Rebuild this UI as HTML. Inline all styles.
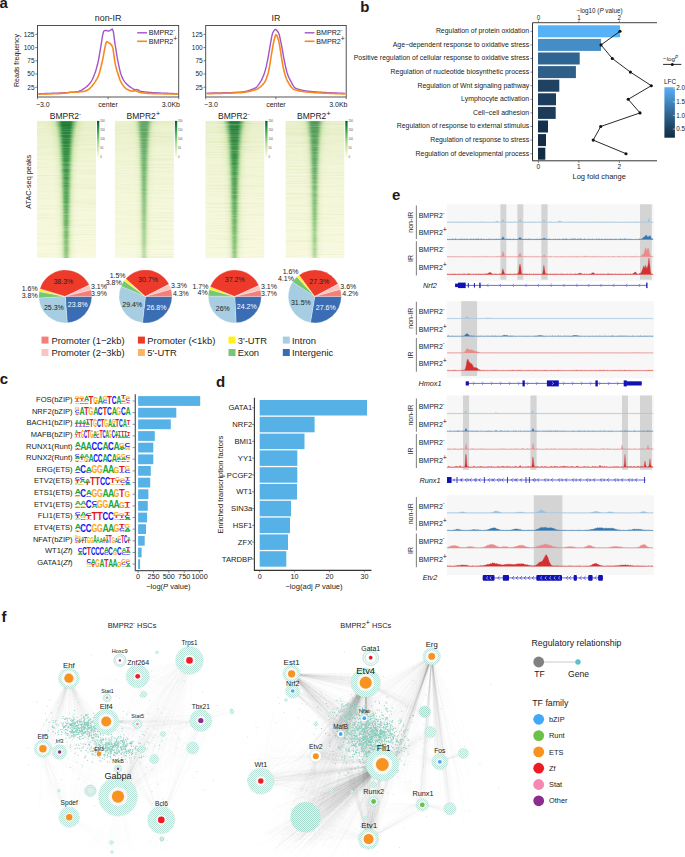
<!DOCTYPE html>
<html><head><meta charset="utf-8"><style>
html,body{margin:0;padding:0;background:#fff;}
body{width:685px;height:857px;overflow:hidden;}
svg{display:block;}
text{font-family:"Liberation Sans",sans-serif;}
</style></head><body>
<svg width="685" height="857" viewBox="0 0 685 857">
<defs><linearGradient id="hmbg" x1="0" y1="0" x2="0" y2="1">
<stop offset="0" stop-color="#e8efc8"/><stop offset="0.3" stop-color="#f1f5d4"/><stop offset="1" stop-color="#f8f9dd"/></linearGradient>
<linearGradient id="hmcore" x1="0" y1="0" x2="0" y2="1">
<stop offset="0" stop-color="#13702c"/><stop offset="0.25" stop-color="#27863b"/><stop offset="0.6" stop-color="#46a04c"/><stop offset="1" stop-color="#80c073"/></linearGradient>
<linearGradient id="hmmid" x1="0" y1="0" x2="0" y2="1">
<stop offset="0" stop-color="#4ea552"/><stop offset="0.5" stop-color="#7dbf6e"/><stop offset="1" stop-color="#b2d892"/></linearGradient>
<filter id="streaks" x="0" y="0" width="100%" height="100%"><feTurbulence type="fractalNoise" baseFrequency="0.02 1.3" numOctaves="1" seed="4"/><feColorMatrix values="0 0 0 0 1  0 0 0 0 1  0 0 0 0 0.95  2.6 0 0 0 -1.1"/></filter>
<filter id="streaksd" x="0" y="0" width="100%" height="100%"><feTurbulence type="fractalNoise" baseFrequency="0.015 1.1" numOctaves="1" seed="9"/><feColorMatrix values="0 0 0 0 0.3  0 0 0 0 0.5  0 0 0 0 0.2  3.0 0 0 0 -1.5"/></filter>
<linearGradient id="cbar" x1="0" y1="0" x2="0" y2="1">
<stop offset="0" stop-color="#005a2a"/><stop offset="0.3" stop-color="#41ab5d"/><stop offset="0.6" stop-color="#addd8e"/><stop offset="1" stop-color="#ffffe5"/></linearGradient>
<filter id="blur3" x="-50%" y="-5%" width="200%" height="110%"><feGaussianBlur stdDeviation="2.6 0.5"/></filter>
<filter id="blur2" x="-50%" y="-5%" width="200%" height="110%"><feGaussianBlur stdDeviation="1.6 0.5"/></filter>
<filter id="blur1" x="-50%" y="-5%" width="200%" height="110%"><feGaussianBlur stdDeviation="1.1 0.4"/></filter><linearGradient id="lfcg" x1="0" y1="0" x2="0" y2="1"><stop offset="0.0" stop-color="#56b1f7"/><stop offset="0.1" stop-color="#4fa2e3"/><stop offset="0.2" stop-color="#4894d0"/><stop offset="0.3" stop-color="#4186bd"/><stop offset="0.4" stop-color="#3a78aa"/><stop offset="0.5" stop-color="#336a98"/><stop offset="0.6" stop-color="#2c5d86"/><stop offset="0.7" stop-color="#265075"/><stop offset="0.8" stop-color="#1f4364"/><stop offset="0.9" stop-color="#193753"/><stop offset="1.0" stop-color="#132b43"/></linearGradient><pattern id="hatch" width="2" height="2" patternUnits="userSpaceOnUse"><rect width="2" height="2" fill="#f0f9f7"/><rect width="1" height="1" fill="#b9e3d8"/><rect x="1" y="1" width="1" height="1" fill="#b9e3d8"/></pattern>
<pattern id="hatch2" width="2" height="2" patternUnits="userSpaceOnUse"><rect width="2" height="2" fill="#e2f4ef"/><rect width="1" height="1" fill="#a6dbcd"/><rect x="1" y="1" width="1" height="1" fill="#a6dbcd"/></pattern></defs>
<text x="-0.6" y="7.9" font-size="15" font-weight="bold" fill="#231815">a</text>
<text x="108.1" y="21.2" font-size="8.9" text-anchor="middle" fill="#222" >non-IR</text>
<polyline points="38.5,93.7 39.2,93.7 39.9,93.7 40.6,93.7 41.3,93.6 42.0,93.6 42.7,93.6 43.4,93.6 44.1,93.6 44.8,93.5 45.5,93.5 46.2,93.5 46.9,93.5 47.5,93.5 48.2,93.4 48.9,93.4 49.6,93.4 50.3,93.4 51.0,93.4 51.7,93.3 52.4,93.3 53.1,93.3 53.8,93.3 54.5,93.2 55.2,93.2 55.9,93.2 56.6,93.2 57.3,93.1 58.0,93.1 58.7,93.1 59.4,93.0 60.1,93.0 60.8,93.0 61.5,92.9 62.2,92.9 62.9,92.9 63.6,92.8 64.3,92.8 64.9,92.8 65.6,92.7 66.3,92.7 67.0,92.6 67.7,92.6 68.4,92.5 69.1,92.5 69.8,92.4 70.5,92.4 71.2,92.3 71.9,92.3 72.6,92.2 73.3,92.2 74.0,92.1 74.7,92.0 75.4,91.9 76.1,91.9 76.8,91.8 77.5,91.6 78.2,91.5 78.9,91.3 79.6,91.0 80.3,90.7 81.0,90.4 81.7,90.0 82.3,89.6 83.0,89.2 83.7,88.7 84.4,88.3 85.1,87.8 85.8,87.3 86.5,86.7 87.2,86.1 87.9,85.5 88.6,84.8 89.3,84.0 90.0,83.1 90.7,82.2 91.4,81.1 92.1,79.8 92.8,78.4 93.5,76.8 94.2,75.1 94.9,73.3 95.6,71.2 96.3,68.9 97.0,66.3 97.7,63.5 98.4,60.4 99.1,57.0 99.7,53.2 100.4,49.2 101.1,44.8 101.8,40.5 102.5,35.9 103.2,32.8 103.9,31.0 104.6,30.6 105.3,30.5 106.0,30.4 106.7,30.5 107.4,30.8 108.1,31.1 108.8,31.0 109.5,30.7 110.2,30.3 110.9,30.0 111.6,29.4 112.3,29.1 113.0,30.4 113.7,33.7 114.4,39.4 115.1,44.4 115.8,48.6 116.5,52.8 117.1,56.9 117.8,60.6 118.5,64.1 119.2,67.3 119.9,70.5 120.6,73.2 121.3,75.2 122.0,76.9 122.7,78.4 123.4,79.8 124.1,80.9 124.8,81.9 125.5,82.8 126.2,83.6 126.9,84.3 127.6,84.9 128.3,85.5 129.0,86.1 129.7,86.6 130.4,87.1 131.1,87.6 131.8,88.0 132.5,88.5 133.2,88.9 133.9,89.3 134.5,89.5 135.2,89.6 135.9,89.6 136.6,89.5 137.3,89.6 138.0,89.9 138.7,90.4 139.4,90.9 140.1,91.1 140.8,91.3 141.5,91.4 142.2,91.6 142.9,91.7 143.6,91.8 144.3,91.9 145.0,92.0 145.7,92.0 146.4,92.1 147.1,92.2 147.8,92.2 148.5,92.3 149.2,92.4 149.9,92.4 150.6,92.5 151.3,92.5 151.9,92.6 152.6,92.6 153.3,92.7 154.0,92.7 154.7,92.7 155.4,92.8 156.1,92.8 156.8,92.9 157.5,92.9 158.2,92.9 158.9,93.0 159.6,93.0 160.3,93.0 161.0,93.1 161.7,93.1 162.4,93.1 163.1,93.1 163.8,93.2 164.5,93.2 165.2,93.2 165.9,93.3 166.6,93.3 167.3,93.3 168.0,93.3 168.7,93.4 169.3,93.4 170.0,93.4 170.7,93.4 171.4,93.5 172.1,93.5 172.8,93.5 173.5,93.5 174.2,93.6 174.9,93.6 175.6,93.6 176.3,93.7 177.0,93.7 177.7,93.7" fill="none" stroke="#a155c8" stroke-width="1.4"/>
<polyline points="38.5,94.1 39.2,94.1 39.9,94.1 40.6,94.1 41.3,94.0 42.0,94.0 42.7,94.0 43.4,94.0 44.1,94.0 44.8,94.0 45.5,94.0 46.2,94.0 46.9,93.9 47.5,93.9 48.2,93.9 48.9,93.9 49.6,93.9 50.3,93.9 51.0,93.9 51.7,93.8 52.4,93.8 53.1,93.8 53.8,93.8 54.5,93.8 55.2,93.7 55.9,93.7 56.6,93.7 57.3,93.7 58.0,93.6 58.7,93.6 59.4,93.6 60.1,93.5 60.8,93.5 61.5,93.4 62.2,93.4 62.9,93.3 63.6,93.3 64.3,93.2 64.9,93.2 65.6,93.1 66.3,93.0 67.0,92.9 67.7,92.8 68.4,92.7 69.1,92.5 69.8,92.3 70.5,92.2 71.2,92.2 71.9,92.2 72.6,92.2 73.3,92.2 74.0,92.2 74.7,92.2 75.4,92.2 76.1,92.1 76.8,92.1 77.5,92.1 78.2,92.0 78.9,92.0 79.6,91.9 80.3,91.8 81.0,91.8 81.7,91.7 82.3,91.6 83.0,91.5 83.7,91.3 84.4,91.2 85.1,91.1 85.8,90.9 86.5,90.6 87.2,90.2 87.9,89.8 88.6,89.4 89.3,88.8 90.0,88.2 90.7,87.5 91.4,86.7 92.1,85.9 92.8,85.0 93.5,84.1 94.2,83.1 94.9,82.1 95.6,81.0 96.3,79.9 97.0,78.7 97.7,77.4 98.4,75.8 99.1,74.1 99.7,72.0 100.4,69.3 101.1,66.4 101.8,63.5 102.5,60.4 103.2,57.1 103.9,53.1 104.6,49.4 105.3,46.0 106.0,43.0 106.7,41.7 107.4,41.9 108.1,42.3 108.8,42.8 109.5,43.2 110.2,43.7 110.9,44.3 111.6,45.2 112.3,46.5 113.0,48.6 113.7,53.6 114.4,58.8 115.1,63.0 115.8,66.4 116.5,69.0 117.1,71.2 117.8,73.2 118.5,75.4 119.2,77.6 119.9,79.7 120.6,81.5 121.3,82.7 122.0,83.9 122.7,84.9 123.4,85.9 124.1,86.8 124.8,87.5 125.5,88.2 126.2,88.8 126.9,89.3 127.6,89.6 128.3,89.9 129.0,90.2 129.7,90.5 130.4,90.7 131.1,90.9 131.8,91.0 132.5,91.1 133.2,91.1 133.9,90.9 134.5,90.6 135.2,90.6 135.9,90.9 136.6,91.2 137.3,91.5 138.0,91.8 138.7,92.1 139.4,92.3 140.1,92.4 140.8,92.6 141.5,92.7 142.2,92.8 142.9,92.9 143.6,93.0 144.3,93.0 145.0,93.1 145.7,93.2 146.4,93.3 147.1,93.3 147.8,93.4 148.5,93.4 149.2,93.4 149.9,93.5 150.6,93.5 151.3,93.5 151.9,93.6 152.6,93.6 153.3,93.6 154.0,93.6 154.7,93.6 155.4,93.7 156.1,93.7 156.8,93.7 157.5,93.7 158.2,93.7 158.9,93.8 159.6,93.8 160.3,93.8 161.0,93.8 161.7,93.8 162.4,93.8 163.1,93.8 163.8,93.9 164.5,93.9 165.2,93.9 165.9,93.9 166.6,93.9 167.3,93.9 168.0,93.9 168.7,93.9 169.3,94.0 170.0,94.0 170.7,94.0 171.4,94.0 172.1,94.0 172.8,94.0 173.5,94.0 174.2,94.0 174.9,94.0 175.6,94.1 176.3,94.1 177.0,94.1 177.7,94.1" fill="none" stroke="#f7891e" stroke-width="1.6"/>
<rect x="37.5" y="25.5" width="141.2" height="71.5" fill="none" stroke="#404040" stroke-width="0.9"/>
<line x1="35.3" y1="34.4" x2="37.5" y2="34.4" stroke="#404040" stroke-width="0.7"/>
<text x="34.5" y="36.7" font-size="6.5" text-anchor="end" fill="#222" >125</text>
<line x1="35.3" y1="47.6" x2="37.5" y2="47.6" stroke="#404040" stroke-width="0.7"/>
<text x="34.5" y="49.9" font-size="6.5" text-anchor="end" fill="#222" >100</text>
<line x1="35.3" y1="60.8" x2="37.5" y2="60.8" stroke="#404040" stroke-width="0.7"/>
<text x="34.5" y="63.1" font-size="6.5" text-anchor="end" fill="#222" >75</text>
<line x1="35.3" y1="74.0" x2="37.5" y2="74.0" stroke="#404040" stroke-width="0.7"/>
<text x="34.5" y="76.3" font-size="6.5" text-anchor="end" fill="#222" >50</text>
<line x1="35.3" y1="87.2" x2="37.5" y2="87.2" stroke="#404040" stroke-width="0.7"/>
<text x="34.5" y="89.5" font-size="6.5" text-anchor="end" fill="#222" >25</text>
<line x1="37.5" y1="97" x2="37.5" y2="99.3" stroke="#404040" stroke-width="0.7"/>
<line x1="108.1" y1="97" x2="108.1" y2="99.3" stroke="#404040" stroke-width="0.7"/>
<line x1="178.7" y1="97" x2="178.7" y2="99.3" stroke="#404040" stroke-width="0.7"/>
<text x="35.9" y="106.6" font-size="7.0" text-anchor="start" fill="#222" >−3.0</text>
<text x="108.1" y="106.6" font-size="7.0" text-anchor="middle" fill="#222" >center</text>
<text x="180.0" y="106.6" font-size="7.0" text-anchor="end" fill="#222" >3.0Kb</text>
<line x1="137.2" y1="32.8" x2="147.0" y2="32.8" stroke="#a155c8" stroke-width="1.4"/>
<line x1="137.2" y1="41.3" x2="147.0" y2="41.3" stroke="#f7891e" stroke-width="1.6"/>
<text x="148.8" y="35.3" font-size="7.1" text-anchor="start" fill="#222" >BMPR2<tspan font-size="5.6" dy="-3">-</tspan></text>
<text x="148.8" y="43.8" font-size="7.1" text-anchor="start" fill="#222" >BMPR2<tspan font-size="6.8" dy="-2.8">+</tspan></text>
<text x="275.9" y="21.2" font-size="8.9" text-anchor="middle" fill="#222" >IR</text>
<polyline points="206.7,93.2 207.4,93.2 208.1,93.2 208.8,93.1 209.5,93.1 210.2,93.1 210.9,93.1 211.5,93.1 212.2,93.1 212.9,93.0 213.6,93.0 214.3,93.0 215.0,93.0 215.7,93.0 216.4,93.0 217.1,93.0 217.8,92.9 218.5,92.9 219.2,92.9 219.9,92.9 220.5,92.9 221.2,92.9 221.9,92.9 222.6,92.8 223.3,92.8 224.0,92.8 224.7,92.8 225.4,92.8 226.1,92.8 226.8,92.7 227.5,92.7 228.2,92.7 228.9,92.7 229.6,92.7 230.2,92.6 230.9,92.6 231.6,92.6 232.3,92.6 233.0,92.5 233.7,92.5 234.4,92.5 235.1,92.4 235.8,92.4 236.5,92.4 237.2,92.3 237.9,92.3 238.6,92.3 239.2,92.2 239.9,92.2 240.6,92.1 241.3,92.1 242.0,92.0 242.7,91.9 243.4,91.8 244.1,91.7 244.8,91.6 245.5,91.4 246.2,91.3 246.9,91.1 247.6,90.9 248.2,90.7 248.9,90.5 249.6,90.3 250.3,90.0 251.0,89.8 251.7,89.5 252.4,89.2 253.1,89.0 253.8,88.7 254.5,88.3 255.2,88.0 255.9,87.6 256.6,87.1 257.3,86.4 257.9,85.6 258.6,84.6 259.3,83.7 260.0,82.6 260.7,81.5 261.4,80.3 262.1,78.9 262.8,77.3 263.5,75.6 264.2,73.8 264.9,71.6 265.6,69.1 266.3,66.4 266.9,63.4 267.6,60.1 268.3,56.4 269.0,52.3 269.7,48.2 270.4,44.1 271.1,40.2 271.8,36.4 272.5,33.5 273.2,32.0 273.9,30.8 274.6,29.9 275.3,29.5 275.9,29.6 276.6,30.1 277.3,31.0 278.0,32.0 278.7,33.2 279.4,35.3 280.1,38.5 280.8,41.8 281.5,45.2 282.2,48.8 282.9,52.9 283.6,57.0 284.3,60.6 285.0,63.8 285.6,66.8 286.3,69.8 287.0,72.5 287.7,74.6 288.4,76.4 289.1,78.0 289.8,79.4 290.5,80.7 291.2,82.0 291.9,83.3 292.6,84.6 293.3,85.9 294.0,86.9 294.6,87.7 295.3,88.0 296.0,88.3 296.7,88.6 297.4,88.9 298.1,89.1 298.8,89.3 299.5,89.5 300.2,89.7 300.9,89.9 301.6,90.1 302.3,90.2 303.0,90.4 303.6,90.5 304.3,90.6 305.0,90.8 305.7,90.9 306.4,91.0 307.1,91.1 307.8,91.1 308.5,91.2 309.2,91.3 309.9,91.4 310.6,91.4 311.3,91.5 312.0,91.6 312.7,91.6 313.3,91.7 314.0,91.8 314.7,91.8 315.4,91.9 316.1,91.9 316.8,92.0 317.5,92.0 318.2,92.1 318.9,92.1 319.6,92.2 320.3,92.2 321.0,92.3 321.7,92.3 322.3,92.4 323.0,92.4 323.7,92.4 324.4,92.5 325.1,92.5 325.8,92.5 326.5,92.6 327.2,92.6 327.9,92.6 328.6,92.7 329.3,92.7 330.0,92.7 330.7,92.8 331.4,92.8 332.0,92.8 332.7,92.9 333.4,92.9 334.1,92.9 334.8,93.0 335.5,93.0 336.2,93.0 336.9,93.0 337.6,93.1 338.3,93.1 339.0,93.1 339.7,93.2 340.4,93.2 341.0,93.2 341.7,93.3 342.4,93.3 343.1,93.3 343.8,93.4 344.5,93.4 345.2,93.4" fill="none" stroke="#a155c8" stroke-width="1.4"/>
<polyline points="206.7,93.7 207.4,93.7 208.1,93.7 208.8,93.7 209.5,93.6 210.2,93.6 210.9,93.6 211.5,93.6 212.2,93.6 212.9,93.6 213.6,93.5 214.3,93.5 215.0,93.5 215.7,93.5 216.4,93.5 217.1,93.5 217.8,93.4 218.5,93.4 219.2,93.4 219.9,93.4 220.5,93.4 221.2,93.4 221.9,93.4 222.6,93.3 223.3,93.3 224.0,93.3 224.7,93.3 225.4,93.3 226.1,93.2 226.8,93.2 227.5,93.2 228.2,93.2 228.9,93.2 229.6,93.1 230.2,93.1 230.9,93.1 231.6,93.1 232.3,93.0 233.0,93.0 233.7,93.0 234.4,93.0 235.1,92.9 235.8,92.9 236.5,92.9 237.2,92.8 237.9,92.8 238.6,92.7 239.2,92.7 239.9,92.7 240.6,92.6 241.3,92.6 242.0,92.5 242.7,92.4 243.4,92.4 244.1,92.3 244.8,92.2 245.5,92.1 246.2,92.0 246.9,91.8 247.6,91.7 248.2,91.6 248.9,91.4 249.6,91.3 250.3,91.1 251.0,91.0 251.7,90.8 252.4,90.6 253.1,90.4 253.8,90.2 254.5,90.0 255.2,89.8 255.9,89.6 256.6,89.3 257.3,89.0 257.9,88.6 258.6,88.2 259.3,87.7 260.0,87.2 260.7,86.6 261.4,85.9 262.1,85.2 262.8,84.4 263.5,83.6 264.2,82.8 264.9,81.8 265.6,80.5 266.3,78.9 266.9,77.0 267.6,74.9 268.3,72.4 269.0,69.3 269.7,65.7 270.4,61.1 271.1,56.5 271.8,52.4 272.5,48.4 273.2,44.3 273.9,41.0 274.6,38.3 275.3,36.1 275.9,34.9 276.6,35.2 277.3,36.6 278.0,38.7 278.7,41.0 279.4,44.1 280.1,48.3 280.8,52.8 281.5,57.7 282.2,61.9 282.9,65.7 283.6,69.0 284.3,72.1 285.0,74.5 285.6,76.6 286.3,78.5 287.0,80.1 287.7,81.5 288.4,82.7 289.1,83.9 289.8,85.0 290.5,86.0 291.2,87.0 291.9,87.8 292.6,88.5 293.3,89.1 294.0,89.5 294.6,89.7 295.3,89.9 296.0,90.1 296.7,90.3 297.4,90.5 298.1,90.6 298.8,90.8 299.5,90.9 300.2,91.1 300.9,91.2 301.6,91.3 302.3,91.4 303.0,91.5 303.6,91.6 304.3,91.7 305.0,91.8 305.7,91.9 306.4,91.9 307.1,92.0 307.8,92.1 308.5,92.1 309.2,92.2 309.9,92.3 310.6,92.3 311.3,92.4 312.0,92.4 312.7,92.5 313.3,92.5 314.0,92.6 314.7,92.6 315.4,92.7 316.1,92.7 316.8,92.8 317.5,92.8 318.2,92.8 318.9,92.9 319.6,92.9 320.3,93.0 321.0,93.0 321.7,93.0 322.3,93.1 323.0,93.1 323.7,93.1 324.4,93.2 325.1,93.2 325.8,93.2 326.5,93.2 327.2,93.3 327.9,93.3 328.6,93.3 329.3,93.4 330.0,93.4 330.7,93.4 331.4,93.4 332.0,93.5 332.7,93.5 333.4,93.5 334.1,93.5 334.8,93.6 335.5,93.6 336.2,93.6 336.9,93.6 337.6,93.7 338.3,93.7 339.0,93.7 339.7,93.7 340.4,93.8 341.0,93.8 341.7,93.8 342.4,93.9 343.1,93.9 343.8,93.9 344.5,93.9 345.2,94.0" fill="none" stroke="#f7891e" stroke-width="1.6"/>
<rect x="205.7" y="25.5" width="140.5" height="71.5" fill="none" stroke="#404040" stroke-width="0.9"/>
<line x1="203.5" y1="34.4" x2="205.7" y2="34.4" stroke="#404040" stroke-width="0.7"/>
<text x="202.7" y="36.7" font-size="6.5" text-anchor="end" fill="#222" >125</text>
<line x1="203.5" y1="47.6" x2="205.7" y2="47.6" stroke="#404040" stroke-width="0.7"/>
<text x="202.7" y="49.9" font-size="6.5" text-anchor="end" fill="#222" >100</text>
<line x1="203.5" y1="60.8" x2="205.7" y2="60.8" stroke="#404040" stroke-width="0.7"/>
<text x="202.7" y="63.1" font-size="6.5" text-anchor="end" fill="#222" >75</text>
<line x1="203.5" y1="74.0" x2="205.7" y2="74.0" stroke="#404040" stroke-width="0.7"/>
<text x="202.7" y="76.3" font-size="6.5" text-anchor="end" fill="#222" >50</text>
<line x1="203.5" y1="87.2" x2="205.7" y2="87.2" stroke="#404040" stroke-width="0.7"/>
<text x="202.7" y="89.5" font-size="6.5" text-anchor="end" fill="#222" >25</text>
<line x1="205.7" y1="97" x2="205.7" y2="99.3" stroke="#404040" stroke-width="0.7"/>
<line x1="275.9" y1="97" x2="275.9" y2="99.3" stroke="#404040" stroke-width="0.7"/>
<line x1="346.2" y1="97" x2="346.2" y2="99.3" stroke="#404040" stroke-width="0.7"/>
<text x="204.1" y="106.6" font-size="7.0" text-anchor="start" fill="#222" >−3.0</text>
<text x="275.9" y="106.6" font-size="7.0" text-anchor="middle" fill="#222" >center</text>
<text x="347.5" y="106.6" font-size="7.0" text-anchor="end" fill="#222" >3.0Kb</text>
<line x1="304.7" y1="32.8" x2="314.5" y2="32.8" stroke="#a155c8" stroke-width="1.4"/>
<line x1="304.7" y1="41.3" x2="314.5" y2="41.3" stroke="#f7891e" stroke-width="1.6"/>
<text x="316.3" y="35.3" font-size="7.1" text-anchor="start" fill="#222" >BMPR2<tspan font-size="5.6" dy="-3">-</tspan></text>
<text x="316.3" y="43.8" font-size="7.1" text-anchor="start" fill="#222" >BMPR2<tspan font-size="6.8" dy="-2.8">+</tspan></text>
<text x="0.0" y="0.0" font-size="7.0" text-anchor="middle" fill="#222" transform="translate(19.3,60.5) rotate(-90)">Reads frequency</text>
<rect x="37.0" y="120.9" width="59.0" height="137.1" fill="url(#hmbg)"/>
<clipPath id="hc0"><rect x="37.0" y="120.9" width="59.0" height="137.1"/></clipPath>
<g clip-path="url(#hc0)">
<polygon points="49.1,118.9 51.2,124.8 52.8,130.7 54.1,136.5 55.1,142.4 55.9,148.3 56.6,154.2 57.2,160.1 57.6,165.9 58.0,171.8 58.3,177.7 58.6,183.6 58.9,189.4 59.2,195.3 59.4,201.2 59.6,207.1 59.8,213.0 60.0,218.8 60.2,224.7 60.4,230.6 60.6,236.5 60.8,242.4 61.0,248.2 61.2,254.1 61.4,260.0 71.0,260.0 71.2,254.1 71.4,248.2 71.6,242.4 71.8,236.5 72.0,230.6 72.2,224.7 72.4,218.8 72.6,213.0 72.8,207.1 73.0,201.2 73.2,195.3 73.5,189.4 73.8,183.6 74.1,177.7 74.4,171.8 74.8,165.9 75.2,160.1 75.8,154.2 76.5,148.3 77.3,142.4 78.3,136.5 79.6,130.7 81.2,124.8 83.3,118.9" fill="#c4e29c" opacity="0.50" filter="url(#blur3)"/>
<polygon points="55.6,118.9 57.0,124.8 58.1,130.7 58.9,136.5 59.6,142.4 60.1,148.3 60.6,154.2 60.9,160.1 61.2,165.9 61.5,171.8 61.7,177.7 61.9,183.6 62.1,189.4 62.3,195.3 62.4,201.2 62.6,207.1 62.7,213.0 62.8,218.8 63.0,224.7 63.1,230.6 63.2,236.5 63.3,242.4 63.5,248.2 63.6,254.1 63.7,260.0 68.7,260.0 68.8,254.1 68.9,248.2 69.1,242.4 69.2,236.5 69.3,230.6 69.4,224.7 69.6,218.8 69.7,213.0 69.8,207.1 70.0,201.2 70.1,195.3 70.3,189.4 70.5,183.6 70.7,177.7 70.9,171.8 71.2,165.9 71.5,160.1 71.8,154.2 72.3,148.3 72.8,142.4 73.5,136.5 74.3,130.7 75.4,124.8 76.8,118.9" fill="url(#hmmid)" opacity="0.70" filter="url(#blur2)"/>
<polygon points="59.5,118.9 60.4,124.8 61.1,130.7 61.6,136.5 62.1,142.4 62.4,148.3 62.7,154.2 62.9,160.1 63.1,165.9 63.3,171.8 63.5,177.7 63.6,183.6 63.7,189.4 63.8,195.3 63.9,201.2 64.0,207.1 64.1,213.0 64.2,218.8 64.3,224.7 64.4,230.6 64.4,236.5 64.5,242.4 64.6,248.2 64.7,254.1 64.8,260.0 67.6,260.0 67.7,254.1 67.8,248.2 67.9,242.4 68.0,236.5 68.0,230.6 68.1,224.7 68.2,218.8 68.3,213.0 68.4,207.1 68.5,201.2 68.6,195.3 68.7,189.4 68.8,183.6 68.9,177.7 69.1,171.8 69.3,165.9 69.5,160.1 69.7,154.2 70.0,148.3 70.3,142.4 70.8,136.5 71.3,130.7 72.0,124.8 72.9,118.9" fill="url(#hmcore)" opacity="0.88" filter="url(#blur1)"/>
<rect x="37.0" y="120.9" width="59.0" height="137.1" filter="url(#streaksd)" opacity="0.12"/>
<rect x="37.0" y="120.9" width="59.0" height="137.1" filter="url(#streaks)" opacity="0.25"/>
</g>
<rect x="97.0" y="120.9" width="2.3" height="36.4" fill="url(#cbar)"/>
<text x="100.2" y="121.9" font-size="2.7" text-anchor="start" fill="#444" >200</text>
<text x="100.2" y="131.0" font-size="2.7" text-anchor="start" fill="#444" >150</text>
<text x="100.2" y="140.0" font-size="2.7" text-anchor="start" fill="#444" >100</text>
<text x="100.2" y="149.1" font-size="2.7" text-anchor="start" fill="#444" >50</text>
<text x="100.2" y="158.1" font-size="2.7" text-anchor="start" fill="#444" >0</text>
<text x="65.5" y="119.4" font-size="8.5" text-anchor="middle" fill="#222" >BMPR2<tspan font-size="6.2" dy="-3.4">-</tspan></text>
<rect x="114.9" y="120.9" width="59.0" height="137.1" fill="url(#hmbg)"/>
<clipPath id="hc1"><rect x="114.9" y="120.9" width="59.0" height="137.1"/></clipPath>
<g clip-path="url(#hc1)">
<polygon points="131.1,118.9 132.7,124.8 133.9,130.7 134.9,136.5 135.7,142.4 136.3,148.3 136.8,154.2 137.2,160.1 137.6,165.9 137.9,171.8 138.1,177.7 138.4,183.6 138.6,189.4 138.8,195.3 138.9,201.2 139.1,207.1 139.3,213.0 139.4,218.8 139.6,224.7 139.7,230.6 139.9,236.5 140.0,242.4 140.2,248.2 140.3,254.1 140.4,260.0 147.8,260.0 147.9,254.1 148.0,248.2 148.2,242.4 148.3,236.5 148.5,230.6 148.6,224.7 148.8,218.8 148.9,213.0 149.1,207.1 149.3,201.2 149.4,195.3 149.6,189.4 149.8,183.6 150.1,177.7 150.3,171.8 150.6,165.9 151.0,160.1 151.4,154.2 151.9,148.3 152.5,142.4 153.3,136.5 154.3,130.7 155.5,124.8 157.1,118.9" fill="#c4e29c" opacity="0.29" filter="url(#blur3)"/>
<polygon points="136.0,118.9 137.1,124.8 137.9,130.7 138.6,136.5 139.1,142.4 139.5,148.3 139.8,154.2 140.1,160.1 140.3,165.9 140.5,171.8 140.7,177.7 140.8,183.6 141.0,189.4 141.1,195.3 141.2,201.2 141.3,207.1 141.4,213.0 141.5,218.8 141.6,224.7 141.7,230.6 141.8,236.5 141.9,242.4 142.0,248.2 142.1,254.1 142.2,260.0 146.0,260.0 146.1,254.1 146.2,248.2 146.3,242.4 146.4,236.5 146.5,230.6 146.6,224.7 146.7,218.8 146.8,213.0 146.9,207.1 147.0,201.2 147.1,195.3 147.2,189.4 147.4,183.6 147.5,177.7 147.7,171.8 147.9,165.9 148.1,160.1 148.4,154.2 148.7,148.3 149.1,142.4 149.6,136.5 150.3,130.7 151.1,124.8 152.2,118.9" fill="url(#hmmid)" opacity="0.41" filter="url(#blur2)"/>
<polygon points="139.0,118.9 139.7,124.8 140.2,130.7 140.6,136.5 141.0,142.4 141.2,148.3 141.4,154.2 141.6,160.1 141.8,165.9 141.9,171.8 142.0,177.7 142.1,183.6 142.2,189.4 142.3,195.3 142.4,201.2 142.4,207.1 142.5,213.0 142.6,218.8 142.6,224.7 142.7,230.6 142.8,236.5 142.8,242.4 142.9,248.2 143.0,254.1 143.0,260.0 145.2,260.0 145.2,254.1 145.3,248.2 145.4,242.4 145.4,236.5 145.5,230.6 145.6,224.7 145.6,218.8 145.7,213.0 145.8,207.1 145.8,201.2 145.9,195.3 146.0,189.4 146.1,183.6 146.2,177.7 146.3,171.8 146.4,165.9 146.6,160.1 146.8,154.2 147.0,148.3 147.2,142.4 147.6,136.5 148.0,130.7 148.5,124.8 149.2,118.9" fill="url(#hmcore)" opacity="0.51" filter="url(#blur1)"/>
<rect x="114.9" y="120.9" width="59.0" height="137.1" filter="url(#streaksd)" opacity="0.12"/>
<rect x="114.9" y="120.9" width="59.0" height="137.1" filter="url(#streaks)" opacity="0.25"/>
</g>
<rect x="174.9" y="120.9" width="2.3" height="36.4" fill="url(#cbar)"/>
<text x="178.1" y="121.9" font-size="2.7" text-anchor="start" fill="#444" >200</text>
<text x="178.1" y="131.0" font-size="2.7" text-anchor="start" fill="#444" >150</text>
<text x="178.1" y="140.0" font-size="2.7" text-anchor="start" fill="#444" >100</text>
<text x="178.1" y="149.1" font-size="2.7" text-anchor="start" fill="#444" >50</text>
<text x="178.1" y="158.1" font-size="2.7" text-anchor="start" fill="#444" >0</text>
<text x="143.4" y="119.4" font-size="8.5" text-anchor="middle" fill="#222" >BMPR2<tspan font-size="7.8" dy="-3">+</tspan></text>
<rect x="205.5" y="120.9" width="58.7" height="137.1" fill="url(#hmbg)"/>
<clipPath id="hc2"><rect x="205.5" y="120.9" width="58.7" height="137.1"/></clipPath>
<g clip-path="url(#hc2)">
<polygon points="218.3,118.9 220.3,124.8 221.8,130.7 223.1,136.5 224.0,142.4 224.8,148.3 225.4,154.2 226.0,160.1 226.4,165.9 226.8,171.8 227.1,177.7 227.4,183.6 227.6,189.4 227.9,195.3 228.1,201.2 228.3,207.1 228.5,213.0 228.7,218.8 228.9,224.7 229.1,230.6 229.3,236.5 229.4,242.4 229.6,248.2 229.8,254.1 230.0,260.0 239.1,260.0 239.3,254.1 239.5,248.2 239.7,242.4 239.8,236.5 240.0,230.6 240.2,224.7 240.4,218.8 240.6,213.0 240.8,207.1 241.0,201.2 241.2,195.3 241.5,189.4 241.7,183.6 242.0,177.7 242.3,171.8 242.7,165.9 243.1,160.1 243.7,154.2 244.3,148.3 245.1,142.4 246.0,136.5 247.3,130.7 248.8,124.8 250.8,118.9" fill="#c4e29c" opacity="0.47" filter="url(#blur3)"/>
<polygon points="224.5,118.9 225.8,124.8 226.8,130.7 227.6,136.5 228.3,142.4 228.8,148.3 229.2,154.2 229.5,160.1 229.8,165.9 230.1,171.8 230.3,177.7 230.5,183.6 230.6,189.4 230.8,195.3 230.9,201.2 231.1,207.1 231.2,213.0 231.4,218.8 231.5,224.7 231.6,230.6 231.7,236.5 231.8,242.4 232.0,248.2 232.1,254.1 232.2,260.0 236.9,260.0 237.0,254.1 237.1,248.2 237.3,242.4 237.4,236.5 237.5,230.6 237.6,224.7 237.7,218.8 237.9,213.0 238.0,207.1 238.2,201.2 238.3,195.3 238.5,189.4 238.6,183.6 238.8,177.7 239.0,171.8 239.3,165.9 239.6,160.1 239.9,154.2 240.3,148.3 240.8,142.4 241.5,136.5 242.3,130.7 243.3,124.8 244.6,118.9" fill="url(#hmmid)" opacity="0.66" filter="url(#blur2)"/>
<polygon points="228.1,118.9 229.0,124.8 229.7,130.7 230.2,136.5 230.6,142.4 231.0,148.3 231.2,154.2 231.5,160.1 231.6,165.9 231.8,171.8 231.9,177.7 232.1,183.6 232.2,189.4 232.3,195.3 232.4,201.2 232.5,207.1 232.6,213.0 232.6,218.8 232.7,224.7 232.8,230.6 232.9,236.5 233.0,242.4 233.0,248.2 233.1,254.1 233.2,260.0 235.9,260.0 236.0,254.1 236.1,248.2 236.1,242.4 236.2,236.5 236.3,230.6 236.4,224.7 236.5,218.8 236.5,213.0 236.6,207.1 236.7,201.2 236.8,195.3 236.9,189.4 237.0,183.6 237.2,177.7 237.3,171.8 237.5,165.9 237.6,160.1 237.9,154.2 238.1,148.3 238.5,142.4 238.9,136.5 239.4,130.7 240.1,124.8 241.0,118.9" fill="url(#hmcore)" opacity="0.84" filter="url(#blur1)"/>
<rect x="205.5" y="120.9" width="58.7" height="137.1" filter="url(#streaksd)" opacity="0.12"/>
<rect x="205.5" y="120.9" width="58.7" height="137.1" filter="url(#streaks)" opacity="0.25"/>
</g>
<rect x="265.2" y="120.9" width="2.3" height="36.4" fill="url(#cbar)"/>
<text x="268.4" y="121.9" font-size="2.7" text-anchor="start" fill="#444" >200</text>
<text x="268.4" y="131.0" font-size="2.7" text-anchor="start" fill="#444" >150</text>
<text x="268.4" y="140.0" font-size="2.7" text-anchor="start" fill="#444" >100</text>
<text x="268.4" y="149.1" font-size="2.7" text-anchor="start" fill="#444" >50</text>
<text x="268.4" y="158.1" font-size="2.7" text-anchor="start" fill="#444" >0</text>
<text x="233.8" y="119.4" font-size="8.5" text-anchor="middle" fill="#222" >BMPR2<tspan font-size="6.2" dy="-3.4">-</tspan></text>
<rect x="285.6" y="120.9" width="58.7" height="137.1" fill="url(#hmbg)"/>
<clipPath id="hc3"><rect x="285.6" y="120.9" width="58.7" height="137.1"/></clipPath>
<g clip-path="url(#hc3)">
<polygon points="301.0,118.9 302.6,124.8 303.9,130.7 305.0,136.5 305.8,142.4 306.4,148.3 307.0,154.2 307.4,160.1 307.8,165.9 308.1,171.8 308.4,177.7 308.6,183.6 308.8,189.4 309.0,195.3 309.2,201.2 309.4,207.1 309.6,213.0 309.7,218.8 309.9,224.7 310.0,230.6 310.2,236.5 310.4,242.4 310.5,248.2 310.7,254.1 310.8,260.0 318.5,260.0 318.6,254.1 318.8,248.2 318.9,242.4 319.1,236.5 319.3,230.6 319.4,224.7 319.6,218.8 319.7,213.0 319.9,207.1 320.1,201.2 320.3,195.3 320.5,189.4 320.7,183.6 320.9,177.7 321.2,171.8 321.5,165.9 321.9,160.1 322.3,154.2 322.9,148.3 323.5,142.4 324.3,136.5 325.4,130.7 326.7,124.8 328.3,118.9" fill="#c4e29c" opacity="0.32" filter="url(#blur3)"/>
<polygon points="306.2,118.9 307.3,124.8 308.1,130.7 308.8,136.5 309.4,142.4 309.8,148.3 310.1,154.2 310.4,160.1 310.7,165.9 310.9,171.8 311.1,177.7 311.2,183.6 311.4,189.4 311.5,195.3 311.6,201.2 311.7,207.1 311.8,213.0 312.0,218.8 312.1,224.7 312.2,230.6 312.3,236.5 312.4,242.4 312.5,248.2 312.6,254.1 312.7,260.0 316.6,260.0 316.7,254.1 316.8,248.2 316.9,242.4 317.0,236.5 317.1,230.6 317.2,224.7 317.3,218.8 317.5,213.0 317.6,207.1 317.7,201.2 317.8,195.3 317.9,189.4 318.1,183.6 318.2,177.7 318.4,171.8 318.6,165.9 318.9,160.1 319.2,154.2 319.5,148.3 319.9,142.4 320.5,136.5 321.2,130.7 322.0,124.8 323.1,118.9" fill="url(#hmmid)" opacity="0.45" filter="url(#blur2)"/>
<polygon points="309.3,118.9 310.0,124.8 310.5,130.7 311.0,136.5 311.3,142.4 311.6,148.3 311.9,154.2 312.0,160.1 312.2,165.9 312.3,171.8 312.5,177.7 312.6,183.6 312.7,189.4 312.7,195.3 312.8,201.2 312.9,207.1 313.0,213.0 313.0,218.8 313.1,224.7 313.2,230.6 313.2,236.5 313.3,242.4 313.4,248.2 313.4,254.1 313.5,260.0 315.8,260.0 315.9,254.1 315.9,248.2 316.0,242.4 316.1,236.5 316.1,230.6 316.2,224.7 316.3,218.8 316.3,213.0 316.4,207.1 316.5,201.2 316.6,195.3 316.6,189.4 316.7,183.6 316.8,177.7 317.0,171.8 317.1,165.9 317.3,160.1 317.4,154.2 317.7,148.3 318.0,142.4 318.3,136.5 318.8,130.7 319.3,124.8 320.0,118.9" fill="url(#hmcore)" opacity="0.56" filter="url(#blur1)"/>
<rect x="285.6" y="120.9" width="58.7" height="137.1" filter="url(#streaksd)" opacity="0.12"/>
<rect x="285.6" y="120.9" width="58.7" height="137.1" filter="url(#streaks)" opacity="0.25"/>
</g>
<rect x="345.3" y="120.9" width="2.3" height="36.4" fill="url(#cbar)"/>
<text x="348.5" y="121.9" font-size="2.7" text-anchor="start" fill="#444" >200</text>
<text x="348.5" y="131.0" font-size="2.7" text-anchor="start" fill="#444" >150</text>
<text x="348.5" y="140.0" font-size="2.7" text-anchor="start" fill="#444" >100</text>
<text x="348.5" y="149.1" font-size="2.7" text-anchor="start" fill="#444" >50</text>
<text x="348.5" y="158.1" font-size="2.7" text-anchor="start" fill="#444" >0</text>
<text x="314.0" y="119.4" font-size="8.5" text-anchor="middle" fill="#222" >BMPR2<tspan font-size="7.8" dy="-3">+</tspan></text>
<text x="0.0" y="0.0" font-size="7.3" text-anchor="middle" fill="#222" transform="translate(31.4,181.8) rotate(-90)">ATAC-seq peaks</text>
<path d="M65.30,296.40 L91.80,296.40 A26.5,26.5 0 0 1 67.30,322.82 Z" fill="#3a6db3" stroke="#fff" stroke-width="0.25"/>
<path d="M65.30,296.40 L67.30,322.82 A26.5,26.5 0 0 1 38.84,297.90 Z" fill="#a6cde2" stroke="#fff" stroke-width="0.25"/>
<path d="M65.30,296.40 L38.84,297.90 A26.5,26.5 0 0 1 39.24,291.60 Z" fill="#77c677" stroke="#fff" stroke-width="0.25"/>
<path d="M65.30,296.40 L39.24,291.60 A26.5,26.5 0 0 1 39.85,289.01 Z" fill="#fff21a" stroke="#fff" stroke-width="0.25"/>
<path d="M65.30,296.40 L39.85,289.01 A26.5,26.5 0 0 1 39.95,288.69 Z" fill="#fdb462" stroke="#fff" stroke-width="0.25"/>
<path d="M65.30,296.40 L39.95,288.69 A26.5,26.5 0 0 1 89.28,285.12 Z" fill="#ee3a2a" stroke="#fff" stroke-width="0.25"/>
<path d="M65.30,296.40 L89.28,285.12 A26.5,26.5 0 0 1 91.01,289.97 Z" fill="#fbc4c2" stroke="#fff" stroke-width="0.25"/>
<path d="M65.30,296.40 L91.01,289.97 A26.5,26.5 0 0 1 91.80,296.40 Z" fill="#f28079" stroke="#fff" stroke-width="0.25"/>
<text x="63.4" y="283.5" font-size="7.0" text-anchor="middle" fill="#222" >38.3%</text>
<text x="53.9" y="309.8" font-size="7.0" text-anchor="middle" fill="#222" >25.3%</text>
<text x="77.8" y="306.8" font-size="7.0" text-anchor="middle" fill="#fff" >23.8%</text>
<text x="91.0" y="288.5" font-size="7.0" text-anchor="start" fill="#222" >3.1%</text>
<text x="91.0" y="295.8" font-size="7.0" text-anchor="start" fill="#222" >3.9%</text>
<text x="37.7" y="291.4" font-size="7.0" text-anchor="end" fill="#222" >1.6%</text>
<text x="37.7" y="298.0" font-size="7.0" text-anchor="end" fill="#222" >3.8%</text>
<path d="M145.50,296.40 L172.00,296.40 A26.5,26.5 0 0 1 142.51,322.73 Z" fill="#3a6db3" stroke="#fff" stroke-width="0.25"/>
<path d="M145.50,296.40 L142.51,322.73 A26.5,26.5 0 0 1 120.99,286.34 Z" fill="#a6cde2" stroke="#fff" stroke-width="0.25"/>
<path d="M145.50,296.40 L120.99,286.34 A26.5,26.5 0 0 1 124.06,280.82 Z" fill="#77c677" stroke="#fff" stroke-width="0.25"/>
<path d="M145.50,296.40 L124.06,280.82 A26.5,26.5 0 0 1 125.62,278.88 Z" fill="#fff21a" stroke="#fff" stroke-width="0.25"/>
<path d="M145.50,296.40 L125.62,278.88 A26.5,26.5 0 0 1 125.84,278.63 Z" fill="#fdb462" stroke="#fff" stroke-width="0.25"/>
<path d="M145.50,296.40 L125.84,278.63 A26.5,26.5 0 0 1 169.04,284.22 Z" fill="#ee3a2a" stroke="#fff" stroke-width="0.25"/>
<path d="M145.50,296.40 L169.04,284.22 A26.5,26.5 0 0 1 171.04,289.33 Z" fill="#fbc4c2" stroke="#fff" stroke-width="0.25"/>
<path d="M145.50,296.40 L171.04,289.33 A26.5,26.5 0 0 1 172.00,296.40 Z" fill="#f28079" stroke="#fff" stroke-width="0.25"/>
<text x="148.0" y="282.2" font-size="7.0" text-anchor="middle" fill="#222" >30.7%</text>
<text x="132.2" y="306.5" font-size="7.0" text-anchor="middle" fill="#222" >29.4%</text>
<text x="156.5" y="310.2" font-size="7.0" text-anchor="middle" fill="#fff" >26.8%</text>
<text x="171.0" y="288.1" font-size="7.0" text-anchor="start" fill="#222" >3.3%</text>
<text x="172.9" y="296.0" font-size="7.0" text-anchor="start" fill="#222" >4.3%</text>
<text x="125.6" y="277.6" font-size="7.0" text-anchor="end" fill="#222" >1.5%</text>
<text x="121.7" y="284.9" font-size="7.0" text-anchor="end" fill="#222" >3.8%</text>
<path d="M234.80,296.40 L261.30,296.40 A26.5,26.5 0 0 1 236.13,322.87 Z" fill="#3a6db3" stroke="#fff" stroke-width="0.25"/>
<path d="M234.80,296.40 L236.13,322.87 A26.5,26.5 0 0 1 208.30,296.07 Z" fill="#a6cde2" stroke="#fff" stroke-width="0.25"/>
<path d="M234.80,296.40 L208.30,296.07 A26.5,26.5 0 0 1 209.22,289.49 Z" fill="#77c677" stroke="#fff" stroke-width="0.25"/>
<path d="M234.80,296.40 L209.22,289.49 A26.5,26.5 0 0 1 210.10,286.80 Z" fill="#fff21a" stroke="#fff" stroke-width="0.25"/>
<path d="M234.80,296.40 L210.10,286.80 A26.5,26.5 0 0 1 210.16,286.64 Z" fill="#fdb462" stroke="#fff" stroke-width="0.25"/>
<path d="M234.80,296.40 L210.16,286.64 A26.5,26.5 0 0 1 258.92,285.42 Z" fill="#ee3a2a" stroke="#fff" stroke-width="0.25"/>
<path d="M234.80,296.40 L258.92,285.42 A26.5,26.5 0 0 1 260.59,290.29 Z" fill="#fbc4c2" stroke="#fff" stroke-width="0.25"/>
<path d="M234.80,296.40 L260.59,290.29 A26.5,26.5 0 0 1 261.30,296.40 Z" fill="#f28079" stroke="#fff" stroke-width="0.25"/>
<text x="234.7" y="282.2" font-size="7.0" text-anchor="middle" fill="#222" >37.2%</text>
<text x="222.8" y="310.5" font-size="7.0" text-anchor="middle" fill="#222" >26%</text>
<text x="246.8" y="309.2" font-size="7.0" text-anchor="middle" fill="#fff" >24.2%</text>
<text x="261.0" y="289.2" font-size="7.0" text-anchor="start" fill="#222" >3.1%</text>
<text x="261.0" y="296.0" font-size="7.0" text-anchor="start" fill="#222" >3.7%</text>
<text x="208.4" y="288.5" font-size="7.0" text-anchor="end" fill="#222" >1.7%</text>
<text x="207.7" y="295.4" font-size="7.0" text-anchor="end" fill="#222" >4%</text>
<path d="M314.80,296.40 L341.30,296.40 A26.5,26.5 0 0 1 310.49,322.55 Z" fill="#3a6db3" stroke="#fff" stroke-width="0.25"/>
<path d="M314.80,296.40 L310.49,322.55 A26.5,26.5 0 0 1 292.51,282.06 Z" fill="#a6cde2" stroke="#fff" stroke-width="0.25"/>
<path d="M314.80,296.40 L292.51,282.06 A26.5,26.5 0 0 1 296.90,276.86 Z" fill="#77c677" stroke="#fff" stroke-width="0.25"/>
<path d="M314.80,296.40 L296.90,276.86 A26.5,26.5 0 0 1 298.96,275.16 Z" fill="#fff21a" stroke="#fff" stroke-width="0.25"/>
<path d="M314.80,296.40 L298.96,275.16 A26.5,26.5 0 0 1 299.09,275.06 Z" fill="#fdb462" stroke="#fff" stroke-width="0.25"/>
<path d="M314.80,296.40 L299.09,275.06 A26.5,26.5 0 0 1 338.18,283.93 Z" fill="#ee3a2a" stroke="#fff" stroke-width="0.25"/>
<path d="M314.80,296.40 L338.18,283.93 A26.5,26.5 0 0 1 340.38,289.49 Z" fill="#fbc4c2" stroke="#fff" stroke-width="0.25"/>
<path d="M314.80,296.40 L340.38,289.49 A26.5,26.5 0 0 1 341.30,296.40 Z" fill="#f28079" stroke="#fff" stroke-width="0.25"/>
<text x="319.3" y="283.9" font-size="7.0" text-anchor="middle" fill="#222" >27.3%</text>
<text x="300.9" y="304.6" font-size="7.0" text-anchor="middle" fill="#222" >31.5%</text>
<text x="325.8" y="309.8" font-size="7.0" text-anchor="middle" fill="#fff" >27.6%</text>
<text x="340.3" y="288.5" font-size="7.0" text-anchor="start" fill="#222" >3.6%</text>
<text x="342.3" y="296.0" font-size="7.0" text-anchor="start" fill="#222" >4.2%</text>
<text x="298.6" y="274.0" font-size="7.0" text-anchor="end" fill="#222" >1.6%</text>
<text x="293.9" y="280.9" font-size="7.0" text-anchor="end" fill="#222" >4.1%</text>
<rect x="41.5" y="336.6" width="7" height="7" fill="#f28079"/>
<text x="51.4" y="343.5" font-size="9.4" text-anchor="start" fill="#222" >Promoter (1−2kb)</text>
<rect x="41.5" y="349.0" width="7" height="7" fill="#fbc4c2"/>
<text x="51.4" y="355.9" font-size="9.4" text-anchor="start" fill="#222" >Promoter (2−3kb)</text>
<rect x="137.9" y="336.6" width="7" height="7" fill="#ee3a2a"/>
<text x="147.3" y="343.5" font-size="9.4" text-anchor="start" fill="#222" >Promoter (&lt;1kb)</text>
<rect x="137.9" y="349.0" width="7" height="7" fill="#fdb462"/>
<text x="147.3" y="355.9" font-size="9.4" text-anchor="start" fill="#222" >5'-UTR</text>
<rect x="228.5" y="336.6" width="7" height="7" fill="#fff21a"/>
<text x="237.7" y="343.5" font-size="9.4" text-anchor="start" fill="#222" >3'-UTR</text>
<rect x="228.5" y="349.0" width="7" height="7" fill="#77c677"/>
<text x="237.7" y="355.9" font-size="9.4" text-anchor="start" fill="#222" >Exon</text>
<rect x="282.8" y="336.6" width="7" height="7" fill="#a6cde2"/>
<text x="292.0" y="343.5" font-size="9.4" text-anchor="start" fill="#222" >Intron</text>
<rect x="282.8" y="349.0" width="7" height="7" fill="#3a6db3"/>
<text x="292.0" y="355.9" font-size="9.4" text-anchor="start" fill="#222" >Intergenic</text>
<text x="360.2" y="12.2" font-size="15" font-weight="bold" fill="#231815">b</text>
<rect x="538.0" y="25.3" width="82.0" height="12" fill="#56b1f7"/>
<text x="529.2" y="33.2" font-size="6.92" text-anchor="end" fill="#222" >Regulation of protein oxidation</text>
<line x1="530.4" y1="31.3" x2="532.7" y2="31.3" stroke="#444" stroke-width="0.6"/>
<rect x="538.0" y="38.9" width="63.0" height="12" fill="#448dc6"/>
<text x="529.2" y="46.8" font-size="6.92" text-anchor="end" fill="#222" >Age−dependent response to oxidative stress</text>
<line x1="530.4" y1="44.9" x2="532.7" y2="44.9" stroke="#444" stroke-width="0.6"/>
<rect x="538.0" y="52.5" width="41.7" height="12" fill="#306592"/>
<text x="529.2" y="60.4" font-size="6.92" text-anchor="end" fill="#222" >Positive regulation of cellular response to oxidative stress</text>
<line x1="530.4" y1="58.5" x2="532.7" y2="58.5" stroke="#444" stroke-width="0.6"/>
<rect x="538.0" y="66.1" width="37.9" height="12" fill="#2d5f89"/>
<text x="529.2" y="74.0" font-size="6.92" text-anchor="end" fill="#222" >Regulation of nucleotide biosynthetic process</text>
<line x1="530.4" y1="72.1" x2="532.7" y2="72.1" stroke="#444" stroke-width="0.6"/>
<rect x="538.0" y="79.7" width="21.3" height="12" fill="#1f4262"/>
<text x="529.2" y="87.6" font-size="6.92" text-anchor="end" fill="#222" >Regulation of Wnt signaling pathway</text>
<line x1="530.4" y1="85.7" x2="532.7" y2="85.7" stroke="#444" stroke-width="0.6"/>
<rect x="538.0" y="93.3" width="18.0" height="12" fill="#1c3d5b"/>
<text x="529.2" y="101.2" font-size="6.92" text-anchor="end" fill="#222" >Lymphocyte activation</text>
<line x1="530.4" y1="99.3" x2="532.7" y2="99.3" stroke="#444" stroke-width="0.6"/>
<rect x="538.0" y="106.9" width="17.7" height="12" fill="#1c3c5a"/>
<text x="529.2" y="114.8" font-size="6.92" text-anchor="end" fill="#222" >Cell−cell adhesion</text>
<line x1="530.4" y1="112.9" x2="532.7" y2="112.9" stroke="#444" stroke-width="0.6"/>
<rect x="538.0" y="120.5" width="10.0" height="12" fill="#15304a"/>
<text x="529.2" y="128.4" font-size="6.92" text-anchor="end" fill="#222" >Regulation of response to external stimulus</text>
<line x1="530.4" y1="126.5" x2="532.7" y2="126.5" stroke="#444" stroke-width="0.6"/>
<rect x="538.0" y="134.1" width="8.0" height="12" fill="#142d45"/>
<text x="529.2" y="142.0" font-size="6.92" text-anchor="end" fill="#222" >Regulation of response to stress</text>
<line x1="530.4" y1="140.1" x2="532.7" y2="140.1" stroke="#444" stroke-width="0.6"/>
<rect x="538.0" y="147.7" width="7.3" height="12" fill="#132c44"/>
<text x="529.2" y="155.6" font-size="6.92" text-anchor="end" fill="#222" >Regulation of developmental process</text>
<line x1="530.4" y1="153.7" x2="532.7" y2="153.7" stroke="#444" stroke-width="0.6"/>
<polyline points="532.5,22.7 532.5,160.8 657,160.8" fill="none" stroke="#333" stroke-width="1.0"/>
<line x1="532.5" y1="22.6" x2="657" y2="22.6" stroke="#666" stroke-width="1.2"/>
<line x1="538.4" y1="20.5" x2="538.4" y2="22.7" stroke="#444" stroke-width="0.6"/>
<line x1="538.4" y1="160.8" x2="538.4" y2="163" stroke="#444" stroke-width="0.6"/>
<text x="538.4" y="19.6" font-size="6.3" text-anchor="middle" fill="#222" >0</text>
<text x="538.4" y="169.2" font-size="6.5" text-anchor="middle" fill="#222" >0</text>
<line x1="578.9" y1="20.5" x2="578.9" y2="22.7" stroke="#444" stroke-width="0.6"/>
<line x1="578.9" y1="160.8" x2="578.9" y2="163" stroke="#444" stroke-width="0.6"/>
<text x="578.9" y="19.6" font-size="6.3" text-anchor="middle" fill="#222" >1</text>
<text x="578.9" y="169.2" font-size="6.5" text-anchor="middle" fill="#222" >1</text>
<line x1="619.3" y1="20.5" x2="619.3" y2="22.7" stroke="#444" stroke-width="0.6"/>
<line x1="619.3" y1="160.8" x2="619.3" y2="163" stroke="#444" stroke-width="0.6"/>
<text x="619.3" y="19.6" font-size="6.3" text-anchor="middle" fill="#222" >2</text>
<text x="619.3" y="169.2" font-size="6.5" text-anchor="middle" fill="#222" >2</text>
<text x="599.5" y="12.6" font-size="6.3" text-anchor="middle" fill="#222" >−log10 (<tspan font-style="italic">P</tspan> value)</text>
<text x="599.2" y="178.6" font-size="7.5" text-anchor="middle" fill="#222" >Log fold change</text>
<polyline points="620.0,31.3 601.0,44.9 612.3,58.5 630.4,72.1 651.3,85.7 628.2,99.3 640.0,112.9 600.7,126.5 593.2,140.1 626.0,153.7" fill="none" stroke="#111" stroke-width="0.9"/>
<circle cx="620.0" cy="31.3" r="1.55" fill="#111"/>
<circle cx="601.0" cy="44.9" r="1.55" fill="#111"/>
<circle cx="612.3" cy="58.5" r="1.55" fill="#111"/>
<circle cx="630.4" cy="72.1" r="1.55" fill="#111"/>
<circle cx="651.3" cy="85.7" r="1.55" fill="#111"/>
<circle cx="628.2" cy="99.3" r="1.55" fill="#111"/>
<circle cx="640.0" cy="112.9" r="1.55" fill="#111"/>
<circle cx="600.7" cy="126.5" r="1.55" fill="#111"/>
<circle cx="593.2" cy="140.1" r="1.55" fill="#111"/>
<circle cx="626.0" cy="153.7" r="1.55" fill="#111"/>
<text x="663.1" y="60.5" font-size="6.2" text-anchor="start" fill="#222" >−log<tspan font-size="4.5" dy="-2" font-style="italic">P</tspan></text>
<line x1="663.1" y1="64.4" x2="681.3" y2="64.4" stroke="#111" stroke-width="0.9"/>
<circle cx="672.3" cy="64.4" r="1.5" fill="#111"/>
<text x="664.0" y="83.6" font-size="6.4" text-anchor="start" fill="#222" >LFC</text>
<rect x="664.4" y="87.2" width="10.5" height="50.5" fill="url(#lfcg)"/>
<line x1="672.8" y1="88.1" x2="674.9" y2="88.1" stroke="#fff" stroke-width="0.5"/>
<text x="676.2" y="90.3" font-size="6.3" text-anchor="start" fill="#222" >2.0</text>
<line x1="672.8" y1="101.8" x2="674.9" y2="101.8" stroke="#fff" stroke-width="0.5"/>
<text x="676.2" y="104.0" font-size="6.3" text-anchor="start" fill="#222" >1.5</text>
<line x1="672.8" y1="115.4" x2="674.9" y2="115.4" stroke="#fff" stroke-width="0.5"/>
<text x="676.2" y="117.6" font-size="6.3" text-anchor="start" fill="#222" >1.0</text>
<line x1="672.8" y1="129.1" x2="674.9" y2="129.1" stroke="#fff" stroke-width="0.5"/>
<text x="676.2" y="131.3" font-size="6.3" text-anchor="start" fill="#222" >0.5</text>
<text x="-0.3" y="384.2" font-size="15" font-weight="bold" fill="#231815">c</text>
<text x="72.6" y="401.9" font-size="7.55" text-anchor="end" fill="#222" >FOS(bZIP)</text>
<text transform="translate(74.80,403.50) scale(0.719,0.168)" font-size="10" fill="#21a637" font-weight="bold">A</text>
<text transform="translate(74.80,402.27) scale(0.664,0.225)" font-size="10" fill="#1414f0" font-weight="bold">C</text>
<text transform="translate(74.80,400.63) scale(0.784,0.281)" font-size="10" fill="#e0191d" font-weight="bold">T</text>
<text transform="translate(74.80,398.58) scale(0.616,0.337)" font-size="10" fill="#fca408" font-weight="bold">G</text>
<text transform="translate(79.41,403.50) scale(0.664,0.168)" font-size="10" fill="#1414f0" font-weight="bold">C</text>
<text transform="translate(79.41,402.27) scale(0.719,0.168)" font-size="10" fill="#21a637" font-weight="bold">A</text>
<text transform="translate(79.41,401.04) scale(0.784,0.281)" font-size="10" fill="#e0191d" font-weight="bold">T</text>
<text transform="translate(79.41,398.99) scale(0.616,0.393)" font-size="10" fill="#fca408" font-weight="bold">G</text>
<text transform="translate(84.02,403.50) scale(0.664,0.168)" font-size="10" fill="#1414f0" font-weight="bold">C</text>
<text transform="translate(84.02,402.27) scale(0.616,0.225)" font-size="10" fill="#fca408" font-weight="bold">G</text>
<text transform="translate(84.02,400.63) scale(0.719,0.674)" font-size="10" fill="#21a637" font-weight="bold">A</text>
<text transform="translate(88.62,403.50) scale(0.784,1.123)" font-size="10" fill="#e0191d" font-weight="bold">T</text>
<text transform="translate(93.23,403.50) scale(0.784,0.112)" font-size="10" fill="#e0191d" font-weight="bold">T</text>
<text transform="translate(93.23,402.68) scale(0.616,0.955)" font-size="10" fill="#fca408" font-weight="bold">G</text>
<text transform="translate(97.84,403.50) scale(0.719,1.123)" font-size="10" fill="#21a637" font-weight="bold">A</text>
<text transform="translate(102.45,403.50) scale(0.719,0.112)" font-size="10" fill="#21a637" font-weight="bold">A</text>
<text transform="translate(102.45,402.68) scale(0.664,0.393)" font-size="10" fill="#1414f0" font-weight="bold">C</text>
<text transform="translate(102.45,399.81) scale(0.616,0.449)" font-size="10" fill="#fca408" font-weight="bold">G</text>
<text transform="translate(107.06,403.50) scale(0.784,1.123)" font-size="10" fill="#e0191d" font-weight="bold">T</text>
<text transform="translate(111.67,403.50) scale(0.664,1.123)" font-size="10" fill="#1414f0" font-weight="bold">C</text>
<text transform="translate(116.28,403.50) scale(0.719,1.123)" font-size="10" fill="#21a637" font-weight="bold">A</text>
<text transform="translate(120.88,403.50) scale(0.719,0.168)" font-size="10" fill="#21a637" font-weight="bold">A</text>
<text transform="translate(120.88,402.27) scale(0.664,0.225)" font-size="10" fill="#1414f0" font-weight="bold">C</text>
<text transform="translate(120.88,400.63) scale(0.616,0.225)" font-size="10" fill="#fca408" font-weight="bold">G</text>
<text transform="translate(120.88,398.99) scale(0.784,0.449)" font-size="10" fill="#e0191d" font-weight="bold">T</text>
<text transform="translate(125.49,403.50) scale(0.719,0.112)" font-size="10" fill="#21a637" font-weight="bold">A</text>
<text transform="translate(125.49,402.68) scale(0.784,0.225)" font-size="10" fill="#e0191d" font-weight="bold">T</text>
<text transform="translate(125.49,401.04) scale(0.664,0.281)" font-size="10" fill="#1414f0" font-weight="bold">C</text>
<text transform="translate(125.49,398.99) scale(0.616,0.393)" font-size="10" fill="#fca408" font-weight="bold">G</text>
<rect x="138.1" y="396.1" width="62.1" height="9.8" fill="#56b2e6"/>
<line x1="132.6" y1="401.0" x2="134.9" y2="401.0" stroke="#444" stroke-width="0.6"/>
<text x="72.6" y="413.5" font-size="7.55" text-anchor="end" fill="#222" >NRF2(bZIP)</text>
<text transform="translate(74.80,415.15) scale(0.784,0.112)" font-size="10" fill="#e0191d" font-weight="bold">T</text>
<text transform="translate(74.80,414.33) scale(0.719,0.225)" font-size="10" fill="#21a637" font-weight="bold">A</text>
<text transform="translate(74.80,412.69) scale(0.664,0.337)" font-size="10" fill="#1414f0" font-weight="bold">C</text>
<text transform="translate(74.80,410.23) scale(0.616,0.337)" font-size="10" fill="#fca408" font-weight="bold">G</text>
<text transform="translate(79.41,415.15) scale(0.719,1.067)" font-size="10" fill="#21a637" font-weight="bold">A</text>
<text transform="translate(84.02,415.15) scale(0.784,1.123)" font-size="10" fill="#e0191d" font-weight="bold">T</text>
<text transform="translate(88.62,415.15) scale(0.616,1.123)" font-size="10" fill="#fca408" font-weight="bold">G</text>
<text transform="translate(93.23,415.15) scale(0.719,1.123)" font-size="10" fill="#21a637" font-weight="bold">A</text>
<text transform="translate(97.84,415.15) scale(0.664,1.123)" font-size="10" fill="#1414f0" font-weight="bold">C</text>
<text transform="translate(102.45,415.15) scale(0.784,1.123)" font-size="10" fill="#e0191d" font-weight="bold">T</text>
<text transform="translate(107.06,415.15) scale(0.664,1.123)" font-size="10" fill="#1414f0" font-weight="bold">C</text>
<text transform="translate(111.67,415.15) scale(0.719,1.123)" font-size="10" fill="#21a637" font-weight="bold">A</text>
<text transform="translate(116.28,415.15) scale(0.616,1.123)" font-size="10" fill="#fca408" font-weight="bold">G</text>
<text transform="translate(120.88,415.15) scale(0.664,1.123)" font-size="10" fill="#1414f0" font-weight="bold">C</text>
<text transform="translate(125.49,415.15) scale(0.719,1.123)" font-size="10" fill="#21a637" font-weight="bold">A</text>
<rect x="138.1" y="407.8" width="38.2" height="9.8" fill="#56b2e6"/>
<line x1="132.6" y1="412.6" x2="134.9" y2="412.6" stroke="#444" stroke-width="0.6"/>
<text x="72.6" y="425.2" font-size="7.55" text-anchor="end" fill="#222" >BACH1(bZIP)</text>
<text transform="translate(74.80,426.80) scale(0.531,0.112)" font-size="10" fill="#1414f0" font-weight="bold">C</text>
<text transform="translate(74.80,425.98) scale(0.628,0.337)" font-size="10" fill="#e0191d" font-weight="bold">T</text>
<text transform="translate(74.80,423.52) scale(0.575,0.562)" font-size="10" fill="#21a637" font-weight="bold">A</text>
<text transform="translate(78.49,426.80) scale(0.531,0.112)" font-size="10" fill="#1414f0" font-weight="bold">C</text>
<text transform="translate(78.49,425.98) scale(0.628,0.337)" font-size="10" fill="#e0191d" font-weight="bold">T</text>
<text transform="translate(78.49,423.52) scale(0.575,0.562)" font-size="10" fill="#21a637" font-weight="bold">A</text>
<text transform="translate(82.17,426.80) scale(0.531,0.112)" font-size="10" fill="#1414f0" font-weight="bold">C</text>
<text transform="translate(82.17,425.98) scale(0.628,0.337)" font-size="10" fill="#e0191d" font-weight="bold">T</text>
<text transform="translate(82.17,423.52) scale(0.575,0.562)" font-size="10" fill="#21a637" font-weight="bold">A</text>
<text transform="translate(85.86,426.80) scale(0.531,0.225)" font-size="10" fill="#1414f0" font-weight="bold">C</text>
<text transform="translate(85.86,425.16) scale(0.575,0.337)" font-size="10" fill="#21a637" font-weight="bold">A</text>
<text transform="translate(85.86,422.70) scale(0.628,0.449)" font-size="10" fill="#e0191d" font-weight="bold">T</text>
<text transform="translate(89.55,426.80) scale(0.628,1.123)" font-size="10" fill="#e0191d" font-weight="bold">T</text>
<text transform="translate(93.23,426.80) scale(0.493,1.123)" font-size="10" fill="#fca408" font-weight="bold">G</text>
<text transform="translate(96.92,426.80) scale(0.531,1.123)" font-size="10" fill="#1414f0" font-weight="bold">C</text>
<text transform="translate(100.61,426.80) scale(0.628,1.123)" font-size="10" fill="#e0191d" font-weight="bold">T</text>
<text transform="translate(104.29,426.80) scale(0.493,1.123)" font-size="10" fill="#fca408" font-weight="bold">G</text>
<text transform="translate(107.98,426.80) scale(0.575,1.123)" font-size="10" fill="#21a637" font-weight="bold">A</text>
<text transform="translate(111.67,426.80) scale(0.575,0.337)" font-size="10" fill="#21a637" font-weight="bold">A</text>
<text transform="translate(111.67,424.34) scale(0.493,0.674)" font-size="10" fill="#fca408" font-weight="bold">G</text>
<text transform="translate(115.35,426.80) scale(0.628,1.123)" font-size="10" fill="#e0191d" font-weight="bold">T</text>
<text transform="translate(119.04,426.80) scale(0.531,1.123)" font-size="10" fill="#1414f0" font-weight="bold">C</text>
<text transform="translate(122.73,426.80) scale(0.575,1.123)" font-size="10" fill="#21a637" font-weight="bold">A</text>
<text transform="translate(126.41,426.80) scale(0.575,0.225)" font-size="10" fill="#21a637" font-weight="bold">A</text>
<text transform="translate(126.41,425.16) scale(0.628,0.674)" font-size="10" fill="#e0191d" font-weight="bold">T</text>
<rect x="138.1" y="419.4" width="32.7" height="9.8" fill="#56b2e6"/>
<line x1="132.6" y1="424.3" x2="134.9" y2="424.3" stroke="#444" stroke-width="0.6"/>
<text x="72.6" y="436.8" font-size="7.55" text-anchor="end" fill="#222" >MAFB(bZIP)</text>
<text transform="translate(74.80,438.45) scale(0.411,0.225)" font-size="10" fill="#fca408" font-weight="bold">G</text>
<text transform="translate(74.80,436.81) scale(0.523,0.337)" font-size="10" fill="#e0191d" font-weight="bold">T</text>
<text transform="translate(74.80,434.35) scale(0.479,0.449)" font-size="10" fill="#21a637" font-weight="bold">A</text>
<text transform="translate(77.87,438.45) scale(0.479,0.225)" font-size="10" fill="#21a637" font-weight="bold">A</text>
<text transform="translate(77.87,436.81) scale(0.523,0.786)" font-size="10" fill="#e0191d" font-weight="bold">T</text>
<text transform="translate(80.94,438.45) scale(0.411,1.011)" font-size="10" fill="#fca408" font-weight="bold">G</text>
<text transform="translate(84.02,438.45) scale(0.443,1.011)" font-size="10" fill="#1414f0" font-weight="bold">C</text>
<text transform="translate(87.09,438.45) scale(0.523,1.123)" font-size="10" fill="#e0191d" font-weight="bold">T</text>
<text transform="translate(90.16,438.45) scale(0.411,1.123)" font-size="10" fill="#fca408" font-weight="bold">G</text>
<text transform="translate(93.23,438.45) scale(0.443,0.337)" font-size="10" fill="#1414f0" font-weight="bold">C</text>
<text transform="translate(93.23,435.99) scale(0.479,0.674)" font-size="10" fill="#21a637" font-weight="bold">A</text>
<text transform="translate(96.31,438.45) scale(0.443,0.449)" font-size="10" fill="#1414f0" font-weight="bold">C</text>
<text transform="translate(96.31,435.17) scale(0.411,0.562)" font-size="10" fill="#fca408" font-weight="bold">G</text>
<text transform="translate(99.38,438.45) scale(0.523,1.123)" font-size="10" fill="#e0191d" font-weight="bold">T</text>
<text transform="translate(102.45,438.45) scale(0.443,1.123)" font-size="10" fill="#1414f0" font-weight="bold">C</text>
<text transform="translate(105.52,438.45) scale(0.479,1.123)" font-size="10" fill="#21a637" font-weight="bold">A</text>
<text transform="translate(108.59,438.45) scale(0.411,1.123)" font-size="10" fill="#fca408" font-weight="bold">G</text>
<text transform="translate(111.67,438.45) scale(0.443,1.123)" font-size="10" fill="#1414f0" font-weight="bold">C</text>
<text transform="translate(114.74,438.45) scale(0.523,0.337)" font-size="10" fill="#e0191d" font-weight="bold">T</text>
<text transform="translate(114.74,435.99) scale(0.479,0.674)" font-size="10" fill="#21a637" font-weight="bold">A</text>
<text transform="translate(117.81,438.45) scale(0.479,0.337)" font-size="10" fill="#21a637" font-weight="bold">A</text>
<text transform="translate(117.81,435.99) scale(0.523,0.674)" font-size="10" fill="#e0191d" font-weight="bold">T</text>
<text transform="translate(120.88,438.45) scale(0.479,0.337)" font-size="10" fill="#21a637" font-weight="bold">A</text>
<text transform="translate(120.88,435.99) scale(0.523,0.674)" font-size="10" fill="#e0191d" font-weight="bold">T</text>
<text transform="translate(123.96,438.45) scale(0.479,0.337)" font-size="10" fill="#21a637" font-weight="bold">A</text>
<text transform="translate(123.96,435.99) scale(0.523,0.674)" font-size="10" fill="#e0191d" font-weight="bold">T</text>
<text transform="translate(127.03,438.45) scale(0.443,0.337)" font-size="10" fill="#1414f0" font-weight="bold">C</text>
<text transform="translate(127.03,435.99) scale(0.523,0.562)" font-size="10" fill="#e0191d" font-weight="bold">T</text>
<rect x="138.1" y="431.1" width="16.7" height="9.8" fill="#56b2e6"/>
<line x1="132.6" y1="435.9" x2="134.9" y2="435.9" stroke="#444" stroke-width="0.6"/>
<text x="72.6" y="448.5" font-size="7.55" text-anchor="end" fill="#222" >RUNX1(Runt)</text>
<text transform="translate(74.80,450.10) scale(0.797,0.168)" font-size="10" fill="#1414f0" font-weight="bold">C</text>
<text transform="translate(74.80,448.87) scale(0.941,0.225)" font-size="10" fill="#e0191d" font-weight="bold">T</text>
<text transform="translate(74.80,447.23) scale(0.862,0.674)" font-size="10" fill="#21a637" font-weight="bold">A</text>
<text transform="translate(80.33,450.10) scale(0.862,1.123)" font-size="10" fill="#21a637" font-weight="bold">A</text>
<text transform="translate(85.86,450.10) scale(0.862,1.123)" font-size="10" fill="#21a637" font-weight="bold">A</text>
<text transform="translate(91.39,450.10) scale(0.797,1.123)" font-size="10" fill="#1414f0" font-weight="bold">C</text>
<text transform="translate(96.92,450.10) scale(0.797,1.123)" font-size="10" fill="#1414f0" font-weight="bold">C</text>
<text transform="translate(102.45,450.10) scale(0.862,1.123)" font-size="10" fill="#21a637" font-weight="bold">A</text>
<text transform="translate(107.98,450.10) scale(0.797,1.123)" font-size="10" fill="#1414f0" font-weight="bold">C</text>
<text transform="translate(113.51,450.10) scale(0.862,1.123)" font-size="10" fill="#21a637" font-weight="bold">A</text>
<text transform="translate(119.04,450.10) scale(0.941,0.112)" font-size="10" fill="#e0191d" font-weight="bold">T</text>
<text transform="translate(119.04,449.28) scale(0.862,0.337)" font-size="10" fill="#21a637" font-weight="bold">A</text>
<text transform="translate(119.04,446.82) scale(0.739,0.562)" font-size="10" fill="#fca408" font-weight="bold">G</text>
<text transform="translate(124.57,450.10) scale(0.862,0.112)" font-size="10" fill="#21a637" font-weight="bold">A</text>
<text transform="translate(124.57,449.28) scale(0.739,0.337)" font-size="10" fill="#fca408" font-weight="bold">G</text>
<text transform="translate(124.57,446.82) scale(0.797,0.562)" font-size="10" fill="#1414f0" font-weight="bold">C</text>
<rect x="138.1" y="442.7" width="15.2" height="9.8" fill="#56b2e6"/>
<line x1="132.6" y1="447.6" x2="134.9" y2="447.6" stroke="#444" stroke-width="0.6"/>
<text x="72.6" y="460.1" font-size="7.55" text-anchor="end" fill="#222" >RUNX2(Runt)</text>
<text transform="translate(74.80,461.75) scale(0.784,0.112)" font-size="10" fill="#e0191d" font-weight="bold">T</text>
<text transform="translate(74.80,460.93) scale(0.616,0.225)" font-size="10" fill="#fca408" font-weight="bold">G</text>
<text transform="translate(74.80,459.29) scale(0.719,0.337)" font-size="10" fill="#21a637" font-weight="bold">A</text>
<text transform="translate(74.80,456.83) scale(0.664,0.337)" font-size="10" fill="#1414f0" font-weight="bold">C</text>
<text transform="translate(79.41,461.75) scale(0.616,0.225)" font-size="10" fill="#fca408" font-weight="bold">G</text>
<text transform="translate(79.41,460.11) scale(0.784,0.337)" font-size="10" fill="#e0191d" font-weight="bold">T</text>
<text transform="translate(79.41,457.65) scale(0.719,0.562)" font-size="10" fill="#21a637" font-weight="bold">A</text>
<text transform="translate(84.02,461.75) scale(0.784,0.112)" font-size="10" fill="#e0191d" font-weight="bold">T</text>
<text transform="translate(84.02,460.93) scale(0.616,0.337)" font-size="10" fill="#fca408" font-weight="bold">G</text>
<text transform="translate(84.02,458.47) scale(0.719,0.562)" font-size="10" fill="#21a637" font-weight="bold">A</text>
<text transform="translate(88.62,461.75) scale(0.719,1.123)" font-size="10" fill="#21a637" font-weight="bold">A</text>
<text transform="translate(93.23,461.75) scale(0.664,1.123)" font-size="10" fill="#1414f0" font-weight="bold">C</text>
<text transform="translate(97.84,461.75) scale(0.664,1.123)" font-size="10" fill="#1414f0" font-weight="bold">C</text>
<text transform="translate(102.45,461.75) scale(0.719,1.123)" font-size="10" fill="#21a637" font-weight="bold">A</text>
<text transform="translate(107.06,461.75) scale(0.664,1.123)" font-size="10" fill="#1414f0" font-weight="bold">C</text>
<text transform="translate(111.67,461.75) scale(0.719,1.123)" font-size="10" fill="#21a637" font-weight="bold">A</text>
<text transform="translate(116.28,461.75) scale(0.784,0.225)" font-size="10" fill="#e0191d" font-weight="bold">T</text>
<text transform="translate(116.28,460.11) scale(0.719,0.337)" font-size="10" fill="#21a637" font-weight="bold">A</text>
<text transform="translate(116.28,457.65) scale(0.616,0.449)" font-size="10" fill="#fca408" font-weight="bold">G</text>
<text transform="translate(120.88,461.75) scale(0.664,0.225)" font-size="10" fill="#1414f0" font-weight="bold">C</text>
<text transform="translate(120.88,460.11) scale(0.719,0.337)" font-size="10" fill="#21a637" font-weight="bold">A</text>
<text transform="translate(120.88,457.65) scale(0.616,0.449)" font-size="10" fill="#fca408" font-weight="bold">G</text>
<text transform="translate(125.49,461.75) scale(0.784,0.225)" font-size="10" fill="#e0191d" font-weight="bold">T</text>
<text transform="translate(125.49,460.11) scale(0.616,0.337)" font-size="10" fill="#fca408" font-weight="bold">G</text>
<text transform="translate(125.49,457.65) scale(0.664,0.337)" font-size="10" fill="#1414f0" font-weight="bold">C</text>
<rect x="138.1" y="454.4" width="15.2" height="9.8" fill="#56b2e6"/>
<line x1="132.6" y1="459.2" x2="134.9" y2="459.2" stroke="#444" stroke-width="0.6"/>
<text x="72.6" y="471.8" font-size="7.55" text-anchor="end" fill="#222" >ERG(ETS)</text>
<text transform="translate(74.80,473.40) scale(0.941,0.112)" font-size="10" fill="#e0191d" font-weight="bold">T</text>
<text transform="translate(74.80,472.58) scale(0.797,0.225)" font-size="10" fill="#1414f0" font-weight="bold">C</text>
<text transform="translate(74.80,470.94) scale(0.862,0.674)" font-size="10" fill="#21a637" font-weight="bold">A</text>
<text transform="translate(80.33,473.40) scale(0.797,1.011)" font-size="10" fill="#1414f0" font-weight="bold">C</text>
<text transform="translate(85.86,473.40) scale(0.797,0.225)" font-size="10" fill="#1414f0" font-weight="bold">C</text>
<text transform="translate(85.86,471.76) scale(0.862,0.786)" font-size="10" fill="#21a637" font-weight="bold">A</text>
<text transform="translate(91.39,473.40) scale(0.739,1.123)" font-size="10" fill="#fca408" font-weight="bold">G</text>
<text transform="translate(96.92,473.40) scale(0.739,1.123)" font-size="10" fill="#fca408" font-weight="bold">G</text>
<text transform="translate(102.45,473.40) scale(0.862,1.123)" font-size="10" fill="#21a637" font-weight="bold">A</text>
<text transform="translate(107.98,473.40) scale(0.862,1.123)" font-size="10" fill="#21a637" font-weight="bold">A</text>
<text transform="translate(113.51,473.40) scale(0.862,0.112)" font-size="10" fill="#21a637" font-weight="bold">A</text>
<text transform="translate(113.51,472.58) scale(0.739,0.899)" font-size="10" fill="#fca408" font-weight="bold">G</text>
<text transform="translate(119.04,473.40) scale(0.797,0.225)" font-size="10" fill="#1414f0" font-weight="bold">C</text>
<text transform="translate(119.04,471.76) scale(0.941,0.899)" font-size="10" fill="#e0191d" font-weight="bold">T</text>
<text transform="translate(124.57,473.40) scale(0.862,0.112)" font-size="10" fill="#21a637" font-weight="bold">A</text>
<text transform="translate(124.57,472.58) scale(0.797,0.337)" font-size="10" fill="#1414f0" font-weight="bold">C</text>
<text transform="translate(124.57,470.12) scale(0.739,0.562)" font-size="10" fill="#fca408" font-weight="bold">G</text>
<rect x="138.1" y="466.0" width="12.7" height="9.8" fill="#56b2e6"/>
<line x1="132.6" y1="470.9" x2="134.9" y2="470.9" stroke="#444" stroke-width="0.6"/>
<text x="72.6" y="483.4" font-size="7.55" text-anchor="end" fill="#222" >ETV2(ETS)</text>
<text transform="translate(74.80,485.05) scale(0.784,0.112)" font-size="10" fill="#21a637" font-weight="bold">A</text>
<text transform="translate(74.80,484.23) scale(0.672,0.225)" font-size="10" fill="#fca408" font-weight="bold">G</text>
<text transform="translate(74.80,482.59) scale(0.856,0.337)" font-size="10" fill="#e0191d" font-weight="bold">T</text>
<text transform="translate(74.80,480.13) scale(0.724,0.337)" font-size="10" fill="#1414f0" font-weight="bold">C</text>
<text transform="translate(79.83,485.05) scale(0.672,0.225)" font-size="10" fill="#fca408" font-weight="bold">G</text>
<text transform="translate(79.83,483.41) scale(0.784,0.449)" font-size="10" fill="#21a637" font-weight="bold">A</text>
<text transform="translate(79.83,480.13) scale(0.724,0.337)" font-size="10" fill="#1414f0" font-weight="bold">C</text>
<text transform="translate(84.85,485.05) scale(0.856,0.337)" font-size="10" fill="#e0191d" font-weight="bold">T</text>
<text transform="translate(84.85,482.59) scale(0.784,0.562)" font-size="10" fill="#21a637" font-weight="bold">A</text>
<text transform="translate(89.88,485.05) scale(0.856,1.123)" font-size="10" fill="#e0191d" font-weight="bold">T</text>
<text transform="translate(94.91,485.05) scale(0.856,1.123)" font-size="10" fill="#e0191d" font-weight="bold">T</text>
<text transform="translate(99.94,485.05) scale(0.724,1.123)" font-size="10" fill="#1414f0" font-weight="bold">C</text>
<text transform="translate(104.96,485.05) scale(0.724,1.123)" font-size="10" fill="#1414f0" font-weight="bold">C</text>
<text transform="translate(109.99,485.05) scale(0.672,0.225)" font-size="10" fill="#fca408" font-weight="bold">G</text>
<text transform="translate(109.99,483.41) scale(0.856,0.786)" font-size="10" fill="#e0191d" font-weight="bold">T</text>
<text transform="translate(115.02,485.05) scale(0.784,0.225)" font-size="10" fill="#21a637" font-weight="bold">A</text>
<text transform="translate(115.02,483.41) scale(0.856,0.337)" font-size="10" fill="#e0191d" font-weight="bold">T</text>
<text transform="translate(115.02,480.95) scale(0.672,0.449)" font-size="10" fill="#fca408" font-weight="bold">G</text>
<text transform="translate(120.05,485.05) scale(0.856,0.225)" font-size="10" fill="#e0191d" font-weight="bold">T</text>
<text transform="translate(120.05,483.41) scale(0.724,0.337)" font-size="10" fill="#1414f0" font-weight="bold">C</text>
<text transform="translate(120.05,480.95) scale(0.672,0.337)" font-size="10" fill="#fca408" font-weight="bold">G</text>
<text transform="translate(125.07,485.05) scale(0.784,0.337)" font-size="10" fill="#21a637" font-weight="bold">A</text>
<text transform="translate(125.07,482.59) scale(0.724,0.337)" font-size="10" fill="#1414f0" font-weight="bold">C</text>
<text transform="translate(125.07,480.13) scale(0.856,0.337)" font-size="10" fill="#e0191d" font-weight="bold">T</text>
<rect x="138.1" y="477.7" width="12.1" height="9.8" fill="#56b2e6"/>
<line x1="132.6" y1="482.6" x2="134.9" y2="482.6" stroke="#444" stroke-width="0.6"/>
<text x="72.6" y="495.1" font-size="7.55" text-anchor="end" fill="#222" >ETS1(ETS)</text>
<text transform="translate(74.80,496.70) scale(0.739,0.112)" font-size="10" fill="#fca408" font-weight="bold">G</text>
<text transform="translate(74.80,495.88) scale(0.797,0.225)" font-size="10" fill="#1414f0" font-weight="bold">C</text>
<text transform="translate(74.80,494.24) scale(0.862,0.674)" font-size="10" fill="#21a637" font-weight="bold">A</text>
<text transform="translate(80.33,496.70) scale(0.797,1.011)" font-size="10" fill="#1414f0" font-weight="bold">C</text>
<text transform="translate(85.86,496.70) scale(0.797,0.225)" font-size="10" fill="#1414f0" font-weight="bold">C</text>
<text transform="translate(85.86,495.06) scale(0.862,0.786)" font-size="10" fill="#21a637" font-weight="bold">A</text>
<text transform="translate(91.39,496.70) scale(0.739,1.123)" font-size="10" fill="#fca408" font-weight="bold">G</text>
<text transform="translate(96.92,496.70) scale(0.739,1.123)" font-size="10" fill="#fca408" font-weight="bold">G</text>
<text transform="translate(102.45,496.70) scale(0.862,1.123)" font-size="10" fill="#21a637" font-weight="bold">A</text>
<text transform="translate(107.98,496.70) scale(0.862,1.123)" font-size="10" fill="#21a637" font-weight="bold">A</text>
<text transform="translate(113.51,496.70) scale(0.739,1.011)" font-size="10" fill="#fca408" font-weight="bold">G</text>
<text transform="translate(119.04,496.70) scale(0.941,1.011)" font-size="10" fill="#e0191d" font-weight="bold">T</text>
<text transform="translate(124.57,496.70) scale(0.739,0.899)" font-size="10" fill="#fca408" font-weight="bold">G</text>
<rect x="138.1" y="489.3" width="10.3" height="9.8" fill="#56b2e6"/>
<line x1="132.6" y1="494.2" x2="134.9" y2="494.2" stroke="#444" stroke-width="0.6"/>
<text x="72.6" y="506.8" font-size="7.55" text-anchor="end" fill="#222" >ETV1(ETS)</text>
<text transform="translate(74.80,508.35) scale(0.797,0.225)" font-size="10" fill="#1414f0" font-weight="bold">C</text>
<text transform="translate(74.80,506.71) scale(0.739,0.225)" font-size="10" fill="#fca408" font-weight="bold">G</text>
<text transform="translate(74.80,505.07) scale(0.862,0.562)" font-size="10" fill="#21a637" font-weight="bold">A</text>
<text transform="translate(80.33,508.35) scale(0.797,0.225)" font-size="10" fill="#1414f0" font-weight="bold">C</text>
<text transform="translate(80.33,506.71) scale(0.739,0.225)" font-size="10" fill="#fca408" font-weight="bold">G</text>
<text transform="translate(80.33,505.07) scale(0.862,0.562)" font-size="10" fill="#21a637" font-weight="bold">A</text>
<text transform="translate(85.86,508.35) scale(0.797,1.011)" font-size="10" fill="#1414f0" font-weight="bold">C</text>
<text transform="translate(91.39,508.35) scale(0.862,0.449)" font-size="10" fill="#21a637" font-weight="bold">A</text>
<text transform="translate(91.39,505.07) scale(0.797,0.562)" font-size="10" fill="#1414f0" font-weight="bold">C</text>
<text transform="translate(96.92,508.35) scale(0.739,1.123)" font-size="10" fill="#fca408" font-weight="bold">G</text>
<text transform="translate(102.45,508.35) scale(0.739,1.123)" font-size="10" fill="#fca408" font-weight="bold">G</text>
<text transform="translate(107.98,508.35) scale(0.862,1.123)" font-size="10" fill="#21a637" font-weight="bold">A</text>
<text transform="translate(113.51,508.35) scale(0.862,1.123)" font-size="10" fill="#21a637" font-weight="bold">A</text>
<text transform="translate(119.04,508.35) scale(0.862,0.112)" font-size="10" fill="#21a637" font-weight="bold">A</text>
<text transform="translate(119.04,507.53) scale(0.739,0.899)" font-size="10" fill="#fca408" font-weight="bold">G</text>
<text transform="translate(124.57,508.35) scale(0.797,0.225)" font-size="10" fill="#1414f0" font-weight="bold">C</text>
<text transform="translate(124.57,506.71) scale(0.941,0.674)" font-size="10" fill="#e0191d" font-weight="bold">T</text>
<rect x="138.1" y="501.0" width="9.7" height="9.8" fill="#56b2e6"/>
<line x1="132.6" y1="505.9" x2="134.9" y2="505.9" stroke="#444" stroke-width="0.6"/>
<text x="72.6" y="518.4" font-size="7.55" text-anchor="end" fill="#222" >FLI1(ETS)</text>
<text transform="translate(74.80,520.00) scale(0.739,0.112)" font-size="10" fill="#fca408" font-weight="bold">G</text>
<text transform="translate(74.80,519.18) scale(0.862,0.225)" font-size="10" fill="#21a637" font-weight="bold">A</text>
<text transform="translate(74.80,517.54) scale(0.941,0.337)" font-size="10" fill="#e0191d" font-weight="bold">T</text>
<text transform="translate(74.80,515.08) scale(0.797,0.337)" font-size="10" fill="#1414f0" font-weight="bold">C</text>
<text transform="translate(80.33,520.00) scale(0.797,0.225)" font-size="10" fill="#1414f0" font-weight="bold">C</text>
<text transform="translate(80.33,518.36) scale(0.739,0.337)" font-size="10" fill="#fca408" font-weight="bold">G</text>
<text transform="translate(80.33,515.90) scale(0.862,0.449)" font-size="10" fill="#21a637" font-weight="bold">A</text>
<text transform="translate(85.86,520.00) scale(0.862,0.112)" font-size="10" fill="#21a637" font-weight="bold">A</text>
<text transform="translate(85.86,519.18) scale(0.941,0.449)" font-size="10" fill="#e0191d" font-weight="bold">T</text>
<text transform="translate(85.86,515.90) scale(0.797,0.337)" font-size="10" fill="#1414f0" font-weight="bold">C</text>
<text transform="translate(91.39,520.00) scale(0.941,1.123)" font-size="10" fill="#e0191d" font-weight="bold">T</text>
<text transform="translate(96.92,520.00) scale(0.941,1.123)" font-size="10" fill="#e0191d" font-weight="bold">T</text>
<text transform="translate(102.45,520.00) scale(0.797,1.123)" font-size="10" fill="#1414f0" font-weight="bold">C</text>
<text transform="translate(107.98,520.00) scale(0.797,1.123)" font-size="10" fill="#1414f0" font-weight="bold">C</text>
<text transform="translate(113.51,520.00) scale(0.862,0.225)" font-size="10" fill="#21a637" font-weight="bold">A</text>
<text transform="translate(113.51,518.36) scale(0.941,0.337)" font-size="10" fill="#e0191d" font-weight="bold">T</text>
<text transform="translate(113.51,515.90) scale(0.739,0.449)" font-size="10" fill="#fca408" font-weight="bold">G</text>
<text transform="translate(119.04,520.00) scale(0.797,0.225)" font-size="10" fill="#1414f0" font-weight="bold">C</text>
<text transform="translate(119.04,518.36) scale(0.941,0.337)" font-size="10" fill="#e0191d" font-weight="bold">T</text>
<text transform="translate(119.04,515.90) scale(0.739,0.337)" font-size="10" fill="#fca408" font-weight="bold">G</text>
<text transform="translate(124.57,520.00) scale(0.862,0.337)" font-size="10" fill="#21a637" font-weight="bold">A</text>
<text transform="translate(124.57,517.54) scale(0.797,0.337)" font-size="10" fill="#1414f0" font-weight="bold">C</text>
<text transform="translate(124.57,515.08) scale(0.941,0.337)" font-size="10" fill="#e0191d" font-weight="bold">T</text>
<rect x="138.1" y="512.6" width="9.0" height="9.8" fill="#56b2e6"/>
<line x1="132.6" y1="517.5" x2="134.9" y2="517.5" stroke="#444" stroke-width="0.6"/>
<text x="72.6" y="530.0" font-size="7.55" text-anchor="end" fill="#222" >ETV4(ETS)</text>
<text transform="translate(74.80,531.65) scale(0.941,0.112)" font-size="10" fill="#e0191d" font-weight="bold">T</text>
<text transform="translate(74.80,530.83) scale(0.739,0.225)" font-size="10" fill="#fca408" font-weight="bold">G</text>
<text transform="translate(74.80,529.19) scale(0.862,0.674)" font-size="10" fill="#21a637" font-weight="bold">A</text>
<text transform="translate(80.33,531.65) scale(0.797,1.011)" font-size="10" fill="#1414f0" font-weight="bold">C</text>
<text transform="translate(85.86,531.65) scale(0.797,1.011)" font-size="10" fill="#1414f0" font-weight="bold">C</text>
<text transform="translate(91.39,531.65) scale(0.739,1.123)" font-size="10" fill="#fca408" font-weight="bold">G</text>
<text transform="translate(96.92,531.65) scale(0.739,1.123)" font-size="10" fill="#fca408" font-weight="bold">G</text>
<text transform="translate(102.45,531.65) scale(0.862,1.123)" font-size="10" fill="#21a637" font-weight="bold">A</text>
<text transform="translate(107.98,531.65) scale(0.862,1.123)" font-size="10" fill="#21a637" font-weight="bold">A</text>
<text transform="translate(113.51,531.65) scale(0.739,1.011)" font-size="10" fill="#fca408" font-weight="bold">G</text>
<text transform="translate(119.04,531.65) scale(0.862,0.112)" font-size="10" fill="#21a637" font-weight="bold">A</text>
<text transform="translate(119.04,530.83) scale(0.797,0.337)" font-size="10" fill="#1414f0" font-weight="bold">C</text>
<text transform="translate(119.04,528.37) scale(0.941,0.562)" font-size="10" fill="#e0191d" font-weight="bold">T</text>
<text transform="translate(124.57,531.65) scale(0.797,0.112)" font-size="10" fill="#1414f0" font-weight="bold">C</text>
<text transform="translate(124.57,530.83) scale(0.862,0.337)" font-size="10" fill="#21a637" font-weight="bold">A</text>
<text transform="translate(124.57,528.37) scale(0.739,0.562)" font-size="10" fill="#fca408" font-weight="bold">G</text>
<rect x="138.1" y="524.2" width="7.9" height="9.8" fill="#56b2e6"/>
<line x1="132.6" y1="529.1" x2="134.9" y2="529.1" stroke="#444" stroke-width="0.6"/>
<text x="72.6" y="541.7" font-size="7.55" text-anchor="end" fill="#222" >NFAT(bZIP)</text>
<text transform="translate(74.80,543.30) scale(0.523,0.112)" font-size="10" fill="#e0191d" font-weight="bold">T</text>
<text transform="translate(74.80,542.48) scale(0.479,0.225)" font-size="10" fill="#21a637" font-weight="bold">A</text>
<text transform="translate(74.80,540.84) scale(0.443,0.337)" font-size="10" fill="#1414f0" font-weight="bold">C</text>
<text transform="translate(74.80,538.38) scale(0.411,0.337)" font-size="10" fill="#fca408" font-weight="bold">G</text>
<text transform="translate(77.87,543.30) scale(0.523,0.225)" font-size="10" fill="#e0191d" font-weight="bold">T</text>
<text transform="translate(77.87,541.66) scale(0.479,0.337)" font-size="10" fill="#21a637" font-weight="bold">A</text>
<text transform="translate(77.87,539.20) scale(0.411,0.337)" font-size="10" fill="#fca408" font-weight="bold">G</text>
<text transform="translate(80.94,543.30) scale(0.523,0.337)" font-size="10" fill="#e0191d" font-weight="bold">T</text>
<text transform="translate(80.94,540.84) scale(0.479,0.449)" font-size="10" fill="#21a637" font-weight="bold">A</text>
<text transform="translate(84.02,543.30) scale(0.523,0.899)" font-size="10" fill="#e0191d" font-weight="bold">T</text>
<text transform="translate(87.09,543.30) scale(0.411,0.899)" font-size="10" fill="#fca408" font-weight="bold">G</text>
<text transform="translate(90.16,543.30) scale(0.411,0.899)" font-size="10" fill="#fca408" font-weight="bold">G</text>
<text transform="translate(93.23,543.30) scale(0.479,1.011)" font-size="10" fill="#21a637" font-weight="bold">A</text>
<text transform="translate(96.31,543.30) scale(0.479,0.899)" font-size="10" fill="#21a637" font-weight="bold">A</text>
<text transform="translate(99.38,543.30) scale(0.479,0.786)" font-size="10" fill="#21a637" font-weight="bold">A</text>
<text transform="translate(102.45,543.30) scale(0.523,0.337)" font-size="10" fill="#e0191d" font-weight="bold">T</text>
<text transform="translate(102.45,540.84) scale(0.479,0.562)" font-size="10" fill="#21a637" font-weight="bold">A</text>
<text transform="translate(105.52,543.30) scale(0.443,0.225)" font-size="10" fill="#1414f0" font-weight="bold">C</text>
<text transform="translate(105.52,541.66) scale(0.479,0.337)" font-size="10" fill="#21a637" font-weight="bold">A</text>
<text transform="translate(105.52,539.20) scale(0.523,0.449)" font-size="10" fill="#e0191d" font-weight="bold">T</text>
<text transform="translate(108.59,543.30) scale(0.523,1.011)" font-size="10" fill="#e0191d" font-weight="bold">T</text>
<text transform="translate(111.67,543.30) scale(0.411,0.899)" font-size="10" fill="#fca408" font-weight="bold">G</text>
<text transform="translate(114.74,543.30) scale(0.479,0.786)" font-size="10" fill="#21a637" font-weight="bold">A</text>
<text transform="translate(117.81,543.30) scale(0.443,0.449)" font-size="10" fill="#1414f0" font-weight="bold">C</text>
<text transform="translate(117.81,540.02) scale(0.411,0.449)" font-size="10" fill="#fca408" font-weight="bold">G</text>
<text transform="translate(120.88,543.30) scale(0.523,1.011)" font-size="10" fill="#e0191d" font-weight="bold">T</text>
<text transform="translate(123.96,543.30) scale(0.443,1.011)" font-size="10" fill="#1414f0" font-weight="bold">C</text>
<text transform="translate(127.03,543.30) scale(0.523,0.337)" font-size="10" fill="#e0191d" font-weight="bold">T</text>
<text transform="translate(127.03,540.84) scale(0.479,0.562)" font-size="10" fill="#21a637" font-weight="bold">A</text>
<rect x="138.1" y="535.9" width="6.6" height="9.8" fill="#56b2e6"/>
<line x1="132.6" y1="540.8" x2="134.9" y2="540.8" stroke="#444" stroke-width="0.6"/>
<text x="72.6" y="553.4" font-size="7.55" text-anchor="end" fill="#222" >WT1(<tspan font-style="italic">Zf</tspan>)</text>
<text transform="translate(77.80,554.95) scale(0.680,0.393)" font-size="10" fill="#21a637" font-weight="bold">A</text>
<text transform="translate(77.80,552.08) scale(0.628,0.505)" font-size="10" fill="#1414f0" font-weight="bold">C</text>
<text transform="translate(82.16,554.95) scale(0.628,1.123)" font-size="10" fill="#1414f0" font-weight="bold">C</text>
<text transform="translate(86.52,554.95) scale(0.742,1.123)" font-size="10" fill="#e0191d" font-weight="bold">T</text>
<text transform="translate(90.88,554.95) scale(0.628,1.123)" font-size="10" fill="#1414f0" font-weight="bold">C</text>
<text transform="translate(95.23,554.95) scale(0.628,1.123)" font-size="10" fill="#1414f0" font-weight="bold">C</text>
<text transform="translate(99.59,554.95) scale(0.628,1.123)" font-size="10" fill="#1414f0" font-weight="bold">C</text>
<text transform="translate(103.95,554.95) scale(0.628,0.337)" font-size="10" fill="#1414f0" font-weight="bold">C</text>
<text transform="translate(103.95,552.49) scale(0.680,0.674)" font-size="10" fill="#21a637" font-weight="bold">A</text>
<text transform="translate(108.31,554.95) scale(0.628,1.123)" font-size="10" fill="#1414f0" font-weight="bold">C</text>
<text transform="translate(112.67,554.95) scale(0.583,0.337)" font-size="10" fill="#fca408" font-weight="bold">G</text>
<text transform="translate(112.67,552.49) scale(0.680,0.562)" font-size="10" fill="#21a637" font-weight="bold">A</text>
<text transform="translate(117.03,554.95) scale(0.628,1.123)" font-size="10" fill="#1414f0" font-weight="bold">C</text>
<text transform="translate(121.38,554.95) scale(0.628,0.337)" font-size="10" fill="#1414f0" font-weight="bold">C</text>
<text transform="translate(121.38,552.49) scale(0.680,0.562)" font-size="10" fill="#21a637" font-weight="bold">A</text>
<text transform="translate(125.74,554.95) scale(0.628,0.225)" font-size="10" fill="#1414f0" font-weight="bold">C</text>
<text transform="translate(125.74,553.31) scale(0.680,0.337)" font-size="10" fill="#21a637" font-weight="bold">A</text>
<text transform="translate(125.74,550.85) scale(0.742,0.449)" font-size="10" fill="#e0191d" font-weight="bold">T</text>
<rect x="138.1" y="547.6" width="3.5" height="9.8" fill="#56b2e6"/>
<line x1="132.6" y1="552.5" x2="134.9" y2="552.5" stroke="#444" stroke-width="0.6"/>
<text x="72.6" y="565.0" font-size="7.55" text-anchor="end" fill="#222" >GATA1(<tspan font-style="italic">Zf</tspan>)</text>
<text transform="translate(86.40,566.60) scale(0.681,0.225)" font-size="10" fill="#21a637" font-weight="bold">A</text>
<text transform="translate(86.40,564.96) scale(0.584,0.337)" font-size="10" fill="#fca408" font-weight="bold">G</text>
<text transform="translate(86.40,562.50) scale(0.629,0.449)" font-size="10" fill="#1414f0" font-weight="bold">C</text>
<text transform="translate(90.77,566.60) scale(0.744,0.337)" font-size="10" fill="#e0191d" font-weight="bold">T</text>
<text transform="translate(90.77,564.14) scale(0.681,0.674)" font-size="10" fill="#21a637" font-weight="bold">A</text>
<text transform="translate(95.14,566.60) scale(0.584,1.123)" font-size="10" fill="#fca408" font-weight="bold">G</text>
<text transform="translate(99.51,566.60) scale(0.681,1.123)" font-size="10" fill="#21a637" font-weight="bold">A</text>
<text transform="translate(103.88,566.60) scale(0.744,1.123)" font-size="10" fill="#e0191d" font-weight="bold">T</text>
<text transform="translate(108.25,566.60) scale(0.681,1.123)" font-size="10" fill="#21a637" font-weight="bold">A</text>
<text transform="translate(112.62,566.60) scale(0.681,1.123)" font-size="10" fill="#21a637" font-weight="bold">A</text>
<text transform="translate(116.99,566.60) scale(0.584,0.786)" font-size="10" fill="#fca408" font-weight="bold">G</text>
<text transform="translate(121.36,566.60) scale(0.681,0.225)" font-size="10" fill="#21a637" font-weight="bold">A</text>
<text transform="translate(121.36,564.96) scale(0.629,0.337)" font-size="10" fill="#1414f0" font-weight="bold">C</text>
<text transform="translate(121.36,562.50) scale(0.584,0.449)" font-size="10" fill="#fca408" font-weight="bold">G</text>
<text transform="translate(125.73,566.60) scale(0.681,0.337)" font-size="10" fill="#21a637" font-weight="bold">A</text>
<text transform="translate(125.73,564.14) scale(0.629,0.337)" font-size="10" fill="#1414f0" font-weight="bold">C</text>
<text transform="translate(125.73,561.68) scale(0.584,0.337)" font-size="10" fill="#fca408" font-weight="bold">G</text>
<rect x="138.1" y="559.2" width="2.0" height="9.8" fill="#56b2e6"/>
<line x1="132.6" y1="564.1" x2="134.9" y2="564.1" stroke="#444" stroke-width="0.6"/>
<polyline points="135.3,394.3 135.3,570.7 203,570.7" fill="none" stroke="#555" stroke-width="1.2"/>
<line x1="138.1" y1="571" x2="138.1" y2="573" stroke="#444" stroke-width="0.6"/>
<text x="138.1" y="579.0" font-size="7.3" text-anchor="middle" fill="#222" >0</text>
<line x1="153.5" y1="571" x2="153.5" y2="573" stroke="#444" stroke-width="0.6"/>
<text x="153.5" y="579.0" font-size="7.3" text-anchor="middle" fill="#222" >250</text>
<line x1="168.8" y1="571" x2="168.8" y2="573" stroke="#444" stroke-width="0.6"/>
<text x="168.8" y="579.0" font-size="7.3" text-anchor="middle" fill="#222" >500</text>
<line x1="184.2" y1="571" x2="184.2" y2="573" stroke="#444" stroke-width="0.6"/>
<text x="184.2" y="579.0" font-size="7.3" text-anchor="middle" fill="#222" >750</text>
<line x1="199.6" y1="571" x2="199.6" y2="573" stroke="#444" stroke-width="0.6"/>
<text x="199.6" y="579.0" font-size="7.3" text-anchor="middle" fill="#222" >1000</text>
<text x="168.4" y="589.0" font-size="7.5" text-anchor="middle" fill="#222" >−log(<tspan font-style="italic">P</tspan> value)</text>
<text x="216.1" y="387.3" font-size="15" font-weight="bold" fill="#231815">d</text>
<rect x="259.7" y="400.0" width="107.3" height="15.5" fill="#56b2e6"/>
<text x="252.3" y="410.4" font-size="7.65" text-anchor="end" fill="#222" >GATA1</text>
<line x1="252.0" y1="407.8" x2="254.1" y2="407.8" stroke="#444" stroke-width="0.6"/>
<rect x="259.7" y="416.8" width="54.9" height="15.5" fill="#56b2e6"/>
<text x="252.3" y="427.2" font-size="7.65" text-anchor="end" fill="#222" >NRF2</text>
<line x1="252.0" y1="424.6" x2="254.1" y2="424.6" stroke="#444" stroke-width="0.6"/>
<rect x="259.7" y="433.6" width="44.8" height="15.5" fill="#56b2e6"/>
<text x="252.3" y="444.1" font-size="7.65" text-anchor="end" fill="#222" >BMI1</text>
<line x1="252.0" y1="441.4" x2="254.1" y2="441.4" stroke="#444" stroke-width="0.6"/>
<rect x="259.7" y="450.4" width="37.6" height="15.5" fill="#56b2e6"/>
<text x="252.3" y="460.8" font-size="7.65" text-anchor="end" fill="#222" >YY1</text>
<line x1="252.0" y1="458.1" x2="254.1" y2="458.1" stroke="#444" stroke-width="0.6"/>
<rect x="259.7" y="467.2" width="37.6" height="15.5" fill="#56b2e6"/>
<text x="252.3" y="477.6" font-size="7.65" text-anchor="end" fill="#222" >PCGF2</text>
<line x1="252.0" y1="474.9" x2="254.1" y2="474.9" stroke="#444" stroke-width="0.6"/>
<rect x="259.7" y="484.0" width="37.3" height="15.5" fill="#56b2e6"/>
<text x="252.3" y="494.4" font-size="7.65" text-anchor="end" fill="#222" >WT1</text>
<line x1="252.0" y1="491.8" x2="254.1" y2="491.8" stroke="#444" stroke-width="0.6"/>
<rect x="259.7" y="500.8" width="31.3" height="15.5" fill="#56b2e6"/>
<text x="252.3" y="511.2" font-size="7.65" text-anchor="end" fill="#222" >SIN3a</text>
<line x1="252.0" y1="508.6" x2="254.1" y2="508.6" stroke="#444" stroke-width="0.6"/>
<rect x="259.7" y="517.6" width="30.3" height="15.5" fill="#56b2e6"/>
<text x="252.3" y="528.1" font-size="7.65" text-anchor="end" fill="#222" >HSF1</text>
<line x1="252.0" y1="525.4" x2="254.1" y2="525.4" stroke="#444" stroke-width="0.6"/>
<rect x="259.7" y="534.4" width="28.3" height="15.5" fill="#56b2e6"/>
<text x="252.3" y="544.9" font-size="7.65" text-anchor="end" fill="#222" >ZFX</text>
<line x1="252.0" y1="542.1" x2="254.1" y2="542.1" stroke="#444" stroke-width="0.6"/>
<rect x="259.7" y="551.2" width="26.6" height="15.5" fill="#56b2e6"/>
<text x="252.3" y="561.7" font-size="7.65" text-anchor="end" fill="#222" >TARDBP</text>
<line x1="252.0" y1="559.0" x2="254.1" y2="559.0" stroke="#444" stroke-width="0.6"/>
<polyline points="254.4,397.8 254.4,570.4 371.5,570.4" fill="none" stroke="#333" stroke-width="1.1"/>
<line x1="259.7" y1="570.2" x2="259.7" y2="572.4" stroke="#444" stroke-width="0.6"/>
<text x="259.7" y="579.2" font-size="7.2" text-anchor="middle" fill="#222" >0</text>
<line x1="294.6" y1="570.2" x2="294.6" y2="572.4" stroke="#444" stroke-width="0.6"/>
<text x="294.6" y="579.2" font-size="7.2" text-anchor="middle" fill="#222" >10</text>
<line x1="329.5" y1="570.2" x2="329.5" y2="572.4" stroke="#444" stroke-width="0.6"/>
<text x="329.5" y="579.2" font-size="7.2" text-anchor="middle" fill="#222" >20</text>
<line x1="364.4" y1="570.2" x2="364.4" y2="572.4" stroke="#444" stroke-width="0.6"/>
<text x="364.4" y="579.2" font-size="7.2" text-anchor="middle" fill="#222" >30</text>
<text x="314.0" y="589.0" font-size="7.6" text-anchor="middle" fill="#222" >−log(adj <tspan font-style="italic">P</tspan> value)</text>
<text x="0.0" y="0.0" font-size="7.55" text-anchor="middle" fill="#222" transform="translate(222.6,484.7) rotate(-90)">Enriched transcription factors</text>
<text x="391.9" y="200.3" font-size="15" font-weight="bold" fill="#231815">e</text>
<rect x="446.7" y="204.3" width="207.3" height="76.9" fill="#f7f7f7"/>
<rect x="500.4" y="204.3" width="5.9" height="75.4" fill="#d4d4d4"/>
<rect x="517.3" y="204.3" width="6.0" height="75.4" fill="#d4d4d4"/>
<rect x="541.3" y="204.3" width="6.3" height="75.4" fill="#d4d4d4"/>
<rect x="640" y="204.3" width="11.8" height="75.4" fill="#d4d4d4"/>
<line x1="446.7" y1="222.5" x2="654.0" y2="222.5" stroke="#dcdcdc" stroke-width="0.5"/>
<line x1="446.7" y1="239.8" x2="654.0" y2="239.8" stroke="#dcdcdc" stroke-width="0.5"/>
<line x1="446.7" y1="257.1" x2="654.0" y2="257.1" stroke="#dcdcdc" stroke-width="0.5"/>
<line x1="446.7" y1="274.7" x2="654.0" y2="274.7" stroke="#dcdcdc" stroke-width="0.5"/>
<path d="M447.2,222.2 L447.20,222.05 L447.70,222.05 L448.20,222.05 L448.70,222.05 L449.20,221.98 L449.70,222.05 L450.20,221.80 L450.71,222.05 L451.21,222.05 L451.71,221.82 L452.21,222.05 L452.71,222.05 L453.21,222.05 L453.71,222.05 L454.21,222.05 L454.71,222.05 L455.21,222.05 L455.71,222.05 L456.21,222.05 L456.71,222.05 L457.21,222.05 L457.72,222.05 L458.22,222.05 L458.72,222.05 L459.22,222.05 L459.72,222.05 L460.22,222.05 L460.72,222.05 L461.22,222.05 L461.72,221.65 L462.22,222.05 L462.72,222.05 L463.22,221.77 L463.72,222.05 L464.22,222.05 L464.73,222.05 L465.23,222.05 L465.73,222.05 L466.23,222.05 L466.73,221.75 L467.23,222.05 L467.73,222.05 L468.23,222.05 L468.73,222.05 L469.23,221.73 L469.73,222.05 L470.23,222.05 L470.73,222.05 L471.24,222.05 L471.74,222.05 L472.24,222.05 L472.74,222.05 L473.24,222.05 L473.74,222.05 L474.24,222.05 L474.74,222.05 L475.24,222.05 L475.74,222.05 L476.24,222.05 L476.74,222.05 L477.24,222.05 L477.74,222.05 L478.25,222.05 L478.75,222.05 L479.25,222.05 L479.75,222.05 L480.25,221.72 L480.75,222.05 L481.25,221.71 L481.75,222.05 L482.25,221.86 L482.75,221.58 L483.25,222.05 L483.75,222.05 L484.25,222.05 L484.75,222.05 L485.26,222.05 L485.76,222.05 L486.26,221.72 L486.76,222.05 L487.26,222.05 L487.76,222.05 L488.26,222.05 L488.76,222.05 L489.26,222.05 L489.76,222.05 L490.26,222.05 L490.76,222.05 L491.26,222.05 L491.76,222.05 L492.27,222.05 L492.77,222.02 L493.27,222.05 L493.77,222.05 L494.27,222.05 L494.77,222.04 L495.27,221.78 L495.77,221.77 L496.27,221.47 L496.77,220.98 L497.27,221.04 L497.77,221.56 L498.27,221.82 L498.78,222.01 L499.28,222.04 L499.78,222.05 L500.28,222.05 L500.78,222.05 L501.28,222.02 L501.78,221.74 L502.28,220.28 L502.78,219.09 L503.28,219.87 L503.78,220.69 L504.28,221.86 L504.78,222.03 L505.28,222.05 L505.79,222.05 L506.29,222.05 L506.79,222.05 L507.29,221.87 L507.79,222.05 L508.29,222.05 L508.79,222.05 L509.29,221.63 L509.79,222.05 L510.29,222.05 L510.79,221.76 L511.29,222.05 L511.79,222.05 L512.29,222.05 L512.80,222.05 L513.30,221.86 L513.80,222.05 L514.30,221.71 L514.80,222.05 L515.30,221.75 L515.80,222.05 L516.30,222.05 L516.80,222.05 L517.30,222.05 L517.80,222.05 L518.30,222.02 L518.80,221.68 L519.31,220.73 L519.81,219.47 L520.31,218.81 L520.81,221.09 L521.31,221.81 L521.81,222.03 L522.31,222.05 L522.81,221.73 L523.31,221.70 L523.81,222.05 L524.31,222.05 L524.81,222.05 L525.31,221.79 L525.81,222.05 L526.32,222.05 L526.82,222.05 L527.32,222.05 L527.82,222.05 L528.32,222.05 L528.82,222.05 L529.32,222.05 L529.82,221.57 L530.32,222.05 L530.82,221.82 L531.32,222.05 L531.82,222.05 L532.32,222.05 L532.82,221.95 L533.33,221.78 L533.83,222.05 L534.33,222.05 L534.83,222.05 L535.33,222.05 L535.83,222.05 L536.33,222.05 L536.83,222.05 L537.33,222.03 L537.83,222.05 L538.33,222.05 L538.83,222.05 L539.33,221.70 L539.84,222.05 L540.34,222.05 L540.84,221.67 L541.34,222.05 L541.84,222.05 L542.34,222.03 L542.84,221.86 L543.34,220.64 L543.84,219.73 L544.34,219.99 L544.84,221.51 L545.34,221.94 L545.84,222.04 L546.34,222.05 L546.85,222.05 L547.35,222.05 L547.85,222.05 L548.35,222.05 L548.85,222.05 L549.35,221.67 L549.85,221.85 L550.35,222.05 L550.85,222.05 L551.35,221.62 L551.85,222.05 L552.35,222.05 L552.85,222.05 L553.35,222.05 L553.86,222.05 L554.36,222.05 L554.86,222.05 L555.36,222.05 L555.86,222.04 L556.36,222.02 L556.86,221.98 L557.36,221.88 L557.86,221.81 L558.36,221.60 L558.86,221.36 L559.36,220.84 L559.86,221.32 L560.36,221.30 L560.87,221.38 L561.37,221.47 L561.87,221.74 L562.37,221.89 L562.87,221.95 L563.37,222.00 L563.87,222.03 L564.37,222.04 L564.87,222.05 L565.37,222.05 L565.87,222.05 L566.37,222.05 L566.87,222.05 L567.38,222.05 L567.88,222.05 L568.38,222.05 L568.88,221.73 L569.38,221.92 L569.88,222.05 L570.38,222.05 L570.88,222.05 L571.38,222.05 L571.88,222.05 L572.38,222.00 L572.88,222.05 L573.38,222.05 L573.88,222.05 L574.39,221.97 L574.89,221.67 L575.39,222.05 L575.89,221.80 L576.39,222.05 L576.89,222.05 L577.39,222.05 L577.89,222.05 L578.39,222.05 L578.89,222.05 L579.39,222.05 L579.89,222.05 L580.39,222.05 L580.89,222.05 L581.40,222.05 L581.90,222.05 L582.40,222.05 L582.90,222.05 L583.40,222.05 L583.90,222.05 L584.40,222.05 L584.90,222.05 L585.40,222.05 L585.90,222.05 L586.40,221.93 L586.90,222.05 L587.40,222.05 L587.91,222.05 L588.41,222.05 L588.91,222.05 L589.41,222.05 L589.91,222.05 L590.41,222.05 L590.91,222.05 L591.41,222.05 L591.91,222.05 L592.41,222.05 L592.91,222.05 L593.41,222.05 L593.91,222.05 L594.41,221.67 L594.92,222.05 L595.42,222.05 L595.92,221.69 L596.42,222.05 L596.92,222.05 L597.42,222.05 L597.92,222.05 L598.42,222.05 L598.92,222.05 L599.42,222.05 L599.92,222.05 L600.42,221.71 L600.92,222.05 L601.42,222.05 L601.93,222.05 L602.43,221.68 L602.93,221.93 L603.43,222.05 L603.93,222.05 L604.43,221.98 L604.93,222.05 L605.43,222.05 L605.93,222.05 L606.43,222.05 L606.93,222.05 L607.43,222.05 L607.93,222.05 L608.44,222.05 L608.94,222.05 L609.44,222.05 L609.94,222.05 L610.44,222.05 L610.94,221.65 L611.44,222.05 L611.94,222.05 L612.44,222.05 L612.94,222.05 L613.44,222.05 L613.94,222.05 L614.44,222.05 L614.94,222.05 L615.45,221.59 L615.95,222.05 L616.45,222.05 L616.95,222.05 L617.45,222.05 L617.95,222.05 L618.45,222.05 L618.95,222.05 L619.45,222.05 L619.95,222.05 L620.45,222.05 L620.95,222.05 L621.45,222.05 L621.95,221.92 L622.46,222.05 L622.96,222.05 L623.46,222.05 L623.96,222.05 L624.46,222.05 L624.96,222.05 L625.46,221.87 L625.96,222.05 L626.46,222.05 L626.96,222.05 L627.46,222.05 L627.96,222.05 L628.46,222.05 L628.96,222.05 L629.47,222.05 L629.97,222.05 L630.47,222.05 L630.97,222.05 L631.47,222.05 L631.97,221.84 L632.47,222.05 L632.97,222.05 L633.47,222.03 L633.97,222.05 L634.47,222.05 L634.97,221.71 L635.47,222.05 L635.98,221.56 L636.48,222.05 L636.98,222.05 L637.48,222.05 L637.98,222.05 L638.48,222.05 L638.98,222.05 L639.48,222.05 L639.98,222.05 L640.48,222.05 L640.98,222.05 L641.48,222.05 L641.98,222.05 L642.48,222.05 L642.99,222.05 L643.49,222.05 L643.99,222.05 L644.49,222.05 L644.99,222.05 L645.49,221.66 L645.99,222.05 L646.49,222.05 L646.99,222.05 L647.49,221.72 L647.99,221.86 L648.49,220.01 L648.99,217.92 L649.49,220.55 L650.00,221.88 L650.50,222.04 L651.00,222.05 L651.50,222.05 L652.00,221.91 L652.50,222.05 L653.00,222.05 L653.0,222.2 Z" fill="#9cc3df" stroke="#9cc3df" stroke-width="0.3"/>
<text x="418.7" y="217.8" font-size="7.0" text-anchor="start" fill="#222" >BMPR2<tspan font-size="5.6" dy="-3.2">-</tspan></text>
<path d="M447.2,239.5 L447.20,238.96 L447.70,238.91 L448.20,239.35 L448.70,239.34 L449.20,239.04 L449.70,239.16 L450.20,239.15 L450.71,239.35 L451.21,239.35 L451.71,239.12 L452.21,238.79 L452.71,238.90 L453.21,239.35 L453.71,239.35 L454.21,239.14 L454.71,239.03 L455.21,238.71 L455.71,238.68 L456.21,239.35 L456.71,239.23 L457.21,239.35 L457.72,239.31 L458.22,239.35 L458.72,239.34 L459.22,238.84 L459.72,239.35 L460.22,239.35 L460.72,238.91 L461.22,239.35 L461.72,238.76 L462.22,238.86 L462.72,238.88 L463.22,239.35 L463.72,239.35 L464.22,238.76 L464.73,239.16 L465.23,239.35 L465.73,238.85 L466.23,239.33 L466.73,238.91 L467.23,239.22 L467.73,238.86 L468.23,239.35 L468.73,239.35 L469.23,239.35 L469.73,239.35 L470.23,238.80 L470.73,238.96 L471.24,239.35 L471.74,238.84 L472.24,239.20 L472.74,239.35 L473.24,238.75 L473.74,238.93 L474.24,239.01 L474.74,239.35 L475.24,239.35 L475.74,238.80 L476.24,238.92 L476.74,238.98 L477.24,238.91 L477.74,238.83 L478.25,238.65 L478.75,238.77 L479.25,239.21 L479.75,239.35 L480.25,238.96 L480.75,239.35 L481.25,238.81 L481.75,238.86 L482.25,239.23 L482.75,239.35 L483.25,239.35 L483.75,238.72 L484.25,239.35 L484.75,239.35 L485.26,239.35 L485.76,239.35 L486.26,239.07 L486.76,239.35 L487.26,239.35 L487.76,239.35 L488.26,238.69 L488.76,239.35 L489.26,239.32 L489.76,238.66 L490.26,239.35 L490.76,239.35 L491.26,239.31 L491.76,238.94 L492.27,239.35 L492.77,239.16 L493.27,239.18 L493.77,239.05 L494.27,239.35 L494.77,238.83 L495.27,239.35 L495.77,239.35 L496.27,239.09 L496.77,238.87 L497.27,239.14 L497.77,239.35 L498.27,239.35 L498.78,238.70 L499.28,239.08 L499.78,239.23 L500.28,238.95 L500.78,239.34 L501.28,239.26 L501.78,238.85 L502.28,238.04 L502.78,236.50 L503.28,237.18 L503.78,237.91 L504.28,238.62 L504.78,239.27 L505.28,239.26 L505.79,239.22 L506.29,239.35 L506.79,238.68 L507.29,238.98 L507.79,239.02 L508.29,239.12 L508.79,238.98 L509.29,239.35 L509.79,238.68 L510.29,239.35 L510.79,238.77 L511.29,239.35 L511.79,239.35 L512.29,238.96 L512.80,239.35 L513.30,238.88 L513.80,238.84 L514.30,239.35 L514.80,239.19 L515.30,238.99 L515.80,239.34 L516.30,239.35 L516.80,238.99 L517.30,239.35 L517.80,239.33 L518.30,239.26 L518.80,238.23 L519.31,238.08 L519.81,237.33 L520.31,237.46 L520.81,238.03 L521.31,239.01 L521.81,238.95 L522.31,238.94 L522.81,239.35 L523.31,239.35 L523.81,239.05 L524.31,239.35 L524.81,238.82 L525.31,239.07 L525.81,239.18 L526.32,238.79 L526.82,239.35 L527.32,239.12 L527.82,239.32 L528.32,239.35 L528.82,238.76 L529.32,238.91 L529.82,238.72 L530.32,239.29 L530.82,238.88 L531.32,239.14 L531.82,239.35 L532.32,239.17 L532.82,238.97 L533.33,239.35 L533.83,239.35 L534.33,239.35 L534.83,238.92 L535.33,239.01 L535.83,239.35 L536.33,239.05 L536.83,238.97 L537.33,238.92 L537.83,239.17 L538.33,239.09 L538.83,239.35 L539.33,239.35 L539.84,238.65 L540.34,239.03 L540.84,239.07 L541.34,238.73 L541.84,239.10 L542.34,239.05 L542.84,239.02 L543.34,238.39 L543.84,238.05 L544.34,238.11 L544.84,238.59 L545.34,238.84 L545.84,239.31 L546.34,238.74 L546.85,238.91 L547.35,239.35 L547.85,238.91 L548.35,239.00 L548.85,239.35 L549.35,238.86 L549.85,239.07 L550.35,239.33 L550.85,239.02 L551.35,239.35 L551.85,239.35 L552.35,239.13 L552.85,239.35 L553.35,238.89 L553.86,239.11 L554.36,239.35 L554.86,239.15 L555.36,238.99 L555.86,239.03 L556.36,239.17 L556.86,239.35 L557.36,239.06 L557.86,238.88 L558.36,239.35 L558.86,239.35 L559.36,238.84 L559.86,239.09 L560.36,239.35 L560.87,239.35 L561.37,239.27 L561.87,239.19 L562.37,239.35 L562.87,238.74 L563.37,238.89 L563.87,238.77 L564.37,239.10 L564.87,239.35 L565.37,238.79 L565.87,238.86 L566.37,239.09 L566.87,238.72 L567.38,239.35 L567.88,239.05 L568.38,239.35 L568.88,239.35 L569.38,239.16 L569.88,239.35 L570.38,239.35 L570.88,238.76 L571.38,238.93 L571.88,238.93 L572.38,238.83 L572.88,239.19 L573.38,238.65 L573.88,238.97 L574.39,238.80 L574.89,238.72 L575.39,238.74 L575.89,239.35 L576.39,239.35 L576.89,239.13 L577.39,238.86 L577.89,239.21 L578.39,239.25 L578.89,238.69 L579.39,239.35 L579.89,238.83 L580.39,238.68 L580.89,238.72 L581.40,238.97 L581.90,239.35 L582.40,239.35 L582.90,239.35 L583.40,239.35 L583.90,239.35 L584.40,238.83 L584.90,238.78 L585.40,239.35 L585.90,239.27 L586.40,239.29 L586.90,239.20 L587.40,239.35 L587.91,239.35 L588.41,239.35 L588.91,238.67 L589.41,239.27 L589.91,239.35 L590.41,239.35 L590.91,239.03 L591.41,239.19 L591.91,239.35 L592.41,238.68 L592.91,239.13 L593.41,239.16 L593.91,239.35 L594.41,239.35 L594.92,239.35 L595.42,239.35 L595.92,239.35 L596.42,239.04 L596.92,238.77 L597.42,239.35 L597.92,239.35 L598.42,238.88 L598.92,238.83 L599.42,238.94 L599.92,239.01 L600.42,239.35 L600.92,239.35 L601.42,239.01 L601.93,238.86 L602.43,239.35 L602.93,238.92 L603.43,239.35 L603.93,239.35 L604.43,239.17 L604.93,238.74 L605.43,239.35 L605.93,238.69 L606.43,239.35 L606.93,239.35 L607.43,238.95 L607.93,239.35 L608.44,239.35 L608.94,239.10 L609.44,239.01 L609.94,238.86 L610.44,239.35 L610.94,239.35 L611.44,238.74 L611.94,238.94 L612.44,239.35 L612.94,239.35 L613.44,239.19 L613.94,239.35 L614.44,238.74 L614.94,239.35 L615.45,239.06 L615.95,239.26 L616.45,238.93 L616.95,239.30 L617.45,239.35 L617.95,239.26 L618.45,239.27 L618.95,239.14 L619.45,239.35 L619.95,238.82 L620.45,238.80 L620.95,238.69 L621.45,239.23 L621.95,238.89 L622.46,238.92 L622.96,239.35 L623.46,239.35 L623.96,238.66 L624.46,238.69 L624.96,238.70 L625.46,238.91 L625.96,239.35 L626.46,239.35 L626.96,238.69 L627.46,239.21 L627.96,239.35 L628.46,239.35 L628.96,238.80 L629.47,239.35 L629.97,239.35 L630.47,238.74 L630.97,239.35 L631.47,239.35 L631.97,239.16 L632.47,239.35 L632.97,239.35 L633.47,239.35 L633.97,239.18 L634.47,239.35 L634.97,239.35 L635.47,239.35 L635.98,239.22 L636.48,239.35 L636.98,239.05 L637.48,239.16 L637.98,239.35 L638.48,239.35 L638.98,239.02 L639.48,238.66 L639.98,239.06 L640.48,239.02 L640.98,239.29 L641.48,239.20 L641.98,238.59 L642.48,238.27 L642.99,238.04 L643.49,237.22 L643.99,237.25 L644.49,236.75 L644.99,236.39 L645.49,235.48 L645.99,235.30 L646.49,235.12 L646.99,236.30 L647.49,236.93 L647.99,236.38 L648.49,236.92 L648.99,236.33 L649.49,236.19 L650.00,235.41 L650.50,236.03 L651.00,237.79 L651.50,238.44 L652.00,238.69 L652.50,238.69 L653.00,239.10 L653.0,239.5 Z" fill="#3577b0" stroke="#3577b0" stroke-width="0.3"/>
<text x="418.7" y="235.1" font-size="7.0" text-anchor="start" fill="#222" >BMPR2<tspan font-size="7" dy="-2.8">+</tspan></text>
<path d="M447.2,256.8 L447.20,256.32 L447.70,256.65 L448.20,256.57 L448.70,256.45 L449.20,256.16 L449.70,256.65 L450.20,256.44 L450.71,256.65 L451.21,256.65 L451.71,256.65 L452.21,256.46 L452.71,256.51 L453.21,256.41 L453.71,256.56 L454.21,256.53 L454.71,256.65 L455.21,256.39 L455.71,256.50 L456.21,256.65 L456.71,256.21 L457.21,256.65 L457.72,256.65 L458.22,256.65 L458.72,256.65 L459.22,256.18 L459.72,256.65 L460.22,256.60 L460.72,256.64 L461.22,256.49 L461.72,256.54 L462.22,256.65 L462.72,256.38 L463.22,256.65 L463.72,256.50 L464.22,256.65 L464.73,256.65 L465.23,256.65 L465.73,256.45 L466.23,256.65 L466.73,256.65 L467.23,256.65 L467.73,256.65 L468.23,256.65 L468.73,256.65 L469.23,256.44 L469.73,256.65 L470.23,256.65 L470.73,256.62 L471.24,256.65 L471.74,256.65 L472.24,256.53 L472.74,256.65 L473.24,256.54 L473.74,256.22 L474.24,256.53 L474.74,256.65 L475.24,256.38 L475.74,256.65 L476.24,256.49 L476.74,256.65 L477.24,256.52 L477.74,256.23 L478.25,256.17 L478.75,256.65 L479.25,256.65 L479.75,256.65 L480.25,256.65 L480.75,256.59 L481.25,256.35 L481.75,256.65 L482.25,256.65 L482.75,256.65 L483.25,256.40 L483.75,256.65 L484.25,256.20 L484.75,256.45 L485.26,256.65 L485.76,256.16 L486.26,256.24 L486.76,256.37 L487.26,256.65 L487.76,256.40 L488.26,256.65 L488.76,256.49 L489.26,256.65 L489.76,256.65 L490.26,256.65 L490.76,256.60 L491.26,256.26 L491.76,256.41 L492.27,256.65 L492.77,256.55 L493.27,256.65 L493.77,256.65 L494.27,256.65 L494.77,256.65 L495.27,256.61 L495.77,256.63 L496.27,256.62 L496.77,256.43 L497.27,256.25 L497.77,256.52 L498.27,256.35 L498.78,256.65 L499.28,256.65 L499.78,256.54 L500.28,256.65 L500.78,256.29 L501.28,256.11 L501.78,256.03 L502.28,254.31 L502.78,251.48 L503.28,251.70 L503.78,253.94 L504.28,255.93 L504.78,256.36 L505.28,256.64 L505.79,256.22 L506.29,256.65 L506.79,256.65 L507.29,256.65 L507.79,256.65 L508.29,256.37 L508.79,256.56 L509.29,256.65 L509.79,256.65 L510.29,256.32 L510.79,256.65 L511.29,256.65 L511.79,256.65 L512.29,256.65 L512.80,256.19 L513.30,256.65 L513.80,256.65 L514.30,256.65 L514.80,256.65 L515.30,256.65 L515.80,256.58 L516.30,256.31 L516.80,256.65 L517.30,256.65 L517.80,256.19 L518.30,256.49 L518.80,255.62 L519.31,254.22 L519.81,253.60 L520.31,253.04 L520.81,255.38 L521.31,255.83 L521.81,256.60 L522.31,256.64 L522.81,256.65 L523.31,256.50 L523.81,256.33 L524.31,256.65 L524.81,256.36 L525.31,256.54 L525.81,256.23 L526.32,256.35 L526.82,256.65 L527.32,256.53 L527.82,256.65 L528.32,256.27 L528.82,256.65 L529.32,256.18 L529.82,256.65 L530.32,256.65 L530.82,256.32 L531.32,256.65 L531.82,256.65 L532.32,256.48 L532.82,256.65 L533.33,256.26 L533.83,256.65 L534.33,256.35 L534.83,256.65 L535.33,256.65 L535.83,256.65 L536.33,256.65 L536.83,256.61 L537.33,256.22 L537.83,256.15 L538.33,256.65 L538.83,256.65 L539.33,256.61 L539.84,256.65 L540.34,256.65 L540.84,256.65 L541.34,256.62 L541.84,256.39 L542.34,256.14 L542.84,256.48 L543.34,255.91 L543.84,254.91 L544.34,254.88 L544.84,256.15 L545.34,256.14 L545.84,256.56 L546.34,256.65 L546.85,256.58 L547.35,256.50 L547.85,256.65 L548.35,256.65 L548.85,256.61 L549.35,256.23 L549.85,256.65 L550.35,256.65 L550.85,256.25 L551.35,256.29 L551.85,256.38 L552.35,256.65 L552.85,256.65 L553.35,256.65 L553.86,256.65 L554.36,256.65 L554.86,256.65 L555.36,256.65 L555.86,256.65 L556.36,256.21 L556.86,256.19 L557.36,256.48 L557.86,256.59 L558.36,256.65 L558.86,256.65 L559.36,256.63 L559.86,256.55 L560.36,256.65 L560.87,256.37 L561.37,256.53 L561.87,256.65 L562.37,256.51 L562.87,256.25 L563.37,256.65 L563.87,256.65 L564.37,256.44 L564.87,256.50 L565.37,256.65 L565.87,256.65 L566.37,256.65 L566.87,256.21 L567.38,256.65 L567.88,256.65 L568.38,256.65 L568.88,256.38 L569.38,256.37 L569.88,256.17 L570.38,256.65 L570.88,256.52 L571.38,256.49 L571.88,256.65 L572.38,256.25 L572.88,256.65 L573.38,256.65 L573.88,256.65 L574.39,256.65 L574.89,256.61 L575.39,256.38 L575.89,256.24 L576.39,256.61 L576.89,256.56 L577.39,256.23 L577.89,256.17 L578.39,256.65 L578.89,256.65 L579.39,256.65 L579.89,256.65 L580.39,256.53 L580.89,256.65 L581.40,256.65 L581.90,256.65 L582.40,256.20 L582.90,256.65 L583.40,256.65 L583.90,256.43 L584.40,256.21 L584.90,256.41 L585.40,256.29 L585.90,256.29 L586.40,256.37 L586.90,256.65 L587.40,256.30 L587.91,256.62 L588.41,256.63 L588.91,256.65 L589.41,256.44 L589.91,256.65 L590.41,256.59 L590.91,256.62 L591.41,256.65 L591.91,256.28 L592.41,256.15 L592.91,256.65 L593.41,256.29 L593.91,256.53 L594.41,256.53 L594.92,256.23 L595.42,256.65 L595.92,256.52 L596.42,256.65 L596.92,256.23 L597.42,256.65 L597.92,256.65 L598.42,256.65 L598.92,256.47 L599.42,256.20 L599.92,256.50 L600.42,256.32 L600.92,256.18 L601.42,256.65 L601.93,256.65 L602.43,256.65 L602.93,256.55 L603.43,256.55 L603.93,256.63 L604.43,256.65 L604.93,256.65 L605.43,256.19 L605.93,256.65 L606.43,256.54 L606.93,256.65 L607.43,256.65 L607.93,256.58 L608.44,256.43 L608.94,256.33 L609.44,256.65 L609.94,256.65 L610.44,256.65 L610.94,256.65 L611.44,256.65 L611.94,256.65 L612.44,256.22 L612.94,256.47 L613.44,256.48 L613.94,256.36 L614.44,256.57 L614.94,256.65 L615.45,256.55 L615.95,256.65 L616.45,256.65 L616.95,256.65 L617.45,256.65 L617.95,256.27 L618.45,256.17 L618.95,256.30 L619.45,256.59 L619.95,256.45 L620.45,256.45 L620.95,256.65 L621.45,256.65 L621.95,256.65 L622.46,256.65 L622.96,256.65 L623.46,256.18 L623.96,256.60 L624.46,256.65 L624.96,256.27 L625.46,256.43 L625.96,256.59 L626.46,256.65 L626.96,256.16 L627.46,256.65 L627.96,256.18 L628.46,256.65 L628.96,256.65 L629.47,256.65 L629.97,256.46 L630.47,256.28 L630.97,256.65 L631.47,256.28 L631.97,256.28 L632.47,256.50 L632.97,256.33 L633.47,256.48 L633.97,256.65 L634.47,256.65 L634.97,256.28 L635.47,256.34 L635.98,256.65 L636.48,256.24 L636.98,256.65 L637.48,256.16 L637.98,256.64 L638.48,256.64 L638.98,256.63 L639.48,256.59 L639.98,256.55 L640.48,256.45 L640.98,256.19 L641.48,256.10 L641.98,254.94 L642.48,254.90 L642.99,254.20 L643.49,253.72 L643.99,253.13 L644.49,251.43 L644.99,249.25 L645.49,247.67 L645.99,247.84 L646.49,251.17 L646.99,249.55 L647.49,248.68 L647.99,248.63 L648.49,248.08 L648.99,250.11 L649.49,253.85 L650.00,255.01 L650.50,255.63 L651.00,256.14 L651.50,256.37 L652.00,256.55 L652.50,256.60 L653.00,256.44 L653.0,256.8 Z" fill="#ec8a8a" stroke="#ec8a8a" stroke-width="0.3"/>
<text x="418.7" y="252.4" font-size="7.0" text-anchor="start" fill="#222" >BMPR2<tspan font-size="5.6" dy="-3.2">-</tspan></text>
<path d="M447.2,274.4 L447.20,273.84 L447.70,274.07 L448.20,274.25 L448.70,273.99 L449.20,274.25 L449.70,274.11 L450.20,274.16 L450.71,274.25 L451.21,274.03 L451.71,273.92 L452.21,274.20 L452.71,274.25 L453.21,274.04 L453.71,273.79 L454.21,274.25 L454.71,273.93 L455.21,273.96 L455.71,273.91 L456.21,274.25 L456.71,274.25 L457.21,274.09 L457.72,274.25 L458.22,273.96 L458.72,273.94 L459.22,274.25 L459.72,273.98 L460.22,274.25 L460.72,274.25 L461.22,273.91 L461.72,273.96 L462.22,274.16 L462.72,274.17 L463.22,274.25 L463.72,273.78 L464.22,273.82 L464.73,273.99 L465.23,274.25 L465.73,274.16 L466.23,274.25 L466.73,274.25 L467.23,273.93 L467.73,273.71 L468.23,274.01 L468.73,273.73 L469.23,273.77 L469.73,273.81 L470.23,274.25 L470.73,273.91 L471.24,274.25 L471.74,274.15 L472.24,274.25 L472.74,274.25 L473.24,273.72 L473.74,274.25 L474.24,274.25 L474.74,274.13 L475.24,273.88 L475.74,274.25 L476.24,274.25 L476.74,273.71 L477.24,274.25 L477.74,274.25 L478.25,273.94 L478.75,273.84 L479.25,274.00 L479.75,274.25 L480.25,274.03 L480.75,274.06 L481.25,273.91 L481.75,274.00 L482.25,273.88 L482.75,274.25 L483.25,274.00 L483.75,274.25 L484.25,274.25 L484.75,273.78 L485.26,274.07 L485.76,273.78 L486.26,273.87 L486.76,273.68 L487.26,273.80 L487.76,273.80 L488.26,273.58 L488.76,272.77 L489.26,272.87 L489.76,272.52 L490.26,272.19 L490.76,272.76 L491.26,272.92 L491.76,273.69 L492.27,273.79 L492.77,274.11 L493.27,274.23 L493.77,274.25 L494.27,274.22 L494.77,273.67 L495.27,274.25 L495.77,273.86 L496.27,274.25 L496.77,273.83 L497.27,274.25 L497.77,274.25 L498.27,274.25 L498.78,274.25 L499.28,273.93 L499.78,273.67 L500.28,274.25 L500.78,274.01 L501.28,273.80 L501.78,273.65 L502.28,271.62 L502.78,268.63 L503.28,269.98 L503.78,271.45 L504.28,273.36 L504.78,274.08 L505.28,274.24 L505.79,274.24 L506.29,273.76 L506.79,274.25 L507.29,273.94 L507.79,274.25 L508.29,273.99 L508.79,274.03 L509.29,274.11 L509.79,274.25 L510.29,273.87 L510.79,274.25 L511.29,273.96 L511.79,274.24 L512.29,274.25 L512.80,274.25 L513.30,274.25 L513.80,273.81 L514.30,273.92 L514.80,274.25 L515.30,273.71 L515.80,274.25 L516.30,274.25 L516.80,273.67 L517.30,273.68 L517.80,274.11 L518.30,273.35 L518.80,271.40 L519.31,266.31 L519.81,264.34 L520.31,264.57 L520.81,267.49 L521.31,272.34 L521.81,273.91 L522.31,274.19 L522.81,273.94 L523.31,274.25 L523.81,274.25 L524.31,273.77 L524.81,273.95 L525.31,274.25 L525.81,273.87 L526.32,273.97 L526.82,273.95 L527.32,274.05 L527.82,273.96 L528.32,274.23 L528.82,274.25 L529.32,273.66 L529.82,274.11 L530.32,274.25 L530.82,274.25 L531.32,274.14 L531.82,273.92 L532.32,274.25 L532.82,274.25 L533.33,273.82 L533.83,273.92 L534.33,274.25 L534.83,274.22 L535.33,274.12 L535.83,273.90 L536.33,274.10 L536.83,274.25 L537.33,273.74 L537.83,274.25 L538.33,273.97 L538.83,274.25 L539.33,273.98 L539.84,274.25 L540.34,274.23 L540.84,274.25 L541.34,274.09 L541.84,274.13 L542.34,273.64 L542.84,272.71 L543.34,269.46 L543.84,265.20 L544.34,267.94 L544.84,271.02 L545.34,273.44 L545.84,273.83 L546.34,274.09 L546.85,273.70 L547.35,274.03 L547.85,273.67 L548.35,274.08 L548.85,274.25 L549.35,274.25 L549.85,273.98 L550.35,273.81 L550.85,274.25 L551.35,274.25 L551.85,274.25 L552.35,274.25 L552.85,273.85 L553.35,274.25 L553.86,274.06 L554.36,273.92 L554.86,274.22 L555.36,274.05 L555.86,273.94 L556.36,273.79 L556.86,274.23 L557.36,274.25 L557.86,274.25 L558.36,273.88 L558.86,274.15 L559.36,274.25 L559.86,274.25 L560.36,274.25 L560.87,273.68 L561.37,274.25 L561.87,273.77 L562.37,274.14 L562.87,273.77 L563.37,274.09 L563.87,274.25 L564.37,274.25 L564.87,274.25 L565.37,274.25 L565.87,274.05 L566.37,274.19 L566.87,274.25 L567.38,274.02 L567.88,273.76 L568.38,274.25 L568.88,274.17 L569.38,274.07 L569.88,274.25 L570.38,274.25 L570.88,273.70 L571.38,273.96 L571.88,274.25 L572.38,274.25 L572.88,274.09 L573.38,274.25 L573.88,274.18 L574.39,274.25 L574.89,273.85 L575.39,273.86 L575.89,273.88 L576.39,274.25 L576.89,273.77 L577.39,274.02 L577.89,273.91 L578.39,273.65 L578.89,273.09 L579.39,273.16 L579.89,273.48 L580.39,273.44 L580.89,273.01 L581.40,273.42 L581.90,273.75 L582.40,274.18 L582.90,274.22 L583.40,274.25 L583.90,274.07 L584.40,273.84 L584.90,274.25 L585.40,274.15 L585.90,274.25 L586.40,274.25 L586.90,274.25 L587.40,273.73 L587.91,274.25 L588.41,274.25 L588.91,274.17 L589.41,273.72 L589.91,274.00 L590.41,273.98 L590.91,273.99 L591.41,273.75 L591.91,272.81 L592.41,272.92 L592.91,272.68 L593.41,272.87 L593.91,272.80 L594.41,273.72 L594.92,273.93 L595.42,274.14 L595.92,274.14 L596.42,274.24 L596.92,273.82 L597.42,273.70 L597.92,274.10 L598.42,274.25 L598.92,273.92 L599.42,274.11 L599.92,274.25 L600.42,273.68 L600.92,274.12 L601.42,274.19 L601.93,274.02 L602.43,274.25 L602.93,273.69 L603.43,273.91 L603.93,274.25 L604.43,273.96 L604.93,274.25 L605.43,274.25 L605.93,273.93 L606.43,274.25 L606.93,274.25 L607.43,273.85 L607.93,273.77 L608.44,273.86 L608.94,274.01 L609.44,273.82 L609.94,274.25 L610.44,274.25 L610.94,273.80 L611.44,274.02 L611.94,273.86 L612.44,274.25 L612.94,273.99 L613.44,273.99 L613.94,274.25 L614.44,274.17 L614.94,274.18 L615.45,273.75 L615.95,274.00 L616.45,274.25 L616.95,274.01 L617.45,274.25 L617.95,273.91 L618.45,274.23 L618.95,273.86 L619.45,273.97 L619.95,274.25 L620.45,274.25 L620.95,273.86 L621.45,274.18 L621.95,273.72 L622.46,274.25 L622.96,274.25 L623.46,273.92 L623.96,274.25 L624.46,274.25 L624.96,274.03 L625.46,274.12 L625.96,273.66 L626.46,274.25 L626.96,274.25 L627.46,274.07 L627.96,274.21 L628.46,273.74 L628.96,274.25 L629.47,274.21 L629.97,274.13 L630.47,273.86 L630.97,273.87 L631.47,274.24 L631.97,274.21 L632.47,274.11 L632.97,273.46 L633.47,273.43 L633.97,272.90 L634.47,272.37 L634.97,272.43 L635.47,272.00 L635.98,272.37 L636.48,273.49 L636.98,273.49 L637.48,274.10 L637.98,274.05 L638.48,274.18 L638.98,273.64 L639.48,273.49 L639.98,273.17 L640.48,273.58 L640.98,272.61 L641.48,272.31 L641.98,270.95 L642.48,269.42 L642.99,268.26 L643.49,266.66 L643.99,265.87 L644.49,267.78 L644.99,267.50 L645.49,264.91 L645.99,268.83 L646.49,266.81 L646.99,269.45 L647.49,266.39 L647.99,265.27 L648.49,261.00 L648.99,257.89 L649.49,262.80 L650.00,266.52 L650.50,272.12 L651.00,273.56 L651.50,273.94 L652.00,274.19 L652.50,274.09 L653.00,274.24 L653.0,274.4 Z" fill="#d62f2f" stroke="#d62f2f" stroke-width="0.3"/>
<text x="418.7" y="270.0" font-size="7.0" text-anchor="start" fill="#222" >BMPR2<tspan font-size="7" dy="-2.8">+</tspan></text>
<line x1="416.4" y1="205.5" x2="416.4" y2="238.9" stroke="#8a8a8a" stroke-width="1.1"/>
<line x1="416.4" y1="241.2" x2="416.4" y2="275.6" stroke="#8a8a8a" stroke-width="1.1"/>
<text x="0.0" y="0.0" font-size="7.0" text-anchor="middle" fill="#222" transform="translate(413.0,222.2) rotate(-90)">non-IR</text>
<text x="0.0" y="0.0" font-size="7.0" text-anchor="middle" fill="#222" transform="translate(413.0,258.4) rotate(-90)">IR</text>
<text x="430.0" y="287.9" font-size="7.3" text-anchor="middle" fill="#222" font-style="italic">Nrf2</text>
<line x1="455" y1="285.4" x2="647" y2="285.4" stroke="#5a5ad8" stroke-width="0.9"/>
<rect x="455.1" y="283.6" width="2.9" height="3.5" fill="#1212b4"/>
<rect x="458.0" y="282.6" width="7.7" height="5.5" fill="#1212b4"/>
<rect x="467.8" y="283.1" width="1.0" height="4.5" fill="#1212b4"/>
<rect x="473.9" y="283.1" width="1.0" height="4.5" fill="#1212b4"/>
<rect x="479.3" y="282.6" width="1.3" height="5.5" fill="#1212b4"/>
<polyline points="488.5,283.8 486.9,285.4 488.5,287.0" fill="none" stroke="#5a5ad8" stroke-width="0.6"/>
<polyline points="501.0,283.8 499.4,285.4 501.0,287.0" fill="none" stroke="#5a5ad8" stroke-width="0.6"/>
<polyline points="514.0,283.8 512.4,285.4 514.0,287.0" fill="none" stroke="#5a5ad8" stroke-width="0.6"/>
<polyline points="526.7,283.8 525.1,285.4 526.7,287.0" fill="none" stroke="#5a5ad8" stroke-width="0.6"/>
<polyline points="539.0,283.8 537.4,285.4 539.0,287.0" fill="none" stroke="#5a5ad8" stroke-width="0.6"/>
<polyline points="551.8,283.8 550.2,285.4 551.8,287.0" fill="none" stroke="#5a5ad8" stroke-width="0.6"/>
<polyline points="564.6,283.8 563.0,285.4 564.6,287.0" fill="none" stroke="#5a5ad8" stroke-width="0.6"/>
<polyline points="577.5,283.8 575.9,285.4 577.5,287.0" fill="none" stroke="#5a5ad8" stroke-width="0.6"/>
<polyline points="589.4,283.8 587.8,285.4 589.4,287.0" fill="none" stroke="#5a5ad8" stroke-width="0.6"/>
<polyline points="601.6,283.8 600.0,285.4 601.6,287.0" fill="none" stroke="#5a5ad8" stroke-width="0.6"/>
<polyline points="614.4,283.8 612.8,285.4 614.4,287.0" fill="none" stroke="#5a5ad8" stroke-width="0.6"/>
<polyline points="627.3,283.8 625.7,285.4 627.3,287.0" fill="none" stroke="#5a5ad8" stroke-width="0.6"/>
<polyline points="640.1,283.8 638.5,285.4 640.1,287.0" fill="none" stroke="#5a5ad8" stroke-width="0.6"/>
<rect x="646.2" y="282.6" width="1.3" height="5.5" fill="#1212b4"/>
<rect x="446.7" y="301.2" width="207.3" height="77.1" fill="#f7f7f7"/>
<rect x="461.2" y="301.2" width="15.9" height="74.8" fill="#d4d4d4"/>
<line x1="446.7" y1="318.8" x2="654.0" y2="318.8" stroke="#dcdcdc" stroke-width="0.5"/>
<line x1="446.7" y1="336.6" x2="654.0" y2="336.6" stroke="#dcdcdc" stroke-width="0.5"/>
<line x1="446.7" y1="353.3" x2="654.0" y2="353.3" stroke="#dcdcdc" stroke-width="0.5"/>
<line x1="446.7" y1="370.9" x2="654.0" y2="370.9" stroke="#dcdcdc" stroke-width="0.5"/>
<path d="M447.2,318.5 L447.20,318.35 L447.70,318.35 L448.20,318.35 L448.70,318.23 L449.20,318.35 L449.70,318.35 L450.20,318.35 L450.71,318.35 L451.21,318.35 L451.71,318.14 L452.21,318.31 L452.71,318.35 L453.21,318.16 L453.71,318.35 L454.21,318.16 L454.71,318.07 L455.21,318.35 L455.71,318.17 L456.21,318.35 L456.71,318.35 L457.21,318.35 L457.72,318.35 L458.22,318.35 L458.72,318.35 L459.22,318.27 L459.72,318.35 L460.22,318.35 L460.72,318.15 L461.22,318.35 L461.72,318.35 L462.22,318.35 L462.72,318.33 L463.22,318.25 L463.72,318.24 L464.22,318.14 L464.73,317.83 L465.23,317.68 L465.73,317.41 L466.23,316.98 L466.73,316.78 L467.23,316.82 L467.73,316.97 L468.23,317.39 L468.73,317.65 L469.23,317.93 L469.73,317.91 L470.23,318.24 L470.73,318.30 L471.24,318.33 L471.74,318.34 L472.24,318.35 L472.74,318.10 L473.24,318.35 L473.74,318.15 L474.24,318.35 L474.74,318.35 L475.24,318.35 L475.74,318.35 L476.24,318.20 L476.74,318.35 L477.24,318.35 L477.74,318.35 L478.25,318.35 L478.75,318.35 L479.25,318.35 L479.75,318.35 L480.25,318.08 L480.75,318.35 L481.25,318.26 L481.75,318.26 L482.25,318.33 L482.75,318.33 L483.25,318.31 L483.75,318.28 L484.25,318.24 L484.75,318.20 L485.26,318.14 L485.76,317.83 L486.26,317.91 L486.76,317.95 L487.26,317.88 L487.76,317.83 L488.26,317.71 L488.76,317.90 L489.26,317.95 L489.76,317.84 L490.26,318.06 L490.76,318.07 L491.26,318.21 L491.76,318.24 L492.27,318.07 L492.77,318.02 L493.27,318.33 L493.77,318.34 L494.27,318.34 L494.77,318.35 L495.27,318.35 L495.77,318.35 L496.27,318.09 L496.77,318.35 L497.27,318.22 L497.77,318.35 L498.27,318.35 L498.78,318.35 L499.28,318.35 L499.78,318.29 L500.28,318.24 L500.78,318.35 L501.28,318.35 L501.78,318.35 L502.28,318.35 L502.78,318.35 L503.28,318.20 L503.78,318.35 L504.28,318.06 L504.78,318.06 L505.28,318.35 L505.79,318.35 L506.29,318.35 L506.79,318.13 L507.29,318.35 L507.79,318.35 L508.29,318.10 L508.79,318.35 L509.29,318.35 L509.79,318.23 L510.29,318.35 L510.79,318.35 L511.29,318.35 L511.79,318.35 L512.29,318.18 L512.80,318.35 L513.30,318.35 L513.80,318.33 L514.30,318.35 L514.80,318.09 L515.30,318.35 L515.80,318.35 L516.30,318.35 L516.80,318.35 L517.30,318.35 L517.80,318.35 L518.30,318.35 L518.80,318.35 L519.31,318.35 L519.81,318.35 L520.31,318.11 L520.81,318.20 L521.31,318.21 L521.81,318.35 L522.31,318.35 L522.81,318.35 L523.31,318.35 L523.81,318.35 L524.31,318.15 L524.81,318.31 L525.31,318.35 L525.81,318.21 L526.32,318.35 L526.82,318.35 L527.32,318.35 L527.82,318.35 L528.32,318.35 L528.82,318.35 L529.32,318.35 L529.82,318.35 L530.32,318.35 L530.82,318.35 L531.32,318.35 L531.82,318.35 L532.32,318.35 L532.82,318.35 L533.33,318.35 L533.83,318.35 L534.33,318.35 L534.83,318.35 L535.33,318.35 L535.83,318.35 L536.33,318.35 L536.83,318.35 L537.33,318.11 L537.83,318.30 L538.33,318.35 L538.83,318.35 L539.33,318.35 L539.84,318.35 L540.34,318.35 L540.84,318.35 L541.34,318.35 L541.84,318.35 L542.34,318.35 L542.84,318.35 L543.34,318.11 L543.84,318.35 L544.34,318.21 L544.84,318.35 L545.34,318.31 L545.84,318.35 L546.34,318.35 L546.85,318.35 L547.35,318.35 L547.85,318.35 L548.35,318.35 L548.85,318.17 L549.35,318.13 L549.85,318.35 L550.35,318.35 L550.85,318.35 L551.35,318.35 L551.85,318.35 L552.35,318.35 L552.85,318.35 L553.35,318.35 L553.86,318.11 L554.36,318.35 L554.86,318.35 L555.36,318.35 L555.86,318.35 L556.36,318.26 L556.86,318.35 L557.36,318.35 L557.86,318.24 L558.36,318.35 L558.86,318.35 L559.36,318.35 L559.86,318.35 L560.36,318.35 L560.87,318.35 L561.37,318.35 L561.87,318.13 L562.37,318.35 L562.87,318.11 L563.37,318.35 L563.87,318.10 L564.37,318.35 L564.87,318.35 L565.37,318.35 L565.87,318.35 L566.37,318.35 L566.87,318.33 L567.38,318.35 L567.88,318.35 L568.38,318.35 L568.88,318.14 L569.38,318.24 L569.88,318.14 L570.38,318.35 L570.88,318.35 L571.38,318.35 L571.88,318.10 L572.38,318.35 L572.88,318.35 L573.38,318.34 L573.88,318.35 L574.39,318.35 L574.89,318.35 L575.39,318.35 L575.89,318.35 L576.39,318.35 L576.89,318.35 L577.39,318.35 L577.89,318.35 L578.39,318.35 L578.89,318.35 L579.39,318.35 L579.89,318.35 L580.39,318.35 L580.89,318.22 L581.40,318.05 L581.90,318.35 L582.40,318.17 L582.90,318.35 L583.40,318.35 L583.90,318.35 L584.40,318.35 L584.90,318.35 L585.40,318.35 L585.90,318.35 L586.40,318.35 L586.90,318.35 L587.40,318.35 L587.91,318.34 L588.41,318.35 L588.91,318.35 L589.41,318.35 L589.91,318.35 L590.41,318.35 L590.91,318.35 L591.41,318.35 L591.91,318.35 L592.41,318.35 L592.91,318.20 L593.41,318.35 L593.91,318.35 L594.41,318.35 L594.92,318.35 L595.42,318.35 L595.92,318.35 L596.42,318.10 L596.92,318.29 L597.42,318.35 L597.92,318.20 L598.42,318.35 L598.92,318.35 L599.42,318.35 L599.92,318.35 L600.42,318.35 L600.92,318.35 L601.42,318.32 L601.93,318.35 L602.43,318.07 L602.93,318.35 L603.43,318.35 L603.93,318.35 L604.43,318.35 L604.93,318.35 L605.43,318.35 L605.93,318.35 L606.43,318.35 L606.93,318.35 L607.43,318.35 L607.93,318.35 L608.44,318.35 L608.94,318.35 L609.44,318.35 L609.94,318.22 L610.44,318.35 L610.94,318.35 L611.44,318.35 L611.94,318.35 L612.44,318.35 L612.94,318.35 L613.44,318.35 L613.94,318.35 L614.44,318.35 L614.94,318.35 L615.45,318.35 L615.95,318.35 L616.45,318.32 L616.95,318.35 L617.45,318.35 L617.95,318.16 L618.45,318.35 L618.95,318.35 L619.45,318.35 L619.95,318.35 L620.45,318.19 L620.95,318.35 L621.45,318.35 L621.95,318.35 L622.46,318.28 L622.96,318.25 L623.46,318.35 L623.96,318.35 L624.46,318.35 L624.96,318.27 L625.46,318.35 L625.96,318.35 L626.46,318.35 L626.96,318.35 L627.46,318.35 L627.96,318.35 L628.46,318.06 L628.96,318.35 L629.47,318.35 L629.97,318.35 L630.47,318.35 L630.97,318.35 L631.47,318.18 L631.97,318.35 L632.47,318.35 L632.97,318.22 L633.47,318.35 L633.97,318.35 L634.47,318.12 L634.97,318.35 L635.47,318.35 L635.98,318.35 L636.48,318.35 L636.98,318.35 L637.48,318.35 L637.98,318.35 L638.48,318.34 L638.98,318.34 L639.48,318.18 L639.98,318.35 L640.48,318.35 L640.98,318.35 L641.48,318.35 L641.98,318.35 L642.48,318.21 L642.99,318.13 L643.49,318.35 L643.99,318.35 L644.49,318.35 L644.99,318.35 L645.49,318.35 L645.99,318.32 L646.49,318.35 L646.99,318.35 L647.49,318.35 L647.99,318.35 L648.49,318.35 L648.99,318.35 L649.49,318.35 L650.00,318.35 L650.50,318.35 L651.00,318.25 L651.50,318.26 L652.00,318.35 L652.50,318.35 L653.00,318.35 L653.0,318.5 Z" fill="#9cc3df" stroke="#9cc3df" stroke-width="0.3"/>
<text x="418.7" y="314.1" font-size="7.0" text-anchor="start" fill="#222" >BMPR2<tspan font-size="5.6" dy="-3.2">-</tspan></text>
<path d="M447.2,336.3 L447.20,335.81 L447.70,336.15 L448.20,335.86 L448.70,335.65 L449.20,335.90 L449.70,336.15 L450.20,335.91 L450.71,336.15 L451.21,336.15 L451.71,336.15 L452.21,335.92 L452.71,335.79 L453.21,336.15 L453.71,336.06 L454.21,336.10 L454.71,336.15 L455.21,336.15 L455.71,336.03 L456.21,336.15 L456.71,335.94 L457.21,336.15 L457.72,336.15 L458.22,336.15 L458.72,336.15 L459.22,335.81 L459.72,336.15 L460.22,336.15 L460.72,336.15 L461.22,336.15 L461.72,335.96 L462.22,336.14 L462.72,335.74 L463.22,336.06 L463.72,335.98 L464.22,335.77 L464.73,335.46 L465.23,334.77 L465.73,334.42 L466.23,334.01 L466.73,333.70 L467.23,333.70 L467.73,333.81 L468.23,334.34 L468.73,334.90 L469.23,335.44 L469.73,335.79 L470.23,335.70 L470.73,336.08 L471.24,335.80 L471.74,335.72 L472.24,335.96 L472.74,336.06 L473.24,335.74 L473.74,335.85 L474.24,336.00 L474.74,336.15 L475.24,336.15 L475.74,336.15 L476.24,336.15 L476.74,336.15 L477.24,336.02 L477.74,336.12 L478.25,336.13 L478.75,335.68 L479.25,336.15 L479.75,335.88 L480.25,335.72 L480.75,336.15 L481.25,335.68 L481.75,336.15 L482.25,336.15 L482.75,336.15 L483.25,335.95 L483.75,336.14 L484.25,336.10 L484.75,336.03 L485.26,336.15 L485.76,335.88 L486.26,336.15 L486.76,336.15 L487.26,336.04 L487.76,335.74 L488.26,336.15 L488.76,335.76 L489.26,336.15 L489.76,336.15 L490.26,335.90 L490.76,336.15 L491.26,336.15 L491.76,335.79 L492.27,335.83 L492.77,336.15 L493.27,335.83 L493.77,335.90 L494.27,336.13 L494.77,336.09 L495.27,335.80 L495.77,336.05 L496.27,336.00 L496.77,335.90 L497.27,336.15 L497.77,336.15 L498.27,335.74 L498.78,336.14 L499.28,336.13 L499.78,336.11 L500.28,335.99 L500.78,336.04 L501.28,335.97 L501.78,335.90 L502.28,335.79 L502.78,335.71 L503.28,335.54 L503.78,335.32 L504.28,335.25 L504.78,335.32 L505.28,335.30 L505.79,335.44 L506.29,335.41 L506.79,335.34 L507.29,335.35 L507.79,335.81 L508.29,335.92 L508.79,335.99 L509.29,335.97 L509.79,335.80 L510.29,335.73 L510.79,335.93 L511.29,335.98 L511.79,335.66 L512.29,335.84 L512.80,336.15 L513.30,335.75 L513.80,336.15 L514.30,336.15 L514.80,336.15 L515.30,336.12 L515.80,335.97 L516.30,336.05 L516.80,336.15 L517.30,336.15 L517.80,336.15 L518.30,336.15 L518.80,336.15 L519.31,336.15 L519.81,335.88 L520.31,336.15 L520.81,336.15 L521.31,335.96 L521.81,336.15 L522.31,335.97 L522.81,336.15 L523.31,336.15 L523.81,336.15 L524.31,336.15 L524.81,336.15 L525.31,336.15 L525.81,335.81 L526.32,336.09 L526.82,336.15 L527.32,336.15 L527.82,336.10 L528.32,336.15 L528.82,336.15 L529.32,336.15 L529.82,335.98 L530.32,336.15 L530.82,336.01 L531.32,336.15 L531.82,336.15 L532.32,336.15 L532.82,336.15 L533.33,336.15 L533.83,336.04 L534.33,336.13 L534.83,335.83 L535.33,336.10 L535.83,335.82 L536.33,336.02 L536.83,335.96 L537.33,335.52 L537.83,335.78 L538.33,335.70 L538.83,335.61 L539.33,335.60 L539.84,335.46 L540.34,335.26 L540.84,335.60 L541.34,335.63 L541.84,335.74 L542.34,335.65 L542.84,335.63 L543.34,335.98 L543.84,335.74 L544.34,336.08 L544.84,336.11 L545.34,336.13 L545.84,336.14 L546.34,336.14 L546.85,335.79 L547.35,336.15 L547.85,336.15 L548.35,336.15 L548.85,336.15 L549.35,336.15 L549.85,336.15 L550.35,335.77 L550.85,336.15 L551.35,336.15 L551.85,336.15 L552.35,335.76 L552.85,335.76 L553.35,336.15 L553.86,336.15 L554.36,336.15 L554.86,336.15 L555.36,335.79 L555.86,336.15 L556.36,336.15 L556.86,336.15 L557.36,335.97 L557.86,336.15 L558.36,335.66 L558.86,335.72 L559.36,335.91 L559.86,336.15 L560.36,335.84 L560.87,336.15 L561.37,336.15 L561.87,336.05 L562.37,336.15 L562.87,336.15 L563.37,335.76 L563.87,336.15 L564.37,335.74 L564.87,336.15 L565.37,335.67 L565.87,336.15 L566.37,336.15 L566.87,336.15 L567.38,335.86 L567.88,336.15 L568.38,336.14 L568.88,335.81 L569.38,336.13 L569.88,335.95 L570.38,336.06 L570.88,336.04 L571.38,336.00 L571.88,335.91 L572.38,335.69 L572.88,335.74 L573.38,335.62 L573.88,335.50 L574.39,334.99 L574.89,335.49 L575.39,335.48 L575.89,335.56 L576.39,335.59 L576.89,335.22 L577.39,335.79 L577.89,335.86 L578.39,335.79 L578.89,336.01 L579.39,335.93 L579.89,335.69 L580.39,336.12 L580.89,336.13 L581.40,336.14 L581.90,336.15 L582.40,336.15 L582.90,336.06 L583.40,336.15 L583.90,336.15 L584.40,336.12 L584.90,335.96 L585.40,336.15 L585.90,336.15 L586.40,336.15 L586.90,336.15 L587.40,336.15 L587.91,336.15 L588.41,336.15 L588.91,335.87 L589.41,336.15 L589.91,336.06 L590.41,336.15 L590.91,336.15 L591.41,336.15 L591.91,336.13 L592.41,336.15 L592.91,335.81 L593.41,336.15 L593.91,336.15 L594.41,336.15 L594.92,336.12 L595.42,336.15 L595.92,336.15 L596.42,335.83 L596.92,336.15 L597.42,336.15 L597.92,336.15 L598.42,336.15 L598.92,336.15 L599.42,335.72 L599.92,336.15 L600.42,336.15 L600.92,335.82 L601.42,336.15 L601.93,336.15 L602.43,336.15 L602.93,335.89 L603.43,336.15 L603.93,336.15 L604.43,335.85 L604.93,336.15 L605.43,336.15 L605.93,335.73 L606.43,336.15 L606.93,335.91 L607.43,336.15 L607.93,336.12 L608.44,336.15 L608.94,335.77 L609.44,336.15 L609.94,336.15 L610.44,336.15 L610.94,335.79 L611.44,336.14 L611.94,335.83 L612.44,335.66 L612.94,335.81 L613.44,336.15 L613.94,335.79 L614.44,336.15 L614.94,336.15 L615.45,336.15 L615.95,336.15 L616.45,335.97 L616.95,336.15 L617.45,336.15 L617.95,335.67 L618.45,336.15 L618.95,336.15 L619.45,335.70 L619.95,335.83 L620.45,336.03 L620.95,336.15 L621.45,336.08 L621.95,335.79 L622.46,335.72 L622.96,336.15 L623.46,335.92 L623.96,336.15 L624.46,335.86 L624.96,335.73 L625.46,336.15 L625.96,336.15 L626.46,335.87 L626.96,336.15 L627.46,335.92 L627.96,336.15 L628.46,336.15 L628.96,335.94 L629.47,336.15 L629.97,335.90 L630.47,336.15 L630.97,336.15 L631.47,336.15 L631.97,336.04 L632.47,335.74 L632.97,336.15 L633.47,336.15 L633.97,335.75 L634.47,336.15 L634.97,336.15 L635.47,336.15 L635.98,336.15 L636.48,336.15 L636.98,336.15 L637.48,335.97 L637.98,335.91 L638.48,335.89 L638.98,336.15 L639.48,336.01 L639.98,336.15 L640.48,335.74 L640.98,335.86 L641.48,336.15 L641.98,336.15 L642.48,335.92 L642.99,335.96 L643.49,336.15 L643.99,336.15 L644.49,335.79 L644.99,336.15 L645.49,335.93 L645.99,336.03 L646.49,336.15 L646.99,335.70 L647.49,336.00 L647.99,336.15 L648.49,336.15 L648.99,336.15 L649.49,335.69 L650.00,336.15 L650.50,336.15 L651.00,336.15 L651.50,335.94 L652.00,336.15 L652.50,336.12 L653.00,335.85 L653.0,336.3 Z" fill="#3577b0" stroke="#3577b0" stroke-width="0.3"/>
<text x="418.7" y="331.9" font-size="7.0" text-anchor="start" fill="#222" >BMPR2<tspan font-size="7" dy="-2.8">+</tspan></text>
<path d="M447.2,353.0 L447.20,352.85 L447.70,352.81 L448.20,352.56 L448.70,352.85 L449.20,352.85 L449.70,352.85 L450.20,352.85 L450.71,352.56 L451.21,352.85 L451.71,352.84 L452.21,352.85 L452.71,352.85 L453.21,352.67 L453.71,352.85 L454.21,352.85 L454.71,352.85 L455.21,352.69 L455.71,352.84 L456.21,352.64 L456.71,352.85 L457.21,352.85 L457.72,352.85 L458.22,352.85 L458.72,352.70 L459.22,352.85 L459.72,352.85 L460.22,352.59 L460.72,352.85 L461.22,352.85 L461.72,352.85 L462.22,352.84 L462.72,352.76 L463.22,352.52 L463.72,352.69 L464.22,352.48 L464.73,352.05 L465.23,351.25 L465.73,350.39 L466.23,349.46 L466.73,348.93 L467.23,348.43 L467.73,348.78 L468.23,349.05 L468.73,349.58 L469.23,349.79 L469.73,349.76 L470.23,349.71 L470.73,349.79 L471.24,349.77 L471.74,349.74 L472.24,350.06 L472.74,350.15 L473.24,350.58 L473.74,350.80 L474.24,351.05 L474.74,351.26 L475.24,351.47 L475.74,351.26 L476.24,351.64 L476.74,351.66 L477.24,351.68 L477.74,351.91 L478.25,351.95 L478.75,352.17 L479.25,352.29 L479.75,352.42 L480.25,352.52 L480.75,352.63 L481.25,352.71 L481.75,352.77 L482.25,352.80 L482.75,352.83 L483.25,352.84 L483.75,352.84 L484.25,352.81 L484.75,352.72 L485.26,352.85 L485.76,352.85 L486.26,352.72 L486.76,352.80 L487.26,352.60 L487.76,352.85 L488.26,352.85 L488.76,352.85 L489.26,352.85 L489.76,352.56 L490.26,352.66 L490.76,352.85 L491.26,352.85 L491.76,352.85 L492.27,352.77 L492.77,352.85 L493.27,352.71 L493.77,352.58 L494.27,352.58 L494.77,352.85 L495.27,352.85 L495.77,352.78 L496.27,352.85 L496.77,352.85 L497.27,352.76 L497.77,352.85 L498.27,352.85 L498.78,352.77 L499.28,352.70 L499.78,352.85 L500.28,352.85 L500.78,352.70 L501.28,352.83 L501.78,352.85 L502.28,352.85 L502.78,352.76 L503.28,352.85 L503.78,352.85 L504.28,352.85 L504.78,352.85 L505.28,352.85 L505.79,352.85 L506.29,352.85 L506.79,352.85 L507.29,352.85 L507.79,352.85 L508.29,352.85 L508.79,352.85 L509.29,352.85 L509.79,352.85 L510.29,352.85 L510.79,352.85 L511.29,352.65 L511.79,352.64 L512.29,352.85 L512.80,352.79 L513.30,352.63 L513.80,352.61 L514.30,352.85 L514.80,352.85 L515.30,352.85 L515.80,352.85 L516.30,352.72 L516.80,352.74 L517.30,352.76 L517.80,352.85 L518.30,352.85 L518.80,352.85 L519.31,352.84 L519.81,352.85 L520.31,352.84 L520.81,352.85 L521.31,352.85 L521.81,352.85 L522.31,352.68 L522.81,352.85 L523.31,352.85 L523.81,352.85 L524.31,352.71 L524.81,352.85 L525.31,352.85 L525.81,352.72 L526.32,352.85 L526.82,352.64 L527.32,352.85 L527.82,352.85 L528.32,352.85 L528.82,352.85 L529.32,352.85 L529.82,352.85 L530.32,352.66 L530.82,352.85 L531.32,352.59 L531.82,352.73 L532.32,352.70 L532.82,352.85 L533.33,352.85 L533.83,352.85 L534.33,352.85 L534.83,352.85 L535.33,352.85 L535.83,352.85 L536.33,352.85 L536.83,352.85 L537.33,352.85 L537.83,352.78 L538.33,352.85 L538.83,352.85 L539.33,352.85 L539.84,352.65 L540.34,352.85 L540.84,352.85 L541.34,352.85 L541.84,352.85 L542.34,352.85 L542.84,352.85 L543.34,352.59 L543.84,352.85 L544.34,352.73 L544.84,352.79 L545.34,352.79 L545.84,352.85 L546.34,352.85 L546.85,352.85 L547.35,352.85 L547.85,352.85 L548.35,352.85 L548.85,352.68 L549.35,352.68 L549.85,352.85 L550.35,352.85 L550.85,352.71 L551.35,352.61 L551.85,352.76 L552.35,352.85 L552.85,352.85 L553.35,352.85 L553.86,352.85 L554.36,352.85 L554.86,352.85 L555.36,352.81 L555.86,352.85 L556.36,352.85 L556.86,352.74 L557.36,352.85 L557.86,352.85 L558.36,352.85 L558.86,352.85 L559.36,352.85 L559.86,352.85 L560.36,352.71 L560.87,352.68 L561.37,352.85 L561.87,352.85 L562.37,352.85 L562.87,352.64 L563.37,352.85 L563.87,352.85 L564.37,352.85 L564.87,352.85 L565.37,352.67 L565.87,352.85 L566.37,352.85 L566.87,352.85 L567.38,352.85 L567.88,352.85 L568.38,352.74 L568.88,352.85 L569.38,352.75 L569.88,352.85 L570.38,352.85 L570.88,352.76 L571.38,352.76 L571.88,352.85 L572.38,352.85 L572.88,352.83 L573.38,352.82 L573.88,352.85 L574.39,352.85 L574.89,352.85 L575.39,352.58 L575.89,352.78 L576.39,352.85 L576.89,352.64 L577.39,352.85 L577.89,352.85 L578.39,352.56 L578.89,352.85 L579.39,352.75 L579.89,352.79 L580.39,352.76 L580.89,352.85 L581.40,352.85 L581.90,352.85 L582.40,352.82 L582.90,352.85 L583.40,352.85 L583.90,352.85 L584.40,352.61 L584.90,352.75 L585.40,352.85 L585.90,352.83 L586.40,352.85 L586.90,352.85 L587.40,352.85 L587.91,352.85 L588.41,352.85 L588.91,352.85 L589.41,352.72 L589.91,352.85 L590.41,352.73 L590.91,352.58 L591.41,352.78 L591.91,352.85 L592.41,352.85 L592.91,352.85 L593.41,352.85 L593.91,352.85 L594.41,352.80 L594.92,352.85 L595.42,352.66 L595.92,352.74 L596.42,352.85 L596.92,352.79 L597.42,352.85 L597.92,352.85 L598.42,352.85 L598.92,352.85 L599.42,352.85 L599.92,352.66 L600.42,352.85 L600.92,352.85 L601.42,352.84 L601.93,352.58 L602.43,352.85 L602.93,352.65 L603.43,352.79 L603.93,352.85 L604.43,352.85 L604.93,352.85 L605.43,352.85 L605.93,352.85 L606.43,352.85 L606.93,352.85 L607.43,352.85 L607.93,352.85 L608.44,352.82 L608.94,352.85 L609.44,352.80 L609.94,352.85 L610.44,352.74 L610.94,352.61 L611.44,352.85 L611.94,352.85 L612.44,352.85 L612.94,352.63 L613.44,352.85 L613.94,352.70 L614.44,352.85 L614.94,352.85 L615.45,352.85 L615.95,352.85 L616.45,352.81 L616.95,352.85 L617.45,352.85 L617.95,352.85 L618.45,352.85 L618.95,352.85 L619.45,352.85 L619.95,352.72 L620.45,352.85 L620.95,352.85 L621.45,352.85 L621.95,352.70 L622.46,352.83 L622.96,352.85 L623.46,352.85 L623.96,352.85 L624.46,352.85 L624.96,352.73 L625.46,352.84 L625.96,352.85 L626.46,352.85 L626.96,352.85 L627.46,352.83 L627.96,352.85 L628.46,352.85 L628.96,352.85 L629.47,352.85 L629.97,352.85 L630.47,352.69 L630.97,352.65 L631.47,352.85 L631.97,352.85 L632.47,352.68 L632.97,352.61 L633.47,352.72 L633.97,352.85 L634.47,352.85 L634.97,352.85 L635.47,352.59 L635.98,352.85 L636.48,352.56 L636.98,352.60 L637.48,352.85 L637.98,352.77 L638.48,352.85 L638.98,352.65 L639.48,352.59 L639.98,352.85 L640.48,352.85 L640.98,352.78 L641.48,352.85 L641.98,352.85 L642.48,352.85 L642.99,352.79 L643.49,352.84 L643.99,352.85 L644.49,352.85 L644.99,352.85 L645.49,352.75 L645.99,352.85 L646.49,352.85 L646.99,352.85 L647.49,352.79 L647.99,352.85 L648.49,352.85 L648.99,352.67 L649.49,352.85 L650.00,352.70 L650.50,352.85 L651.00,352.85 L651.50,352.85 L652.00,352.85 L652.50,352.85 L653.00,352.83 L653.0,353.0 Z" fill="#ec8a8a" stroke="#ec8a8a" stroke-width="0.3"/>
<text x="418.7" y="348.6" font-size="7.0" text-anchor="start" fill="#222" >BMPR2<tspan font-size="5.6" dy="-3.2">-</tspan></text>
<path d="M447.2,370.6 L447.20,370.45 L447.70,370.45 L448.20,370.27 L448.70,370.17 L449.20,370.43 L449.70,370.45 L450.20,370.22 L450.71,370.45 L451.21,370.45 L451.71,370.45 L452.21,370.34 L452.71,370.33 L453.21,370.41 L453.71,370.23 L454.21,370.06 L454.71,370.45 L455.21,370.45 L455.71,370.06 L456.21,370.45 L456.71,370.41 L457.21,370.45 L457.72,370.45 L458.22,370.45 L458.72,370.45 L459.22,370.45 L459.72,370.45 L460.22,370.45 L460.72,370.23 L461.22,370.45 L461.72,370.14 L462.22,370.45 L462.72,370.17 L463.22,370.43 L463.72,370.04 L464.22,370.27 L464.73,369.76 L465.23,369.00 L465.73,367.50 L466.23,365.02 L466.73,361.95 L467.23,360.12 L467.73,359.03 L468.23,359.83 L468.73,361.22 L469.23,361.67 L469.73,362.96 L470.23,362.87 L470.73,363.14 L471.24,363.93 L471.74,363.79 L472.24,364.62 L472.74,365.76 L473.24,366.58 L473.74,367.25 L474.24,367.55 L474.74,367.74 L475.24,367.34 L475.74,367.71 L476.24,367.68 L476.74,367.93 L477.24,368.21 L477.74,368.61 L478.25,368.93 L478.75,369.44 L479.25,369.70 L479.75,369.92 L480.25,369.99 L480.75,370.25 L481.25,370.33 L481.75,370.38 L482.25,370.42 L482.75,370.10 L483.25,370.44 L483.75,370.22 L484.25,370.15 L484.75,370.36 L485.26,370.45 L485.76,370.45 L486.26,370.13 L486.76,370.45 L487.26,370.18 L487.76,370.45 L488.26,370.45 L488.76,370.45 L489.26,370.45 L489.76,370.21 L490.26,370.45 L490.76,370.25 L491.26,370.30 L491.76,370.45 L492.27,370.45 L492.77,370.45 L493.27,370.08 L493.77,370.45 L494.27,370.45 L494.77,370.16 L495.27,370.11 L495.77,370.45 L496.27,370.45 L496.77,370.24 L497.27,370.45 L497.77,370.45 L498.27,370.45 L498.78,370.45 L499.28,370.45 L499.78,370.45 L500.28,370.45 L500.78,370.45 L501.28,370.45 L501.78,370.45 L502.28,370.45 L502.78,370.32 L503.28,370.40 L503.78,370.18 L504.28,370.45 L504.78,370.45 L505.28,370.45 L505.79,370.45 L506.29,370.26 L506.79,370.45 L507.29,370.43 L507.79,370.45 L508.29,370.24 L508.79,370.45 L509.29,370.29 L509.79,370.45 L510.29,370.37 L510.79,370.45 L511.29,370.45 L511.79,370.29 L512.29,370.10 L512.80,370.37 L513.30,370.11 L513.80,370.45 L514.30,370.25 L514.80,370.45 L515.30,370.45 L515.80,370.45 L516.30,370.13 L516.80,370.45 L517.30,370.35 L517.80,370.22 L518.30,370.25 L518.80,370.22 L519.31,370.13 L519.81,370.16 L520.31,370.38 L520.81,370.09 L521.31,370.16 L521.81,370.36 L522.31,370.45 L522.81,370.45 L523.31,370.45 L523.81,370.45 L524.31,370.45 L524.81,370.45 L525.31,370.45 L525.81,370.15 L526.32,370.45 L526.82,370.17 L527.32,370.45 L527.82,370.25 L528.32,370.45 L528.82,370.20 L529.32,370.45 L529.82,370.17 L530.32,370.20 L530.82,370.45 L531.32,370.45 L531.82,370.45 L532.32,370.36 L532.82,370.44 L533.33,370.45 L533.83,370.45 L534.33,370.19 L534.83,370.34 L535.33,370.45 L535.83,370.06 L536.33,370.45 L536.83,370.45 L537.33,370.45 L537.83,370.22 L538.33,370.45 L538.83,370.21 L539.33,370.45 L539.84,370.45 L540.34,370.45 L540.84,370.45 L541.34,370.43 L541.84,370.45 L542.34,370.35 L542.84,370.27 L543.34,370.45 L543.84,370.37 L544.34,370.07 L544.84,370.45 L545.34,370.33 L545.84,370.26 L546.34,370.36 L546.85,370.45 L547.35,370.45 L547.85,370.27 L548.35,370.45 L548.85,370.45 L549.35,370.45 L549.85,370.45 L550.35,370.42 L550.85,370.45 L551.35,370.32 L551.85,370.08 L552.35,370.45 L552.85,370.45 L553.35,370.45 L553.86,370.20 L554.36,370.45 L554.86,370.10 L555.36,370.45 L555.86,370.45 L556.36,370.45 L556.86,370.14 L557.36,370.45 L557.86,370.45 L558.36,370.06 L558.86,370.34 L559.36,370.45 L559.86,370.36 L560.36,370.45 L560.87,370.45 L561.37,370.34 L561.87,370.45 L562.37,370.22 L562.87,370.45 L563.37,370.40 L563.87,370.45 L564.37,370.45 L564.87,370.32 L565.37,370.45 L565.87,370.39 L566.37,370.45 L566.87,370.45 L567.38,370.45 L567.88,370.45 L568.38,370.45 L568.88,370.45 L569.38,370.45 L569.88,370.45 L570.38,370.45 L570.88,370.38 L571.38,370.45 L571.88,370.19 L572.38,370.45 L572.88,370.23 L573.38,370.45 L573.88,370.45 L574.39,370.45 L574.89,370.45 L575.39,370.14 L575.89,370.45 L576.39,370.15 L576.89,370.08 L577.39,370.45 L577.89,370.12 L578.39,370.45 L578.89,370.45 L579.39,370.45 L579.89,370.45 L580.39,370.15 L580.89,370.45 L581.40,370.05 L581.90,370.41 L582.40,370.27 L582.90,370.45 L583.40,370.45 L583.90,370.45 L584.40,370.34 L584.90,370.45 L585.40,370.36 L585.90,370.45 L586.40,370.37 L586.90,370.45 L587.40,370.45 L587.91,370.45 L588.41,370.45 L588.91,370.45 L589.41,370.45 L589.91,370.45 L590.41,370.27 L590.91,370.25 L591.41,370.42 L591.91,370.45 L592.41,370.45 L592.91,370.45 L593.41,370.45 L593.91,370.45 L594.41,370.29 L594.92,370.45 L595.42,370.45 L595.92,370.22 L596.42,370.27 L596.92,370.45 L597.42,370.45 L597.92,370.45 L598.42,370.45 L598.92,370.45 L599.42,370.25 L599.92,370.07 L600.42,370.45 L600.92,370.21 L601.42,370.08 L601.93,370.45 L602.43,370.34 L602.93,370.45 L603.43,370.31 L603.93,370.32 L604.43,370.06 L604.93,370.45 L605.43,370.45 L605.93,370.45 L606.43,370.45 L606.93,370.45 L607.43,370.08 L607.93,370.45 L608.44,370.45 L608.94,370.45 L609.44,370.45 L609.94,370.38 L610.44,370.45 L610.94,370.45 L611.44,370.45 L611.94,370.28 L612.44,370.45 L612.94,370.41 L613.44,370.24 L613.94,370.45 L614.44,370.45 L614.94,370.06 L615.45,370.42 L615.95,370.21 L616.45,370.45 L616.95,370.45 L617.45,370.45 L617.95,370.45 L618.45,370.29 L618.95,370.45 L619.45,370.19 L619.95,370.24 L620.45,370.45 L620.95,370.30 L621.45,370.27 L621.95,370.45 L622.46,370.45 L622.96,370.35 L623.46,370.45 L623.96,370.28 L624.46,370.11 L624.96,370.30 L625.46,370.45 L625.96,370.27 L626.46,370.45 L626.96,370.33 L627.46,370.45 L627.96,370.45 L628.46,370.45 L628.96,370.45 L629.47,370.35 L629.97,370.36 L630.47,370.16 L630.97,370.45 L631.47,370.45 L631.97,370.45 L632.47,370.45 L632.97,370.45 L633.47,370.34 L633.97,370.45 L634.47,370.45 L634.97,370.28 L635.47,370.45 L635.98,370.45 L636.48,370.45 L636.98,370.45 L637.48,370.45 L637.98,370.23 L638.48,370.38 L638.98,370.45 L639.48,370.45 L639.98,370.45 L640.48,370.45 L640.98,370.45 L641.48,370.45 L641.98,370.45 L642.48,370.45 L642.99,370.45 L643.49,370.45 L643.99,370.45 L644.49,370.45 L644.99,370.45 L645.49,370.45 L645.99,370.45 L646.49,370.45 L646.99,370.07 L647.49,370.45 L647.99,370.39 L648.49,370.19 L648.99,370.23 L649.49,370.12 L650.00,370.45 L650.50,370.45 L651.00,370.32 L651.50,370.45 L652.00,370.45 L652.50,370.06 L653.00,370.45 L653.0,370.6 Z" fill="#d62f2f" stroke="#d62f2f" stroke-width="0.3"/>
<text x="418.7" y="366.2" font-size="7.0" text-anchor="start" fill="#222" >BMPR2<tspan font-size="7" dy="-2.8">+</tspan></text>
<line x1="416.4" y1="301.7" x2="416.4" y2="334.8" stroke="#8a8a8a" stroke-width="1.1"/>
<line x1="416.4" y1="337.9" x2="416.4" y2="371.8" stroke="#8a8a8a" stroke-width="1.1"/>
<text x="0.0" y="0.0" font-size="7.0" text-anchor="middle" fill="#222" transform="translate(413.0,318.2) rotate(-90)">non-IR</text>
<text x="0.0" y="0.0" font-size="7.0" text-anchor="middle" fill="#222" transform="translate(413.0,354.9) rotate(-90)">IR</text>
<text x="430.0" y="385.9" font-size="7.3" text-anchor="middle" fill="#222" font-style="italic">Hmox1</text>
<line x1="466" y1="383.4" x2="641.7" y2="383.4" stroke="#5a5ad8" stroke-width="0.9"/>
<rect x="465.7" y="381.3" width="3.2" height="4.2" fill="#1212b4"/>
<polyline points="473.0,381.8 474.6,383.4 473.0,385.0" fill="none" stroke="#5a5ad8" stroke-width="0.6"/>
<polyline points="482.0,381.8 483.6,383.4 482.0,385.0" fill="none" stroke="#5a5ad8" stroke-width="0.6"/>
<polyline points="491.0,381.8 492.6,383.4 491.0,385.0" fill="none" stroke="#5a5ad8" stroke-width="0.6"/>
<polyline points="500.0,381.8 501.6,383.4 500.0,385.0" fill="none" stroke="#5a5ad8" stroke-width="0.6"/>
<polyline points="509.0,381.8 510.6,383.4 509.0,385.0" fill="none" stroke="#5a5ad8" stroke-width="0.6"/>
<polyline points="518.0,381.8 519.6,383.4 518.0,385.0" fill="none" stroke="#5a5ad8" stroke-width="0.6"/>
<polyline points="527.0,381.8 528.6,383.4 527.0,385.0" fill="none" stroke="#5a5ad8" stroke-width="0.6"/>
<polyline points="536.0,381.8 537.6,383.4 536.0,385.0" fill="none" stroke="#5a5ad8" stroke-width="0.6"/>
<polyline points="563.0,381.8 564.6,383.4 563.0,385.0" fill="none" stroke="#5a5ad8" stroke-width="0.6"/>
<polyline points="572.0,381.8 573.6,383.4 572.0,385.0" fill="none" stroke="#5a5ad8" stroke-width="0.6"/>
<polyline points="581.0,381.8 582.6,383.4 581.0,385.0" fill="none" stroke="#5a5ad8" stroke-width="0.6"/>
<polyline points="590.0,381.8 591.6,383.4 590.0,385.0" fill="none" stroke="#5a5ad8" stroke-width="0.6"/>
<polyline points="599.0,381.8 600.6,383.4 599.0,385.0" fill="none" stroke="#5a5ad8" stroke-width="0.6"/>
<polyline points="608.0,381.8 609.6,383.4 608.0,385.0" fill="none" stroke="#5a5ad8" stroke-width="0.6"/>
<polyline points="617.0,381.8 618.6,383.4 617.0,385.0" fill="none" stroke="#5a5ad8" stroke-width="0.6"/>
<rect x="522.5" y="380.4" width="2.3" height="6.0" fill="#1212b4"/>
<rect x="546.9" y="380.4" width="11.9" height="6.0" fill="#1212b4"/>
<polyline points="552.2,382.0 553.6,383.4 552.2,384.8" fill="none" stroke="#fff" stroke-width="0.6"/>
<rect x="595.4" y="380.4" width="2.4" height="6.0" fill="#1212b4"/>
<rect x="623.7" y="380.4" width="3.2" height="6.0" fill="#1212b4"/>
<rect x="626.9" y="381.3" width="14.8" height="4.2" fill="#1212b4"/>
<rect x="446.7" y="395.5" width="207.3" height="74.3" fill="#f7f7f7"/>
<rect x="463" y="395.5" width="6.1" height="74.3" fill="#d4d4d4"/>
<rect x="530.4" y="395.5" width="6.2" height="74.3" fill="#d4d4d4"/>
<rect x="622" y="395.5" width="6.0" height="74.3" fill="#d4d4d4"/>
<rect x="640" y="395.5" width="12.0" height="74.3" fill="#d4d4d4"/>
<line x1="446.7" y1="413.8" x2="654.0" y2="413.8" stroke="#dcdcdc" stroke-width="0.5"/>
<line x1="446.7" y1="431.6" x2="654.0" y2="431.6" stroke="#dcdcdc" stroke-width="0.5"/>
<line x1="446.7" y1="449.5" x2="654.0" y2="449.5" stroke="#dcdcdc" stroke-width="0.5"/>
<line x1="446.7" y1="467.5" x2="654.0" y2="467.5" stroke="#dcdcdc" stroke-width="0.5"/>
<path d="M447.2,413.5 L447.20,413.35 L447.70,413.35 L448.20,413.35 L448.70,413.35 L449.20,413.35 L449.70,413.35 L450.20,413.35 L450.71,413.35 L451.21,413.35 L451.71,413.25 L452.21,413.35 L452.71,413.35 L453.21,413.35 L453.71,413.35 L454.21,413.35 L454.71,413.35 L455.21,413.35 L455.71,413.35 L456.21,413.35 L456.71,413.35 L457.21,413.35 L457.72,413.35 L458.22,413.35 L458.72,413.35 L459.22,413.35 L459.72,413.35 L460.22,413.35 L460.72,413.18 L461.22,413.35 L461.72,413.35 L462.22,413.35 L462.72,413.35 L463.22,413.35 L463.72,413.35 L464.22,413.31 L464.73,412.76 L465.23,410.79 L465.73,411.11 L466.23,412.57 L466.73,413.30 L467.23,413.24 L467.73,412.98 L468.23,413.35 L468.73,413.35 L469.23,413.35 L469.73,413.35 L470.23,413.11 L470.73,413.35 L471.24,413.35 L471.74,413.35 L472.24,413.10 L472.74,413.32 L473.24,413.35 L473.74,413.35 L474.24,413.35 L474.74,413.35 L475.24,413.35 L475.74,413.15 L476.24,413.35 L476.74,413.35 L477.24,413.35 L477.74,413.34 L478.25,413.35 L478.75,413.35 L479.25,413.35 L479.75,413.35 L480.25,413.35 L480.75,413.35 L481.25,413.35 L481.75,413.35 L482.25,413.07 L482.75,413.35 L483.25,413.35 L483.75,413.35 L484.25,413.29 L484.75,413.22 L485.26,413.29 L485.76,413.35 L486.26,412.96 L486.76,413.35 L487.26,413.35 L487.76,413.35 L488.26,413.35 L488.76,413.35 L489.26,413.35 L489.76,413.35 L490.26,413.35 L490.76,413.35 L491.26,413.35 L491.76,413.35 L492.27,413.35 L492.77,413.35 L493.27,413.35 L493.77,413.35 L494.27,413.35 L494.77,413.35 L495.27,413.30 L495.77,412.35 L496.27,412.60 L496.77,413.31 L497.27,412.99 L497.77,413.35 L498.27,413.16 L498.78,413.35 L499.28,413.35 L499.78,413.35 L500.28,413.10 L500.78,413.35 L501.28,413.35 L501.78,413.35 L502.28,413.35 L502.78,413.35 L503.28,413.35 L503.78,413.35 L504.28,413.35 L504.78,413.35 L505.28,413.35 L505.79,413.35 L506.29,413.35 L506.79,413.35 L507.29,412.97 L507.79,413.35 L508.29,413.35 L508.79,413.35 L509.29,413.21 L509.79,413.35 L510.29,413.35 L510.79,413.35 L511.29,413.31 L511.79,413.35 L512.29,413.35 L512.80,413.35 L513.30,413.35 L513.80,413.29 L514.30,413.27 L514.80,413.02 L515.30,413.35 L515.80,413.35 L516.30,413.35 L516.80,413.35 L517.30,413.35 L517.80,413.14 L518.30,413.35 L518.80,413.35 L519.31,413.35 L519.81,413.35 L520.31,413.35 L520.81,413.35 L521.31,413.35 L521.81,413.35 L522.31,413.35 L522.81,413.35 L523.31,413.35 L523.81,413.35 L524.31,413.09 L524.81,413.35 L525.31,413.34 L525.81,413.35 L526.32,413.35 L526.82,413.35 L527.32,413.35 L527.82,413.12 L528.32,413.35 L528.82,413.35 L529.32,413.27 L529.82,413.26 L530.32,413.33 L530.82,413.29 L531.32,413.29 L531.82,412.26 L532.32,410.23 L532.82,411.60 L533.33,412.91 L533.83,413.32 L534.33,413.35 L534.83,413.35 L535.33,413.35 L535.83,413.35 L536.33,413.35 L536.83,413.35 L537.33,413.35 L537.83,413.35 L538.33,413.05 L538.83,413.25 L539.33,413.35 L539.84,413.35 L540.34,413.35 L540.84,413.35 L541.34,413.35 L541.84,413.35 L542.34,413.35 L542.84,413.13 L543.34,413.35 L543.84,413.35 L544.34,413.35 L544.84,413.35 L545.34,413.35 L545.84,413.35 L546.34,413.35 L546.85,413.35 L547.35,413.35 L547.85,413.35 L548.35,413.35 L548.85,413.35 L549.35,413.35 L549.85,413.26 L550.35,413.35 L550.85,413.35 L551.35,413.35 L551.85,413.35 L552.35,413.35 L552.85,413.35 L553.35,413.35 L553.86,413.13 L554.36,413.35 L554.86,413.35 L555.36,413.35 L555.86,413.35 L556.36,413.18 L556.86,413.35 L557.36,413.35 L557.86,413.35 L558.36,413.35 L558.86,413.21 L559.36,412.97 L559.86,413.35 L560.36,413.02 L560.87,413.33 L561.37,413.35 L561.87,413.03 L562.37,413.35 L562.87,413.35 L563.37,413.35 L563.87,413.00 L564.37,413.35 L564.87,413.32 L565.37,413.21 L565.87,413.35 L566.37,413.35 L566.87,413.35 L567.38,413.35 L567.88,413.14 L568.38,413.35 L568.88,413.35 L569.38,413.35 L569.88,413.35 L570.38,413.35 L570.88,413.35 L571.38,413.19 L571.88,413.17 L572.38,413.35 L572.88,413.35 L573.38,413.35 L573.88,413.05 L574.39,413.35 L574.89,413.35 L575.39,413.35 L575.89,413.35 L576.39,413.35 L576.89,413.35 L577.39,413.35 L577.89,413.35 L578.39,413.35 L578.89,413.35 L579.39,413.35 L579.89,413.35 L580.39,413.35 L580.89,413.35 L581.40,413.35 L581.90,413.35 L582.40,413.35 L582.90,413.35 L583.40,413.06 L583.90,413.35 L584.40,413.35 L584.90,413.35 L585.40,413.35 L585.90,413.35 L586.40,413.35 L586.90,413.35 L587.40,413.35 L587.91,413.14 L588.41,413.35 L588.91,413.35 L589.41,413.35 L589.91,413.17 L590.41,413.35 L590.91,413.35 L591.41,413.35 L591.91,413.35 L592.41,413.35 L592.91,413.35 L593.41,413.28 L593.91,413.17 L594.41,413.35 L594.92,413.35 L595.42,413.35 L595.92,413.35 L596.42,413.07 L596.92,413.35 L597.42,413.18 L597.92,413.35 L598.42,413.35 L598.92,413.35 L599.42,413.35 L599.92,413.35 L600.42,413.35 L600.92,413.35 L601.42,413.35 L601.93,413.35 L602.43,413.35 L602.93,412.96 L603.43,413.35 L603.93,413.35 L604.43,413.35 L604.93,413.35 L605.43,413.35 L605.93,413.35 L606.43,413.35 L606.93,413.35 L607.43,413.35 L607.93,413.35 L608.44,413.35 L608.94,413.35 L609.44,413.35 L609.94,413.35 L610.44,413.28 L610.94,413.35 L611.44,413.35 L611.94,413.35 L612.44,413.09 L612.94,413.35 L613.44,413.17 L613.94,413.35 L614.44,413.35 L614.94,413.30 L615.45,413.22 L615.95,413.35 L616.45,413.35 L616.95,413.35 L617.45,413.35 L617.95,413.35 L618.45,413.35 L618.95,413.28 L619.45,413.35 L619.95,413.35 L620.45,413.19 L620.95,413.35 L621.45,413.35 L621.95,413.35 L622.46,413.35 L622.96,413.35 L623.46,413.35 L623.96,413.35 L624.46,413.35 L624.96,413.35 L625.46,413.35 L625.96,413.35 L626.46,413.09 L626.96,413.22 L627.46,413.35 L627.96,413.35 L628.46,413.35 L628.96,413.35 L629.47,413.35 L629.97,413.35 L630.47,413.35 L630.97,413.35 L631.47,413.13 L631.97,413.35 L632.47,413.16 L632.97,413.35 L633.47,413.35 L633.97,413.00 L634.47,413.35 L634.97,413.33 L635.47,413.35 L635.98,413.19 L636.48,413.35 L636.98,413.28 L637.48,413.35 L637.98,413.35 L638.48,413.35 L638.98,413.35 L639.48,413.35 L639.98,413.35 L640.48,413.35 L640.98,413.35 L641.48,413.35 L641.98,413.35 L642.48,413.35 L642.99,413.35 L643.49,413.35 L643.99,413.02 L644.49,413.35 L644.99,413.23 L645.49,413.35 L645.99,412.99 L646.49,413.35 L646.99,413.35 L647.49,413.30 L647.99,413.35 L648.49,413.35 L648.99,413.31 L649.49,413.35 L650.00,413.35 L650.50,412.98 L651.00,413.35 L651.50,413.35 L652.00,413.35 L652.50,413.35 L653.00,413.35 L653.0,413.5 Z" fill="#9cc3df" stroke="#9cc3df" stroke-width="0.3"/>
<text x="418.7" y="409.1" font-size="7.0" text-anchor="start" fill="#222" >BMPR2<tspan font-size="5.6" dy="-3.2">-</tspan></text>
<path d="M447.2,431.3 L447.20,431.09 L447.70,431.03 L448.20,431.15 L448.70,431.15 L449.20,431.15 L449.70,430.67 L450.20,431.15 L450.71,430.73 L451.21,431.15 L451.71,431.15 L452.21,430.98 L452.71,431.15 L453.21,431.15 L453.71,431.15 L454.21,431.15 L454.71,430.69 L455.21,431.15 L455.71,431.15 L456.21,431.05 L456.71,431.15 L457.21,430.84 L457.72,430.79 L458.22,430.77 L458.72,431.01 L459.22,431.15 L459.72,430.74 L460.22,431.15 L460.72,431.15 L461.22,431.15 L461.72,431.15 L462.22,430.72 L462.72,431.00 L463.22,430.76 L463.72,431.15 L464.22,431.15 L464.73,430.96 L465.23,430.07 L465.73,428.57 L466.23,428.46 L466.73,430.20 L467.23,431.01 L467.73,430.84 L468.23,430.86 L468.73,431.15 L469.23,430.96 L469.73,431.15 L470.23,430.67 L470.73,431.15 L471.24,431.15 L471.74,430.95 L472.24,430.75 L472.74,431.15 L473.24,431.07 L473.74,431.15 L474.24,431.15 L474.74,430.78 L475.24,431.15 L475.74,431.15 L476.24,430.86 L476.74,431.04 L477.24,431.01 L477.74,431.04 L478.25,431.15 L478.75,431.15 L479.25,431.15 L479.75,431.15 L480.25,430.73 L480.75,431.15 L481.25,431.15 L481.75,431.15 L482.25,431.15 L482.75,431.15 L483.25,431.15 L483.75,431.15 L484.25,431.15 L484.75,431.15 L485.26,431.08 L485.76,431.15 L486.26,431.15 L486.76,431.07 L487.26,431.06 L487.76,431.00 L488.26,431.15 L488.76,430.66 L489.26,431.03 L489.76,430.94 L490.26,431.14 L490.76,430.80 L491.26,431.15 L491.76,431.15 L492.27,431.15 L492.77,431.15 L493.27,431.15 L493.77,431.15 L494.27,431.15 L494.77,431.15 L495.27,430.77 L495.77,430.55 L496.27,430.38 L496.77,430.80 L497.27,431.15 L497.77,431.15 L498.27,431.15 L498.78,431.15 L499.28,431.15 L499.78,431.02 L500.28,430.93 L500.78,430.72 L501.28,430.87 L501.78,430.73 L502.28,431.15 L502.78,431.15 L503.28,430.91 L503.78,431.15 L504.28,431.15 L504.78,430.69 L505.28,431.15 L505.79,430.98 L506.29,430.97 L506.79,431.15 L507.29,431.15 L507.79,430.70 L508.29,431.01 L508.79,431.10 L509.29,431.15 L509.79,431.15 L510.29,431.15 L510.79,431.15 L511.29,431.15 L511.79,431.15 L512.29,431.15 L512.80,431.15 L513.30,430.80 L513.80,430.95 L514.30,431.15 L514.80,431.15 L515.30,430.86 L515.80,430.66 L516.30,431.15 L516.80,431.14 L517.30,431.15 L517.80,431.15 L518.30,430.83 L518.80,431.15 L519.31,431.15 L519.81,431.15 L520.31,430.78 L520.81,431.06 L521.31,431.15 L521.81,431.15 L522.31,430.91 L522.81,431.15 L523.31,431.15 L523.81,431.15 L524.31,431.15 L524.81,430.72 L525.31,431.12 L525.81,431.15 L526.32,431.15 L526.82,431.15 L527.32,430.92 L527.82,431.07 L528.32,431.08 L528.82,431.15 L529.32,431.15 L529.82,431.15 L530.32,431.15 L530.82,430.67 L531.32,431.14 L531.82,430.96 L532.32,430.05 L532.82,428.30 L533.33,429.28 L533.83,430.31 L534.33,431.08 L534.83,431.15 L535.33,430.74 L535.83,431.15 L536.33,430.66 L536.83,431.15 L537.33,431.15 L537.83,430.74 L538.33,430.96 L538.83,431.15 L539.33,431.15 L539.84,430.83 L540.34,431.15 L540.84,431.15 L541.34,431.15 L541.84,431.15 L542.34,430.65 L542.84,431.15 L543.34,431.15 L543.84,430.86 L544.34,431.15 L544.84,431.15 L545.34,430.74 L545.84,430.98 L546.34,430.92 L546.85,431.15 L547.35,431.01 L547.85,430.91 L548.35,430.87 L548.85,431.05 L549.35,431.15 L549.85,430.66 L550.35,431.15 L550.85,430.72 L551.35,430.70 L551.85,431.15 L552.35,431.15 L552.85,431.15 L553.35,430.80 L553.86,430.73 L554.36,431.12 L554.86,431.14 L555.36,430.76 L555.86,430.98 L556.36,430.82 L556.86,431.15 L557.36,430.69 L557.86,430.73 L558.36,431.15 L558.86,431.15 L559.36,431.15 L559.86,431.08 L560.36,431.15 L560.87,430.69 L561.37,431.15 L561.87,431.15 L562.37,430.81 L562.87,431.15 L563.37,430.72 L563.87,431.15 L564.37,431.15 L564.87,431.15 L565.37,431.15 L565.87,430.73 L566.37,431.15 L566.87,431.07 L567.38,431.15 L567.88,431.14 L568.38,431.15 L568.88,431.15 L569.38,431.15 L569.88,431.15 L570.38,430.88 L570.88,431.13 L571.38,431.15 L571.88,431.15 L572.38,431.10 L572.88,431.09 L573.38,430.95 L573.88,430.66 L574.39,431.15 L574.89,431.15 L575.39,431.15 L575.89,431.15 L576.39,431.15 L576.89,431.15 L577.39,431.06 L577.89,431.15 L578.39,430.86 L578.89,430.83 L579.39,430.94 L579.89,431.11 L580.39,430.84 L580.89,431.15 L581.40,430.96 L581.90,431.15 L582.40,430.95 L582.90,431.15 L583.40,431.15 L583.90,430.70 L584.40,430.72 L584.90,431.00 L585.40,431.15 L585.90,431.15 L586.40,431.15 L586.90,431.15 L587.40,431.04 L587.91,430.79 L588.41,431.15 L588.91,431.15 L589.41,430.79 L589.91,431.15 L590.41,431.09 L590.91,431.15 L591.41,431.15 L591.91,431.00 L592.41,431.15 L592.91,430.74 L593.41,430.90 L593.91,430.71 L594.41,431.15 L594.92,431.15 L595.42,431.09 L595.92,430.99 L596.42,431.15 L596.92,431.15 L597.42,431.15 L597.92,431.15 L598.42,430.73 L598.92,431.15 L599.42,431.15 L599.92,431.04 L600.42,430.66 L600.92,431.15 L601.42,431.15 L601.93,431.15 L602.43,431.15 L602.93,431.15 L603.43,430.78 L603.93,431.15 L604.43,430.75 L604.93,431.15 L605.43,430.88 L605.93,431.15 L606.43,431.15 L606.93,431.15 L607.43,431.15 L607.93,431.07 L608.44,430.99 L608.94,431.06 L609.44,431.15 L609.94,430.88 L610.44,430.98 L610.94,431.15 L611.44,430.76 L611.94,430.93 L612.44,431.15 L612.94,431.15 L613.44,431.15 L613.94,431.15 L614.44,431.15 L614.94,431.15 L615.45,431.15 L615.95,431.15 L616.45,431.15 L616.95,431.15 L617.45,431.15 L617.95,431.15 L618.45,431.15 L618.95,431.15 L619.45,431.15 L619.95,431.15 L620.45,430.86 L620.95,431.15 L621.45,430.94 L621.95,431.15 L622.46,431.15 L622.96,431.03 L623.46,431.15 L623.96,431.15 L624.46,430.94 L624.96,430.81 L625.46,431.15 L625.96,430.85 L626.46,430.67 L626.96,431.15 L627.46,431.15 L627.96,431.02 L628.46,430.99 L628.96,431.15 L629.47,431.15 L629.97,430.77 L630.47,431.15 L630.97,431.15 L631.47,431.01 L631.97,431.15 L632.47,431.15 L632.97,431.15 L633.47,431.15 L633.97,430.70 L634.47,430.74 L634.97,430.77 L635.47,431.15 L635.98,431.07 L636.48,431.15 L636.98,431.15 L637.48,431.15 L637.98,431.15 L638.48,430.99 L638.98,430.90 L639.48,431.15 L639.98,431.15 L640.48,431.02 L640.98,431.15 L641.48,431.15 L641.98,431.15 L642.48,430.98 L642.99,431.15 L643.49,431.03 L643.99,430.86 L644.49,431.15 L644.99,431.15 L645.49,431.15 L645.99,431.15 L646.49,431.15 L646.99,431.12 L647.49,430.70 L647.99,430.84 L648.49,431.15 L648.99,430.65 L649.49,431.15 L650.00,430.83 L650.50,431.15 L651.00,431.15 L651.50,431.15 L652.00,431.15 L652.50,430.98 L653.00,431.15 L653.0,431.3 Z" fill="#3577b0" stroke="#3577b0" stroke-width="0.3"/>
<text x="418.7" y="426.9" font-size="7.0" text-anchor="start" fill="#222" >BMPR2<tspan font-size="7" dy="-2.8">+</tspan></text>
<path d="M447.2,449.2 L447.20,448.92 L447.70,448.74 L448.20,449.05 L448.70,449.05 L449.20,448.46 L449.70,448.84 L450.20,449.05 L450.71,449.05 L451.21,449.05 L451.71,449.05 L452.21,448.87 L452.71,449.05 L453.21,449.05 L453.71,448.62 L454.21,449.05 L454.71,448.48 L455.21,449.05 L455.71,448.83 L456.21,449.05 L456.71,449.05 L457.21,449.05 L457.72,448.86 L458.22,449.05 L458.72,449.05 L459.22,449.05 L459.72,449.05 L460.22,449.05 L460.72,448.46 L461.22,449.05 L461.72,448.77 L462.22,448.93 L462.72,448.47 L463.22,449.05 L463.72,449.05 L464.22,449.05 L464.73,449.01 L465.23,448.30 L465.73,445.04 L466.23,443.42 L466.73,447.64 L467.23,448.97 L467.73,449.01 L468.23,449.05 L468.73,449.05 L469.23,449.05 L469.73,449.05 L470.23,449.05 L470.73,449.05 L471.24,449.05 L471.74,448.60 L472.24,449.05 L472.74,448.60 L473.24,448.61 L473.74,449.05 L474.24,449.05 L474.74,449.05 L475.24,449.05 L475.74,449.05 L476.24,448.83 L476.74,448.96 L477.24,448.84 L477.74,448.89 L478.25,449.05 L478.75,449.05 L479.25,448.79 L479.75,449.05 L480.25,449.05 L480.75,448.59 L481.25,449.05 L481.75,448.77 L482.25,449.05 L482.75,449.05 L483.25,448.58 L483.75,448.78 L484.25,449.05 L484.75,449.05 L485.26,448.89 L485.76,449.05 L486.26,449.05 L486.76,448.95 L487.26,449.05 L487.76,449.05 L488.26,449.05 L488.76,449.05 L489.26,449.05 L489.76,449.01 L490.26,449.05 L490.76,449.05 L491.26,449.05 L491.76,449.05 L492.27,448.63 L492.77,449.05 L493.27,448.93 L493.77,449.03 L494.27,449.05 L494.77,449.05 L495.27,449.05 L495.77,449.05 L496.27,449.05 L496.77,449.05 L497.27,448.69 L497.77,449.03 L498.27,449.05 L498.78,449.05 L499.28,448.96 L499.78,449.05 L500.28,448.50 L500.78,448.59 L501.28,449.05 L501.78,449.05 L502.28,448.83 L502.78,449.05 L503.28,448.62 L503.78,449.05 L504.28,449.05 L504.78,448.64 L505.28,449.05 L505.79,448.64 L506.29,448.96 L506.79,448.90 L507.29,449.05 L507.79,449.05 L508.29,449.05 L508.79,449.05 L509.29,448.98 L509.79,449.05 L510.29,449.05 L510.79,448.50 L511.29,449.05 L511.79,449.05 L512.29,449.05 L512.80,449.05 L513.30,448.78 L513.80,449.05 L514.30,448.82 L514.80,449.04 L515.30,448.81 L515.80,449.05 L516.30,448.52 L516.80,449.05 L517.30,449.05 L517.80,449.05 L518.30,449.05 L518.80,449.05 L519.31,449.00 L519.81,448.86 L520.31,449.05 L520.81,449.05 L521.31,449.05 L521.81,448.45 L522.31,448.58 L522.81,448.45 L523.31,448.55 L523.81,449.05 L524.31,449.05 L524.81,449.05 L525.31,449.05 L525.81,449.02 L526.32,449.05 L526.82,448.85 L527.32,448.49 L527.82,448.59 L528.32,449.05 L528.82,448.97 L529.32,448.59 L529.82,449.05 L530.32,449.05 L530.82,448.98 L531.32,449.05 L531.82,448.89 L532.32,447.78 L532.82,444.28 L533.33,443.40 L533.83,448.12 L534.33,449.00 L534.83,448.69 L535.33,449.05 L535.83,449.05 L536.33,448.71 L536.83,448.94 L537.33,448.58 L537.83,449.05 L538.33,449.05 L538.83,449.05 L539.33,449.05 L539.84,449.05 L540.34,449.05 L540.84,449.05 L541.34,449.05 L541.84,449.05 L542.34,449.02 L542.84,449.05 L543.34,449.00 L543.84,449.05 L544.34,449.05 L544.84,449.05 L545.34,448.67 L545.84,448.89 L546.34,449.02 L546.85,448.54 L547.35,448.70 L547.85,449.05 L548.35,448.99 L548.85,449.05 L549.35,449.05 L549.85,449.05 L550.35,448.57 L550.85,449.05 L551.35,448.59 L551.85,449.05 L552.35,449.05 L552.85,448.74 L553.35,448.63 L553.86,449.05 L554.36,449.05 L554.86,448.56 L555.36,449.05 L555.86,448.85 L556.36,448.97 L556.86,448.80 L557.36,449.05 L557.86,449.05 L558.36,449.05 L558.86,449.05 L559.36,448.96 L559.86,448.52 L560.36,449.05 L560.87,449.05 L561.37,449.05 L561.87,448.53 L562.37,449.05 L562.87,449.05 L563.37,449.05 L563.87,449.05 L564.37,449.05 L564.87,448.48 L565.37,449.05 L565.87,449.05 L566.37,448.65 L566.87,449.05 L567.38,448.67 L567.88,449.05 L568.38,449.05 L568.88,449.05 L569.38,449.05 L569.88,448.83 L570.38,449.05 L570.88,449.05 L571.38,449.05 L571.88,449.05 L572.38,448.50 L572.88,449.05 L573.38,448.79 L573.88,449.05 L574.39,448.63 L574.89,449.05 L575.39,449.05 L575.89,448.55 L576.39,448.68 L576.89,449.05 L577.39,449.05 L577.89,449.05 L578.39,448.95 L578.89,449.05 L579.39,449.05 L579.89,449.05 L580.39,448.60 L580.89,448.87 L581.40,449.05 L581.90,449.05 L582.40,449.05 L582.90,448.47 L583.40,449.05 L583.90,449.05 L584.40,448.90 L584.90,448.70 L585.40,449.05 L585.90,449.05 L586.40,449.05 L586.90,449.05 L587.40,449.05 L587.91,448.46 L588.41,448.84 L588.91,449.05 L589.41,448.73 L589.91,449.05 L590.41,449.05 L590.91,449.05 L591.41,448.57 L591.91,448.95 L592.41,448.75 L592.91,449.05 L593.41,449.05 L593.91,448.58 L594.41,449.05 L594.92,449.05 L595.42,449.05 L595.92,449.03 L596.42,449.05 L596.92,449.05 L597.42,449.05 L597.92,449.05 L598.42,449.05 L598.92,449.05 L599.42,449.05 L599.92,449.05 L600.42,448.65 L600.92,449.05 L601.42,449.05 L601.93,449.05 L602.43,448.55 L602.93,449.05 L603.43,448.49 L603.93,449.05 L604.43,448.60 L604.93,449.05 L605.43,449.05 L605.93,449.05 L606.43,448.96 L606.93,448.87 L607.43,448.49 L607.93,449.05 L608.44,448.98 L608.94,449.05 L609.44,448.53 L609.94,448.74 L610.44,449.05 L610.94,449.05 L611.44,449.05 L611.94,449.05 L612.44,449.05 L612.94,449.05 L613.44,449.05 L613.94,449.05 L614.44,448.83 L614.94,449.05 L615.45,449.05 L615.95,449.05 L616.45,449.05 L616.95,449.05 L617.45,448.60 L617.95,449.05 L618.45,449.05 L618.95,449.05 L619.45,449.05 L619.95,449.05 L620.45,449.01 L620.95,448.99 L621.45,447.68 L621.95,445.06 L622.46,447.21 L622.96,448.45 L623.46,448.92 L623.96,448.60 L624.46,449.05 L624.96,449.05 L625.46,448.79 L625.96,449.05 L626.46,449.05 L626.96,449.05 L627.46,448.99 L627.96,449.05 L628.46,449.05 L628.96,448.58 L629.47,448.57 L629.97,449.05 L630.47,448.91 L630.97,448.94 L631.47,449.05 L631.97,448.80 L632.47,449.05 L632.97,449.05 L633.47,449.05 L633.97,449.05 L634.47,448.53 L634.97,448.77 L635.47,448.83 L635.98,449.05 L636.48,449.05 L636.98,449.05 L637.48,449.05 L637.98,449.05 L638.48,448.97 L638.98,448.79 L639.48,448.79 L639.98,449.05 L640.48,449.01 L640.98,449.04 L641.48,448.68 L641.98,449.05 L642.48,449.05 L642.99,448.61 L643.49,449.05 L643.99,449.05 L644.49,449.05 L644.99,448.90 L645.49,449.05 L645.99,449.05 L646.49,448.81 L646.99,448.83 L647.49,447.26 L647.99,445.02 L648.49,447.87 L648.99,448.49 L649.49,448.62 L650.00,449.05 L650.50,448.54 L651.00,449.05 L651.50,448.80 L652.00,448.47 L652.50,448.67 L653.00,449.03 L653.0,449.2 Z" fill="#ec8a8a" stroke="#ec8a8a" stroke-width="0.3"/>
<text x="418.7" y="444.8" font-size="7.0" text-anchor="start" fill="#222" >BMPR2<tspan font-size="5.6" dy="-3.2">-</tspan></text>
<path d="M447.2,467.2 L447.20,467.05 L447.70,467.05 L448.20,467.00 L448.70,466.17 L449.20,466.58 L449.70,466.92 L450.20,466.73 L450.71,467.05 L451.21,467.05 L451.71,467.05 L452.21,467.05 L452.71,467.05 L453.21,466.81 L453.71,467.05 L454.21,467.03 L454.71,467.05 L455.21,466.74 L455.71,466.33 L456.21,466.77 L456.71,466.17 L457.21,466.33 L457.72,467.05 L458.22,467.05 L458.72,466.70 L459.22,466.92 L459.72,465.93 L460.22,465.61 L460.72,466.83 L461.22,467.02 L461.72,467.05 L462.22,466.77 L462.72,467.05 L463.22,467.05 L463.72,467.05 L464.22,467.05 L464.73,466.93 L465.23,463.98 L465.73,454.26 L466.23,455.02 L466.73,463.21 L467.23,466.80 L467.73,467.05 L468.23,466.16 L468.73,466.70 L469.23,467.05 L469.73,467.05 L470.23,467.05 L470.73,466.72 L471.24,467.05 L471.74,467.05 L472.24,466.88 L472.74,467.05 L473.24,467.05 L473.74,466.35 L474.24,466.34 L474.74,466.64 L475.24,467.05 L475.74,467.05 L476.24,467.05 L476.74,467.05 L477.24,466.74 L477.74,466.76 L478.25,467.05 L478.75,467.05 L479.25,466.51 L479.75,467.05 L480.25,466.81 L480.75,466.48 L481.25,467.05 L481.75,466.19 L482.25,467.05 L482.75,467.05 L483.25,467.05 L483.75,466.63 L484.25,467.05 L484.75,466.77 L485.26,467.05 L485.76,467.05 L486.26,467.05 L486.76,467.05 L487.26,467.05 L487.76,466.46 L488.26,467.05 L488.76,466.41 L489.26,467.05 L489.76,466.71 L490.26,467.05 L490.76,466.91 L491.26,466.28 L491.76,466.53 L492.27,467.05 L492.77,467.00 L493.27,467.05 L493.77,466.85 L494.27,467.05 L494.77,466.70 L495.27,467.05 L495.77,467.05 L496.27,467.05 L496.77,466.97 L497.27,466.41 L497.77,467.05 L498.27,466.29 L498.78,467.05 L499.28,467.05 L499.78,467.00 L500.28,467.05 L500.78,466.70 L501.28,466.41 L501.78,467.05 L502.28,466.43 L502.78,466.70 L503.28,466.20 L503.78,466.48 L504.28,466.45 L504.78,467.05 L505.28,467.05 L505.79,466.67 L506.29,466.39 L506.79,467.05 L507.29,466.49 L507.79,466.38 L508.29,466.58 L508.79,467.05 L509.29,466.78 L509.79,467.05 L510.29,466.85 L510.79,466.79 L511.29,467.05 L511.79,466.92 L512.29,467.05 L512.80,466.81 L513.30,467.05 L513.80,466.75 L514.30,467.05 L514.80,466.57 L515.30,466.81 L515.80,466.17 L516.30,466.38 L516.80,467.05 L517.30,466.90 L517.80,466.97 L518.30,467.05 L518.80,467.05 L519.31,466.87 L519.81,465.79 L520.31,465.62 L520.81,466.43 L521.31,467.05 L521.81,467.05 L522.31,466.86 L522.81,467.05 L523.31,467.05 L523.81,466.71 L524.31,467.05 L524.81,467.05 L525.31,466.75 L525.81,466.64 L526.32,466.81 L526.82,467.05 L527.32,467.05 L527.82,466.32 L528.32,466.19 L528.82,467.05 L529.32,467.05 L529.82,467.05 L530.32,466.30 L530.82,467.05 L531.32,467.02 L531.82,466.55 L532.32,463.39 L532.82,456.78 L533.33,459.12 L533.83,464.27 L534.33,466.77 L534.83,466.83 L535.33,466.73 L535.83,467.05 L536.33,466.78 L536.83,467.05 L537.33,466.46 L537.83,466.17 L538.33,467.05 L538.83,467.05 L539.33,467.05 L539.84,467.05 L540.34,466.66 L540.84,467.05 L541.34,467.05 L541.84,466.22 L542.34,466.60 L542.84,467.05 L543.34,467.05 L543.84,467.05 L544.34,466.55 L544.84,466.69 L545.34,466.85 L545.84,466.85 L546.34,466.48 L546.85,467.05 L547.35,467.05 L547.85,467.05 L548.35,466.96 L548.85,467.03 L549.35,467.05 L549.85,467.05 L550.35,466.58 L550.85,466.40 L551.35,467.05 L551.85,466.37 L552.35,467.01 L552.85,467.05 L553.35,467.05 L553.86,466.61 L554.36,466.58 L554.86,466.17 L555.36,467.05 L555.86,466.15 L556.36,467.04 L556.86,467.05 L557.36,466.57 L557.86,466.59 L558.36,467.05 L558.86,467.05 L559.36,467.05 L559.86,466.71 L560.36,466.21 L560.87,466.92 L561.37,466.88 L561.87,466.85 L562.37,466.29 L562.87,466.57 L563.37,466.22 L563.87,466.39 L564.37,466.50 L564.87,466.31 L565.37,466.21 L565.87,466.94 L566.37,466.93 L566.87,466.54 L567.38,467.05 L567.88,466.21 L568.38,466.64 L568.88,467.05 L569.38,467.02 L569.88,467.05 L570.38,466.55 L570.88,466.81 L571.38,466.41 L571.88,467.05 L572.38,466.80 L572.88,466.29 L573.38,467.05 L573.88,467.05 L574.39,467.05 L574.89,467.05 L575.39,467.05 L575.89,467.02 L576.39,466.33 L576.89,466.54 L577.39,466.21 L577.89,466.19 L578.39,466.97 L578.89,467.05 L579.39,467.05 L579.89,466.60 L580.39,467.05 L580.89,467.05 L581.40,467.05 L581.90,466.98 L582.40,467.05 L582.90,467.00 L583.40,466.65 L583.90,466.57 L584.40,466.44 L584.90,467.05 L585.40,466.62 L585.90,466.77 L586.40,467.05 L586.90,467.05 L587.40,467.05 L587.91,466.31 L588.41,466.75 L588.91,467.05 L589.41,467.05 L589.91,466.89 L590.41,467.05 L590.91,467.03 L591.41,467.05 L591.91,467.05 L592.41,466.42 L592.91,466.43 L593.41,467.05 L593.91,466.41 L594.41,466.85 L594.92,467.05 L595.42,466.60 L595.92,466.43 L596.42,467.05 L596.92,467.05 L597.42,467.04 L597.92,466.52 L598.42,467.05 L598.92,467.03 L599.42,466.50 L599.92,465.02 L600.42,466.02 L600.92,467.00 L601.42,466.24 L601.93,467.05 L602.43,467.05 L602.93,466.20 L603.43,466.90 L603.93,467.05 L604.43,466.48 L604.93,466.56 L605.43,467.05 L605.93,467.05 L606.43,466.51 L606.93,466.55 L607.43,467.05 L607.93,467.02 L608.44,467.05 L608.94,467.05 L609.44,466.93 L609.94,467.05 L610.44,467.05 L610.94,466.66 L611.44,467.05 L611.94,467.05 L612.44,467.05 L612.94,466.41 L613.44,467.05 L613.94,467.05 L614.44,466.37 L614.94,466.66 L615.45,467.05 L615.95,466.87 L616.45,467.05 L616.95,466.37 L617.45,466.84 L617.95,467.05 L618.45,466.47 L618.95,466.95 L619.45,467.05 L619.95,467.05 L620.45,467.05 L620.95,467.05 L621.45,466.38 L621.95,467.05 L622.46,467.05 L622.96,467.01 L623.46,466.76 L623.96,466.64 L624.46,462.76 L624.96,454.44 L625.46,461.21 L625.96,466.70 L626.46,467.05 L626.96,466.42 L627.46,466.64 L627.96,466.63 L628.46,467.05 L628.96,466.41 L629.47,466.33 L629.97,467.05 L630.47,466.41 L630.97,466.91 L631.47,466.27 L631.97,467.05 L632.47,467.05 L632.97,467.05 L633.47,466.28 L633.97,467.05 L634.47,467.02 L634.97,466.29 L635.47,466.87 L635.98,466.91 L636.48,467.05 L636.98,467.05 L637.48,466.16 L637.98,467.05 L638.48,466.22 L638.98,466.44 L639.48,467.05 L639.98,466.70 L640.48,467.05 L640.98,466.20 L641.48,466.29 L641.98,467.05 L642.48,466.53 L642.99,467.05 L643.49,467.04 L643.99,466.71 L644.49,463.47 L644.99,461.11 L645.49,464.03 L645.99,466.59 L646.49,466.63 L646.99,466.82 L647.49,467.05 L647.99,467.05 L648.49,466.43 L648.99,465.83 L649.49,463.72 L650.00,458.78 L650.50,463.50 L651.00,466.32 L651.50,466.33 L652.00,467.05 L652.50,466.46 L653.00,466.75 L653.0,467.2 Z" fill="#d62f2f" stroke="#d62f2f" stroke-width="0.3"/>
<text x="418.7" y="462.8" font-size="7.0" text-anchor="start" fill="#222" >BMPR2<tspan font-size="7" dy="-2.8">+</tspan></text>
<line x1="416.4" y1="398.5" x2="416.4" y2="431.7" stroke="#8a8a8a" stroke-width="1.1"/>
<line x1="416.4" y1="434" x2="416.4" y2="468" stroke="#8a8a8a" stroke-width="1.1"/>
<text x="0.0" y="0.0" font-size="7.0" text-anchor="middle" fill="#222" transform="translate(413.0,415.1) rotate(-90)">non-IR</text>
<text x="0.0" y="0.0" font-size="7.0" text-anchor="middle" fill="#222" transform="translate(413.0,451.0) rotate(-90)">IR</text>
<text x="430.0" y="482.5" font-size="7.3" text-anchor="middle" fill="#222" font-style="italic">Runx1</text>
<line x1="451.6" y1="480.0" x2="645.5" y2="480.0" stroke="#5a5ad8" stroke-width="0.9"/>
<rect x="447.0" y="477.0" width="4.6" height="6.0" fill="#1212b4"/>
<rect x="456.6" y="477.0" width="0.8" height="6.0" fill="#1212b4"/>
<rect x="483.9" y="477.0" width="0.8" height="6.0" fill="#1212b4"/>
<rect x="507.0" y="477.0" width="0.8" height="6.0" fill="#1212b4"/>
<rect x="525.6" y="477.0" width="0.8" height="6.0" fill="#1212b4"/>
<rect x="528.9" y="477.0" width="0.8" height="6.0" fill="#1212b4"/>
<rect x="644.2" y="477.0" width="0.8" height="6.0" fill="#1212b4"/>
<polyline points="462.5,478.3 460.8,480.0 462.5,481.7" fill="none" stroke="#1212b4" stroke-width="0.6"/>
<polyline points="467.0,478.3 465.3,480.0 467.0,481.7" fill="none" stroke="#1212b4" stroke-width="0.6"/>
<polyline points="471.5,478.3 469.8,480.0 471.5,481.7" fill="none" stroke="#1212b4" stroke-width="0.6"/>
<polyline points="476.0,478.3 474.3,480.0 476.0,481.7" fill="none" stroke="#1212b4" stroke-width="0.6"/>
<polyline points="480.5,478.3 478.8,480.0 480.5,481.7" fill="none" stroke="#1212b4" stroke-width="0.6"/>
<polyline points="490.0,478.3 488.3,480.0 490.0,481.7" fill="none" stroke="#1212b4" stroke-width="0.6"/>
<polyline points="494.5,478.3 492.8,480.0 494.5,481.7" fill="none" stroke="#1212b4" stroke-width="0.6"/>
<polyline points="499.0,478.3 497.3,480.0 499.0,481.7" fill="none" stroke="#1212b4" stroke-width="0.6"/>
<polyline points="503.5,478.3 501.8,480.0 503.5,481.7" fill="none" stroke="#1212b4" stroke-width="0.6"/>
<polyline points="513.0,478.3 511.3,480.0 513.0,481.7" fill="none" stroke="#1212b4" stroke-width="0.6"/>
<polyline points="517.5,478.3 515.8,480.0 517.5,481.7" fill="none" stroke="#1212b4" stroke-width="0.6"/>
<polyline points="522.0,478.3 520.3,480.0 522.0,481.7" fill="none" stroke="#1212b4" stroke-width="0.6"/>
<polyline points="534.5,478.3 532.8,480.0 534.5,481.7" fill="none" stroke="#1212b4" stroke-width="0.6"/>
<polyline points="539.0,478.3 537.3,480.0 539.0,481.7" fill="none" stroke="#1212b4" stroke-width="0.6"/>
<polyline points="546.0,478.3 544.3,480.0 546.0,481.7" fill="none" stroke="#1212b4" stroke-width="0.6"/>
<polyline points="553.0,478.3 551.3,480.0 553.0,481.7" fill="none" stroke="#1212b4" stroke-width="0.6"/>
<polyline points="560.0,478.3 558.3,480.0 560.0,481.7" fill="none" stroke="#1212b4" stroke-width="0.6"/>
<polyline points="567.0,478.3 565.3,480.0 567.0,481.7" fill="none" stroke="#1212b4" stroke-width="0.6"/>
<polyline points="574.0,478.3 572.3,480.0 574.0,481.7" fill="none" stroke="#1212b4" stroke-width="0.6"/>
<polyline points="581.0,478.3 579.3,480.0 581.0,481.7" fill="none" stroke="#1212b4" stroke-width="0.6"/>
<polyline points="588.0,478.3 586.3,480.0 588.0,481.7" fill="none" stroke="#1212b4" stroke-width="0.6"/>
<polyline points="595.0,478.3 593.3,480.0 595.0,481.7" fill="none" stroke="#1212b4" stroke-width="0.6"/>
<polyline points="602.0,478.3 600.3,480.0 602.0,481.7" fill="none" stroke="#1212b4" stroke-width="0.6"/>
<polyline points="609.0,478.3 607.3,480.0 609.0,481.7" fill="none" stroke="#1212b4" stroke-width="0.6"/>
<polyline points="616.0,478.3 614.3,480.0 616.0,481.7" fill="none" stroke="#1212b4" stroke-width="0.6"/>
<polyline points="623.0,478.3 621.3,480.0 623.0,481.7" fill="none" stroke="#1212b4" stroke-width="0.6"/>
<polyline points="630.0,478.3 628.3,480.0 630.0,481.7" fill="none" stroke="#1212b4" stroke-width="0.6"/>
<polyline points="637.0,478.3 635.3,480.0 637.0,481.7" fill="none" stroke="#1212b4" stroke-width="0.6"/>
<rect x="453.8" y="478.5" width="0.5" height="3.0" fill="#1212b4"/>
<rect x="460.8" y="478.5" width="0.5" height="3.0" fill="#1212b4"/>
<rect x="467.8" y="478.5" width="0.5" height="3.0" fill="#1212b4"/>
<rect x="475.8" y="478.5" width="0.5" height="3.0" fill="#1212b4"/>
<rect x="491.8" y="478.5" width="0.5" height="3.0" fill="#1212b4"/>
<rect x="499.8" y="478.5" width="0.5" height="3.0" fill="#1212b4"/>
<rect x="514.8" y="478.5" width="0.5" height="3.0" fill="#1212b4"/>
<rect x="534.8" y="478.5" width="0.5" height="3.0" fill="#1212b4"/>
<rect x="547.8" y="478.5" width="0.5" height="3.0" fill="#1212b4"/>
<rect x="561.8" y="478.5" width="0.5" height="3.0" fill="#1212b4"/>
<rect x="575.8" y="478.5" width="0.5" height="3.0" fill="#1212b4"/>
<rect x="589.8" y="478.5" width="0.5" height="3.0" fill="#1212b4"/>
<rect x="603.8" y="478.5" width="0.5" height="3.0" fill="#1212b4"/>
<rect x="617.8" y="478.5" width="0.5" height="3.0" fill="#1212b4"/>
<rect x="631.8" y="478.5" width="0.5" height="3.0" fill="#1212b4"/>
<rect x="446.7" y="495.3" width="207.3" height="79.7" fill="#f7f7f7"/>
<rect x="533.8" y="495.3" width="28.6" height="71.5" fill="#d4d4d4"/>
<line x1="446.7" y1="513.3" x2="654.0" y2="513.3" stroke="#dcdcdc" stroke-width="0.5"/>
<line x1="446.7" y1="530.8" x2="654.0" y2="530.8" stroke="#dcdcdc" stroke-width="0.5"/>
<line x1="446.7" y1="548.3" x2="654.0" y2="548.3" stroke="#dcdcdc" stroke-width="0.5"/>
<line x1="446.7" y1="566.6" x2="654.0" y2="566.6" stroke="#dcdcdc" stroke-width="0.5"/>
<path d="M447.2,513.0 L447.20,512.85 L447.70,512.85 L448.20,512.85 L448.70,512.85 L449.20,512.77 L449.70,512.85 L450.20,512.61 L450.71,512.84 L451.21,512.73 L451.71,512.85 L452.21,512.85 L452.71,512.81 L453.21,512.85 L453.71,512.62 L454.21,512.85 L454.71,512.85 L455.21,512.61 L455.71,512.84 L456.21,512.74 L456.71,512.82 L457.21,512.76 L457.72,512.75 L458.22,512.60 L458.72,512.60 L459.22,512.45 L459.72,512.28 L460.22,512.19 L460.72,512.15 L461.22,511.93 L461.72,511.76 L462.22,511.86 L462.72,511.88 L463.22,511.93 L463.72,512.04 L464.22,512.06 L464.73,512.19 L465.23,512.44 L465.73,512.50 L466.23,512.61 L466.73,512.66 L467.23,512.77 L467.73,512.81 L468.23,512.83 L468.73,512.84 L469.23,512.82 L469.73,512.85 L470.23,512.85 L470.73,512.73 L471.24,512.85 L471.74,512.68 L472.24,512.63 L472.74,512.64 L473.24,512.85 L473.74,512.69 L474.24,512.85 L474.74,512.85 L475.24,512.85 L475.74,512.85 L476.24,512.85 L476.74,512.84 L477.24,512.60 L477.74,512.85 L478.25,512.85 L478.75,512.85 L479.25,512.85 L479.75,512.70 L480.25,512.85 L480.75,512.85 L481.25,512.85 L481.75,512.66 L482.25,512.85 L482.75,512.85 L483.25,512.85 L483.75,512.67 L484.25,512.85 L484.75,512.61 L485.26,512.85 L485.76,512.85 L486.26,512.85 L486.76,512.85 L487.26,512.84 L487.76,512.84 L488.26,512.82 L488.76,512.80 L489.26,512.62 L489.76,512.76 L490.26,512.71 L490.76,512.66 L491.26,512.58 L491.76,512.46 L492.27,512.33 L492.77,512.15 L493.27,512.03 L493.77,511.70 L494.27,511.47 L494.77,511.30 L495.27,511.07 L495.77,511.12 L496.27,511.29 L496.77,510.92 L497.27,511.07 L497.77,511.52 L498.27,511.65 L498.78,511.47 L499.28,511.94 L499.78,511.89 L500.28,512.11 L500.78,512.28 L501.28,512.49 L501.78,512.53 L502.28,512.66 L502.78,512.69 L503.28,512.65 L503.78,512.78 L504.28,512.81 L504.78,512.78 L505.28,512.84 L505.79,512.84 L506.29,512.85 L506.79,512.85 L507.29,512.76 L507.79,512.70 L508.29,512.85 L508.79,512.84 L509.29,512.61 L509.79,512.80 L510.29,512.61 L510.79,512.68 L511.29,512.82 L511.79,512.80 L512.29,512.78 L512.80,512.75 L513.30,512.72 L513.80,512.69 L514.30,512.69 L514.80,512.64 L515.30,512.34 L515.80,512.53 L516.30,512.44 L516.80,512.22 L517.30,512.14 L517.80,512.29 L518.30,512.15 L518.80,512.13 L519.31,512.21 L519.81,512.08 L520.31,512.02 L520.81,512.09 L521.31,512.16 L521.81,512.23 L522.31,512.14 L522.81,512.28 L523.31,512.40 L523.81,512.44 L524.31,512.45 L524.81,512.52 L525.31,512.50 L525.81,512.66 L526.32,512.70 L526.82,512.75 L527.32,512.77 L527.82,512.71 L528.32,512.80 L528.82,512.82 L529.32,512.83 L529.82,512.83 L530.32,512.84 L530.82,512.84 L531.32,512.85 L531.82,512.62 L532.32,512.62 L532.82,512.62 L533.33,512.84 L533.83,512.82 L534.33,512.65 L534.83,512.78 L535.33,512.72 L535.83,512.68 L536.33,512.57 L536.83,512.19 L537.33,512.00 L537.83,511.82 L538.33,511.74 L538.83,511.07 L539.33,511.07 L539.84,510.46 L540.34,510.66 L540.84,509.52 L541.34,509.53 L541.84,509.73 L542.34,510.23 L542.84,510.73 L543.34,510.51 L543.84,510.82 L544.34,511.44 L544.84,511.61 L545.34,511.93 L545.84,512.22 L546.34,512.39 L546.85,512.44 L547.35,512.66 L547.85,512.75 L548.35,512.78 L548.85,512.82 L549.35,512.83 L549.85,512.84 L550.35,512.84 L550.85,512.85 L551.35,512.85 L551.85,512.81 L552.35,512.74 L552.85,512.75 L553.35,512.85 L553.86,512.85 L554.36,512.85 L554.86,512.85 L555.36,512.85 L555.86,512.62 L556.36,512.77 L556.86,512.85 L557.36,512.85 L557.86,512.73 L558.36,512.85 L558.86,512.80 L559.36,512.67 L559.86,512.85 L560.36,512.85 L560.87,512.85 L561.37,512.81 L561.87,512.85 L562.37,512.85 L562.87,512.85 L563.37,512.85 L563.87,512.78 L564.37,512.62 L564.87,512.85 L565.37,512.85 L565.87,512.85 L566.37,512.85 L566.87,512.72 L567.38,512.85 L567.88,512.85 L568.38,512.64 L568.88,512.85 L569.38,512.85 L569.88,512.85 L570.38,512.85 L570.88,512.85 L571.38,512.85 L571.88,512.85 L572.38,512.74 L572.88,512.85 L573.38,512.68 L573.88,512.85 L574.39,512.85 L574.89,512.85 L575.39,512.84 L575.89,512.65 L576.39,512.85 L576.89,512.85 L577.39,512.85 L577.89,512.75 L578.39,512.85 L578.89,512.85 L579.39,512.85 L579.89,512.85 L580.39,512.62 L580.89,512.85 L581.40,512.85 L581.90,512.72 L582.40,512.85 L582.90,512.83 L583.40,512.64 L583.90,512.85 L584.40,512.82 L584.90,512.85 L585.40,512.85 L585.90,512.85 L586.40,512.78 L586.90,512.84 L587.40,512.68 L587.91,512.76 L588.41,512.79 L588.91,512.76 L589.41,512.71 L589.91,512.55 L590.41,512.40 L590.91,512.44 L591.41,512.36 L591.91,512.13 L592.41,512.09 L592.91,511.93 L593.41,511.90 L593.91,511.73 L594.41,511.52 L594.92,511.65 L595.42,511.52 L595.92,511.47 L596.42,511.32 L596.92,511.23 L597.42,511.54 L597.92,511.96 L598.42,512.01 L598.92,512.05 L599.42,512.20 L599.92,512.36 L600.42,512.36 L600.92,512.61 L601.42,512.47 L601.93,512.59 L602.43,512.74 L602.93,512.65 L603.43,512.75 L603.93,512.65 L604.43,512.71 L604.93,512.66 L605.43,512.59 L605.93,512.53 L606.43,512.29 L606.93,512.29 L607.43,512.15 L607.93,512.17 L608.44,511.82 L608.94,511.89 L609.44,511.87 L609.94,511.93 L610.44,511.88 L610.94,511.76 L611.44,511.89 L611.94,512.01 L612.44,512.24 L612.94,512.33 L613.44,512.38 L613.94,512.38 L614.44,512.58 L614.94,512.61 L615.45,512.70 L615.95,512.73 L616.45,512.77 L616.95,512.80 L617.45,512.81 L617.95,512.83 L618.45,512.84 L618.95,512.84 L619.45,512.85 L619.95,512.60 L620.45,512.85 L620.95,512.85 L621.45,512.74 L621.95,512.85 L622.46,512.82 L622.96,512.85 L623.46,512.85 L623.96,512.85 L624.46,512.85 L624.96,512.85 L625.46,512.66 L625.96,512.85 L626.46,512.85 L626.96,512.85 L627.46,512.74 L627.96,512.85 L628.46,512.85 L628.96,512.75 L629.47,512.85 L629.97,512.85 L630.47,512.85 L630.97,512.85 L631.47,512.85 L631.97,512.85 L632.47,512.85 L632.97,512.85 L633.47,512.69 L633.97,512.85 L634.47,512.85 L634.97,512.85 L635.47,512.85 L635.98,512.67 L636.48,512.78 L636.98,512.84 L637.48,512.83 L637.98,512.79 L638.48,512.51 L638.98,512.72 L639.48,512.59 L639.98,512.53 L640.48,512.39 L640.98,511.94 L641.48,512.02 L641.98,511.84 L642.48,511.53 L642.99,511.59 L643.49,511.66 L643.99,511.55 L644.49,511.63 L644.99,511.65 L645.49,511.74 L645.99,512.19 L646.49,512.34 L646.99,512.53 L647.49,512.59 L647.99,512.63 L648.49,512.77 L648.99,512.73 L649.49,512.83 L650.00,512.84 L650.50,512.85 L651.00,512.85 L651.50,512.85 L652.00,512.64 L652.50,512.62 L653.00,512.64 L653.0,513.0 Z" fill="#9cc3df" stroke="#9cc3df" stroke-width="0.3"/>
<text x="418.7" y="508.6" font-size="7.0" text-anchor="start" fill="#222" >BMPR2<tspan font-size="5.6" dy="-3.2">-</tspan></text>
<path d="M447.2,530.5 L447.20,530.25 L447.70,530.35 L448.20,530.35 L448.70,530.35 L449.20,530.28 L449.70,530.01 L450.20,530.35 L450.71,530.35 L451.21,530.34 L451.71,530.32 L452.21,529.88 L452.71,530.30 L453.21,529.96 L453.71,530.07 L454.21,529.70 L454.71,529.91 L455.21,529.96 L455.71,529.50 L456.21,529.56 L456.71,529.21 L457.21,529.28 L457.72,529.16 L458.22,529.23 L458.72,529.47 L459.22,529.57 L459.72,529.57 L460.22,529.67 L460.72,529.90 L461.22,530.00 L461.72,529.84 L462.22,530.23 L462.72,530.26 L463.22,530.31 L463.72,530.09 L464.22,530.12 L464.73,530.19 L465.23,530.24 L465.73,530.35 L466.23,530.34 L466.73,530.13 L467.23,530.27 L467.73,530.16 L468.23,530.00 L468.73,530.29 L469.23,529.84 L469.73,530.24 L470.23,530.20 L470.73,530.16 L471.24,530.05 L471.74,529.72 L472.24,529.95 L472.74,529.60 L473.24,529.81 L473.74,529.45 L474.24,529.57 L474.74,529.58 L475.24,529.82 L475.74,529.69 L476.24,529.73 L476.74,529.89 L477.24,529.94 L477.74,529.60 L478.25,529.59 L478.75,530.09 L479.25,530.16 L479.75,530.01 L480.25,530.25 L480.75,529.93 L481.25,530.02 L481.75,530.30 L482.25,530.32 L482.75,530.31 L483.25,530.14 L483.75,530.30 L484.25,529.98 L484.75,530.25 L485.26,529.78 L485.76,530.13 L486.26,530.09 L486.76,529.97 L487.26,529.82 L487.76,529.45 L488.26,529.52 L488.76,529.58 L489.26,528.98 L489.76,529.01 L490.26,528.68 L490.76,528.59 L491.26,528.34 L491.76,528.26 L492.27,528.32 L492.77,527.94 L493.27,528.08 L493.77,527.81 L494.27,528.01 L494.77,527.55 L495.27,527.97 L495.77,528.24 L496.27,528.51 L496.77,529.00 L497.27,529.00 L497.77,529.12 L498.27,529.34 L498.78,529.28 L499.28,529.81 L499.78,529.81 L500.28,529.95 L500.78,529.74 L501.28,530.13 L501.78,530.22 L502.28,530.23 L502.78,530.08 L503.28,529.93 L503.78,530.31 L504.28,530.33 L504.78,530.33 L505.28,530.33 L505.79,530.00 L506.29,530.17 L506.79,530.26 L507.29,530.30 L507.79,529.90 L508.29,529.96 L508.79,530.24 L509.29,529.97 L509.79,530.14 L510.29,530.10 L510.79,529.91 L511.29,529.68 L511.79,529.91 L512.29,529.75 L512.80,529.34 L513.30,529.47 L513.80,529.47 L514.30,529.31 L514.80,529.06 L515.30,529.12 L515.80,528.66 L516.30,529.12 L516.80,528.88 L517.30,529.23 L517.80,528.63 L518.30,529.08 L518.80,529.50 L519.31,529.36 L519.81,529.63 L520.31,529.25 L520.81,529.74 L521.31,529.88 L521.81,529.91 L522.31,530.01 L522.81,530.12 L523.31,530.13 L523.81,530.09 L524.31,530.23 L524.81,530.27 L525.31,530.08 L525.81,530.17 L526.32,530.33 L526.82,529.96 L527.32,530.01 L527.82,530.34 L528.32,529.98 L528.82,530.07 L529.32,530.06 L529.82,530.22 L530.32,530.33 L530.82,530.11 L531.32,529.90 L531.82,530.29 L532.32,530.27 L532.82,530.11 L533.33,530.19 L533.83,530.17 L534.33,530.06 L534.83,530.00 L535.33,529.92 L535.83,529.85 L536.33,529.51 L536.83,529.36 L537.33,529.31 L537.83,529.11 L538.33,529.11 L538.83,528.47 L539.33,528.36 L539.84,528.59 L540.34,527.78 L540.84,527.80 L541.34,527.27 L541.84,527.34 L542.34,528.01 L542.84,527.43 L543.34,527.47 L543.84,527.57 L544.34,527.25 L544.84,527.54 L545.34,527.23 L545.84,527.44 L546.34,527.59 L546.85,527.81 L547.35,527.70 L547.85,528.12 L548.35,528.06 L548.85,528.08 L549.35,527.83 L549.85,527.78 L550.35,527.84 L550.85,528.00 L551.35,527.87 L551.85,527.84 L552.35,528.04 L552.85,528.34 L553.35,528.51 L553.86,528.32 L554.36,528.84 L554.86,529.19 L555.36,529.34 L555.86,529.29 L556.36,529.63 L556.86,529.87 L557.36,530.01 L557.86,529.75 L558.36,530.18 L558.86,529.83 L559.36,530.06 L559.86,530.25 L560.36,530.33 L560.87,530.34 L561.37,530.01 L561.87,530.28 L562.37,530.05 L562.87,530.14 L563.37,530.35 L563.87,530.33 L564.37,530.11 L564.87,529.92 L565.37,530.34 L565.87,530.05 L566.37,530.14 L566.87,530.29 L567.38,530.33 L567.88,530.27 L568.38,530.35 L568.88,530.35 L569.38,530.12 L569.88,530.35 L570.38,530.35 L570.88,530.35 L571.38,529.92 L571.88,530.24 L572.38,529.95 L572.88,530.10 L573.38,530.35 L573.88,530.35 L574.39,530.18 L574.89,529.96 L575.39,530.35 L575.89,530.35 L576.39,530.35 L576.89,530.31 L577.39,529.93 L577.89,530.35 L578.39,530.03 L578.89,530.35 L579.39,529.96 L579.89,530.35 L580.39,529.97 L580.89,530.34 L581.40,530.34 L581.90,530.32 L582.40,530.33 L582.90,530.21 L583.40,530.32 L583.90,530.31 L584.40,530.19 L584.90,530.00 L585.40,529.96 L585.90,530.01 L586.40,530.19 L586.90,530.01 L587.40,529.92 L587.91,529.95 L588.41,529.92 L588.91,529.62 L589.41,529.91 L589.91,529.86 L590.41,529.75 L590.91,529.21 L591.41,529.47 L591.91,529.00 L592.41,529.43 L592.91,529.22 L593.41,529.08 L593.91,529.02 L594.41,528.77 L594.92,528.41 L595.42,528.31 L595.92,528.64 L596.42,528.08 L596.92,528.03 L597.42,527.39 L597.92,528.14 L598.42,528.03 L598.92,527.98 L599.42,527.55 L599.92,528.07 L600.42,527.86 L600.92,527.69 L601.42,527.84 L601.93,528.03 L602.43,527.87 L602.93,528.24 L603.43,528.32 L603.93,528.46 L604.43,528.40 L604.93,528.31 L605.43,527.76 L605.93,528.48 L606.43,528.17 L606.93,528.33 L607.43,528.44 L607.93,528.04 L608.44,528.51 L608.94,527.94 L609.44,528.16 L609.94,528.26 L610.44,528.20 L610.94,528.43 L611.44,528.25 L611.94,527.91 L612.44,528.43 L612.94,527.95 L613.44,528.46 L613.94,528.53 L614.44,528.90 L614.94,528.81 L615.45,528.95 L615.95,529.46 L616.45,529.25 L616.95,529.58 L617.45,529.82 L617.95,529.84 L618.45,529.65 L618.95,529.67 L619.45,529.95 L619.95,529.84 L620.45,530.23 L620.95,530.19 L621.45,529.90 L621.95,530.31 L622.46,530.32 L622.96,530.33 L623.46,530.05 L623.96,530.06 L624.46,530.33 L624.96,530.15 L625.46,530.33 L625.96,530.14 L626.46,530.30 L626.96,530.03 L627.46,530.12 L627.96,530.20 L628.46,529.99 L628.96,529.80 L629.47,529.71 L629.97,529.88 L630.47,529.93 L630.97,529.85 L631.47,529.94 L631.97,529.51 L632.47,529.55 L632.97,529.35 L633.47,529.30 L633.97,529.19 L634.47,529.09 L634.97,529.15 L635.47,529.40 L635.98,528.92 L636.48,529.25 L636.98,529.28 L637.48,529.43 L637.98,528.89 L638.48,528.92 L638.98,529.43 L639.48,529.41 L639.98,529.33 L640.48,529.23 L640.98,529.77 L641.48,529.46 L641.98,529.82 L642.48,529.83 L642.99,529.86 L643.49,530.05 L643.99,530.11 L644.49,529.96 L644.99,530.00 L645.49,529.84 L645.99,530.17 L646.49,530.25 L646.99,530.08 L647.49,529.97 L647.99,530.32 L648.49,529.90 L648.99,530.31 L649.49,529.96 L650.00,530.34 L650.50,530.12 L651.00,530.35 L651.50,530.35 L652.00,530.10 L652.50,530.35 L653.00,530.19 L653.0,530.5 Z" fill="#3577b0" stroke="#3577b0" stroke-width="0.3"/>
<text x="418.7" y="526.1" font-size="7.0" text-anchor="start" fill="#222" >BMPR2<tspan font-size="7" dy="-2.8">+</tspan></text>
<path d="M447.2,548.0 L447.20,547.54 L447.70,547.41 L448.20,546.90 L448.70,546.74 L449.20,546.72 L449.70,546.31 L450.20,546.41 L450.71,546.05 L451.21,545.76 L451.71,545.84 L452.21,546.04 L452.71,545.82 L453.21,545.55 L453.71,545.61 L454.21,545.85 L454.71,545.60 L455.21,545.64 L455.71,545.52 L456.21,545.67 L456.71,546.07 L457.21,546.10 L457.72,546.30 L458.22,546.22 L458.72,546.96 L459.22,546.88 L459.72,546.92 L460.22,547.18 L460.72,547.51 L461.22,547.52 L461.72,547.32 L462.22,547.31 L462.72,547.54 L463.22,547.45 L463.72,547.32 L464.22,547.49 L464.73,547.64 L465.23,547.27 L465.73,547.39 L466.23,547.39 L466.73,547.03 L467.23,546.86 L467.73,546.91 L468.23,546.76 L468.73,546.80 L469.23,546.57 L469.73,546.56 L470.23,546.58 L470.73,546.74 L471.24,546.64 L471.74,546.66 L472.24,546.63 L472.74,546.65 L473.24,547.19 L473.74,547.20 L474.24,547.36 L474.74,547.18 L475.24,547.63 L475.74,547.49 L476.24,547.75 L476.74,547.49 L477.24,547.72 L477.74,547.79 L478.25,547.79 L478.75,547.54 L479.25,547.79 L479.75,547.77 L480.25,547.51 L480.75,547.72 L481.25,547.27 L481.75,547.40 L482.25,547.52 L482.75,547.21 L483.25,547.28 L483.75,547.16 L484.25,547.09 L484.75,546.54 L485.26,546.49 L485.76,546.30 L486.26,546.12 L486.76,545.95 L487.26,545.55 L487.76,544.84 L488.26,545.00 L488.76,545.45 L489.26,544.58 L489.76,545.00 L490.26,544.80 L490.76,544.01 L491.26,544.73 L491.76,544.21 L492.27,544.55 L492.77,544.57 L493.27,544.59 L493.77,544.84 L494.27,545.01 L494.77,544.97 L495.27,545.48 L495.77,545.75 L496.27,545.71 L496.77,546.33 L497.27,546.50 L497.77,546.81 L498.27,546.83 L498.78,546.83 L499.28,547.11 L499.78,547.16 L500.28,547.05 L500.78,547.15 L501.28,547.05 L501.78,546.94 L502.28,546.97 L502.78,546.46 L503.28,546.76 L503.78,546.61 L504.28,546.64 L504.78,546.13 L505.28,546.71 L505.79,546.83 L506.29,546.55 L506.79,546.84 L507.29,546.85 L507.79,547.03 L508.29,547.16 L508.79,547.28 L509.29,547.39 L509.79,547.47 L510.29,547.51 L510.79,547.31 L511.29,547.19 L511.79,547.48 L512.29,547.42 L512.80,547.26 L513.30,546.90 L513.80,547.12 L514.30,546.83 L514.80,546.85 L515.30,546.86 L515.80,546.40 L516.30,546.27 L516.80,546.34 L517.30,545.98 L517.80,545.97 L518.30,545.64 L518.80,545.53 L519.31,545.36 L519.81,545.61 L520.31,545.25 L520.81,545.60 L521.31,545.15 L521.81,545.42 L522.31,545.17 L522.81,545.22 L523.31,545.67 L523.81,545.87 L524.31,545.81 L524.81,546.29 L525.31,546.37 L525.81,546.59 L526.32,546.85 L526.82,547.11 L527.32,547.06 L527.82,547.08 L528.32,547.17 L528.82,547.14 L529.32,547.33 L529.82,547.47 L530.32,547.58 L530.82,547.59 L531.32,547.61 L531.82,547.60 L532.32,547.57 L532.82,547.58 L533.33,547.53 L533.83,547.46 L534.33,547.28 L534.83,547.18 L535.33,547.17 L535.83,547.11 L536.33,546.77 L536.83,546.50 L537.33,546.29 L537.83,546.38 L538.33,546.07 L538.83,545.87 L539.33,545.92 L539.84,545.96 L540.34,545.69 L540.84,544.87 L541.34,545.01 L541.84,545.33 L542.34,545.11 L542.84,545.02 L543.34,544.76 L543.84,544.66 L544.34,544.32 L544.84,544.27 L545.34,544.18 L545.84,543.87 L546.34,544.83 L546.85,544.15 L547.35,544.25 L547.85,544.65 L548.35,545.07 L548.85,545.37 L549.35,545.21 L549.85,544.98 L550.35,545.11 L550.85,545.58 L551.35,545.60 L551.85,546.01 L552.35,546.39 L552.85,546.60 L553.35,546.18 L553.86,546.81 L554.36,546.71 L554.86,546.93 L555.36,546.92 L555.86,547.18 L556.36,546.98 L556.86,547.09 L557.36,547.51 L557.86,547.39 L558.36,547.32 L558.86,547.39 L559.36,547.52 L559.86,547.69 L560.36,547.50 L560.87,547.73 L561.37,547.55 L561.87,547.46 L562.37,547.70 L562.87,547.67 L563.37,547.65 L563.87,547.53 L564.37,547.13 L564.87,547.16 L565.37,547.25 L565.87,547.22 L566.37,546.97 L566.87,547.04 L567.38,547.03 L567.88,546.57 L568.38,546.92 L568.88,546.30 L569.38,546.80 L569.88,546.58 L570.38,546.74 L570.88,546.59 L571.38,546.57 L571.88,546.65 L572.38,546.77 L572.88,546.99 L573.38,547.04 L573.88,546.87 L574.39,546.96 L574.89,547.33 L575.39,547.51 L575.89,547.31 L576.39,547.60 L576.89,547.64 L577.39,547.49 L577.89,547.76 L578.39,547.66 L578.89,547.54 L579.39,547.51 L579.89,547.47 L580.39,547.82 L580.89,547.81 L581.40,547.46 L581.90,547.75 L582.40,547.76 L582.90,547.60 L583.40,547.61 L583.90,547.44 L584.40,547.08 L584.90,546.94 L585.40,546.78 L585.90,546.52 L586.40,546.40 L586.90,545.88 L587.40,546.16 L587.91,545.47 L588.41,545.66 L588.91,545.18 L589.41,545.48 L589.91,545.14 L590.41,545.97 L590.91,545.77 L591.41,545.81 L591.91,546.32 L592.41,546.40 L592.91,546.82 L593.41,546.91 L593.91,546.73 L594.41,547.30 L594.92,547.46 L595.42,547.27 L595.92,547.67 L596.42,547.47 L596.92,547.77 L597.42,547.66 L597.92,547.83 L598.42,547.83 L598.92,547.60 L599.42,547.60 L599.92,547.57 L600.42,547.53 L600.92,547.65 L601.42,547.69 L601.93,547.79 L602.43,547.84 L602.93,547.65 L603.43,547.56 L603.93,547.83 L604.43,547.82 L604.93,547.80 L605.43,547.51 L605.93,547.76 L606.43,547.74 L606.93,547.54 L607.43,547.64 L607.93,547.64 L608.44,547.60 L608.94,547.54 L609.44,547.32 L609.94,547.41 L610.44,547.11 L610.94,546.78 L611.44,546.97 L611.94,547.07 L612.44,546.83 L612.94,546.49 L613.44,546.69 L613.94,546.45 L614.44,546.55 L614.94,546.62 L615.45,546.44 L615.95,546.16 L616.45,546.52 L616.95,546.49 L617.45,546.72 L617.95,546.34 L618.45,546.38 L618.95,546.88 L619.45,546.92 L619.95,546.93 L620.45,546.81 L620.95,546.82 L621.45,546.91 L621.95,547.17 L622.46,547.34 L622.96,547.39 L623.46,547.59 L623.96,547.52 L624.46,547.54 L624.96,547.64 L625.46,547.44 L625.96,547.75 L626.46,547.41 L626.96,547.81 L627.46,547.81 L627.96,547.82 L628.46,547.44 L628.96,547.65 L629.47,547.75 L629.97,547.45 L630.47,547.85 L630.97,547.85 L631.47,547.85 L631.97,547.78 L632.47,547.85 L632.97,547.50 L633.47,547.73 L633.97,547.66 L634.47,547.61 L634.97,547.45 L635.47,547.72 L635.98,547.45 L636.48,547.69 L636.98,547.33 L637.48,547.18 L637.98,547.35 L638.48,546.97 L638.98,547.07 L639.48,546.83 L639.98,546.23 L640.48,545.87 L640.98,545.44 L641.48,545.59 L641.98,544.60 L642.48,545.22 L642.99,545.26 L643.49,544.34 L643.99,545.03 L644.49,544.61 L644.99,544.52 L645.49,545.27 L645.99,545.59 L646.49,546.16 L646.99,546.38 L647.49,546.60 L647.99,546.89 L648.49,547.01 L648.99,547.36 L649.49,547.58 L650.00,547.65 L650.50,547.44 L651.00,547.52 L651.50,547.41 L652.00,547.68 L652.50,547.83 L653.00,547.84 L653.0,548.0 Z" fill="#ec8a8a" stroke="#ec8a8a" stroke-width="0.3"/>
<text x="418.7" y="543.6" font-size="7.0" text-anchor="start" fill="#222" >BMPR2<tspan font-size="5.6" dy="-3.2">-</tspan></text>
<path d="M447.2,566.3 L447.20,565.84 L447.70,565.76 L448.20,565.92 L448.70,566.14 L449.20,565.86 L449.70,565.87 L450.20,566.13 L450.71,565.77 L451.21,566.11 L451.71,566.10 L452.21,565.98 L452.71,566.07 L453.21,566.04 L453.71,565.96 L454.21,565.83 L454.71,565.97 L455.21,565.93 L455.71,565.85 L456.21,565.85 L456.71,565.71 L457.21,565.57 L457.72,565.42 L458.22,565.59 L458.72,565.53 L459.22,565.45 L459.72,565.43 L460.22,565.26 L460.72,565.31 L461.22,565.06 L461.72,565.11 L462.22,564.82 L462.72,565.16 L463.22,565.07 L463.72,565.17 L464.22,564.93 L464.73,565.22 L465.23,565.30 L465.73,565.25 L466.23,565.14 L466.73,565.35 L467.23,565.33 L467.73,565.56 L468.23,565.80 L468.73,565.75 L469.23,565.89 L469.73,565.95 L470.23,565.96 L470.73,565.99 L471.24,566.03 L471.74,566.03 L472.24,565.83 L472.74,565.78 L473.24,566.11 L473.74,565.69 L474.24,566.13 L474.74,566.09 L475.24,565.88 L475.74,566.06 L476.24,566.12 L476.74,565.84 L477.24,565.94 L477.74,566.05 L478.25,566.02 L478.75,565.71 L479.25,565.93 L479.75,565.63 L480.25,565.59 L480.75,565.55 L481.25,565.91 L481.75,565.86 L482.25,565.36 L482.75,565.64 L483.25,565.43 L483.75,565.53 L484.25,565.33 L484.75,565.17 L485.26,565.34 L485.76,565.01 L486.26,564.76 L486.76,564.60 L487.26,564.51 L487.76,564.27 L488.26,564.48 L488.76,564.25 L489.26,564.12 L489.76,564.13 L490.26,563.62 L490.76,563.74 L491.26,563.69 L491.76,563.68 L492.27,562.87 L492.77,562.83 L493.27,562.91 L493.77,563.43 L494.27,563.01 L494.77,562.98 L495.27,563.70 L495.77,563.90 L496.27,563.72 L496.77,563.19 L497.27,564.07 L497.77,564.21 L498.27,563.99 L498.78,564.17 L499.28,564.61 L499.78,564.05 L500.28,564.50 L500.78,564.86 L501.28,564.74 L501.78,564.79 L502.28,564.90 L502.78,564.75 L503.28,564.64 L503.78,564.93 L504.28,564.56 L504.78,564.53 L505.28,564.52 L505.79,564.48 L506.29,564.34 L506.79,564.24 L507.29,564.19 L507.79,564.40 L508.29,564.17 L508.79,564.06 L509.29,564.13 L509.79,564.24 L510.29,564.24 L510.79,564.30 L511.29,564.46 L511.79,564.36 L512.29,564.26 L512.80,564.61 L513.30,564.71 L513.80,564.34 L514.30,564.50 L514.80,564.40 L515.30,564.19 L515.80,564.25 L516.30,564.50 L516.80,563.82 L517.30,563.65 L517.80,563.93 L518.30,563.88 L518.80,563.78 L519.31,563.81 L519.81,563.82 L520.31,564.18 L520.81,563.57 L521.31,563.78 L521.81,563.57 L522.31,563.95 L522.81,563.73 L523.31,564.08 L523.81,563.79 L524.31,564.56 L524.81,564.50 L525.31,564.56 L525.81,564.51 L526.32,564.80 L526.82,565.04 L527.32,564.86 L527.82,564.82 L528.32,565.23 L528.82,565.33 L529.32,565.56 L529.82,565.28 L530.32,565.40 L530.82,565.51 L531.32,565.75 L531.82,565.85 L532.32,565.84 L532.82,565.84 L533.33,565.81 L533.83,565.84 L534.33,565.75 L534.83,565.58 L535.33,565.60 L535.83,565.40 L536.33,564.99 L536.83,564.67 L537.33,564.60 L537.83,563.53 L538.33,563.70 L538.83,562.69 L539.33,562.29 L539.84,561.88 L540.34,561.77 L540.84,562.23 L541.34,561.39 L541.84,561.76 L542.34,560.66 L542.84,560.56 L543.34,559.54 L543.84,558.10 L544.34,558.30 L544.84,556.15 L545.34,556.75 L545.84,554.57 L546.34,554.91 L546.85,555.26 L547.35,556.59 L547.85,557.26 L548.35,558.88 L548.85,560.45 L549.35,562.14 L549.85,562.56 L550.35,563.68 L550.85,564.73 L551.35,565.02 L551.85,565.58 L552.35,565.91 L552.85,565.77 L553.35,565.84 L553.86,566.03 L554.36,566.14 L554.86,565.83 L555.36,565.97 L555.86,565.96 L556.36,565.74 L556.86,565.92 L557.36,565.90 L557.86,566.05 L558.36,565.78 L558.86,566.06 L559.36,566.15 L559.86,566.15 L560.36,566.05 L560.87,565.99 L561.37,566.08 L561.87,566.15 L562.37,565.83 L562.87,566.15 L563.37,566.15 L563.87,566.05 L564.37,565.76 L564.87,566.15 L565.37,566.08 L565.87,566.15 L566.37,566.04 L566.87,566.00 L567.38,566.15 L567.88,566.11 L568.38,565.82 L568.88,566.15 L569.38,566.15 L569.88,565.84 L570.38,565.71 L570.88,566.15 L571.38,565.81 L571.88,566.04 L572.38,566.15 L572.88,565.97 L573.38,566.15 L573.88,565.89 L574.39,566.15 L574.89,566.00 L575.39,566.03 L575.89,566.15 L576.39,565.97 L576.89,565.98 L577.39,566.14 L577.89,565.80 L578.39,566.15 L578.89,565.82 L579.39,565.97 L579.89,565.85 L580.39,566.15 L580.89,565.81 L581.40,566.14 L581.90,566.15 L582.40,566.15 L582.90,566.15 L583.40,566.05 L583.90,566.15 L584.40,566.15 L584.90,566.09 L585.40,566.15 L585.90,565.84 L586.40,566.10 L586.90,566.12 L587.40,565.92 L587.91,566.09 L588.41,566.03 L588.91,565.98 L589.41,565.87 L589.91,565.67 L590.41,565.68 L590.91,565.47 L591.41,565.27 L591.91,564.82 L592.41,564.85 L592.91,563.93 L593.41,564.08 L593.91,564.02 L594.41,563.64 L594.92,563.22 L595.42,563.82 L595.92,563.56 L596.42,563.18 L596.92,563.69 L597.42,564.27 L597.92,564.37 L598.42,564.55 L598.92,564.71 L599.42,564.99 L599.92,565.32 L600.42,565.35 L600.92,565.74 L601.42,565.73 L601.93,565.59 L602.43,565.77 L602.93,566.05 L603.43,566.09 L603.93,566.10 L604.43,566.13 L604.93,565.71 L605.43,566.14 L605.93,566.14 L606.43,565.74 L606.93,566.14 L607.43,565.76 L607.93,566.00 L608.44,566.08 L608.94,565.83 L609.44,566.01 L609.94,566.04 L610.44,565.70 L610.94,565.85 L611.44,566.05 L611.94,566.07 L612.44,566.05 L612.94,565.91 L613.44,565.80 L613.94,565.82 L614.44,565.97 L614.94,565.52 L615.45,565.88 L615.95,565.47 L616.45,565.84 L616.95,565.78 L617.45,565.66 L617.95,565.19 L618.45,565.63 L618.95,565.54 L619.45,565.38 L619.95,565.54 L620.45,565.10 L620.95,565.26 L621.45,565.19 L621.95,564.89 L622.46,565.21 L622.96,564.93 L623.46,565.29 L623.96,564.77 L624.46,565.27 L624.96,565.24 L625.46,564.67 L625.96,564.72 L626.46,565.22 L626.96,565.12 L627.46,565.39 L627.96,564.78 L628.46,565.15 L628.96,565.48 L629.47,565.49 L629.97,565.42 L630.47,565.34 L630.97,565.30 L631.47,565.63 L631.97,565.68 L632.47,565.82 L632.97,565.45 L633.47,565.84 L633.97,565.86 L634.47,565.95 L634.97,565.97 L635.47,565.97 L635.98,565.95 L636.48,565.77 L636.98,566.05 L637.48,565.79 L637.98,565.72 L638.48,566.07 L638.98,565.75 L639.48,566.12 L639.98,565.84 L640.48,565.91 L640.98,565.93 L641.48,566.09 L641.98,565.72 L642.48,566.00 L642.99,566.02 L643.49,565.99 L643.99,566.15 L644.49,565.82 L644.99,566.04 L645.49,566.04 L645.99,566.15 L646.49,566.15 L646.99,565.99 L647.49,566.15 L647.99,566.03 L648.49,565.70 L648.99,566.15 L649.49,566.15 L650.00,566.15 L650.50,565.91 L651.00,566.15 L651.50,565.82 L652.00,565.78 L652.50,566.15 L653.00,566.15 L653.0,566.3 Z" fill="#d62f2f" stroke="#d62f2f" stroke-width="0.3"/>
<text x="418.7" y="561.9" font-size="7.0" text-anchor="start" fill="#222" >BMPR2<tspan font-size="7" dy="-2.8">+</tspan></text>
<line x1="416.4" y1="497" x2="416.4" y2="530.5" stroke="#8a8a8a" stroke-width="1.1"/>
<line x1="416.4" y1="533.6" x2="416.4" y2="567.2" stroke="#8a8a8a" stroke-width="1.1"/>
<text x="0.0" y="0.0" font-size="7.0" text-anchor="middle" fill="#222" transform="translate(413.0,513.8) rotate(-90)">non-IR</text>
<text x="0.0" y="0.0" font-size="7.0" text-anchor="middle" fill="#222" transform="translate(413.0,550.4) rotate(-90)">IR</text>
<text x="430.0" y="580.4" font-size="7.3" text-anchor="middle" fill="#222" font-style="italic">Etv2</text>
<line x1="482.7" y1="577.9" x2="602.9" y2="577.9" stroke="#5a5ad8" stroke-width="0.9"/>
<rect x="482.7" y="575.0" width="11.8" height="5.8" rx="1" fill="#1212b4"/>
<rect x="502.8" y="575.0" width="6.2" height="5.8" rx="1" fill="#1212b4"/>
<rect x="536.3" y="575.0" width="25.7" height="5.8" rx="1" fill="#1212b4"/>
<rect x="573.6" y="575.0" width="3.3" height="5.8" rx="1" fill="#1212b4"/>
<rect x="588.2" y="575.0" width="4.4" height="5.8" rx="1" fill="#1212b4"/>
<rect x="598.1" y="575.0" width="4.8" height="5.8" rx="1" fill="#1212b4"/>
<polyline points="488.0,576.3 486.4,577.9 488.0,579.5" fill="none" stroke="#fff" stroke-width="0.6"/>
<polyline points="491.5,576.3 489.9,577.9 491.5,579.5" fill="none" stroke="#fff" stroke-width="0.6"/>
<polyline points="542.0,576.3 540.4,577.9 542.0,579.5" fill="none" stroke="#fff" stroke-width="0.6"/>
<polyline points="546.5,576.3 544.9,577.9 546.5,579.5" fill="none" stroke="#fff" stroke-width="0.6"/>
<polyline points="551.0,576.3 549.4,577.9 551.0,579.5" fill="none" stroke="#fff" stroke-width="0.6"/>
<polyline points="555.5,576.3 553.9,577.9 555.5,579.5" fill="none" stroke="#fff" stroke-width="0.6"/>
<polyline points="560.0,576.3 558.4,577.9 560.0,579.5" fill="none" stroke="#fff" stroke-width="0.6"/>
<polyline points="499.6,576.0 497.7,577.9 499.6,579.8" fill="none" stroke="#1212b4" stroke-width="0.6"/>
<polyline points="514.1,576.0 512.2,577.9 514.1,579.8" fill="none" stroke="#1212b4" stroke-width="0.6"/>
<polyline points="518.1,576.0 516.2,577.9 518.1,579.8" fill="none" stroke="#1212b4" stroke-width="0.6"/>
<polyline points="522.1,576.0 520.2,577.9 522.1,579.8" fill="none" stroke="#1212b4" stroke-width="0.6"/>
<polyline points="526.1,576.0 524.2,577.9 526.1,579.8" fill="none" stroke="#1212b4" stroke-width="0.6"/>
<polyline points="530.1,576.0 528.2,577.9 530.1,579.8" fill="none" stroke="#1212b4" stroke-width="0.6"/>
<polyline points="534.1,576.0 532.2,577.9 534.1,579.8" fill="none" stroke="#1212b4" stroke-width="0.6"/>
<polyline points="568.1,576.0 566.2,577.9 568.1,579.8" fill="none" stroke="#1212b4" stroke-width="0.6"/>
<polyline points="571.1,576.0 569.2,577.9 571.1,579.8" fill="none" stroke="#1212b4" stroke-width="0.6"/>
<polyline points="581.6,576.0 579.7,577.9 581.6,579.8" fill="none" stroke="#1212b4" stroke-width="0.6"/>
<polyline points="585.6,576.0 583.7,577.9 585.6,579.8" fill="none" stroke="#1212b4" stroke-width="0.6"/>
<polyline points="596.6,576.0 594.7,577.9 596.6,579.8" fill="none" stroke="#1212b4" stroke-width="0.6"/>
<text x="1.4" y="622.3" font-size="15" font-weight="bold" fill="#231815">f</text>
<text x="132.0" y="627.8" font-size="7.4" text-anchor="middle" fill="#222" >BMPR2<tspan font-size="5.6" dy="-3">-</tspan><tspan dy="3"> HSCs</tspan></text>
<text x="365.8" y="627.8" font-size="7.4" text-anchor="middle" fill="#222" >BMPR2<tspan font-size="7" dy="-2.8">+</tspan><tspan dy="3"> HSCs</tspan></text>
<path d="M68.9 678.2L50.7 746.4M68.9 678.2L90.6 740.4M68.9 678.2L33.6 742.6M68.9 678.2L89.5 737.5M68.9 678.2L76.0 747.6M68.9 678.2L78.3 730.4M68.9 678.2L62.4 725.3M68.9 678.2L62.5 730.3M68.9 678.2L101.5 740.7M68.9 678.2L38.5 751.0M68.9 678.2L94.7 760.3M68.9 678.2L89.5 742.8M68.9 678.2L62.7 744.1M68.9 678.2L57.1 729.5M68.9 678.2L42.3 743.2M68.9 678.2L31.7 750.4M68.9 678.2L41.7 756.5M68.9 678.2L100.6 747.6M68.9 678.2L32.9 746.4M68.9 678.2L89.6 752.6M68.9 678.2L85.7 742.0M68.9 678.2L49.0 752.7M68.9 678.2L80.5 734.0M68.9 678.2L85.4 744.6M68.9 678.2L42.0 751.9M68.9 678.2L39.2 745.3M68.9 678.2L89.9 731.1M68.9 678.2L111.9 753.9M68.9 678.2L33.6 735.4M68.9 678.2L43.7 752.8M68.9 678.2L89.1 761.7M68.9 678.2L46.5 750.2M68.9 678.2L77.3 743.1M68.9 678.2L100.1 756.0M68.9 678.2L50.7 750.6M68.9 678.2L99.2 753.2M68.9 678.2L48.2 745.0M68.9 678.2L54.1 747.4M68.9 678.2L48.3 747.2M68.9 678.2L86.9 746.9M68.9 678.2L56.4 736.3M68.9 678.2L44.3 750.7M68.9 678.2L93.0 755.7M68.9 678.2L68.8 723.8M68.9 678.2L92.6 741.9M68.9 678.2L53.4 742.9M68.9 678.2L102.4 744.3M68.9 678.2L39.6 751.5M68.9 678.2L47.1 748.7M68.9 678.2L68.7 736.8M68.9 678.2L100.2 750.0M68.9 678.2L41.8 729.4M68.9 678.2L116.1 751.9M68.9 678.2L91.9 756.0M68.9 678.2L39.6 744.6M68.9 678.2L100.7 709.4M68.9 678.2L39.9 748.5M68.9 678.2L85.3 740.5M68.9 678.2L35.9 749.0M68.9 678.2L119.4 752.1M68.9 678.2L92.1 757.0M68.9 678.2L75.6 726.6M68.9 678.2L108.1 743.0M68.9 678.2L32.0 746.7M68.9 678.2L46.0 741.9M68.9 678.2L97.3 753.7M68.9 678.2L83.9 717.7M68.9 678.2L101.8 746.2M68.9 678.2L44.1 749.0M68.9 678.2L78.9 724.1M68.9 678.2L62.6 711.6M68.9 678.2L48.5 740.5M68.9 678.2L50.5 746.7M68.9 678.2L87.6 741.7M68.9 678.2L47.4 754.7M68.9 678.2L104.9 744.2M68.9 678.2L93.6 757.2M68.9 678.2L105.8 754.1M68.9 678.2L100.0 743.2M68.9 678.2L56.8 740.7M68.9 678.2L86.7 709.7M68.9 678.2L35.4 749.9M68.9 678.2L73.7 729.0M68.9 678.2L93.4 737.3M68.9 678.2L46.2 745.4M68.9 678.2L111.6 748.9M68.9 678.2L49.2 753.2M68.9 678.2L112.1 737.4M68.9 678.2L110.6 756.0M68.9 678.2L49.0 743.2M68.9 678.2L84.5 736.2M68.9 678.2L100.6 758.0M68.9 678.2L34.1 745.4M68.9 678.2L86.0 730.0M68.9 678.2L39.2 740.2M68.9 678.2L84.3 756.4M68.9 678.2L103.1 752.5M68.9 678.2L108.6 750.8M68.9 678.2L56.2 724.1M68.9 678.2L82.4 745.0M68.9 678.2L102.1 751.5M68.9 678.2L89.9 749.1M68.9 678.2L78.6 732.7M68.9 678.2L70.9 752.0M68.9 678.2L98.2 750.4M68.9 678.2L56.9 739.8M68.9 678.2L95.8 747.5M68.9 678.2L37.9 749.8M68.9 678.2L40.5 747.8M68.9 678.2L113.6 740.0M68.9 678.2L56.2 743.1M68.9 678.2L79.1 730.4M68.9 678.2L65.5 740.5M68.9 678.2L100.2 752.3M68.9 678.2L98.7 752.9M68.9 678.2L93.7 729.7M68.9 678.2L52.7 756.1M68.9 678.2L47.8 760.1M68.9 678.2L47.7 746.0M68.9 678.2L102.4 746.9M68.9 678.2L51.1 747.8M68.9 678.2L46.8 752.1M68.9 678.2L95.2 754.1M68.9 678.2L43.9 748.3M68.9 678.2L40.0 747.5M68.9 678.2L98.8 749.6M68.9 678.2L81.5 734.2M68.9 678.2L43.2 758.8M68.9 678.2L74.1 740.2M68.9 678.2L50.3 741.9M68.9 678.2L38.8 751.5M68.9 678.2L88.8 746.0M68.9 678.2L70.4 752.6M68.9 678.2L70.2 736.8M68.9 678.2L58.3 721.5M68.9 678.2L67.3 730.5M68.9 678.2L49.3 743.8M68.9 678.2L51.2 747.8M68.9 678.2L43.7 747.0M68.9 678.2L100.3 752.9M68.9 678.2L74.3 741.3M68.9 678.2L39.9 743.5M68.9 678.2L70.9 746.4M68.9 678.2L71.8 752.9M68.9 678.2L46.1 748.2M68.9 678.2L95.1 748.8M68.9 678.2L45.2 753.4M68.9 678.2L103.6 744.2M68.9 678.2L32.9 745.0M68.9 678.2L98.0 753.9M68.9 678.2L60.4 750.8M68.9 678.2L99.4 746.7M68.9 678.2L56.4 746.9M68.9 678.2L95.8 742.1M68.9 678.2L43.2 748.7M68.9 678.2L108.8 739.8M68.9 678.2L110.6 748.5M68.9 678.2L97.6 756.4M68.9 678.2L74.9 735.8M68.9 678.2L60.6 744.8" stroke="#9a9a9a" stroke-width="0.35" stroke-opacity="0.080" fill="none"/>
<path d="M106.2 721.5L86.3 748.8M106.2 721.5L86.8 733.0M106.2 721.5L73.3 734.1M106.2 721.5L200.2 730.4M106.2 721.5L136.8 725.3M106.2 721.5L147.9 739.8M106.2 721.5L81.6 733.5M106.2 721.5L193.0 712.0M106.2 721.5L167.9 729.1M106.2 721.5L184.0 758.0M106.2 721.5L214.6 723.1M106.2 721.5L161.3 726.8M106.2 721.5L211.3 714.6M106.2 721.5L139.4 720.5M106.2 721.5L202.0 720.9M106.2 721.5L98.2 726.0M106.2 721.5L138.8 739.9M106.2 721.5L199.3 720.0M106.2 721.5L136.9 720.5M106.2 721.5L136.2 723.1M106.2 721.5L164.9 748.9M106.2 721.5L87.2 741.4M106.2 721.5L198.6 703.7M106.2 721.5L169.5 741.7M106.2 721.5L87.1 717.0M106.2 721.5L204.0 721.6M106.2 721.5L72.5 718.0M106.2 721.5L202.8 720.2M106.2 721.5L91.3 727.4M106.2 721.5L197.0 715.6M106.2 721.5L69.7 730.0M106.2 721.5L142.0 723.8M106.2 721.5L117.5 725.4M106.2 721.5L136.6 725.2M106.2 721.5L184.8 744.6M106.2 721.5L203.1 721.2M106.2 721.5L92.1 726.8M106.2 721.5L101.5 719.9M106.2 721.5L183.7 720.2M106.2 721.5L166.7 745.1M106.2 721.5L156.5 735.7M106.2 721.5L193.3 722.9M106.2 721.5L137.1 723.9M106.2 721.5L88.8 724.6M106.2 721.5L196.0 707.4M106.2 721.5L84.9 730.9M106.2 721.5L191.7 744.9M106.2 721.5L106.0 721.9M106.2 721.5L136.8 725.0M106.2 721.5L79.7 724.6M106.2 721.5L73.8 730.7M106.2 721.5L88.2 719.8M106.2 721.5L139.1 720.1M106.2 721.5L199.5 718.1M106.2 721.5L133.2 750.1M106.2 721.5L54.3 729.6M106.2 721.5L204.0 725.5M106.2 721.5L78.2 740.5M106.2 721.5L76.4 731.3M106.2 721.5L146.3 741.5M106.2 721.5L198.0 718.1M106.2 721.5L144.1 741.6M106.2 721.5L100.3 727.8M106.2 721.5L194.3 718.7M106.2 721.5L198.1 722.2M106.2 721.5L190.1 728.0M106.2 721.5L210.1 713.5M106.2 721.5L140.5 756.1M106.2 721.5L194.8 723.8M106.2 721.5L131.8 724.0M106.2 721.5L96.6 734.7M106.2 721.5L214.2 727.0M106.2 721.5L147.4 751.4M106.2 721.5L101.5 714.8M106.2 721.5L139.9 726.3M106.2 721.5L187.7 742.7M106.2 721.5L129.9 728.3M106.2 721.5L179.9 743.7M106.2 721.5L137.4 725.7M106.2 721.5L143.0 722.3M106.2 721.5L194.8 753.8M106.2 721.5L137.6 721.9M106.2 721.5L134.9 722.0M106.2 721.5L193.1 714.8M106.2 721.5L161.9 740.4M106.2 721.5L134.0 730.8M106.2 721.5L195.7 722.8M106.2 721.5L140.4 724.2M106.2 721.5L161.9 753.6M106.2 721.5L194.2 720.7" stroke="#9a9a9a" stroke-width="0.35" stroke-opacity="0.064" fill="none"/>
<path d="M118.0 796.6L195.1 666.5M118.0 796.6L159.3 762.2M118.0 796.6L152.6 738.5M118.0 796.6L152.8 731.8M118.0 796.6L192.0 697.5M118.0 796.6L145.9 753.9M118.0 796.6L148.8 748.2M118.0 796.6L178.3 665.1M118.0 796.6L185.9 670.6M118.0 796.6L166.2 768.8M118.0 796.6L114.1 853.3M118.0 796.6L145.8 733.2M118.0 796.6L119.1 854.0M118.0 796.6L198.3 666.6M118.0 796.6L146.7 736.1M118.0 796.6L110.0 739.9M118.0 796.6L144.4 725.6M118.0 796.6L181.9 669.5M118.0 796.6L109.9 848.7M118.0 796.6L170.8 710.4M118.0 796.6L140.7 735.7M118.0 796.6L163.7 765.1M118.0 796.6L176.5 710.5M118.0 796.6L116.9 749.6M118.0 796.6L166.6 743.2M118.0 796.6L169.4 677.9M118.0 796.6L177.7 676.7M118.0 796.6L160.2 736.9M118.0 796.6L145.2 735.7M118.0 796.6L201.8 714.9M118.0 796.6L184.6 647.9M118.0 796.6L141.2 766.9M118.0 796.6L133.9 852.2M118.0 796.6L161.2 756.1M118.0 796.6L128.4 846.4M118.0 796.6L210.8 721.7M118.0 796.6L135.2 724.1M118.0 796.6L151.0 713.6M118.0 796.6L155.7 743.7M118.0 796.6L208.0 696.8M118.0 796.6L178.0 660.6M118.0 796.6L124.5 764.3M118.0 796.6L118.7 851.6M118.0 796.6L185.1 667.9M118.0 796.6L181.3 722.2M118.0 796.6L205.6 662.9M118.0 796.6L199.4 726.3M118.0 796.6L160.6 741.3M118.0 796.6L145.0 739.7M118.0 796.6L118.2 724.7M118.0 796.6L122.7 843.9M118.0 796.6L202.3 707.7M118.0 796.6L136.8 756.1M118.0 796.6L153.5 767.2M118.0 796.6L185.7 671.5M118.0 796.6L112.1 851.7M118.0 796.6L167.8 759.4M118.0 796.6L182.3 662.0M118.0 796.6L149.3 734.7M118.0 796.6L150.7 730.1M118.0 796.6L144.9 733.5M118.0 796.6L150.5 763.2M118.0 796.6L129.6 848.9M118.0 796.6L179.1 741.6M118.0 796.6L112.4 724.6M118.0 796.6L215.9 732.5M118.0 796.6L107.6 851.1M118.0 796.6L156.4 765.2M118.0 796.6L173.7 763.9M118.0 796.6L192.3 651.4M118.0 796.6L134.4 729.2M118.0 796.6L153.3 761.2M118.0 796.6L133.1 733.9M118.0 796.6L206.3 698.8M118.0 796.6L182.2 662.3M118.0 796.6L178.6 668.8M118.0 796.6L142.3 751.0M118.0 796.6L192.6 737.9M118.0 796.6L147.5 761.0M118.0 796.6L140.8 752.2M118.0 796.6L140.6 736.0M118.0 796.6L168.6 671.8M118.0 796.6L123.2 730.5M118.0 796.6L187.2 666.9M118.0 796.6L171.1 651.4M118.0 796.6L169.2 704.8M118.0 796.6L116.6 854.1M118.0 796.6L162.4 662.6M118.0 796.6L181.3 736.8M118.0 796.6L178.9 679.5M118.0 796.6L217.0 717.4M118.0 796.6L183.4 706.6M118.0 796.6L217.2 708.2M118.0 796.6L172.5 652.8M118.0 796.6L86.0 855.5M118.0 796.6L145.7 741.4M118.0 796.6L150.8 732.8M118.0 796.6L158.1 765.3M118.0 796.6L197.4 667.6M118.0 796.6L193.4 708.4M118.0 796.6L119.5 727.6M118.0 796.6L142.4 753.1M118.0 796.6L171.9 670.3M118.0 796.6L127.5 734.9M118.0 796.6L187.2 708.2M118.0 796.6L171.9 668.6M118.0 796.6L158.9 719.4M118.0 796.6L148.2 738.3M118.0 796.6L116.1 748.5M118.0 796.6L105.7 849.9M118.0 796.6L199.1 671.4M118.0 796.6L132.0 854.0M118.0 796.6L119.9 720.7M118.0 796.6L231.1 680.9M118.0 796.6L214.7 759.8M118.0 796.6L131.4 752.7M118.0 796.6L178.8 653.2M118.0 796.6L193.5 668.0M118.0 796.6L167.3 777.9M118.0 796.6L163.7 753.8M118.0 796.6L116.3 759.7M118.0 796.6L173.4 659.0M118.0 796.6L183.8 667.0M118.0 796.6L173.3 671.5M118.0 796.6L136.4 740.8M118.0 796.6L187.0 658.9M118.0 796.6L138.3 853.0M118.0 796.6L115.2 730.5M118.0 796.6L199.8 738.6M118.0 796.6L138.5 725.4M118.0 796.6L166.2 734.2M118.0 796.6L147.0 763.6M118.0 796.6L192.3 676.8M118.0 796.6L194.8 737.3M118.0 796.6L122.3 737.9M118.0 796.6L138.7 845.4M118.0 796.6L199.8 709.4M118.0 796.6L138.1 752.9M118.0 796.6L106.9 851.2M118.0 796.6L144.1 749.4M118.0 796.6L218.3 726.5M118.0 796.6L161.1 765.8M118.0 796.6L177.8 668.5M118.0 796.6L189.0 675.7M118.0 796.6L141.8 736.4M118.0 796.6L182.1 656.6M118.0 796.6L180.4 696.8M118.0 796.6L140.4 764.5M118.0 796.6L226.1 729.6M118.0 796.6L133.7 752.6M118.0 796.6L132.5 846.9M118.0 796.6L185.1 665.2M118.0 796.6L185.0 717.0M118.0 796.6L196.9 679.8M118.0 796.6L218.9 721.5M118.0 796.6L189.2 669.2M118.0 796.6L96.5 844.4M118.0 796.6L144.8 729.3M118.0 796.6L169.4 765.5M118.0 796.6L139.5 733.9" stroke="#9a9a9a" stroke-width="0.35" stroke-opacity="0.072" fill="none"/>
<path d="M189.5 660.4L109.3 688.8M189.5 660.4L140.5 730.1M189.5 660.4L160.6 762.8M189.5 660.4L195.3 745.6M189.5 660.4L156.2 752.4M189.5 660.4L92.5 679.5M189.5 660.4L147.0 782.0M189.5 660.4L160.5 751.1M189.5 660.4L139.0 752.3M189.5 660.4L171.1 739.4M189.5 660.4L167.1 769.3M189.5 660.4L111.6 758.4M189.5 660.4L85.8 702.1M189.5 660.4L118.4 720.0M189.5 660.4L124.5 741.3M189.5 660.4L119.4 753.4M189.5 660.4L142.9 746.8M189.5 660.4L96.4 725.1M189.5 660.4L138.5 742.6M189.5 660.4L130.0 731.7M189.5 660.4L104.4 725.6M189.5 660.4L175.6 783.6M189.5 660.4L129.4 716.2M189.5 660.4L120.6 704.2M189.5 660.4L152.7 736.2M189.5 660.4L117.8 714.9M189.5 660.4L149.4 760.8M189.5 660.4L135.0 753.7M189.5 660.4L175.3 761.0M189.5 660.4L192.2 765.1M189.5 660.4L163.3 746.5M189.5 660.4L126.5 688.8M189.5 660.4L106.2 727.1M189.5 660.4L87.2 745.4M189.5 660.4L131.7 726.7M189.5 660.4L160.5 760.4M189.5 660.4L132.1 761.2M189.5 660.4L128.2 730.4M189.5 660.4L97.4 682.4M189.5 660.4L68.0 686.2M189.5 660.4L149.6 757.2M189.5 660.4L153.4 742.3M189.5 660.4L161.9 754.1M189.5 660.4L43.6 732.2M189.5 660.4L92.0 721.9M189.5 660.4L148.0 690.8M189.5 660.4L79.6 738.1M189.5 660.4L164.3 767.5M189.5 660.4L109.9 759.3M189.5 660.4L149.8 743.2M189.5 660.4L94.7 738.7M189.5 660.4L154.8 736.9M189.5 660.4L170.4 769.4M189.5 660.4L150.9 757.5M189.5 660.4L90.7 687.9M189.5 660.4L136.3 761.7M189.5 660.4L131.0 718.3M189.5 660.4L145.2 754.4M189.5 660.4L133.9 750.7M189.5 660.4L120.0 745.1M189.5 660.4L97.1 764.1M189.5 660.4L157.8 749.4M189.5 660.4L174.1 759.0M189.5 660.4L165.4 769.5M189.5 660.4L144.1 731.9M189.5 660.4L101.8 689.0M189.5 660.4L149.2 761.3M189.5 660.4L124.9 700.3M189.5 660.4L102.0 687.3M189.5 660.4L126.8 687.8" stroke="#9a9a9a" stroke-width="0.35" stroke-opacity="0.056" fill="none"/>
<path d="M161.3 819.9L127.7 732.1M161.3 819.9L154.4 851.6M161.3 819.9L116.8 718.1M161.3 819.9L160.1 843.1M161.3 819.9L206.7 710.7M161.3 819.9L90.2 714.4M161.3 819.9L154.1 739.5M161.3 819.9L87.2 736.2M161.3 819.9L129.3 729.5M161.3 819.9L129.6 721.0M161.3 819.9L130.8 744.4M161.3 819.9L141.9 848.0M161.3 819.9L80.9 703.4M161.3 819.9L179.4 733.0M161.3 819.9L152.7 744.6M161.3 819.9L101.4 704.5M161.3 819.9L104.7 739.7M161.3 819.9L125.8 726.3M161.3 819.9L149.5 844.6M161.3 819.9L206.6 725.4M161.3 819.9L182.1 847.7M161.3 819.9L190.9 744.1M161.3 819.9L166.9 852.6M161.3 819.9L115.4 705.2M161.3 819.9L150.0 843.8M161.3 819.9L122.8 756.4M161.3 819.9L152.7 850.8M161.3 819.9L144.2 733.9M161.3 819.9L137.9 754.7M161.3 819.9L215.0 718.4M161.3 819.9L189.0 850.1M161.3 819.9L190.9 731.3M161.3 819.9L189.5 721.4M161.3 819.9L94.8 713.0M161.3 819.9L202.1 717.3M161.3 819.9L201.2 714.6M161.3 819.9L198.8 718.7M161.3 819.9L106.9 730.6M161.3 819.9L200.0 724.6M161.3 819.9L147.8 739.9M161.3 819.9L160.1 852.4M161.3 819.9L167.4 847.1M161.3 819.9L84.2 697.3M161.3 819.9L205.0 734.5M161.3 819.9L103.9 708.9M161.3 819.9L90.3 721.0M161.3 819.9L150.5 735.0M161.3 819.9L61.8 728.2M161.3 819.9L165.2 853.0M161.3 819.9L114.4 736.2M161.3 819.9L150.4 841.7M161.3 819.9L160.2 740.0M161.3 819.9L113.0 737.9M161.3 819.9L111.1 725.6M161.3 819.9L201.6 715.9M161.3 819.9L133.1 851.0M161.3 819.9L109.7 740.1M161.3 819.9L119.0 761.9M161.3 819.9L190.6 734.6M161.3 819.9L136.1 753.9M161.3 819.9L182.3 713.8M161.3 819.9L192.8 729.2M161.3 819.9L192.0 719.8M161.3 819.9L214.4 717.7M161.3 819.9L96.5 736.4M161.3 819.9L218.7 739.3M161.3 819.9L106.2 720.8M161.3 819.9L160.4 849.6M161.3 819.9L202.4 721.9M161.3 819.9L148.0 845.4" stroke="#9a9a9a" stroke-width="0.35" stroke-opacity="0.064" fill="none"/>
<path d="M69.2 817.2L49.6 780.6M69.2 817.2L106.9 759.4M69.2 817.2L55.6 785.6M69.2 817.2L46.6 744.2M69.2 817.2L125.1 737.5M69.2 817.2L117.6 848.0M69.2 817.2L95.7 848.5M69.2 817.2L112.1 851.2M69.2 817.2L74.0 751.0M69.2 817.2L75.7 745.2M69.2 817.2L103.1 734.7M69.2 817.2L58.4 790.6M69.2 817.2L33.8 772.4M69.2 817.2L37.9 748.8M69.2 817.2L119.6 750.6M69.2 817.2L39.3 744.2M69.2 817.2L95.9 740.3M69.2 817.2L102.0 750.0M69.2 817.2L75.8 791.8M69.2 817.2L35.1 750.5M69.2 817.2L77.9 757.4M69.2 817.2L42.7 745.9M69.2 817.2L37.5 795.7M69.2 817.2L115.6 849.1M69.2 817.2L103.4 745.1M69.2 817.2L86.7 750.6M69.2 817.2L52.2 745.5M69.2 817.2L80.3 767.3M69.2 817.2L54.1 791.1M69.2 817.2L81.2 755.9M69.2 817.2L42.8 792.5M69.2 817.2L76.5 784.1M69.2 817.2L108.1 851.7M69.2 817.2L132.0 844.1M69.2 817.2L113.3 733.2M69.2 817.2L62.8 843.1M69.2 817.2L37.6 753.3M69.2 817.2L44.4 744.2M69.2 817.2L93.1 752.1M69.2 817.2L35.1 743.2M69.2 817.2L97.4 750.3M69.2 817.2L41.5 757.7M69.2 817.2L57.6 793.5M69.2 817.2L62.0 783.6M69.2 817.2L42.4 749.6M69.2 817.2L53.4 791.5M69.2 817.2L107.7 849.6M69.2 817.2L55.9 791.1M69.2 817.2L112.0 846.4M69.2 817.2L128.2 846.0M69.2 817.2L53.3 789.7M69.2 817.2L44.1 751.0M69.2 817.2L93.2 854.9M69.2 817.2L63.7 770.6M69.2 817.2L59.4 752.7M69.2 817.2L122.9 846.4M69.2 817.2L61.4 784.3M69.2 817.2L86.4 755.0M69.2 817.2L111.2 748.8M69.2 817.2L54.1 786.4" stroke="#9a9a9a" stroke-width="0.35" stroke-opacity="0.056" fill="none"/>
<path d="M42.9 748.7L38.4 816.3M42.9 748.7L128.8 772.6M42.9 748.7L65.1 788.7M42.9 748.7L96.6 746.3M42.9 748.7L62.1 739.3M42.9 748.7L40.7 802.4M42.9 748.7L118.6 736.3M42.9 748.7L97.6 741.7M42.9 748.7L46.9 791.5M42.9 748.7L111.7 795.7M42.9 748.7L89.9 749.2M42.9 748.7L118.5 798.8M42.9 748.7L63.3 798.1M42.9 748.7L133.7 785.2M42.9 748.7L98.8 754.6M42.9 748.7L100.4 772.8M42.9 748.7L114.1 749.1M42.9 748.7L127.9 740.5M42.9 748.7L50.9 791.3M42.9 748.7L125.0 801.4M42.9 748.7L52.5 809.3M42.9 748.7L63.6 809.7M42.9 748.7L136.2 736.3M42.9 748.7L58.7 790.3M42.9 748.7L120.9 757.6M42.9 748.7L136.7 738.5M42.9 748.7L125.0 804.4M42.9 748.7L117.6 741.5M42.9 748.7L84.8 738.7M42.9 748.7L56.8 809.8M42.9 748.7L92.3 741.8M42.9 748.7L98.9 740.0M42.9 748.7L54.7 797.2M42.9 748.7L97.9 753.2M42.9 748.7L125.7 746.7M42.9 748.7L56.9 807.8M42.9 748.7L68.5 810.5M42.9 748.7L80.9 827.3M42.9 748.7L76.1 734.7M42.9 748.7L64.7 739.4M42.9 748.7L99.3 750.4M42.9 748.7L52.9 804.8M42.9 748.7L108.1 743.4M42.9 748.7L54.9 804.5M42.9 748.7L123.5 795.2M42.9 748.7L136.0 797.8M42.9 748.7L49.2 798.9M42.9 748.7L115.9 805.2M42.9 748.7L111.9 742.1M42.9 748.7L126.1 813.5" stroke="#9a9a9a" stroke-width="0.35" stroke-opacity="0.056" fill="none"/>
<path d="M200.8 720.5L193.0 740.2M200.8 720.5L67.1 723.9M200.8 720.5L191.0 739.6M200.8 720.5L114.4 748.2M200.8 720.5L189.7 745.6M200.8 720.5L230.3 711.1M200.8 720.5L182.5 746.8M200.8 720.5L82.0 733.9M200.8 720.5L233.3 705.0M200.8 720.5L232.6 711.7M200.8 720.5L233.0 713.3M200.8 720.5L123.5 752.4M200.8 720.5L234.5 711.1M200.8 720.5L191.6 747.7M200.8 720.5L204.0 742.6M200.8 720.5L133.7 745.9M200.8 720.5L231.1 704.1M200.8 720.5L192.0 746.2M200.8 720.5L133.0 731.7M200.8 720.5L200.9 749.4M200.8 720.5L169.9 738.4M200.8 720.5L93.9 730.9M200.8 720.5L230.0 715.5M200.8 720.5L161.7 737.8M200.8 720.5L192.3 748.9M200.8 720.5L188.4 743.8M200.8 720.5L101.6 730.5M200.8 720.5L103.4 732.0M200.8 720.5L72.6 737.9M200.8 720.5L231.2 711.0M200.8 720.5L87.7 733.1M200.8 720.5L124.6 745.4M200.8 720.5L182.3 755.4M200.8 720.5L127.9 731.2M200.8 720.5L226.7 707.7M200.8 720.5L57.8 749.5M200.8 720.5L228.8 711.9M200.8 720.5L228.8 704.4M200.8 720.5L195.7 737.6M200.8 720.5L230.6 709.2" stroke="#9a9a9a" stroke-width="0.35" stroke-opacity="0.048" fill="none"/>
<path d="M137.7 676.3L167.3 689.6M137.7 676.3L143.0 697.1M137.7 676.3L163.8 680.3M137.7 676.3L119.3 739.5M137.7 676.3L157.2 675.0M137.7 676.3L148.1 693.0M137.7 676.3L139.3 689.9M137.7 676.3L128.0 738.1M137.7 676.3L146.6 691.9M137.7 676.3L142.5 675.2M137.7 676.3L163.3 682.4M137.7 676.3L55.1 744.9M137.7 676.3L145.1 695.8M137.7 676.3L119.5 744.2M137.7 676.3L162.7 678.0M137.7 676.3L155.6 679.0M137.7 676.3L58.5 733.5M137.7 676.3L140.9 692.9M137.7 676.3L168.6 685.3M137.7 676.3L140.0 691.5M137.7 676.3L152.4 686.6M137.7 676.3L139.3 694.9M137.7 676.3L145.4 682.1M137.7 676.3L100.7 742.1M137.7 676.3L139.7 674.0M137.7 676.3L145.8 694.2M137.7 676.3L92.0 742.9M137.7 676.3L141.1 702.7M137.7 676.3L143.6 694.2M137.7 676.3L174.8 686.6M137.7 676.3L141.0 691.0M137.7 676.3L139.9 698.0M137.7 676.3L163.1 700.0M137.7 676.3L167.6 676.7M137.7 676.3L152.8 689.6M137.7 676.3L155.1 675.9M137.7 676.3L173.0 688.9M137.7 676.3L142.5 698.2M137.7 676.3L163.6 677.9M137.7 676.3L134.1 735.5" stroke="#9a9a9a" stroke-width="0.35" stroke-opacity="0.048" fill="none"/>
<path d="M68.4 723.4h1.0M98.0 725.2h1.0M61.7 732.2h1.0M93.9 721.1h1.0M71.1 731.5h1.0M61.4 729.5h1.0M78.1 732.8h1.0M69.5 725.0h1.0M71.5 736.5h1.0M90.5 721.3h1.0M73.7 728.3h1.0M79.1 730.2h1.0M66.2 723.4h1.0M106.4 734.1h1.0M70.3 737.3h1.0M98.8 714.1h1.0M85.4 733.1h1.0M83.1 726.5h1.0M97.5 729.3h1.0M52.3 727.2h1.0M83.9 719.6h1.0M97.2 726.9h1.0M61.9 726.0h1.0M72.1 730.6h1.0M71.5 723.9h1.0M100.0 724.1h1.0M75.6 726.6h1.0M72.2 731.3h1.0M65.8 724.1h1.0M106.0 716.4h1.0M67.5 727.5h1.0M50.8 712.9h1.0M72.7 733.1h1.0M84.7 723.6h1.0M66.6 742.1h1.0M88.7 720.6h1.0M102.7 735.1h1.0M72.6 716.7h1.0M108.7 726.2h1.0M74.8 728.7h1.0M77.6 734.0h1.0M73.1 726.9h1.0M89.1 734.7h1.0M71.8 723.6h1.0M100.0 726.7h1.0M94.4 728.6h1.0M84.1 722.0h1.0M81.1 726.5h1.0M73.1 737.9h1.0M65.0 722.4h1.0M86.5 733.7h1.0M71.8 725.5h1.0M71.8 721.1h1.0M98.5 726.9h1.0M75.9 728.6h1.0M93.6 735.4h1.0M86.2 728.7h1.0M89.1 733.4h1.0M89.4 719.6h1.0M83.1 725.0h1.0M103.7 727.8h1.0M72.4 735.5h1.0M76.7 729.9h1.0M80.9 729.7h1.0M95.6 722.5h1.0M73.2 732.3h1.0M78.2 728.3h1.0M94.8 722.0h1.0M95.0 725.4h1.0M74.3 723.9h1.0M110.4 730.8h1.0M88.4 722.9h1.0M100.7 720.4h1.0M75.7 734.7h1.0M96.2 725.3h1.0M90.7 725.6h1.0M65.6 733.1h1.0M83.5 732.1h1.0M92.1 722.1h1.0M84.1 722.7h1.0M87.2 732.0h1.0M95.0 741.8h1.0M77.3 734.5h1.0M93.6 731.9h1.0M71.6 731.0h1.0M87.6 728.2h1.0M87.0 722.0h1.0M81.8 730.9h1.0M79.5 731.3h1.0M100.2 728.9h1.0M77.4 729.9h1.0M79.9 724.5h1.0M78.5 738.3h1.0M91.3 731.7h1.0M93.6 717.7h1.0M88.0 731.7h1.0M79.3 721.3h1.0M90.1 725.9h1.0M96.2 724.8h1.0M83.5 733.5h1.0M95.3 733.9h1.0M79.6 739.8h1.0M70.9 724.0h1.0M81.9 735.2h1.0M87.7 738.8h1.0M92.7 732.0h1.0M71.5 725.7h1.0M83.2 721.1h1.0M72.3 720.5h1.0M76.7 732.5h1.0M88.5 728.9h1.0M88.3 722.7h1.0M78.2 724.5h1.0M70.1 724.8h1.0M70.6 727.0h1.0M91.8 729.1h1.0M82.5 730.1h1.0M79.3 722.2h1.0M58.1 734.5h1.0M85.7 714.7h1.0M86.0 724.6h1.0M81.0 728.4h1.0M73.3 719.0h1.0M73.5 732.0h1.0M70.6 719.2h1.0M81.7 738.6h1.0M70.5 733.8h1.0M84.2 729.7h1.0M99.6 721.9h1.0M80.6 725.3h1.0M89.0 727.9h1.0M85.0 731.8h1.0M78.8 728.2h1.0M74.6 734.9h1.0M92.1 737.4h1.0M62.8 722.9h1.0M81.1 733.4h1.0M76.7 721.9h1.0M106.1 727.1h1.0M83.3 722.1h1.0M106.1 730.1h1.0M78.3 725.8h1.0M81.7 729.9h1.0M83.8 723.0h1.0M100.1 721.9h1.0M98.7 731.8h1.0M64.6 733.2h1.0M86.5 722.7h1.0M108.1 734.8h1.0M54.9 733.4h1.0M73.9 717.8h1.0M90.3 719.6h1.0M77.3 727.6h1.0M77.1 721.0h1.0M51.8 726.0h1.0M96.8 734.3h1.0M101.0 729.5h1.0M85.0 722.6h1.0M48.6 722.4h1.0M70.9 721.3h1.0M81.5 729.1h1.0M73.1 731.8h1.0M84.9 731.9h1.0M94.8 734.1h1.0M76.9 723.1h1.0M82.3 734.2h1.0M52.8 731.8h1.0M75.0 731.1h1.0M86.9 724.8h1.0M70.7 724.9h1.0M88.0 720.1h1.0M82.0 723.4h1.0M72.7 720.0h1.0M60.0 729.5h1.0M84.6 724.4h1.0M78.5 732.5h1.0M82.7 729.0h1.0M79.8 730.9h1.0M77.3 720.8h1.0M90.2 730.5h1.0M69.4 728.1h1.0M84.0 729.0h1.0M121.9 728.3h1.0M81.5 724.5h1.0M74.0 710.6h1.0M75.8 725.9h1.0M67.7 727.4h1.0M87.5 734.0h1.0M110.6 727.7h1.0M70.3 720.4h1.0M98.9 723.5h1.0M81.4 731.5h1.0M83.5 728.1h1.0M85.3 715.7h1.0M79.1 730.7h1.0M65.2 718.2h1.0M88.6 725.4h1.0M86.8 716.0h1.0M80.9 721.7h1.0M91.2 737.3h1.0M76.2 732.2h1.0M69.7 725.2h1.0M86.2 723.1h1.0M97.8 729.0h1.0M64.8 719.0h1.0M73.7 714.5h1.0M95.8 724.6h1.0M73.9 727.0h1.0M76.2 734.5h1.0M98.9 731.4h1.0M88.8 732.6h1.0M87.0 726.5h1.0M95.1 728.6h1.0M89.1 736.0h1.0M106.4 727.2h1.0M95.5 718.7h1.0M72.0 729.2h1.0M73.3 720.9h1.0M71.1 729.6h1.0M63.7 730.3h1.0M94.4 715.5h1.0M87.1 731.3h1.0M65.8 729.7h1.0M76.5 730.2h1.0M91.4 729.7h1.0M47.9 730.9h1.0M103.4 720.5h1.0M114.3 724.5h1.0M64.2 719.5h1.0M99.7 730.3h1.0M73.1 723.8h1.0M52.5 720.6h1.0M62.9 728.0h1.0M77.9 732.2h1.0M83.8 726.1h1.0M88.8 735.4h1.0M76.3 727.8h1.0M74.8 722.1h1.0M69.7 724.0h1.0M65.0 725.6h1.0M76.4 728.8h1.0M93.1 738.4h1.0M75.4 726.1h1.0M87.9 723.5h1.0M94.7 731.1h1.0M81.4 734.0h1.0M72.7 725.6h1.0M75.8 725.7h1.0M64.2 726.3h1.0M93.2 730.0h1.0M94.0 729.9h1.0M92.3 721.3h1.0M76.7 717.2h1.0M111.4 739.1h1.0M80.4 724.3h1.0M87.8 721.8h1.0M97.2 740.4h1.0M60.8 723.0h1.0M96.2 734.9h1.0M90.4 728.6h1.0M79.9 727.8h1.0M74.0 724.7h1.0M75.2 735.9h1.0M57.2 732.6h1.0M62.4 718.6h1.0M54.7 721.8h1.0M86.9 724.4h1.0M81.2 721.5h1.0M83.2 718.0h1.0M84.5 724.3h1.0M66.7 734.0h1.0M101.2 723.9h1.0M98.5 729.2h1.0M94.8 731.4h1.0M83.6 724.2h1.0M98.9 722.9h1.0M81.3 730.9h1.0M58.1 730.8h1.0M75.9 725.6h1.0M87.7 727.4h1.0M84.1 723.4h1.0M71.4 725.3h1.0M76.6 721.6h1.0M97.9 736.6h1.0M62.2 724.8h1.0M92.8 713.3h1.0M93.4 727.5h1.0M90.4 732.8h1.0M97.8 719.3h1.0M89.5 727.8h1.0M89.7 718.8h1.0M70.0 731.3h1.0M95.2 736.7h1.0M60.8 734.6h1.0M77.5 725.5h1.0M77.2 730.7h1.0M95.1 722.1h1.0M89.1 728.0h1.0M72.1 732.2h1.0M70.1 724.2h1.0M80.6 727.5h1.0M71.2 724.4h1.0M95.8 727.9h1.0M85.4 726.8h1.0M93.3 734.1h1.0M80.0 731.7h1.0M71.4 727.0h1.0M67.0 723.9h1.0M120.5 722.0h1.0M97.8 728.6h1.0M85.0 714.9h1.0M84.3 718.6h1.0M73.3 722.7h1.0M76.9 737.5h1.0M102.9 716.8h1.0M76.9 722.4h1.0M83.3 717.2h1.0M63.1 726.5h1.0M71.8 733.1h1.0M77.7 728.2h1.0M75.5 731.5h1.0M96.4 726.5h1.0M75.0 730.3h1.0M82.6 732.5h1.0M82.5 727.5h1.0M91.3 722.2h1.0M65.6 729.6h1.0M78.9 730.5h1.0M91.6 729.1h1.0M74.0 736.0h1.0M52.5 722.5h1.0M65.7 738.4h1.0M76.9 725.8h1.0M88.9 734.1h1.0M93.7 726.6h1.0M83.6 720.7h1.0M84.8 725.3h1.0M53.8 728.2h1.0M79.9 731.6h1.0M89.2 727.5h1.0M79.2 736.3h1.0M84.1 732.9h1.0M86.9 734.8h1.0M93.8 720.5h1.0M88.5 736.2h1.0M98.7 725.1h1.0M102.3 732.2h1.0M89.9 723.1h1.0M87.0 729.9h1.0M55.7 724.2h1.0M62.7 716.5h1.0M84.2 732.2h1.0M81.4 718.3h1.0M65.3 732.1h1.0M79.2 728.8h1.0M78.1 727.9h1.0M73.3 723.1h1.0M64.0 727.3h1.0M80.9 733.7h1.0M111.0 728.2h1.0M46.1 720.0h1.0M98.3 729.9h1.0M79.6 721.7h1.0M87.8 728.9h1.0M95.4 735.0h1.0M101.6 732.9h1.0M67.2 730.5h1.0M67.4 723.0h1.0M71.8 720.2h1.0M71.1 735.6h1.0M80.5 736.4h1.0M83.4 716.7h1.0M73.4 736.6h1.0M95.6 726.1h1.0M78.7 734.2h1.0M87.9 725.8h1.0M96.3 727.4h1.0M68.9 718.4h1.0M56.0 740.8h1.0M84.5 737.0h1.0M84.1 727.8h1.0M84.5 728.6h1.0M65.0 726.9h1.0M94.3 739.9h1.0M76.6 729.6h1.0M90.9 735.8h1.0M88.3 725.3h1.0M103.7 728.9h1.0M83.2 744.0h1.0M63.0 727.1h1.0M68.5 735.9h1.0M70.4 728.3h1.0M86.6 725.4h1.0M81.0 724.8h1.0M73.5 722.2h1.0M84.5 725.4h1.0M69.2 724.6h1.0M108.9 720.0h1.0M75.0 723.9h1.0M81.4 731.7h1.0M72.9 728.8h1.0M87.9 736.7h1.0M74.7 723.1h1.0M90.6 726.9h1.0M74.6 725.5h1.0M98.6 717.8h1.0M79.1 737.0h1.0M86.2 722.6h1.0M74.2 733.0h1.0M87.5 724.7h1.0M74.3 719.6h1.0M65.1 729.3h1.0M88.1 724.2h1.0M90.6 723.2h1.0M86.3 715.2h1.0M92.2 737.9h1.0M92.4 726.8h1.0M87.7 727.4h1.0M83.3 726.9h1.0M87.8 725.2h1.0M81.0 724.3h1.0M91.1 734.9h1.0M91.5 729.9h1.0M99.5 722.3h1.0M108.3 715.7h1.0M90.8 727.9h1.0M86.7 718.1h1.0M96.5 728.7h1.0M83.1 733.3h1.0M83.6 727.7h1.0M92.8 726.7h1.0M86.3 724.9h1.0M74.5 727.3h1.0M74.1 728.6h1.0M78.6 723.9h1.0M80.4 719.9h1.0M90.7 730.6h1.0M52.4 727.3h1.0M76.2 730.4h1.0M107.9 724.5h1.0M80.3 722.2h1.0M86.0 731.2h1.0M85.0 727.7h1.0M68.2 726.7h1.0M69.9 725.0h1.0M101.3 727.6h1.0M72.2 720.8h1.0M62.5 724.2h1.0M107.8 725.6h1.0M78.9 721.1h1.0M75.9 732.7h1.0M94.2 726.0h1.0M71.5 731.1h1.0M110.5 743.8h1.0M99.3 727.3h1.0M90.4 724.9h1.0M71.8 723.3h1.0M82.0 731.0h1.0M100.1 734.7h1.0M87.5 714.2h1.0M100.6 729.8h1.0M73.1 734.7h1.0M70.7 725.4h1.0M82.1 727.0h1.0M80.9 715.2h1.0M64.1 726.5h1.0M91.0 726.9h1.0M66.8 719.8h1.0M66.6 733.5h1.0M69.0 731.5h1.0M66.7 721.1h1.0M73.5 734.6h1.0M72.6 725.9h1.0M73.7 723.9h1.0M93.9 723.3h1.0M78.7 719.8h1.0M72.4 727.6h1.0M100.2 737.7h1.0M65.9 725.7h1.0M58.0 725.1h1.0M82.1 730.7h1.0M87.8 721.0h1.0M66.0 718.3h1.0M102.1 719.5h1.0M93.8 728.6h1.0M93.3 717.4h1.0M86.9 729.4h1.0M81.4 729.8h1.0M66.9 735.5h1.0M67.4 726.1h1.0M92.6 730.2h1.0M101.5 726.8h1.0M67.4 729.1h1.0M88.0 717.3h1.0M93.0 734.3h1.0M70.9 732.4h1.0M82.5 732.8h1.0M74.7 732.0h1.0M90.2 727.4h1.0M77.4 726.1h1.0M90.5 735.6h1.0M79.7 732.2h1.0M82.8 738.4h1.0M97.0 731.6h1.0M87.0 723.9h1.0M61.1 731.9h1.0M72.3 723.1h1.0M95.0 728.8h1.0M67.7 734.0h1.0M77.8 732.9h1.0M67.3 718.2h1.0M73.8 731.7h1.0M55.5 720.5h1.0M93.9 741.9h1.0M78.5 721.4h1.0M75.6 722.4h1.0M101.2 731.3h1.0M70.0 732.0h1.0M53.5 727.3h1.0M81.6 725.6h1.0" stroke="#7dcbb8" stroke-width="1.00" stroke-opacity="0.9"/>
<path d="M98.5 744.6h1.0M85.5 750.5h1.0M97.9 751.2h1.0M123.1 744.2h1.0M94.8 748.4h1.0M120.9 740.7h1.0M110.6 742.4h1.0M131.9 750.1h1.0M88.9 744.9h1.0M112.4 745.3h1.0M112.5 750.2h1.0M114.2 745.7h1.0M131.4 752.8h1.0M107.2 747.3h1.0M102.2 740.1h1.0M106.8 748.2h1.0M106.2 742.7h1.0M68.7 738.2h1.0M123.1 737.8h1.0M119.2 751.9h1.0M110.0 747.9h1.0M122.7 747.7h1.0M110.6 752.8h1.0M110.6 758.9h1.0M95.8 745.7h1.0M107.5 748.9h1.0M102.1 758.4h1.0M120.4 737.7h1.0M111.1 751.7h1.0M127.9 750.2h1.0M100.5 752.4h1.0M93.0 748.5h1.0M94.8 755.4h1.0M121.2 759.7h1.0M107.2 747.4h1.0M104.7 754.2h1.0M96.3 751.8h1.0M106.5 751.9h1.0M114.8 743.6h1.0M105.3 738.4h1.0M98.6 744.7h1.0M125.4 745.6h1.0M115.0 746.7h1.0M93.2 751.2h1.0M138.1 751.3h1.0M128.5 751.2h1.0M124.9 759.3h1.0M88.2 744.3h1.0M90.5 748.1h1.0M106.2 743.9h1.0M118.0 758.2h1.0M130.6 757.8h1.0M113.2 750.4h1.0M131.8 753.4h1.0M125.3 746.3h1.0M105.6 744.4h1.0M129.2 743.3h1.0M114.2 749.6h1.0M110.1 746.5h1.0M117.5 744.1h1.0M113.5 755.2h1.0M104.0 754.4h1.0M129.0 758.0h1.0M99.4 757.4h1.0M126.0 756.0h1.0M125.3 747.3h1.0M124.9 749.1h1.0M105.2 745.0h1.0M105.5 747.3h1.0M89.5 750.0h1.0M92.4 751.5h1.0M131.3 754.8h1.0M134.3 756.7h1.0M144.6 747.7h1.0M100.1 747.2h1.0M98.0 755.5h1.0M79.2 748.3h1.0M124.9 751.5h1.0M123.9 742.4h1.0M105.7 747.4h1.0M118.6 751.4h1.0M132.7 741.4h1.0M116.0 760.4h1.0M130.0 749.5h1.0M124.1 747.0h1.0M130.7 745.2h1.0M123.5 749.5h1.0M101.5 749.3h1.0M111.1 744.6h1.0M114.3 743.5h1.0M127.7 751.0h1.0M126.1 751.9h1.0M116.0 740.8h1.0M107.9 748.3h1.0M105.2 747.8h1.0M107.0 745.7h1.0M100.0 745.6h1.0M96.9 753.7h1.0M115.9 750.9h1.0M123.2 746.2h1.0M127.1 738.6h1.0M103.6 748.4h1.0M135.4 754.3h1.0M123.7 752.3h1.0M104.7 747.4h1.0M103.3 748.7h1.0M95.3 746.6h1.0M105.3 750.7h1.0M103.7 750.1h1.0M118.7 750.9h1.0M122.9 743.3h1.0M113.4 747.4h1.0M126.7 745.8h1.0M116.1 741.1h1.0M107.7 744.3h1.0M111.5 744.8h1.0M111.2 749.4h1.0M98.2 752.1h1.0M103.8 759.2h1.0M127.4 751.7h1.0M113.4 755.4h1.0M116.2 739.5h1.0M121.2 749.6h1.0M79.1 738.8h1.0M130.3 750.0h1.0M102.3 738.6h1.0M97.5 756.4h1.0M80.9 750.9h1.0M144.7 748.9h1.0M99.3 751.0h1.0M120.4 750.2h1.0M109.4 739.8h1.0M119.0 752.1h1.0M117.4 750.8h1.0M113.9 752.8h1.0M159.1 745.2h1.0M115.6 741.9h1.0M87.2 748.2h1.0M131.1 743.0h1.0M105.4 745.2h1.0M92.4 740.5h1.0M112.9 745.6h1.0M108.9 743.0h1.0M130.6 760.2h1.0M100.7 740.0h1.0M128.9 755.7h1.0M139.5 743.4h1.0M110.7 737.6h1.0M117.5 741.0h1.0M87.5 752.1h1.0M117.6 737.1h1.0M100.7 761.3h1.0M78.3 745.4h1.0M139.0 757.6h1.0M114.0 743.9h1.0M116.9 744.6h1.0M116.5 753.8h1.0M112.9 754.4h1.0M129.3 743.4h1.0M108.1 742.7h1.0M116.7 738.4h1.0M97.8 736.0h1.0M118.1 743.0h1.0M128.9 752.2h1.0M118.1 743.7h1.0M89.5 742.1h1.0M111.9 747.5h1.0M109.0 748.1h1.0M131.2 754.4h1.0M94.9 751.7h1.0M99.3 749.3h1.0M114.5 753.0h1.0M122.4 741.7h1.0M109.9 750.3h1.0M108.6 756.5h1.0M92.3 750.9h1.0M114.0 745.4h1.0M109.8 746.5h1.0M115.5 744.9h1.0M106.8 761.7h1.0M105.0 751.0h1.0M126.3 743.2h1.0M122.5 744.6h1.0M76.5 748.0h1.0M69.7 747.3h1.0M121.3 757.6h1.0M120.5 753.7h1.0M120.2 748.0h1.0M126.0 745.9h1.0M115.4 744.1h1.0M107.6 750.0h1.0M85.1 744.4h1.0M97.9 747.5h1.0M138.2 742.9h1.0M108.7 746.1h1.0M100.7 743.8h1.0M124.3 746.6h1.0M101.0 741.4h1.0M99.4 752.7h1.0M97.9 737.3h1.0M98.2 748.1h1.0M116.2 747.7h1.0M122.3 740.8h1.0M97.2 745.9h1.0M111.7 736.4h1.0M108.4 738.9h1.0M123.6 749.1h1.0M134.1 758.3h1.0M117.6 746.1h1.0M95.8 744.2h1.0M124.9 749.6h1.0M111.2 740.1h1.0M106.9 757.2h1.0M107.0 754.7h1.0M77.5 755.3h1.0M96.5 740.0h1.0M105.4 743.2h1.0M132.9 746.0h1.0M107.4 743.9h1.0M121.1 754.1h1.0M122.9 739.3h1.0M107.1 750.5h1.0M83.0 746.9h1.0M123.5 755.7h1.0M117.3 752.2h1.0M122.6 749.5h1.0M84.4 757.6h1.0M120.3 747.2h1.0M99.3 760.3h1.0M115.5 752.6h1.0M105.3 749.0h1.0M110.6 753.5h1.0M84.4 757.3h1.0M110.5 751.7h1.0M124.4 744.7h1.0M121.9 741.3h1.0M113.7 743.3h1.0M125.1 755.6h1.0M93.9 749.3h1.0M100.3 739.9h1.0M109.4 753.2h1.0M126.4 744.7h1.0M106.8 755.5h1.0M110.0 757.4h1.0M136.8 750.6h1.0M99.5 745.9h1.0M121.7 746.4h1.0M111.7 750.1h1.0M89.1 745.2h1.0M105.2 742.9h1.0M113.9 745.5h1.0M104.4 755.4h1.0M130.9 746.4h1.0M102.9 739.1h1.0M85.3 756.0h1.0M110.9 743.0h1.0M91.7 754.2h1.0M106.2 750.9h1.0M123.4 743.1h1.0M90.9 746.9h1.0M117.6 746.3h1.0M108.8 749.7h1.0M97.4 751.4h1.0M123.9 741.5h1.0M98.9 745.4h1.0M101.5 746.0h1.0M125.3 740.0h1.0M115.7 745.3h1.0M100.4 739.9h1.0M81.6 748.0h1.0M130.1 742.6h1.0M120.2 740.8h1.0M116.9 746.0h1.0M105.3 739.8h1.0M103.0 745.1h1.0M128.9 751.1h1.0M116.5 744.1h1.0M113.8 751.8h1.0M129.0 752.6h1.0M136.4 746.4h1.0M97.7 754.6h1.0M135.5 752.6h1.0M111.0 748.4h1.0M106.2 745.8h1.0M110.7 749.9h1.0M94.7 750.3h1.0M112.9 746.5h1.0M114.7 745.6h1.0M114.7 755.7h1.0M104.8 752.2h1.0M102.6 746.4h1.0M114.1 744.4h1.0M125.1 739.5h1.0M108.1 747.7h1.0M112.1 746.7h1.0M96.8 747.8h1.0M129.7 751.0h1.0M108.5 740.8h1.0M97.9 751.9h1.0M103.0 745.9h1.0M142.6 734.6h1.0M123.4 734.8h1.0M91.9 762.1h1.0M125.9 750.7h1.0M121.8 752.5h1.0M102.5 740.1h1.0M99.2 749.4h1.0M116.7 753.2h1.0M109.6 751.5h1.0M110.0 741.4h1.0M102.9 749.4h1.0M108.8 744.5h1.0M109.7 755.0h1.0M100.1 733.9h1.0M111.0 734.6h1.0M131.1 743.8h1.0M110.5 746.1h1.0M112.1 748.9h1.0M126.2 741.3h1.0M104.0 744.9h1.0M106.4 750.6h1.0M82.4 735.5h1.0M110.1 749.6h1.0M117.4 752.6h1.0M131.9 742.1h1.0M105.3 748.7h1.0M117.8 750.0h1.0M114.2 741.9h1.0M142.3 747.3h1.0M115.9 742.0h1.0M114.7 745.4h1.0M125.5 752.5h1.0M101.9 747.8h1.0M111.5 749.1h1.0M130.0 743.3h1.0M148.5 742.8h1.0M90.5 751.5h1.0M92.4 754.7h1.0M115.6 745.5h1.0M121.2 748.3h1.0M99.8 745.3h1.0M137.8 748.6h1.0M115.0 742.0h1.0M139.8 751.1h1.0M106.3 747.6h1.0M102.8 754.9h1.0M123.6 743.8h1.0M105.4 745.1h1.0M112.8 759.9h1.0M106.6 749.7h1.0M105.4 746.5h1.0M116.3 753.8h1.0M94.4 744.0h1.0M107.5 742.3h1.0M132.0 751.6h1.0M126.4 750.1h1.0M94.6 752.8h1.0M109.2 744.0h1.0M98.8 741.2h1.0M103.9 748.5h1.0M127.4 744.0h1.0M121.0 749.6h1.0M121.6 747.7h1.0M92.3 754.1h1.0M120.4 741.0h1.0M111.3 746.5h1.0M143.3 756.4h1.0M112.8 746.6h1.0M121.4 749.2h1.0M120.4 746.4h1.0M96.3 736.8h1.0M91.3 738.6h1.0M110.8 751.2h1.0M134.9 749.1h1.0M141.4 757.0h1.0M109.3 744.6h1.0M114.4 744.9h1.0M104.9 747.8h1.0M118.3 736.8h1.0M112.3 747.8h1.0M122.1 742.4h1.0M118.7 742.1h1.0M97.8 742.9h1.0M113.2 745.9h1.0M128.1 750.3h1.0M107.9 753.3h1.0M134.6 748.4h1.0M137.5 749.6h1.0M117.3 742.4h1.0M126.1 753.5h1.0M115.4 753.6h1.0M141.0 757.6h1.0M99.0 746.5h1.0M130.3 753.0h1.0M127.4 739.3h1.0M122.3 751.1h1.0M103.8 756.8h1.0M122.9 754.0h1.0M135.2 746.7h1.0M117.0 748.1h1.0M127.7 753.5h1.0M97.7 744.1h1.0M97.7 749.5h1.0M96.0 742.9h1.0M131.2 743.5h1.0M120.4 736.4h1.0M123.1 740.5h1.0M132.3 749.6h1.0M120.2 743.3h1.0M117.9 745.6h1.0M125.6 745.9h1.0M108.6 744.0h1.0M107.5 752.8h1.0M108.7 750.2h1.0M74.6 753.4h1.0M93.1 737.5h1.0M113.6 737.6h1.0M134.9 747.7h1.0M109.9 752.1h1.0M109.0 748.6h1.0M115.0 759.4h1.0M122.5 745.7h1.0M114.6 738.6h1.0M130.7 741.8h1.0M105.0 747.5h1.0M117.0 743.8h1.0M102.1 744.2h1.0M76.1 744.7h1.0M120.6 753.7h1.0M101.3 742.5h1.0M124.7 745.9h1.0M129.9 743.7h1.0M117.4 747.5h1.0M114.2 752.4h1.0M113.4 747.5h1.0M110.1 756.7h1.0M120.2 747.8h1.0M91.8 751.2h1.0M103.1 739.5h1.0M111.7 743.8h1.0M111.4 749.3h1.0M108.0 744.5h1.0M109.3 762.2h1.0M99.9 742.2h1.0M101.0 741.8h1.0M107.5 743.6h1.0M116.3 748.8h1.0M124.7 748.5h1.0M115.8 750.1h1.0M74.5 748.6h1.0" stroke="#7dcbb8" stroke-width="1.00" stroke-opacity="0.9"/>
<path d="M107.4 714.3h0.8M122.6 717.6h0.8M147.1 749.0h0.8M68.2 758.2h0.8M58.9 750.3h0.8M196.4 771.5h0.8M78.2 779.3h0.8M193.4 745.1h0.8M131.3 789.4h0.8M139.0 695.5h0.8M118.6 738.9h0.8M151.6 791.5h0.8M151.7 769.4h0.8M69.3 713.6h0.8M129.0 749.1h0.8M213.0 780.7h0.8M76.5 762.3h0.8M93.8 726.6h0.8M125.9 736.9h0.8M132.3 723.2h0.8M156.6 728.9h0.8M115.9 719.9h0.8M126.8 714.3h0.8M87.1 760.4h0.8M142.7 748.6h0.8M128.9 713.0h0.8M69.8 767.4h0.8M123.9 753.1h0.8M127.2 762.1h0.8M81.6 765.0h0.8M40.1 745.0h0.8M175.7 747.9h0.8M134.7 717.5h0.8M161.8 740.5h0.8M152.8 755.7h0.8M115.4 722.9h0.8M153.4 756.6h0.8M132.9 753.0h0.8M100.9 740.2h0.8M154.1 746.0h0.8M27.4 747.7h0.8M105.1 731.4h0.8M131.0 780.5h0.8M45.0 713.2h0.8M196.4 722.1h0.8M193.5 777.8h0.8M90.3 731.8h0.8M157.9 784.2h0.8M123.5 746.3h0.8M110.9 798.3h0.8M56.7 746.0h0.8M158.8 748.9h0.8M108.4 752.3h0.8M99.9 712.4h0.8M203.7 790.1h0.8M94.6 737.0h0.8M177.7 737.8h0.8M110.7 734.4h0.8M55.0 743.5h0.8M91.2 730.3h0.8M65.1 735.2h0.8M106.6 722.3h0.8M151.5 671.2h0.8M114.8 679.8h0.8M61.4 779.6h0.8M131.5 753.3h0.8M49.3 700.2h0.8M143.9 744.6h0.8M161.5 741.7h0.8M136.2 749.1h0.8M119.2 698.0h0.8M157.3 724.5h0.8M116.9 731.0h0.8M147.2 728.5h0.8M72.2 739.8h0.8M163.7 724.6h0.8M175.3 733.0h0.8M135.5 786.9h0.8M166.6 840.4h0.8M92.0 740.4h0.8M153.8 729.0h0.8M89.0 749.2h0.8M115.4 729.7h0.8M102.9 746.9h0.8M119.9 734.6h0.8M95.5 721.5h0.8M70.3 745.2h0.8M114.4 720.2h0.8M120.8 749.2h0.8M141.6 731.1h0.8M151.3 760.8h0.8M46.8 706.4h0.8M147.0 742.2h0.8M145.9 767.3h0.8M80.4 743.5h0.8M164.6 708.4h0.8M183.7 681.0h0.8M108.3 801.3h0.8M108.7 740.0h0.8M135.7 728.3h0.8M152.5 737.5h0.8M94.3 805.9h0.8M148.3 713.7h0.8M43.2 725.0h0.8M140.0 696.8h0.8M99.7 733.9h0.8M121.9 776.0h0.8M58.0 709.0h0.8M202.0 692.4h0.8M125.2 745.4h0.8M161.2 713.2h0.8M145.2 774.1h0.8M118.6 755.6h0.8M87.1 760.4h0.8M112.7 725.2h0.8M116.5 695.9h0.8M60.8 742.4h0.8M121.3 731.3h0.8M60.1 741.5h0.8M104.9 695.9h0.8M162.4 799.0h0.8M126.1 715.1h0.8M28.3 764.8h0.8M130.5 762.7h0.8M203.0 720.6h0.8M126.8 780.4h0.8M82.1 766.9h0.8M121.8 720.5h0.8M124.4 754.2h0.8M118.5 742.5h0.8M146.4 756.6h0.8M105.5 740.4h0.8M36.5 701.9h0.8M86.4 722.8h0.8M107.5 706.2h0.8M140.3 763.6h0.8M179.3 739.6h0.8M140.0 757.8h0.8M186.0 723.8h0.8M149.0 700.5h0.8M78.2 702.3h0.8M145.5 731.1h0.8M123.0 711.4h0.8M116.9 787.0h0.8M56.9 702.7h0.8M157.3 708.6h0.8M121.8 739.6h0.8M56.8 725.2h0.8M117.5 745.6h0.8M144.3 735.5h0.8M118.4 732.7h0.8M123.5 756.8h0.8M91.0 654.8h0.8M139.2 736.7h0.8M216.7 705.4h0.8M141.1 755.3h0.8M84.8 731.6h0.8M79.9 750.9h0.8M118.9 744.4h0.8M140.2 743.4h0.8" stroke="#7dcbb8" stroke-width="0.80" stroke-opacity="0.7"/>
<path d="M291.6 673.8L377.4 737.3M291.6 673.8L371.8 690.4M291.6 673.8L361.8 687.9M291.6 673.8L367.7 752.9M291.6 673.8L372.3 700.6M291.6 673.8L335.2 738.2M291.6 673.8L381.1 766.2M291.6 673.8L344.4 737.0M291.6 673.8L383.8 757.7M291.6 673.8L340.7 731.2M291.6 673.8L381.2 716.9M291.6 673.8L341.7 736.0M291.6 673.8L388.6 769.3M291.6 673.8L382.0 756.9M291.6 673.8L364.8 681.8M291.6 673.8L374.7 749.7M291.6 673.8L333.5 728.3M291.6 673.8L401.6 762.3M291.6 673.8L366.2 684.3M291.6 673.8L341.0 726.6M291.6 673.8L360.2 686.7M291.6 673.8L371.4 685.3M291.6 673.8L367.7 750.4M291.6 673.8L390.1 775.3M291.6 673.8L378.1 764.9M291.6 673.8L378.3 707.0M291.6 673.8L362.8 677.8M291.6 673.8L365.4 680.7M291.6 673.8L358.2 721.5M291.6 673.8L371.6 761.7M291.6 673.8L370.8 767.7M291.6 673.8L340.5 730.2M291.6 673.8L341.2 727.7M291.6 673.8L363.3 681.4M291.6 673.8L347.7 738.7M291.6 673.8L398.4 767.9M291.6 673.8L390.4 767.5M291.6 673.8L369.9 741.5M291.6 673.8L363.0 683.8M291.6 673.8L337.9 728.0M291.6 673.8L410.7 742.9M291.6 673.8L372.9 762.3M291.6 673.8L368.2 688.3M291.6 673.8L341.2 736.2M291.6 673.8L339.0 730.3M291.6 673.8L374.7 766.0M291.6 673.8L370.2 764.5M291.6 673.8L330.1 735.7M291.6 673.8L365.3 678.0M291.6 673.8L381.7 760.9M291.6 673.8L388.0 760.5M291.6 673.8L365.4 681.9M291.6 673.8L342.4 728.3M291.6 673.8L361.9 690.5M291.6 673.8L362.0 676.3M291.6 673.8L387.6 702.7M291.6 673.8L373.5 683.6M291.6 673.8L407.8 708.8M291.6 673.8L365.6 687.3M291.6 673.8L369.0 681.7M291.6 673.8L361.8 685.5M291.6 673.8L391.0 764.7M291.6 673.8L385.5 756.1M291.6 673.8L401.0 733.3M291.6 673.8L383.8 759.8M291.6 673.8L358.0 689.5M291.6 673.8L382.6 773.5M291.6 673.8L352.5 763.7M291.6 673.8L367.0 681.1M291.6 673.8L381.4 701.7M291.6 673.8L344.3 732.5M291.6 673.8L341.6 726.1M291.6 673.8L381.3 758.4M291.6 673.8L384.9 744.5M291.6 673.8L375.4 732.7M291.6 673.8L366.7 683.8M291.6 673.8L378.4 754.0M291.6 673.8L338.3 738.2M291.6 673.8L337.9 739.3M291.6 673.8L338.5 737.3M291.6 673.8L364.7 678.4M291.6 673.8L321.1 698.1M291.6 673.8L353.4 736.9M291.6 673.8L383.5 769.5M291.6 673.8L371.6 679.8M291.6 673.8L358.9 715.7M291.6 673.8L336.4 731.7M291.6 673.8L379.6 765.1M291.6 673.8L368.8 675.0M291.6 673.8L372.1 688.3M291.6 673.8L379.2 771.6M291.6 673.8L343.1 738.8M291.6 673.8L382.9 729.8M291.6 673.8L371.0 682.7M291.6 673.8L372.0 764.5M291.6 673.8L367.1 726.3M291.6 673.8L345.1 734.0M291.6 673.8L387.4 776.0M291.6 673.8L383.6 722.5M291.6 673.8L373.0 738.8M291.6 673.8L368.1 763.1M291.6 673.8L387.2 770.7M291.6 673.8L350.3 746.3M291.6 673.8L362.1 680.8M291.6 673.8L375.3 763.4M291.6 673.8L376.8 702.9M291.6 673.8L382.0 759.6M291.6 673.8L366.0 692.2M291.6 673.8L371.6 756.2M291.6 673.8L391.5 762.6M291.6 673.8L371.9 706.6M291.6 673.8L380.4 775.3M291.6 673.8L370.9 735.1M291.6 673.8L398.1 706.7M291.6 673.8L342.8 737.5M291.6 673.8L387.4 763.9M291.6 673.8L386.3 763.9M291.6 673.8L337.3 737.4M291.6 673.8L366.8 686.0M291.6 673.8L387.0 753.8M291.6 673.8L360.5 734.7M291.6 673.8L343.7 728.2M291.6 673.8L336.8 734.5M291.6 673.8L375.0 765.3M291.6 673.8L382.6 769.6M291.6 673.8L344.0 733.2M291.6 673.8L364.5 678.5M291.6 673.8L337.3 730.5M291.6 673.8L402.5 743.2M291.6 673.8L336.6 738.5M291.6 673.8L345.3 732.4M291.6 673.8L373.7 761.0M291.6 673.8L381.6 731.8M291.6 673.8L362.8 678.5M291.6 673.8L358.7 679.0M291.6 673.8L365.9 680.2M291.6 673.8L338.1 731.3M291.6 673.8L390.6 757.5M291.6 673.8L347.7 713.2M291.6 673.8L336.2 734.1M291.6 673.8L359.0 753.0M291.6 673.8L361.3 678.6M291.6 673.8L364.8 689.9M291.6 673.8L373.9 683.9M291.6 673.8L346.1 765.2M291.6 673.8L369.4 751.0M291.6 673.8L343.3 739.2M291.6 673.8L383.0 740.7M291.6 673.8L384.6 767.4M291.6 673.8L363.5 738.6M291.6 673.8L393.5 727.5M291.6 673.8L373.5 724.9M291.6 673.8L388.8 765.7M291.6 673.8L335.0 736.6M291.6 673.8L368.5 754.6M291.6 673.8L381.2 740.4M291.6 673.8L400.0 738.9M291.6 673.8L384.7 766.3M291.6 673.8L383.8 769.3M291.6 673.8L371.3 776.8M291.6 673.8L338.1 737.7M291.6 673.8L341.2 744.8M291.6 673.8L388.4 774.9M291.6 673.8L359.9 677.8M291.6 673.8L334.1 732.9M291.6 673.8L376.7 712.8M291.6 673.8L336.5 746.1M291.6 673.8L361.8 677.9M291.6 673.8L390.5 753.7M291.6 673.8L372.8 764.2M291.6 673.8L381.8 763.5M291.6 673.8L381.5 720.9M291.6 673.8L373.2 759.9M291.6 673.8L337.7 738.0M291.6 673.8L379.6 769.3M291.6 673.8L368.4 682.9M291.6 673.8L399.4 733.4M291.6 673.8L361.0 678.0M291.6 673.8L370.4 691.3M291.6 673.8L347.6 731.7M291.6 673.8L338.2 736.7M291.6 673.8L390.0 759.5M291.6 673.8L344.4 731.1M291.6 673.8L339.9 733.6M291.6 673.8L385.9 766.9M291.6 673.8L356.9 723.1M291.6 673.8L369.8 685.7M291.6 673.8L369.8 686.4M291.6 673.8L366.6 690.1M291.6 673.8L365.7 679.7M291.6 673.8L340.7 727.9M291.6 673.8L355.4 685.7M291.6 673.8L337.5 728.3M291.6 673.8L404.8 744.8M291.6 673.8L379.1 687.9M291.6 673.8L375.0 773.4M291.6 673.8L381.6 771.1M291.6 673.8L338.3 734.2M291.6 673.8L377.3 758.8M291.6 673.8L369.8 718.6" stroke="#9a9a9a" stroke-width="0.35" stroke-opacity="0.072" fill="none"/>
<path d="M292.7 691.0L397.0 728.0M292.7 691.0L351.0 707.8M292.7 691.0L380.1 767.1M292.7 691.0L340.8 740.2M292.7 691.0L381.9 766.1M292.7 691.0L392.6 721.2M292.7 691.0L356.9 718.7M292.7 691.0L383.5 770.1M292.7 691.0L385.1 755.5M292.7 691.0L382.8 770.7M292.7 691.0L381.4 730.1M292.7 691.0L354.7 728.9M292.7 691.0L405.2 715.4M292.7 691.0L377.3 764.2M292.7 691.0L387.7 768.1M292.7 691.0L388.6 774.6M292.7 691.0L379.9 766.0M292.7 691.0L357.3 735.1M292.7 691.0L376.3 769.0M292.7 691.0L382.7 758.8M292.7 691.0L385.5 767.4M292.7 691.0L368.5 758.4M292.7 691.0L368.3 765.7M292.7 691.0L337.5 725.4M292.7 691.0L356.3 753.9M292.7 691.0L379.5 773.1M292.7 691.0L361.2 740.9M292.7 691.0L377.9 755.6M292.7 691.0L372.3 721.8M292.7 691.0L355.5 697.3M292.7 691.0L359.6 709.4M292.7 691.0L366.9 783.6M292.7 691.0L387.3 732.0M292.7 691.0L355.4 733.4M292.7 691.0L384.1 736.0M292.7 691.0L382.7 727.9M292.7 691.0L384.9 729.1M292.7 691.0L379.3 758.7M292.7 691.0L402.9 748.9M292.7 691.0L389.6 770.4M292.7 691.0L375.7 763.4M292.7 691.0L427.1 718.5M292.7 691.0L375.8 757.9M292.7 691.0L360.1 747.4M292.7 691.0L347.6 764.9M292.7 691.0L378.6 763.0M292.7 691.0L386.2 754.4M292.7 691.0L383.4 753.0M292.7 691.0L354.8 728.1M292.7 691.0L370.1 721.9M292.7 691.0L374.5 765.2M292.7 691.0L385.4 724.7M292.7 691.0L384.2 714.3M292.7 691.0L376.8 772.8M292.7 691.0L427.7 726.4M292.7 691.0L351.6 741.2M292.7 691.0L363.0 728.1M292.7 691.0L370.1 766.0M292.7 691.0L368.1 741.2M292.7 691.0L391.3 768.7" stroke="#9a9a9a" stroke-width="0.35" stroke-opacity="0.056" fill="none"/>
<path d="M431.7 656.4L450.1 811.3M431.7 656.4L433.7 764.9M431.7 656.4L375.7 737.8M431.7 656.4L419.0 803.2M431.7 656.4L366.6 837.1M431.7 656.4L368.8 835.8M431.7 656.4L376.4 754.8M431.7 656.4L368.0 836.4M431.7 656.4L452.9 814.2M431.7 656.4L449.8 813.4M431.7 656.4L422.2 804.9M431.7 656.4L421.3 803.8M431.7 656.4L455.2 812.2M431.7 656.4L438.8 764.0M431.7 656.4L367.5 840.0M431.7 656.4L448.4 805.1M431.7 656.4L422.9 805.5M431.7 656.4L428.7 804.6M431.7 656.4L363.2 762.2M431.7 656.4L441.5 766.2M431.7 656.4L446.0 807.3M431.7 656.4L405.2 741.1M431.7 656.4L451.0 810.1M431.7 656.4L454.2 813.4M431.7 656.4L372.6 849.6M431.7 656.4L374.1 840.8M431.7 656.4L390.0 756.9M431.7 656.4L386.6 778.7M431.7 656.4L437.3 765.8M431.7 656.4L435.3 765.1M431.7 656.4L425.2 804.6M431.7 656.4L392.7 761.1M431.7 656.4L453.8 804.7M431.7 656.4L420.7 803.0M431.7 656.4L391.0 757.8M431.7 656.4L368.4 841.3M431.7 656.4L442.2 763.3M431.7 656.4L450.9 829.8M431.7 656.4L468.8 770.0M431.7 656.4L369.7 831.5M431.7 656.4L464.0 812.8M431.7 656.4L449.7 806.9M431.7 656.4L436.0 761.7M431.7 656.4L418.8 802.0M431.7 656.4L418.9 804.9M431.7 656.4L367.0 838.3M431.7 656.4L439.2 767.1M431.7 656.4L364.3 840.3M431.7 656.4L450.1 818.1M431.7 656.4L447.9 783.4M431.7 656.4L436.2 764.7M431.7 656.4L435.2 762.5M431.7 656.4L421.2 799.1M431.7 656.4L366.7 842.5M431.7 656.4L439.8 760.0M431.7 656.4L425.2 804.7M431.7 656.4L365.5 833.9M431.7 656.4L373.0 839.5M431.7 656.4L439.5 762.6M431.7 656.4L445.3 785.4M431.7 656.4L440.7 760.0M431.7 656.4L435.3 762.8M431.7 656.4L367.6 834.4M431.7 656.4L442.1 768.0M431.7 656.4L372.5 725.2M431.7 656.4L452.9 805.8M431.7 656.4L451.3 810.9M431.7 656.4L369.0 841.1M431.7 656.4L444.2 763.7M431.7 656.4L419.1 810.1M431.7 656.4L371.2 753.5M431.7 656.4L438.5 761.9M431.7 656.4L437.2 763.1M431.7 656.4L489.3 785.7M431.7 656.4L447.0 811.5M431.7 656.4L379.3 744.1M431.7 656.4L437.7 765.9M431.7 656.4L458.6 776.7M431.7 656.4L453.7 765.6M431.7 656.4L443.8 764.7M431.7 656.4L422.4 809.0M431.7 656.4L463.8 783.1M431.7 656.4L453.4 815.6M431.7 656.4L469.4 801.9M431.7 656.4L422.6 807.5M431.7 656.4L450.6 808.6M431.7 656.4L428.6 810.9M431.7 656.4L420.2 802.4M431.7 656.4L437.5 760.5M431.7 656.4L361.2 748.1M431.7 656.4L439.4 767.2M431.7 656.4L449.4 809.1M431.7 656.4L365.9 841.0M431.7 656.4L466.1 814.1M431.7 656.4L446.2 807.8M431.7 656.4L405.1 747.3M431.7 656.4L356.3 843.6M431.7 656.4L368.7 772.6M431.7 656.4L369.8 839.0M431.7 656.4L380.6 751.1M431.7 656.4L446.7 808.8M431.7 656.4L365.8 842.1M431.7 656.4L370.3 843.2M431.7 656.4L452.5 811.2M431.7 656.4L465.2 829.7M431.7 656.4L442.3 758.7M431.7 656.4L452.5 783.7M431.7 656.4L362.4 737.1M431.7 656.4L351.2 775.8M431.7 656.4L366.3 842.2M431.7 656.4L371.8 760.6M431.7 656.4L440.0 762.3M431.7 656.4L369.6 843.7M431.7 656.4L438.2 763.2M431.7 656.4L360.7 841.0M431.7 656.4L440.4 761.0M431.7 656.4L451.9 819.0M431.7 656.4L367.0 839.7M431.7 656.4L453.5 792.3M431.7 656.4L423.7 805.8M431.7 656.4L421.8 809.3M431.7 656.4L420.5 800.1M431.7 656.4L364.5 838.8M431.7 656.4L444.5 783.2M431.7 656.4L366.4 837.6M431.7 656.4L439.4 763.9M431.7 656.4L465.5 743.8M431.7 656.4L419.7 800.6M431.7 656.4L435.4 760.0M431.7 656.4L436.2 762.2M431.7 656.4L423.9 801.1M431.7 656.4L398.4 758.2M431.7 656.4L484.5 768.4M431.7 656.4L372.3 844.8M431.7 656.4L392.4 770.2M431.7 656.4L473.7 794.1M431.7 656.4L416.7 807.1M431.7 656.4L365.2 839.8M431.7 656.4L423.9 811.1M431.7 656.4L438.7 761.0M431.7 656.4L441.1 762.5M431.7 656.4L459.4 783.7M431.7 656.4L367.1 842.1M431.7 656.4L374.7 834.5M431.7 656.4L441.5 802.6M431.7 656.4L476.3 773.7M431.7 656.4L367.2 842.3M431.7 656.4L362.8 837.2M431.7 656.4L419.2 807.5M431.7 656.4L451.0 804.7M431.7 656.4L424.0 804.2M431.7 656.4L439.8 756.3M431.7 656.4L423.7 806.9M431.7 656.4L381.7 758.3M431.7 656.4L437.3 762.7M431.7 656.4L456.6 810.1M431.7 656.4L369.8 833.0M431.7 656.4L450.9 812.6M431.7 656.4L375.9 834.1M431.7 656.4L420.3 804.7M431.7 656.4L418.5 805.6M431.7 656.4L420.7 803.1M431.7 656.4L461.7 781.8M431.7 656.4L439.1 763.2M431.7 656.4L437.2 764.8M431.7 656.4L419.8 810.0M431.7 656.4L439.9 767.7M431.7 656.4L447.8 781.7M431.7 656.4L421.4 803.3M431.7 656.4L372.6 833.7M431.7 656.4L363.9 840.8M431.7 656.4L367.0 834.8M431.7 656.4L385.1 756.1M431.7 656.4L420.2 808.9M431.7 656.4L448.3 810.5M431.7 656.4L421.0 799.3M431.7 656.4L418.3 805.6M431.7 656.4L447.2 805.3M431.7 656.4L414.4 752.9M431.7 656.4L416.1 807.2M431.7 656.4L363.5 836.9M431.7 656.4L427.1 797.9M431.7 656.4L367.6 836.2M431.7 656.4L464.3 806.3M431.7 656.4L374.5 750.6M431.7 656.4L369.9 841.9M431.7 656.4L435.4 760.5M431.7 656.4L398.2 755.8M431.7 656.4L383.3 757.7M431.7 656.4L440.0 763.3M431.7 656.4L450.0 809.1M431.7 656.4L450.5 811.9M431.7 656.4L362.3 842.5M431.7 656.4L398.8 763.2M431.7 656.4L447.7 802.4M431.7 656.4L422.2 805.8M431.7 656.4L442.1 813.9M431.7 656.4L450.7 813.1M431.7 656.4L471.3 782.3M431.7 656.4L447.6 804.2" stroke="#9a9a9a" stroke-width="0.35" stroke-opacity="0.072" fill="none"/>
<path d="M365.7 682.7L426.2 708.0M365.7 682.7L373.1 829.4M365.7 682.7L315.4 757.5M365.7 682.7L361.7 840.6M365.7 682.7L374.0 838.8M365.7 682.7L387.0 766.8M365.7 682.7L315.8 755.9M365.7 682.7L308.5 748.9M365.7 682.7L319.2 746.7M365.7 682.7L313.1 748.1M365.7 682.7L371.1 842.9M365.7 682.7L381.3 762.9M365.7 682.7L313.9 750.0M365.7 682.7L366.6 841.2M365.7 682.7L379.6 774.3M365.7 682.7L378.5 718.0M365.7 682.7L374.1 844.4M365.7 682.7L387.1 763.9M365.7 682.7L366.2 720.1M365.7 682.7L423.5 703.5M365.7 682.7L377.0 763.3M365.7 682.7L311.0 759.6M365.7 682.7L365.6 841.3M365.7 682.7L309.3 748.5M365.7 682.7L308.7 755.2M365.7 682.7L374.5 759.5M365.7 682.7L379.1 732.8M365.7 682.7L309.7 760.4M365.7 682.7L382.4 754.9M365.7 682.7L317.4 759.2M365.7 682.7L368.7 839.6M365.7 682.7L388.4 765.4M365.7 682.7L385.7 731.4M365.7 682.7L390.6 770.5M365.7 682.7L312.5 763.5M365.7 682.7L384.1 758.7M365.7 682.7L316.0 756.6M365.7 682.7L424.3 713.6M365.7 682.7L374.3 761.3M365.7 682.7L389.3 772.4M365.7 682.7L308.8 758.4M365.7 682.7L374.5 736.1M365.7 682.7L373.6 761.7M365.7 682.7L347.5 722.8M365.7 682.7L375.0 767.4M365.7 682.7L361.2 834.8M365.7 682.7L366.6 728.9M365.7 682.7L421.0 713.3M365.7 682.7L421.7 716.5M365.7 682.7L430.2 715.7M365.7 682.7L312.4 760.0M365.7 682.7L354.3 739.0M365.7 682.7L361.1 751.0M365.7 682.7L422.3 723.1M365.7 682.7L380.0 838.3M365.7 682.7L399.9 730.2M365.7 682.7L372.2 843.7M365.7 682.7L370.3 833.1M365.7 682.7L381.6 773.3M365.7 682.7L370.8 760.7M365.7 682.7L365.5 840.8M365.7 682.7L378.6 774.2M365.7 682.7L360.8 840.1M365.7 682.7L318.1 756.9M365.7 682.7L310.9 759.3M365.7 682.7L362.4 723.3M365.7 682.7L356.1 751.2M365.7 682.7L420.8 714.4M365.7 682.7L376.5 837.1M365.7 682.7L416.5 713.6M365.7 682.7L367.2 837.2M365.7 682.7L431.0 709.1M365.7 682.7L385.0 729.6M365.7 682.7L366.5 753.3M365.7 682.7L372.2 832.8M365.7 682.7L377.0 844.6M365.7 682.7L424.9 715.5M365.7 682.7L378.7 763.5M365.7 682.7L425.3 719.7M365.7 682.7L384.2 737.7M365.7 682.7L381.3 770.0M365.7 682.7L386.0 762.7M365.7 682.7L324.9 756.8M365.7 682.7L315.5 753.8M365.7 682.7L365.0 841.1M365.7 682.7L429.1 715.7M365.7 682.7L423.1 710.5M365.7 682.7L312.0 768.9M365.7 682.7L368.6 738.3M365.7 682.7L382.7 756.0M365.7 682.7L426.3 706.3M365.7 682.7L426.4 715.2M365.7 682.7L420.4 712.9M365.7 682.7L370.8 846.3M365.7 682.7L425.3 706.2M365.7 682.7L344.5 720.2M365.7 682.7L359.8 734.6M365.7 682.7L422.7 713.3M365.7 682.7L371.3 764.7M365.7 682.7L353.6 709.9M365.7 682.7L419.8 713.5M365.7 682.7L423.2 713.8M365.7 682.7L424.9 713.7M365.7 682.7L368.9 842.3M365.7 682.7L377.1 752.5M365.7 682.7L313.5 756.2M365.7 682.7L368.7 837.4M365.7 682.7L319.9 758.5M365.7 682.7L389.4 757.4M365.7 682.7L428.0 710.8M365.7 682.7L369.2 832.5M365.7 682.7L364.2 845.0M365.7 682.7L309.3 760.4M365.7 682.7L425.1 712.1M365.7 682.7L316.3 760.3M365.7 682.7L393.4 765.9M365.7 682.7L318.7 751.5M365.7 682.7L324.3 754.0M365.7 682.7L421.5 714.4M365.7 682.7L311.4 752.3M365.7 682.7L374.7 764.0M365.7 682.7L375.9 764.3M365.7 682.7L375.6 764.1M365.7 682.7L422.4 710.9M365.7 682.7L417.3 713.3M365.7 682.7L401.5 748.7M365.7 682.7L422.5 720.9M365.7 682.7L318.0 753.7M365.7 682.7L422.2 712.4M365.7 682.7L421.3 709.6M365.7 682.7L424.7 719.4M365.7 682.7L320.5 752.7M365.7 682.7L370.7 769.3M365.7 682.7L429.5 710.9M365.7 682.7L311.4 766.2M365.7 682.7L377.9 750.0M365.7 682.7L387.7 771.6M365.7 682.7L382.4 759.5M365.7 682.7L369.1 835.5M365.7 682.7L319.3 748.9M365.7 682.7L430.8 711.1M365.7 682.7L415.5 706.8M365.7 682.7L382.1 771.2M365.7 682.7L317.8 755.1M365.7 682.7L317.9 761.7M365.7 682.7L374.7 738.9M365.7 682.7L373.4 735.3M365.7 682.7L388.0 773.8M365.7 682.7L318.9 749.5M365.7 682.7L380.9 766.0" stroke="#9a9a9a" stroke-width="0.35" stroke-opacity="0.072" fill="none"/>
<path d="M382.3 764.5L263.3 783.5M382.3 764.5L439.9 734.6M382.3 764.5L258.8 780.9M382.3 764.5L309.8 876.4M382.3 764.5L368.0 839.2M382.3 764.5L375.0 843.9M382.3 764.5L256.0 775.4M382.3 764.5L370.6 838.6M382.3 764.5L328.2 859.0M382.3 764.5L434.6 737.9M382.3 764.5L260.5 784.0M382.3 764.5L317.8 762.3M382.3 764.5L370.9 836.6M382.3 764.5L440.1 733.3M382.3 764.5L346.1 828.2M382.3 764.5L364.4 846.4M382.3 764.5L421.0 733.9M382.3 764.5L331.7 846.6M382.3 764.5L262.7 779.4M382.3 764.5L302.1 829.0M382.3 764.5L427.9 733.5M382.3 764.5L256.8 774.0M382.3 764.5L259.6 779.6M382.3 764.5L259.4 783.5M382.3 764.5L259.4 774.2M382.3 764.5L308.7 763.4M382.3 764.5L264.8 782.7M382.3 764.5L367.8 835.5M382.3 764.5L365.0 840.1M382.3 764.5L431.2 727.9M382.3 764.5L325.4 750.4M382.3 764.5L265.0 782.7M382.3 764.5L260.9 784.1M382.3 764.5L303.6 860.9M382.3 764.5L432.9 736.4M382.3 764.5L280.5 832.3M382.3 764.5L366.2 840.8M382.3 764.5L429.7 729.9M382.3 764.5L259.2 778.1M382.3 764.5L318.1 759.2M382.3 764.5L259.1 788.9M382.3 764.5L302.2 757.8M382.3 764.5L347.1 851.8M382.3 764.5L318.6 752.3M382.3 764.5L296.2 854.5M382.3 764.5L255.7 786.3M382.3 764.5L336.4 845.9M382.3 764.5L260.2 774.9M382.3 764.5L429.7 729.9M382.3 764.5L335.0 851.3M382.3 764.5L358.7 834.1M382.3 764.5L258.4 778.2M382.3 764.5L302.6 847.0M382.3 764.5L281.1 819.1M382.3 764.5L258.2 776.6M382.3 764.5L435.6 742.4M382.3 764.5L299.8 755.3M382.3 764.5L368.0 843.4M382.3 764.5L260.9 779.9M382.3 764.5L258.5 779.9M382.3 764.5L302.6 823.7M382.3 764.5L370.1 828.7M382.3 764.5L323.2 845.1M382.3 764.5L313.3 757.1M382.3 764.5L436.8 735.0M382.3 764.5L432.4 733.6M382.3 764.5L316.8 752.2M382.3 764.5L311.2 843.8M382.3 764.5L261.2 782.2M382.3 764.5L257.4 788.1M382.3 764.5L258.7 778.7M382.3 764.5L264.1 780.7M382.3 764.5L264.1 787.7M382.3 764.5L269.1 778.1M382.3 764.5L316.0 836.7M382.3 764.5L261.1 779.5M382.3 764.5L375.4 837.8M382.3 764.5L315.8 765.1M382.3 764.5L313.2 759.1M382.3 764.5L373.4 839.4M382.3 764.5L262.3 774.8M382.3 764.5L361.5 839.0M382.3 764.5L330.4 860.3M382.3 764.5L362.7 836.9M382.3 764.5L373.8 825.6M382.3 764.5L267.9 785.0M382.3 764.5L315.9 755.1M382.3 764.5L312.5 749.4M382.3 764.5L428.6 735.1M382.3 764.5L422.0 729.4M382.3 764.5L265.5 780.5M382.3 764.5L324.0 860.4M382.3 764.5L429.6 739.4M382.3 764.5L325.8 836.8M382.3 764.5L423.1 725.2M382.3 764.5L361.4 837.5M382.3 764.5L442.4 723.9M382.3 764.5L260.0 782.5M382.3 764.5L370.8 837.3M382.3 764.5L355.1 859.4M382.3 764.5L281.3 849.0M382.3 764.5L288.9 861.9M382.3 764.5L260.0 789.2M382.3 764.5L368.7 831.5M382.3 764.5L310.9 762.1M382.3 764.5L434.5 732.4M382.3 764.5L369.6 830.2M382.3 764.5L368.9 838.3M382.3 764.5L429.7 732.8M382.3 764.5L371.1 842.6M382.3 764.5L428.3 733.9M382.3 764.5L332.4 846.9M382.3 764.5L257.2 781.0M382.3 764.5L316.2 748.1M382.3 764.5L361.9 842.3M382.3 764.5L362.7 836.9M382.3 764.5L371.2 837.0M382.3 764.5L366.2 837.6M382.3 764.5L344.0 843.3M382.3 764.5L427.4 731.6M382.3 764.5L432.3 728.0M382.3 764.5L260.0 782.0M382.3 764.5L426.3 728.2M382.3 764.5L263.4 786.8M382.3 764.5L315.9 839.5M382.3 764.5L263.9 784.9M382.3 764.5L367.1 840.9M382.3 764.5L307.9 749.1M382.3 764.5L331.3 857.5M382.3 764.5L356.6 841.2M382.3 764.5L368.7 835.7M382.3 764.5L373.8 839.7M382.3 764.5L262.5 785.8M382.3 764.5L291.7 809.4M382.3 764.5L431.4 740.4M382.3 764.5L370.2 838.4M382.3 764.5L314.3 751.7M382.3 764.5L432.1 733.1M382.3 764.5L326.2 759.1M382.3 764.5L262.5 776.8M382.3 764.5L369.6 835.1M382.3 764.5L316.6 753.2M382.3 764.5L374.8 854.5M382.3 764.5L427.2 730.4M382.3 764.5L441.8 727.9M382.3 764.5L261.9 823.1M382.3 764.5L297.2 827.8M382.3 764.5L256.0 783.0M382.3 764.5L367.8 840.2M382.3 764.5L314.8 757.4M382.3 764.5L326.8 846.6M382.3 764.5L340.2 847.4M382.3 764.5L426.6 726.3M382.3 764.5L321.1 845.8M382.3 764.5L271.6 842.3M382.3 764.5L317.3 756.0M382.3 764.5L319.4 749.2M382.3 764.5L291.0 836.1M382.3 764.5L264.2 787.2M382.3 764.5L261.7 779.0M382.3 764.5L260.7 782.7M382.3 764.5L272.0 837.2M382.3 764.5L323.0 761.6M382.3 764.5L300.0 754.8M382.3 764.5L345.7 848.3M382.3 764.5L336.0 849.7M382.3 764.5L261.7 782.6M382.3 764.5L252.8 781.8M382.3 764.5L432.4 729.6M382.3 764.5L258.9 787.1M382.3 764.5L358.8 856.8M382.3 764.5L261.4 778.6M382.3 764.5L364.8 837.8M382.3 764.5L370.5 838.7M382.3 764.5L330.7 846.8M382.3 764.5L429.8 724.8M382.3 764.5L312.5 754.7M382.3 764.5L425.6 726.1M382.3 764.5L321.6 756.3M382.3 764.5L259.1 780.1M382.3 764.5L260.0 779.9M382.3 764.5L322.4 841.5M382.3 764.5L262.9 783.5M382.3 764.5L370.1 838.6M382.3 764.5L295.6 838.8M382.3 764.5L255.9 782.7M382.3 764.5L374.3 840.5M382.3 764.5L373.2 828.2M382.3 764.5L373.1 833.6M382.3 764.5L312.3 822.0M382.3 764.5L430.2 735.8M382.3 764.5L437.6 724.4M382.3 764.5L258.8 782.9M382.3 764.5L373.1 843.4M382.3 764.5L428.8 726.6M382.3 764.5L360.6 842.9M382.3 764.5L373.1 852.6M382.3 764.5L422.3 727.8M382.3 764.5L320.3 761.6M382.3 764.5L286.7 837.2M382.3 764.5L429.7 729.5M382.3 764.5L327.0 847.6M382.3 764.5L373.8 842.7M382.3 764.5L336.7 833.0M382.3 764.5L434.3 730.7M382.3 764.5L318.8 756.5M382.3 764.5L317.7 761.3M382.3 764.5L283.3 835.7M382.3 764.5L348.1 852.5M382.3 764.5L323.3 767.3M382.3 764.5L367.8 845.6M382.3 764.5L360.4 841.6M382.3 764.5L367.6 844.4M382.3 764.5L316.7 758.8M382.3 764.5L362.9 833.7M382.3 764.5L313.3 855.3M382.3 764.5L267.8 772.0M382.3 764.5L346.6 823.6M382.3 764.5L263.7 775.9M382.3 764.5L364.2 843.3M382.3 764.5L433.8 745.6M382.3 764.5L370.6 861.0M382.3 764.5L432.5 726.6M382.3 764.5L315.8 759.0M382.3 764.5L376.5 838.2M382.3 764.5L375.9 839.1M382.3 764.5L265.0 790.4M382.3 764.5L308.9 866.1M382.3 764.5L308.2 756.0M382.3 764.5L372.0 831.2M382.3 764.5L432.2 723.5M382.3 764.5L429.8 725.5M382.3 764.5L431.1 733.0M382.3 764.5L303.4 836.9M382.3 764.5L311.6 806.1M382.3 764.5L262.6 785.3M382.3 764.5L315.1 751.4M382.3 764.5L309.9 816.1M382.3 764.5L272.2 850.9M382.3 764.5L314.3 758.2M382.3 764.5L377.3 839.2M382.3 764.5L310.3 750.1M382.3 764.5L367.0 845.8M382.3 764.5L345.9 844.7M382.3 764.5L310.2 760.4M382.3 764.5L419.4 736.5M382.3 764.5L311.7 830.8M382.3 764.5L425.8 731.6M382.3 764.5L316.7 754.3M382.3 764.5L358.8 846.8M382.3 764.5L308.7 756.9M382.3 764.5L424.2 735.2M382.3 764.5L376.4 849.9M382.3 764.5L277.7 799.2M382.3 764.5L272.1 809.1M382.3 764.5L327.6 862.4M382.3 764.5L435.8 730.7M382.3 764.5L345.6 835.1M382.3 764.5L323.9 842.8M382.3 764.5L348.0 849.5" stroke="#9a9a9a" stroke-width="0.35" stroke-opacity="0.080" fill="none"/>
<path d="M260.8 781.0L333.6 797.7M260.8 781.0L353.4 739.0M260.8 781.0L317.9 802.9M260.8 781.0L277.6 750.6M260.8 781.0L329.9 707.8M260.8 781.0L273.5 713.0M260.8 781.0L352.5 736.5M260.8 781.0L386.2 735.7M260.8 781.0L334.5 790.5M260.8 781.0L366.2 719.3M260.8 781.0L327.7 795.1M260.8 781.0L326.6 781.0M260.8 781.0L316.8 771.5M260.8 781.0L312.3 794.5M260.8 781.0L324.8 804.8M260.8 781.0L374.0 714.0M260.8 781.0L327.0 778.1M260.8 781.0L321.8 700.6M260.8 781.0L281.6 711.2M260.8 781.0L399.3 727.2M260.8 781.0L319.4 778.9M260.8 781.0L305.5 719.1M260.8 781.0L290.8 752.8M260.8 781.0L355.6 755.2M260.8 781.0L384.1 753.4M260.8 781.0L319.2 737.2M260.8 781.0L273.1 700.3M260.8 781.0L380.3 742.9M260.8 781.0L370.0 720.2M260.8 781.0L348.4 766.5M260.8 781.0L387.2 760.3M260.8 781.0L253.3 701.8M260.8 781.0L349.0 790.6M260.8 781.0L368.5 733.4M260.8 781.0L309.5 686.7M260.8 781.0L350.6 768.4M260.8 781.0L292.5 714.5M260.8 781.0L308.3 702.7M260.8 781.0L342.6 721.4M260.8 781.0L293.0 701.7M260.8 781.0L310.8 731.0M260.8 781.0L309.5 706.7M260.8 781.0L328.9 719.2M260.8 781.0L392.5 736.5M260.8 781.0L360.6 739.4M260.8 781.0L321.9 778.1M260.8 781.0L346.0 779.7M260.8 781.0L324.0 711.8M260.8 781.0L285.3 711.7M260.8 781.0L304.3 735.6M260.8 781.0L336.6 796.5M260.8 781.0L336.0 736.2M260.8 781.0L325.6 687.3M260.8 781.0L376.0 758.7M260.8 781.0L329.5 793.4M260.8 781.0L260.9 736.5M260.8 781.0L275.2 735.5M260.8 781.0L274.7 710.5M260.8 781.0L355.2 748.0M260.8 781.0L326.3 792.6" stroke="#9a9a9a" stroke-width="0.35" stroke-opacity="0.056" fill="none"/>
<path d="M368.6 839.1L290.6 839.1M368.6 839.1L321.3 799.7M368.6 839.1L342.4 731.3M368.6 839.1L421.3 796.4M368.6 839.1L362.6 762.4M368.6 839.1L418.2 808.3M368.6 839.1L419.7 809.2M368.6 839.1L425.3 809.1M368.6 839.1L348.3 730.1M368.6 839.1L330.4 755.2M368.6 839.1L429.0 804.3M368.6 839.1L382.5 745.1M368.6 839.1L327.8 731.3M368.6 839.1L420.8 804.7M368.6 839.1L298.3 839.2M368.6 839.1L425.4 806.7M368.6 839.1L342.8 731.3M368.6 839.1L370.1 747.7M368.6 839.1L421.9 807.9M368.6 839.1L317.7 826.9M368.6 839.1L296.1 814.5M368.6 839.1L426.2 807.0M368.6 839.1L428.2 809.4M368.6 839.1L336.5 735.1M368.6 839.1L377.3 799.3M368.6 839.1L424.5 803.9M368.6 839.1L335.4 725.6M368.6 839.1L335.2 729.5M368.6 839.1L381.2 805.3M368.6 839.1L280.9 815.5M368.6 839.1L375.7 795.6M368.6 839.1L423.2 807.8M368.6 839.1L297.2 829.4M368.6 839.1L380.5 728.2M368.6 839.1L373.8 806.4M368.6 839.1L372.1 792.6M368.6 839.1L360.4 736.7M368.6 839.1L382.9 749.3M368.6 839.1L366.8 796.6M368.6 839.1L377.9 799.2M368.6 839.1L375.7 802.3M368.6 839.1L337.9 732.8M368.6 839.1L337.7 739.2M368.6 839.1L374.9 797.8M368.6 839.1L371.6 805.8M368.6 839.1L369.6 800.0M368.6 839.1L339.9 754.8M368.6 839.1L382.0 749.9M368.6 839.1L422.8 804.0M368.6 839.1L334.4 735.0M368.6 839.1L371.6 799.0M368.6 839.1L376.2 799.9M368.6 839.1L410.7 715.5M368.6 839.1L307.8 832.2M368.6 839.1L283.2 802.0M368.6 839.1L368.8 802.8M368.6 839.1L334.2 733.9M368.6 839.1L282.6 795.4M368.6 839.1L374.8 806.6M368.6 839.1L424.4 806.0M368.6 839.1L342.4 739.0M368.6 839.1L341.9 734.0M368.6 839.1L362.4 743.7M368.6 839.1L307.2 817.1M368.6 839.1L415.5 808.9M368.6 839.1L420.8 803.4M368.6 839.1L423.9 811.2M368.6 839.1L378.8 799.6M368.6 839.1L320.8 827.9M368.6 839.1L350.9 727.7M368.6 839.1L409.8 750.9M368.6 839.1L312.7 798.7M368.6 839.1L428.7 804.6M368.6 839.1L297.4 812.1M368.6 839.1L387.6 768.8M368.6 839.1L338.5 737.6M368.6 839.1L287.9 822.4M368.6 839.1L427.1 805.6M368.6 839.1L394.6 729.2M368.6 839.1L342.8 740.5M368.6 839.1L343.2 725.8M368.6 839.1L370.2 759.8M368.6 839.1L308.6 804.1M368.6 839.1L372.3 802.3M368.6 839.1L418.4 802.1M368.6 839.1L277.8 833.1M368.6 839.1L261.4 798.5M368.6 839.1L393.7 757.3M368.6 839.1L378.8 810.3M368.6 839.1L341.8 733.9M368.6 839.1L337.0 728.9M368.6 839.1L341.3 738.0M368.6 839.1L373.5 731.5M368.6 839.1L341.5 739.3M368.6 839.1L371.9 806.4M368.6 839.1L335.4 731.7M368.6 839.1L295.1 824.3M368.6 839.1L369.1 752.1M368.6 839.1L376.2 740.2M368.6 839.1L304.0 820.8M368.6 839.1L375.9 797.3M368.6 839.1L371.7 798.8M368.6 839.1L373.8 802.7M368.6 839.1L417.3 799.9M368.6 839.1L366.7 803.4M368.6 839.1L344.0 735.5M368.6 839.1L301.8 832.6M368.6 839.1L289.9 803.0M368.6 839.1L299.6 820.4M368.6 839.1L302.1 812.5M368.6 839.1L396.4 743.9M368.6 839.1L375.0 799.5M368.6 839.1L376.3 801.1M368.6 839.1L342.4 728.8M368.6 839.1L419.7 799.6M368.6 839.1L371.6 802.5M368.6 839.1L424.1 807.8M368.6 839.1L421.7 801.5M368.6 839.1L368.4 740.0M368.6 839.1L336.7 734.9M368.6 839.1L342.0 732.4M368.6 839.1L257.1 832.9M368.6 839.1L363.2 763.9M368.6 839.1L371.1 798.0M368.6 839.1L332.8 732.6M368.6 839.1L377.1 795.9M368.6 839.1L426.6 807.4M368.6 839.1L372.6 801.5M368.6 839.1L317.7 798.6M368.6 839.1L339.4 737.3M368.6 839.1L333.3 730.6M368.6 839.1L373.9 804.1M368.6 839.1L340.9 730.9M368.6 839.1L375.1 799.7M368.6 839.1L368.2 800.1M368.6 839.1L366.6 801.3M368.6 839.1L374.1 802.7M368.6 839.1L349.3 749.5M368.6 839.1L421.3 803.9M368.6 839.1L380.4 803.7" stroke="#9a9a9a" stroke-width="0.35" stroke-opacity="0.072" fill="none"/>
<path d="M422.3 804.8L378.6 746.1M422.3 804.8L332.4 811.4M422.3 804.8L373.6 734.0M422.3 804.8L254.7 844.5M422.3 804.8L453.8 807.7M422.3 804.8L437.2 803.9M422.3 804.8L334.2 817.3M422.3 804.8L330.3 800.7M422.3 804.8L396.9 740.3M422.3 804.8L379.7 758.0M422.3 804.8L356.7 752.1M422.3 804.8L294.2 797.6M422.3 804.8L447.3 810.6M422.3 804.8L464.7 808.0M422.3 804.8L297.4 849.6M422.3 804.8L449.6 807.9M422.3 804.8L449.4 809.7M422.3 804.8L453.9 815.5M422.3 804.8L453.6 811.8M422.3 804.8L383.9 734.1M422.3 804.8L446.8 809.4M422.3 804.8L448.4 810.4M422.3 804.8L367.5 740.5M422.3 804.8L449.3 812.7M422.3 804.8L448.2 812.7M422.3 804.8L300.6 818.0M422.3 804.8L403.8 738.1M422.3 804.8L360.1 753.7M422.3 804.8L275.7 829.8M422.3 804.8L359.3 729.3M422.3 804.8L369.9 748.5M422.3 804.8L352.6 740.8M422.3 804.8L382.4 737.4M422.3 804.8L448.0 806.4M422.3 804.8L289.1 831.8M422.3 804.8L374.0 756.7M422.3 804.8L449.8 804.0M422.3 804.8L342.5 750.8M422.3 804.8L443.9 808.8M422.3 804.8L450.5 807.1M422.3 804.8L354.9 766.5M422.3 804.8L457.2 812.9M422.3 804.8L449.9 811.3M422.3 804.8L455.3 814.4M422.3 804.8L318.4 801.5M422.3 804.8L313.4 838.6M422.3 804.8L454.0 809.2M422.3 804.8L328.3 804.9M422.3 804.8L309.5 806.7M422.3 804.8L391.3 739.2" stroke="#9a9a9a" stroke-width="0.35" stroke-opacity="0.056" fill="none"/>
<path d="M315.8 756.2L372.0 766.3M315.8 756.2L359.2 728.6M315.8 756.2L255.1 758.5M315.8 756.2L387.1 763.5M315.8 756.2L245.4 766.8M315.8 756.2L410.4 724.6M315.8 756.2L373.4 756.4M315.8 756.2L371.0 769.7M315.8 756.2L383.5 758.6M315.8 756.2L384.6 734.4M315.8 756.2L366.8 757.2M315.8 756.2L302.9 830.6M315.8 756.2L319.5 835.7M315.8 756.2L246.3 760.4M315.8 756.2L341.7 760.8M315.8 756.2L371.6 738.0M315.8 756.2L378.1 746.9M315.8 756.2L377.4 706.6M315.8 756.2L240.3 772.6M315.8 756.2L375.3 738.0M315.8 756.2L260.8 767.6M315.8 756.2L304.6 834.3M315.8 756.2L296.4 832.9M315.8 756.2L366.3 754.4M315.8 756.2L232.8 740.1M315.8 756.2L306.8 834.2M315.8 756.2L314.4 837.0M315.8 756.2L310.3 847.1M315.8 756.2L380.0 745.2M315.8 756.2L251.4 760.1M315.8 756.2L371.1 756.7M315.8 756.2L383.3 752.6M315.8 756.2L353.0 737.2M315.8 756.2L376.1 754.0M315.8 756.2L303.2 822.1M315.8 756.2L379.6 750.6M315.8 756.2L378.3 748.4M315.8 756.2L297.8 825.5M315.8 756.2L267.9 870.3M315.8 756.2L253.2 758.0M315.8 756.2L311.8 828.7M315.8 756.2L280.9 843.3M315.8 756.2L245.9 755.2M315.8 756.2L257.1 748.9M315.8 756.2L371.3 742.0M315.8 756.2L249.1 772.3M315.8 756.2L309.6 824.8M315.8 756.2L254.1 762.7M315.8 756.2L353.5 743.8M315.8 756.2L351.4 763.2" stroke="#9a9a9a" stroke-width="0.35" stroke-opacity="0.056" fill="none"/>
<path d="M439.8 761.8L372.9 752.2M439.8 761.8L468.8 748.9M439.8 761.8L372.7 759.9M439.8 761.8L410.7 749.1M439.8 761.8L461.3 755.8M439.8 761.8L464.5 755.4M439.8 761.8L371.6 730.6M439.8 761.8L393.4 754.7M439.8 761.8L373.0 761.4M439.8 761.8L466.4 751.3M439.8 761.8L459.4 753.7M439.8 761.8L464.0 753.2M439.8 761.8L460.9 754.6M439.8 761.8L382.5 746.2M439.8 761.8L461.6 754.8M439.8 761.8L383.2 746.6M439.8 761.8L459.4 750.5M439.8 761.8L396.0 747.9M439.8 761.8L376.4 742.8M439.8 761.8L377.2 740.3M439.8 761.8L390.1 766.5M439.8 761.8L375.5 775.3M439.8 761.8L462.1 754.4M439.8 761.8L464.1 753.1M439.8 761.8L464.0 752.0M439.8 761.8L464.1 755.5M439.8 761.8L399.0 733.8M439.8 761.8L401.2 733.4M439.8 761.8L384.5 729.6M439.8 761.8L466.2 751.6M439.8 761.8L365.9 768.5M439.8 761.8L366.7 745.5M439.8 761.8L462.2 749.8M439.8 761.8L465.2 751.7M439.8 761.8L386.7 753.5M439.8 761.8L462.4 752.1M439.8 761.8L462.0 753.1M439.8 761.8L464.1 753.8M439.8 761.8L397.7 729.8M439.8 761.8L416.7 744.9" stroke="#9a9a9a" stroke-width="0.35" stroke-opacity="0.048" fill="none"/>
<path d="M382.3 764.5L268.0 841.3M382.3 764.5L316.6 798.0M382.3 764.5L298.9 845.0M382.3 764.5L291.9 811.0M382.3 764.5L314.9 801.1M382.3 764.5L311.6 787.5M382.3 764.5L338.1 846.5M382.3 764.5L301.0 811.2M382.3 764.5L300.5 838.2M382.3 764.5L335.7 824.2M382.3 764.5L317.9 818.8M382.3 764.5L329.7 783.3M382.3 764.5L304.6 829.3M382.3 764.5L266.0 835.4M382.3 764.5L315.4 789.3M382.3 764.5L309.1 799.3M382.3 764.5L293.5 831.2M382.3 764.5L333.8 805.6M382.3 764.5L306.4 813.0M382.3 764.5L328.9 807.1M382.3 764.5L287.0 849.5M382.3 764.5L313.1 822.8M382.3 764.5L294.9 799.7M382.3 764.5L298.7 824.3M382.3 764.5L302.0 801.0M382.3 764.5L331.8 829.4M382.3 764.5L326.7 828.6M382.3 764.5L275.7 833.8M382.3 764.5L300.6 835.6M382.3 764.5L308.5 802.1M382.3 764.5L317.8 796.7M382.3 764.5L312.2 834.7M382.3 764.5L293.5 804.6M382.3 764.5L297.7 813.2M382.3 764.5L267.2 835.1M382.3 764.5L321.4 834.6M382.3 764.5L302.2 827.4M382.3 764.5L286.1 830.1M382.3 764.5L323.2 787.6M382.3 764.5L305.6 843.9M382.3 764.5L321.6 791.9M382.3 764.5L323.3 801.3M382.3 764.5L287.4 829.6M382.3 764.5L297.5 826.2M382.3 764.5L288.4 813.5M382.3 764.5L263.5 835.7M382.3 764.5L317.9 812.0M382.3 764.5L300.2 840.0M382.3 764.5L302.1 799.2M382.3 764.5L304.8 842.2M382.3 764.5L316.7 802.3M382.3 764.5L301.3 793.9M382.3 764.5L305.2 807.9M382.3 764.5L286.9 833.1M382.3 764.5L322.2 797.2M382.3 764.5L322.0 805.0M382.3 764.5L325.8 796.9M382.3 764.5L311.8 843.0M382.3 764.5L304.8 857.2M382.3 764.5L294.1 849.7M382.3 764.5L301.6 834.5M382.3 764.5L281.2 834.6M382.3 764.5L290.3 821.1M382.3 764.5L299.8 782.0M382.3 764.5L296.3 842.0M382.3 764.5L295.3 830.4M382.3 764.5L320.2 792.7M382.3 764.5L312.0 795.3M382.3 764.5L304.0 849.5M382.3 764.5L320.2 795.8M382.3 764.5L299.3 805.7M382.3 764.5L321.2 787.5M382.3 764.5L328.0 805.2M382.3 764.5L294.4 842.1M382.3 764.5L294.5 824.2M382.3 764.5L272.3 863.4M382.3 764.5L319.7 842.1M382.3 764.5L299.5 803.8M382.3 764.5L319.7 836.2M382.3 764.5L306.4 814.7M382.3 764.5L309.1 827.9M382.3 764.5L274.4 832.6M382.3 764.5L302.8 848.0M382.3 764.5L312.3 797.6M382.3 764.5L302.5 829.5M382.3 764.5L325.9 794.1M382.3 764.5L318.3 797.6M382.3 764.5L309.4 833.8M382.3 764.5L320.4 796.6M382.3 764.5L290.4 818.2M382.3 764.5L321.9 806.1M382.3 764.5L291.6 842.4M382.3 764.5L303.0 814.7M382.3 764.5L319.9 815.2M382.3 764.5L302.9 845.9M382.3 764.5L288.8 837.9M382.3 764.5L317.0 799.9M382.3 764.5L311.9 795.6M382.3 764.5L314.0 834.9M382.3 764.5L325.3 791.8M382.3 764.5L334.0 804.9M382.3 764.5L336.0 803.4M382.3 764.5L319.2 816.0M382.3 764.5L298.9 840.7M382.3 764.5L324.8 799.0M382.3 764.5L313.5 789.7M382.3 764.5L287.1 828.4M382.3 764.5L311.5 845.3M382.3 764.5L307.5 829.0M382.3 764.5L293.5 810.1M382.3 764.5L302.8 809.9M382.3 764.5L315.9 800.5M382.3 764.5L301.9 838.0M382.3 764.5L329.2 802.6M382.3 764.5L327.7 784.9M382.3 764.5L320.9 811.6M382.3 764.5L333.8 811.3M382.3 764.5L287.4 839.7M382.3 764.5L304.4 827.8M382.3 764.5L301.3 837.2M382.3 764.5L279.5 831.8M382.3 764.5L306.9 817.4M382.3 764.5L275.4 834.0M382.3 764.5L326.1 830.1M382.3 764.5L314.7 823.4M382.3 764.5L335.8 792.1M382.3 764.5L277.4 807.4M382.3 764.5L328.0 806.7M382.3 764.5L289.4 826.7M382.3 764.5L307.4 804.2M382.3 764.5L320.9 787.5M382.3 764.5L275.7 847.9M382.3 764.5L300.0 795.0M382.3 764.5L326.8 815.2M382.3 764.5L281.5 820.0M382.3 764.5L309.4 832.9M382.3 764.5L320.5 810.3M382.3 764.5L277.8 845.2M382.3 764.5L314.2 808.0M382.3 764.5L275.7 849.0M382.3 764.5L291.4 834.5M382.3 764.5L285.5 849.8M382.3 764.5L306.2 821.2M382.3 764.5L288.1 838.5M382.3 764.5L301.5 816.6M382.3 764.5L301.5 836.5M382.3 764.5L312.5 820.3M382.3 764.5L263.4 834.5M382.3 764.5L316.0 826.5M382.3 764.5L305.3 789.5M382.3 764.5L281.0 852.3M382.3 764.5L327.3 815.7M382.3 764.5L322.6 805.8M382.3 764.5L319.8 794.3M382.3 764.5L312.9 804.1M382.3 764.5L291.6 830.5M382.3 764.5L332.1 801.6M382.3 764.5L296.5 809.1M382.3 764.5L311.0 845.7M382.3 764.5L316.2 837.0M382.3 764.5L324.3 818.4M382.3 764.5L329.5 799.1M382.3 764.5L344.2 805.8M382.3 764.5L321.6 825.3M382.3 764.5L315.6 834.0M382.3 764.5L302.3 809.2M382.3 764.5L304.6 844.6M382.3 764.5L283.2 841.3M382.3 764.5L323.4 794.9M382.3 764.5L317.2 807.5M382.3 764.5L323.9 805.8M382.3 764.5L306.5 824.8M382.3 764.5L323.7 800.6M382.3 764.5L264.8 833.3M382.3 764.5L298.7 824.6M382.3 764.5L282.5 835.6M382.3 764.5L332.5 795.1M382.3 764.5L319.5 807.1M382.3 764.5L318.0 834.8M382.3 764.5L287.1 833.0M382.3 764.5L270.9 839.1M382.3 764.5L312.0 816.8M382.3 764.5L316.4 789.0M382.3 764.5L307.9 842.3M382.3 764.5L290.0 839.3M382.3 764.5L287.4 853.3M382.3 764.5L316.7 796.4M382.3 764.5L330.9 797.3M382.3 764.5L270.9 839.5M382.3 764.5L314.9 846.5M382.3 764.5L298.7 834.8M382.3 764.5L294.2 837.9M382.3 764.5L290.3 854.4M382.3 764.5L323.4 809.4M382.3 764.5L268.1 834.2M382.3 764.5L333.6 797.2M382.3 764.5L313.0 799.7M382.3 764.5L281.2 840.1M382.3 764.5L282.6 828.4M382.3 764.5L315.9 795.2M382.3 764.5L330.8 800.5M382.3 764.5L294.6 848.6M382.3 764.5L302.1 829.9M382.3 764.5L326.0 821.4M382.3 764.5L297.8 835.5M382.3 764.5L278.6 846.3M382.3 764.5L319.2 801.2M382.3 764.5L314.4 817.3M382.3 764.5L324.2 827.3M382.3 764.5L334.5 796.0M382.3 764.5L305.4 798.1M382.3 764.5L333.2 790.7M382.3 764.5L308.7 801.6M382.3 764.5L324.4 794.3M382.3 764.5L295.5 831.9M382.3 764.5L310.9 823.7M382.3 764.5L306.8 844.9M382.3 764.5L298.9 819.0M382.3 764.5L331.5 812.0M382.3 764.5L290.3 829.5M382.3 764.5L296.2 809.0M382.3 764.5L318.5 824.9M382.3 764.5L273.8 826.9M382.3 764.5L333.1 789.3M382.3 764.5L320.1 850.3M382.3 764.5L298.4 786.5M382.3 764.5L302.3 828.2M382.3 764.5L322.5 785.3M382.3 764.5L324.4 832.3M382.3 764.5L312.2 793.7M382.3 764.5L308.6 850.7M382.3 764.5L326.3 794.8M382.3 764.5L307.2 833.3M382.3 764.5L333.1 781.8M382.3 764.5L304.4 814.9M382.3 764.5L351.0 795.8M382.3 764.5L261.1 840.0M382.3 764.5L302.9 817.0M382.3 764.5L300.4 831.3M382.3 764.5L311.3 804.2M382.3 764.5L317.1 831.1M382.3 764.5L337.4 804.8M382.3 764.5L299.1 808.8M382.3 764.5L294.0 841.2M382.3 764.5L296.0 857.5M382.3 764.5L324.3 801.3M382.3 764.5L324.5 784.0M382.3 764.5L284.9 834.9M382.3 764.5L304.5 838.3M382.3 764.5L309.4 784.9M382.3 764.5L328.2 826.3M382.3 764.5L323.5 813.0M382.3 764.5L320.4 787.7M382.3 764.5L295.6 854.2M382.3 764.5L308.2 840.3M382.3 764.5L327.2 809.9M382.3 764.5L308.6 793.4M382.3 764.5L321.1 828.7M382.3 764.5L303.3 833.5M382.3 764.5L302.4 811.5M382.3 764.5L279.6 843.5M382.3 764.5L295.0 817.6M382.3 764.5L303.8 805.5M382.3 764.5L311.3 800.0M382.3 764.5L315.0 818.2M382.3 764.5L333.0 787.4M382.3 764.5L284.2 831.5M382.3 764.5L312.0 804.7M382.3 764.5L291.1 831.7M382.3 764.5L312.1 833.2M382.3 764.5L310.3 813.1M382.3 764.5L308.3 827.4M382.3 764.5L297.9 804.9M382.3 764.5L314.1 791.6M382.3 764.5L304.4 818.3M382.3 764.5L318.3 842.3M382.3 764.5L326.0 794.2M382.3 764.5L290.0 848.2M382.3 764.5L322.1 813.4M382.3 764.5L320.5 804.1M382.3 764.5L273.6 830.3M382.3 764.5L316.6 797.8M382.3 764.5L304.6 795.0M382.3 764.5L324.2 806.3M382.3 764.5L319.7 820.7M382.3 764.5L310.5 839.8M382.3 764.5L323.6 806.8M382.3 764.5L293.2 842.4M382.3 764.5L326.2 807.6M382.3 764.5L311.5 848.2M382.3 764.5L315.2 820.4M382.3 764.5L324.4 801.2M382.3 764.5L331.5 811.6M382.3 764.5L291.9 829.8M382.3 764.5L318.3 794.4M382.3 764.5L322.1 786.8M382.3 764.5L319.2 817.0M382.3 764.5L322.0 799.0M382.3 764.5L310.7 843.0M382.3 764.5L314.3 801.7M382.3 764.5L312.2 809.3M382.3 764.5L295.7 813.9M382.3 764.5L303.0 798.3M382.3 764.5L299.4 838.8M382.3 764.5L278.4 843.7M382.3 764.5L319.1 842.9M382.3 764.5L323.2 814.7M382.3 764.5L308.5 811.9M382.3 764.5L320.9 804.5M382.3 764.5L258.0 845.3M382.3 764.5L308.7 790.8M382.3 764.5L292.1 838.3M382.3 764.5L284.2 831.2M382.3 764.5L327.7 810.1M382.3 764.5L320.1 794.6M382.3 764.5L290.9 809.1M382.3 764.5L313.6 813.1M382.3 764.5L321.7 786.6M382.3 764.5L302.8 840.0M382.3 764.5L295.5 838.1M382.3 764.5L321.8 818.4M382.3 764.5L326.7 795.4M382.3 764.5L310.1 782.5M382.3 764.5L317.9 807.4M382.3 764.5L291.8 801.8M382.3 764.5L316.2 805.7M382.3 764.5L315.8 838.9M382.3 764.5L297.5 789.8M382.3 764.5L324.1 808.9M382.3 764.5L319.9 799.9M382.3 764.5L296.9 841.5M382.3 764.5L312.6 823.7M382.3 764.5L316.7 806.6M382.3 764.5L331.6 809.6M382.3 764.5L309.1 842.7M382.3 764.5L292.7 828.2M382.3 764.5L301.1 814.1M382.3 764.5L295.9 792.0M382.3 764.5L304.2 846.4M382.3 764.5L300.4 837.5M382.3 764.5L297.7 811.4M382.3 764.5L284.2 849.7M382.3 764.5L300.2 815.0M382.3 764.5L294.8 842.8M382.3 764.5L312.8 796.3M382.3 764.5L288.7 832.2M382.3 764.5L319.1 792.6M382.3 764.5L312.8 817.8M382.3 764.5L295.0 842.7M382.3 764.5L329.3 820.2M382.3 764.5L314.0 823.5M382.3 764.5L323.7 799.3M382.3 764.5L301.4 806.3M382.3 764.5L311.5 833.1M382.3 764.5L291.4 835.5M382.3 764.5L317.0 817.9M382.3 764.5L317.6 794.2M382.3 764.5L315.9 805.7M382.3 764.5L318.0 789.3M382.3 764.5L339.7 785.9M382.3 764.5L282.2 835.9M382.3 764.5L318.9 806.1M382.3 764.5L270.2 852.4M382.3 764.5L315.3 781.8M382.3 764.5L327.8 791.3M382.3 764.5L295.5 812.9M382.3 764.5L281.0 834.2M382.3 764.5L273.6 844.8M382.3 764.5L304.3 819.6M382.3 764.5L289.8 814.5M382.3 764.5L325.0 810.7M382.3 764.5L292.6 822.0M382.3 764.5L318.5 802.3M382.3 764.5L314.0 826.8M382.3 764.5L328.1 831.8M382.3 764.5L283.5 824.7M382.3 764.5L309.1 844.0M382.3 764.5L297.6 812.3M382.3 764.5L292.2 839.4M382.3 764.5L321.5 795.5M382.3 764.5L278.4 850.7M382.3 764.5L276.6 838.9M382.3 764.5L286.6 835.3M382.3 764.5L308.9 803.6M382.3 764.5L321.5 837.5M382.3 764.5L290.4 841.3M382.3 764.5L305.9 847.6M382.3 764.5L329.3 795.7M382.3 764.5L310.8 845.4M382.3 764.5L281.0 839.4M382.3 764.5L296.2 820.8M382.3 764.5L298.2 839.9M382.3 764.5L292.5 833.2M382.3 764.5L321.8 799.2M382.3 764.5L320.4 826.5M382.3 764.5L308.0 847.2M382.3 764.5L306.3 813.4M382.3 764.5L281.6 842.4M382.3 764.5L291.1 853.0M382.3 764.5L316.1 797.8M382.3 764.5L330.1 828.0M382.3 764.5L298.5 840.7M382.3 764.5L293.1 845.9M382.3 764.5L300.6 829.7M382.3 764.5L323.9 794.7M382.3 764.5L297.9 833.4M382.3 764.5L318.2 821.3M382.3 764.5L299.5 811.9M382.3 764.5L314.5 801.9M382.3 764.5L290.8 809.3M382.3 764.5L283.2 845.3M382.3 764.5L321.3 847.1M382.3 764.5L289.6 792.1M382.3 764.5L320.3 803.5M382.3 764.5L291.0 843.2M382.3 764.5L317.2 810.9M382.3 764.5L296.2 813.6M382.3 764.5L282.4 846.3M382.3 764.5L319.8 781.6M382.3 764.5L289.3 852.6" stroke="#9a9a9a" stroke-width="0.35" stroke-opacity="0.088" fill="none"/>
<path d="M365.7 682.7L298.7 797.1M365.7 682.7L294.4 822.6M365.7 682.7L317.8 781.8M365.7 682.7L301.8 786.8M365.7 682.7L312.4 752.7M365.7 682.7L333.1 740.4M365.7 682.7L304.0 776.4M365.7 682.7L296.2 792.8M365.7 682.7L329.0 748.4M365.7 682.7L309.3 737.0M365.7 682.7L291.4 793.9M365.7 682.7L337.8 807.2M365.7 682.7L297.8 761.8M365.7 682.7L331.7 765.5M365.7 682.7L330.0 808.7M365.7 682.7L299.6 784.9M365.7 682.7L277.7 793.1M365.7 682.7L331.3 739.6M365.7 682.7L316.6 818.6M365.7 682.7L298.6 815.4M365.7 682.7L330.3 735.0M365.7 682.7L332.5 758.9M365.7 682.7L284.9 795.3M365.7 682.7L338.3 735.0M365.7 682.7L329.1 735.2M365.7 682.7L329.3 743.4M365.7 682.7L298.0 766.2M365.7 682.7L300.2 785.0M365.7 682.7L326.7 740.3M365.7 682.7L290.7 769.4M365.7 682.7L308.8 795.7M365.7 682.7L326.1 743.1M365.7 682.7L300.8 758.5M365.7 682.7L335.8 782.9M365.7 682.7L334.3 750.8M365.7 682.7L312.5 795.6M365.7 682.7L327.7 750.0M365.7 682.7L296.4 795.6M365.7 682.7L326.7 733.0M365.7 682.7L310.3 794.6M365.7 682.7L317.7 798.8M365.7 682.7L306.0 770.3M365.7 682.7L318.7 748.3M365.7 682.7L310.3 810.7M365.7 682.7L311.5 765.2M365.7 682.7L287.1 813.2M365.7 682.7L295.7 819.0M365.7 682.7L294.0 795.3M365.7 682.7L305.9 807.8M365.7 682.7L286.3 769.2M365.7 682.7L320.5 726.5M365.7 682.7L313.7 766.5M365.7 682.7L297.6 807.5M365.7 682.7L301.6 816.6M365.7 682.7L357.0 739.3M365.7 682.7L291.2 766.5M365.7 682.7L280.9 780.1M365.7 682.7L304.6 807.0M365.7 682.7L349.3 750.2M365.7 682.7L328.4 743.5M365.7 682.7L321.6 770.9M365.7 682.7L319.5 800.4M365.7 682.7L323.1 738.4M365.7 682.7L303.8 826.9M365.7 682.7L294.4 808.0M365.7 682.7L320.3 749.8M365.7 682.7L302.4 792.0M365.7 682.7L301.0 806.6M365.7 682.7L280.9 812.7M365.7 682.7L300.6 776.6M365.7 682.7L347.5 745.9M365.7 682.7L336.1 743.4M365.7 682.7L288.9 797.6M365.7 682.7L317.3 774.6M365.7 682.7L301.9 798.9M365.7 682.7L300.4 798.1M365.7 682.7L320.4 760.2M365.7 682.7L327.4 740.5M365.7 682.7L300.2 791.1M365.7 682.7L286.4 800.6M365.7 682.7L289.1 771.3M365.7 682.7L289.5 822.4M365.7 682.7L290.6 774.6M365.7 682.7L343.7 741.9M365.7 682.7L304.8 782.6M365.7 682.7L312.2 787.9M365.7 682.7L327.4 756.8M365.7 682.7L332.1 754.2M365.7 682.7L296.1 775.4M365.7 682.7L294.2 793.3M365.7 682.7L341.5 733.9M365.7 682.7L301.9 756.1M365.7 682.7L305.1 773.6M365.7 682.7L316.7 797.4M365.7 682.7L335.2 741.6M365.7 682.7L300.2 788.3M365.7 682.7L324.8 737.8M365.7 682.7L325.8 736.4M365.7 682.7L283.0 787.3M365.7 682.7L314.7 771.9M365.7 682.7L293.6 765.5M365.7 682.7L307.7 764.4M365.7 682.7L273.1 811.7M365.7 682.7L304.8 785.8M365.7 682.7L306.1 795.9M365.7 682.7L318.1 764.2M365.7 682.7L319.8 745.2M365.7 682.7L307.7 736.9M365.7 682.7L325.3 756.0M365.7 682.7L304.8 775.2M365.7 682.7L327.9 747.0M365.7 682.7L298.0 778.2M365.7 682.7L316.1 738.8M365.7 682.7L306.0 817.2M365.7 682.7L297.0 780.0M365.7 682.7L307.3 796.6M365.7 682.7L328.2 746.8M365.7 682.7L296.3 761.6M365.7 682.7L331.7 730.1M365.7 682.7L331.5 802.2M365.7 682.7L321.7 740.8M365.7 682.7L331.0 753.5M365.7 682.7L319.0 759.5M365.7 682.7L334.6 726.3M365.7 682.7L305.8 789.3M365.7 682.7L316.7 816.6M365.7 682.7L298.4 818.3M365.7 682.7L333.9 752.3M365.7 682.7L309.3 806.0M365.7 682.7L321.9 743.2M365.7 682.7L283.1 788.4M365.7 682.7L322.5 755.5M365.7 682.7L325.1 813.7M365.7 682.7L338.3 750.9M365.7 682.7L334.0 746.5M365.7 682.7L302.3 797.2M365.7 682.7L321.7 747.5M365.7 682.7L323.5 735.3M365.7 682.7L319.2 788.5M365.7 682.7L286.3 792.8M365.7 682.7L292.8 813.2M365.7 682.7L304.1 796.4M365.7 682.7L334.3 755.5M365.7 682.7L312.5 812.8M365.7 682.7L327.9 785.3M365.7 682.7L316.4 798.3M365.7 682.7L295.9 772.7M365.7 682.7L322.4 792.2M365.7 682.7L289.6 810.3M365.7 682.7L312.1 742.3M365.7 682.7L310.1 808.2M365.7 682.7L317.2 739.3M365.7 682.7L326.7 745.3M365.7 682.7L323.3 737.5M365.7 682.7L308.9 745.1M365.7 682.7L299.9 820.2M365.7 682.7L351.1 760.9M365.7 682.7L300.8 770.8M365.7 682.7L344.2 756.9M365.7 682.7L320.1 776.1M365.7 682.7L346.0 740.4M365.7 682.7L271.1 822.5M365.7 682.7L324.6 756.2M365.7 682.7L347.3 755.6M365.7 682.7L341.7 753.7M365.7 682.7L285.0 799.4M365.7 682.7L334.3 739.2M365.7 682.7L306.6 773.8M365.7 682.7L291.9 758.6M365.7 682.7L333.5 760.5M365.7 682.7L338.5 748.1M365.7 682.7L309.3 751.9M365.7 682.7L338.9 793.2M365.7 682.7L326.3 753.4M365.7 682.7L342.2 745.9M365.7 682.7L285.2 820.9M365.7 682.7L323.9 786.4M365.7 682.7L342.2 769.7M365.7 682.7L312.1 729.3M365.7 682.7L280.5 776.2M365.7 682.7L333.2 799.4M365.7 682.7L309.1 747.2M365.7 682.7L299.6 755.1M365.7 682.7L338.3 746.6M365.7 682.7L313.6 803.6M365.7 682.7L306.6 780.5M365.7 682.7L314.4 794.0M365.7 682.7L309.9 787.4M365.7 682.7L309.2 750.1M365.7 682.7L314.5 753.7M365.7 682.7L279.6 795.7M365.7 682.7L286.1 788.0M365.7 682.7L318.8 812.0M365.7 682.7L339.0 748.2M365.7 682.7L307.8 808.9M365.7 682.7L326.0 788.0M365.7 682.7L294.4 797.5M365.7 682.7L298.5 797.3M365.7 682.7L325.0 748.7M365.7 682.7L304.7 780.2M365.7 682.7L309.2 788.0M365.7 682.7L339.4 769.1M365.7 682.7L326.4 804.3M365.7 682.7L321.4 741.8M365.7 682.7L329.0 746.9M365.7 682.7L329.1 747.7M365.7 682.7L336.0 727.7M365.7 682.7L337.2 741.3M365.7 682.7L344.0 740.1M365.7 682.7L303.2 806.6M365.7 682.7L302.8 814.2M365.7 682.7L286.5 811.0M365.7 682.7L309.5 795.3M365.7 682.7L308.3 748.0M365.7 682.7L314.9 783.3M365.7 682.7L344.7 727.8M365.7 682.7L310.6 761.9M365.7 682.7L335.8 743.9M365.7 682.7L327.7 735.6M365.7 682.7L340.5 750.5" stroke="#9a9a9a" stroke-width="0.35" stroke-opacity="0.072" fill="none"/>
<path d="M365.7 682.7L377.1 838.2M365.7 682.7L309.8 808.6M365.7 682.7L367.4 832.7M365.7 682.7L341.1 823.7M365.7 682.7L304.2 820.5M365.7 682.7L284.3 793.3M365.7 682.7L293.2 804.7M365.7 682.7L327.2 794.1M365.7 682.7L321.2 804.3M365.7 682.7L370.2 842.8M365.7 682.7L363.2 837.5M365.7 682.7L328.0 789.7M365.7 682.7L311.0 825.8M365.7 682.7L305.7 833.0M365.7 682.7L286.8 812.8M365.7 682.7L365.1 836.3M365.7 682.7L292.2 800.5M365.7 682.7L334.8 796.6M365.7 682.7L287.4 794.9M365.7 682.7L373.0 836.6M365.7 682.7L325.3 785.2M365.7 682.7L337.8 802.0M365.7 682.7L330.8 790.1M365.7 682.7L339.7 809.1M365.7 682.7L296.9 796.7M365.7 682.7L303.0 825.3M365.7 682.7L297.3 815.8M365.7 682.7L366.6 834.6M365.7 682.7L335.4 797.0M365.7 682.7L368.2 835.8M365.7 682.7L362.9 837.2M365.7 682.7L369.6 839.1M365.7 682.7L327.3 773.9M365.7 682.7L318.6 829.5M365.7 682.7L338.5 812.4M365.7 682.7L313.7 809.4M365.7 682.7L322.0 784.4M365.7 682.7L325.4 803.3M365.7 682.7L290.7 821.7M365.7 682.7L297.7 806.9M365.7 682.7L368.7 830.3M365.7 682.7L284.8 810.6M365.7 682.7L368.2 845.1M365.7 682.7L326.9 774.4M365.7 682.7L312.7 813.4M365.7 682.7L313.0 805.4M365.7 682.7L329.0 813.4M365.7 682.7L337.0 785.4M365.7 682.7L369.0 843.7M365.7 682.7L370.5 838.9M365.7 682.7L373.0 840.5M365.7 682.7L285.7 818.3M365.7 682.7L285.5 812.7M365.7 682.7L358.6 840.6M365.7 682.7L364.4 837.7M365.7 682.7L364.8 836.8M365.7 682.7L278.9 819.1M365.7 682.7L378.1 836.7M365.7 682.7L316.1 813.9M365.7 682.7L326.9 813.2M365.7 682.7L291.6 815.0M365.7 682.7L353.1 785.9M365.7 682.7L314.9 817.9M365.7 682.7L286.8 825.8M365.7 682.7L360.5 816.4M365.7 682.7L301.7 818.0M365.7 682.7L342.8 825.8M365.7 682.7L362.3 813.4M365.7 682.7L363.1 841.3M365.7 682.7L371.1 843.2M365.7 682.7L372.9 834.5M365.7 682.7L317.9 801.9M365.7 682.7L297.9 809.1M365.7 682.7L300.8 809.1M365.7 682.7L327.4 823.5M365.7 682.7L371.5 840.3M365.7 682.7L318.6 822.7M365.7 682.7L312.3 794.8M365.7 682.7L367.3 836.8M365.7 682.7L337.4 796.3M365.7 682.7L306.3 815.2M365.7 682.7L304.9 832.8M365.7 682.7L367.4 840.4M365.7 682.7L294.9 809.3M365.7 682.7L316.3 820.5M365.7 682.7L300.6 825.5M365.7 682.7L313.1 819.2M365.7 682.7L282.8 820.7M365.7 682.7L371.0 833.2M365.7 682.7L324.2 788.2M365.7 682.7L363.7 841.3M365.7 682.7L319.6 767.8M365.7 682.7L322.3 787.5M365.7 682.7L367.7 845.4M365.7 682.7L292.9 810.4M365.7 682.7L372.0 839.6M365.7 682.7L356.7 781.6M365.7 682.7L287.2 816.6M365.7 682.7L309.9 810.8M365.7 682.7L370.2 839.6M365.7 682.7L365.2 837.5M365.7 682.7L329.1 770.9M365.7 682.7L344.1 819.6M365.7 682.7L300.1 815.4M365.7 682.7L341.2 806.6M365.7 682.7L362.9 800.6M365.7 682.7L351.0 811.6M365.7 682.7L305.1 805.6M365.7 682.7L360.1 841.8M365.7 682.7L366.5 839.2M365.7 682.7L333.1 812.0M365.7 682.7L328.9 793.1M365.7 682.7L311.0 828.4M365.7 682.7L361.2 842.9M365.7 682.7L347.8 803.6M365.7 682.7L290.6 813.8M365.7 682.7L332.7 820.8M365.7 682.7L318.6 814.5M365.7 682.7L298.0 796.5M365.7 682.7L297.3 811.4M365.7 682.7L269.8 827.8M365.7 682.7L318.0 799.5M365.7 682.7L316.3 816.0M365.7 682.7L301.2 824.0M365.7 682.7L321.9 794.4M365.7 682.7L290.8 805.8M365.7 682.7L316.7 804.4M365.7 682.7L286.7 845.0M365.7 682.7L312.4 829.0M365.7 682.7L360.5 845.6M365.7 682.7L319.9 785.9M365.7 682.7L297.1 826.1M365.7 682.7L370.6 834.3M365.7 682.7L320.5 803.7M365.7 682.7L317.7 806.7M365.7 682.7L293.8 811.4M365.7 682.7L308.2 810.8M365.7 682.7L371.0 842.1M365.7 682.7L308.8 803.2M365.7 682.7L373.7 836.2M365.7 682.7L334.9 797.2M365.7 682.7L328.0 795.0M365.7 682.7L302.5 831.2M365.7 682.7L300.8 827.6M365.7 682.7L329.1 784.0M365.7 682.7L368.2 840.0M365.7 682.7L324.8 824.5M365.7 682.7L368.3 838.1M365.7 682.7L310.5 820.7M365.7 682.7L295.3 816.5M365.7 682.7L364.4 838.2M365.7 682.7L333.9 780.0M365.7 682.7L309.7 822.6M365.7 682.7L372.1 839.3M365.7 682.7L346.1 813.1M365.7 682.7L304.4 807.4M365.7 682.7L374.2 839.7M365.7 682.7L368.9 838.2M365.7 682.7L328.3 792.8M365.7 682.7L367.9 830.9" stroke="#9a9a9a" stroke-width="0.35" stroke-opacity="0.064" fill="none"/>
<path d="M431.7 656.4L386.3 725.5M431.7 656.4L363.4 717.9M431.7 656.4L357.2 704.2M431.7 656.4L344.1 744.9M431.7 656.4L370.1 725.9M431.7 656.4L394.3 766.4M431.7 656.4L375.8 724.2M431.7 656.4L360.8 743.7M431.7 656.4L384.3 754.1M431.7 656.4L375.7 743.5M431.7 656.4L386.3 766.0M431.7 656.4L311.7 713.2M431.7 656.4L329.2 704.5M431.7 656.4L390.5 782.9M431.7 656.4L338.6 705.8M431.7 656.4L388.0 765.6M431.7 656.4L357.7 715.3M431.7 656.4L382.7 699.3M431.7 656.4L413.1 752.3M431.7 656.4L323.4 718.6M431.7 656.4L354.2 740.9M431.7 656.4L345.0 746.5M431.7 656.4L376.9 755.1M431.7 656.4L391.6 786.0M431.7 656.4L330.9 719.5M431.7 656.4L359.9 760.6M431.7 656.4L352.9 717.3M431.7 656.4L361.2 724.1M431.7 656.4L394.5 758.6M431.7 656.4L366.3 729.4M431.7 656.4L347.3 742.8M431.7 656.4L345.1 711.3M431.7 656.4L392.2 739.3M431.7 656.4L403.6 768.8M431.7 656.4L348.6 738.1M431.7 656.4L319.8 718.1M431.7 656.4L366.3 755.7M431.7 656.4L364.2 757.5M431.7 656.4L389.9 764.6M431.7 656.4L320.1 728.9M431.7 656.4L377.9 781.1M431.7 656.4L386.8 760.6M431.7 656.4L364.2 755.0M431.7 656.4L407.1 771.5M431.7 656.4L396.4 768.3M431.7 656.4L380.5 743.2M431.7 656.4L374.2 766.5M431.7 656.4L305.9 718.7M431.7 656.4L358.2 747.5M431.7 656.4L338.1 725.3M431.7 656.4L384.3 739.8M431.7 656.4L383.9 777.1M431.7 656.4L376.8 770.5M431.7 656.4L309.5 726.8M431.7 656.4L383.3 759.9M431.7 656.4L368.9 760.8M431.7 656.4L373.0 729.1M431.7 656.4L388.2 762.1M431.7 656.4L373.5 766.9M431.7 656.4L383.8 724.6M431.7 656.4L359.6 766.0M431.7 656.4L371.4 730.6M431.7 656.4L387.5 765.7M431.7 656.4L324.1 729.7M431.7 656.4L390.2 754.7M431.7 656.4L387.0 756.3M431.7 656.4L384.6 786.3M431.7 656.4L403.0 770.7M431.7 656.4L396.4 779.9M431.7 656.4L350.4 735.8M431.7 656.4L393.0 766.4M431.7 656.4L387.0 763.7M431.7 656.4L313.6 729.2M431.7 656.4L386.4 775.4M431.7 656.4L380.2 754.7M431.7 656.4L346.9 736.2M431.7 656.4L360.7 744.4M431.7 656.4L381.7 775.7M431.7 656.4L345.6 721.7M431.7 656.4L336.6 726.2M431.7 656.4L332.2 729.1M431.7 656.4L401.3 751.6M431.7 656.4L398.3 753.5M431.7 656.4L376.5 750.0M431.7 656.4L334.0 709.8M431.7 656.4L345.5 722.3M431.7 656.4L381.9 763.5M431.7 656.4L364.9 733.0M431.7 656.4L395.3 753.9M431.7 656.4L349.6 718.4M431.7 656.4L399.9 781.9M431.7 656.4L349.4 720.5M431.7 656.4L338.6 722.7M431.7 656.4L337.1 722.4M431.7 656.4L364.3 749.3M431.7 656.4L384.9 771.1M431.7 656.4L397.0 729.4M431.7 656.4L330.8 725.1M431.7 656.4L384.4 758.7M431.7 656.4L363.6 771.5M431.7 656.4L394.8 767.4M431.7 656.4L355.9 735.2M431.7 656.4L345.1 722.0M431.7 656.4L389.4 765.4M431.7 656.4L343.8 734.1M431.7 656.4L391.0 745.8M431.7 656.4L338.1 722.5M431.7 656.4L385.5 755.3M431.7 656.4L366.2 721.4M431.7 656.4L324.0 723.5M431.7 656.4L357.1 715.3M431.7 656.4L375.9 749.1M431.7 656.4L404.6 773.8M431.7 656.4L366.8 738.8M431.7 656.4L346.5 760.0M431.7 656.4L377.2 766.2M431.7 656.4L387.7 778.5M431.7 656.4L367.8 733.5M431.7 656.4L374.3 759.8M431.7 656.4L384.1 786.4M431.7 656.4L374.3 771.9M431.7 656.4L359.2 712.5M431.7 656.4L343.0 721.4M431.7 656.4L333.5 713.0M431.7 656.4L352.9 739.6M431.7 656.4L397.1 788.2M431.7 656.4L385.9 777.7M431.7 656.4L391.0 763.0M431.7 656.4L353.0 722.0M431.7 656.4L390.2 760.2M431.7 656.4L382.7 735.3M431.7 656.4L354.3 761.8M431.7 656.4L382.0 776.1M431.7 656.4L339.9 735.0M431.7 656.4L375.9 787.2M431.7 656.4L344.6 728.5M431.7 656.4L335.0 751.7M431.7 656.4L366.0 745.6M431.7 656.4L374.0 767.1M431.7 656.4L371.5 739.3M431.7 656.4L364.5 750.4M431.7 656.4L396.1 773.7M431.7 656.4L339.4 720.6M431.7 656.4L372.4 731.7M431.7 656.4L394.9 728.0M431.7 656.4L339.1 698.2M431.7 656.4L345.0 733.4M431.7 656.4L367.3 765.5M431.7 656.4L391.9 739.0M431.7 656.4L372.6 796.4M431.7 656.4L336.4 721.9M431.7 656.4L334.9 715.6M431.7 656.4L397.8 723.6M431.7 656.4L382.0 773.6M431.7 656.4L403.8 782.7M431.7 656.4L356.8 718.1M431.7 656.4L322.7 718.0M431.7 656.4L354.6 706.4M431.7 656.4L341.4 711.2M431.7 656.4L371.0 749.8" stroke="#9a9a9a" stroke-width="0.35" stroke-opacity="0.064" fill="none"/>
<path d="M291.6 673.8L381.1 773.4M291.6 673.8L354.5 680.1M291.6 673.8L397.7 759.2M291.6 673.8L394.3 763.2M291.6 673.8L359.5 677.9M291.6 673.8L352.1 740.9M291.6 673.8L388.3 708.0M291.6 673.8L359.9 688.5M291.6 673.8L365.1 680.5M291.6 673.8L401.6 770.8M291.6 673.8L407.3 778.6M291.6 673.8L370.9 683.1M291.6 673.8L410.0 766.8M291.6 673.8L407.2 756.7M291.6 673.8L380.7 744.6M291.6 673.8L384.5 769.1M291.6 673.8L363.9 674.0M291.6 673.8L401.4 763.6M291.6 673.8L362.4 686.5M291.6 673.8L376.6 741.9M291.6 673.8L364.0 687.9M291.6 673.8L354.9 680.9M291.6 673.8L357.5 681.8M291.6 673.8L371.9 683.5M291.6 673.8L388.1 758.3M291.6 673.8L372.6 688.2M291.6 673.8L384.5 746.5M291.6 673.8L364.6 738.2M291.6 673.8L373.2 757.7M291.6 673.8L360.5 678.5M291.6 673.8L363.7 680.2M291.6 673.8L400.9 754.6M291.6 673.8L362.1 686.1M291.6 673.8L362.0 726.0M291.6 673.8L362.0 677.9M291.6 673.8L363.2 687.9M291.6 673.8L405.5 733.5M291.6 673.8L365.0 678.7M291.6 673.8L369.7 683.1M291.6 673.8L403.6 764.7M291.6 673.8L367.7 771.3M291.6 673.8L389.1 766.6M291.6 673.8L383.8 743.6M291.6 673.8L384.6 750.3M291.6 673.8L400.3 759.4M291.6 673.8L372.9 684.2M291.6 673.8L364.2 674.0M291.6 673.8L365.5 685.6M291.6 673.8L351.6 686.5M291.6 673.8L410.3 764.9M291.6 673.8L358.1 683.8M291.6 673.8L402.1 753.0M291.6 673.8L359.5 689.7M291.6 673.8L357.5 735.7M291.6 673.8L346.8 712.8M291.6 673.8L359.4 744.8M291.6 673.8L362.6 682.0M291.6 673.8L404.0 743.4M291.6 673.8L382.3 743.2M291.6 673.8L363.6 726.2M291.6 673.8L421.7 770.4M291.6 673.8L392.2 745.9M291.6 673.8L363.2 676.7M291.6 673.8L361.1 689.2M291.6 673.8L400.9 750.1M291.6 673.8L365.7 749.3M291.6 673.8L365.8 677.0M291.6 673.8L364.0 683.8M291.6 673.8L355.0 751.9M291.6 673.8L384.6 746.4M291.6 673.8L369.3 679.5M291.6 673.8L391.5 731.3M291.6 673.8L366.7 686.9M291.6 673.8L414.5 753.5M291.6 673.8L410.4 749.4M291.6 673.8L377.7 749.9M291.6 673.8L394.0 763.5M291.6 673.8L380.8 751.4M291.6 673.8L396.6 770.7M291.6 673.8L381.2 740.5M291.6 673.8L414.8 749.9M291.6 673.8L359.7 687.8M291.6 673.8L353.9 692.4M291.6 673.8L383.9 679.4M291.6 673.8L385.3 761.0M291.6 673.8L368.4 686.4M291.6 673.8L351.2 682.1M291.6 673.8L378.5 765.4M291.6 673.8L402.8 760.4M291.6 673.8L405.1 749.3M291.6 673.8L387.5 745.4M291.6 673.8L361.9 682.6M291.6 673.8L381.4 738.4M291.6 673.8L397.8 765.5M291.6 673.8L372.4 675.6M291.6 673.8L374.1 730.3M291.6 673.8L366.8 680.7M291.6 673.8L374.8 757.1M291.6 673.8L409.3 752.6M291.6 673.8L364.5 674.1M291.6 673.8L364.4 686.8M291.6 673.8L365.3 684.6M291.6 673.8L365.9 676.7M291.6 673.8L384.9 719.7M291.6 673.8L377.0 739.1M291.6 673.8L372.2 679.9M291.6 673.8L410.8 767.7M291.6 673.8L372.0 726.6M291.6 673.8L361.7 748.4M291.6 673.8L394.7 753.5M291.6 673.8L406.5 743.4M291.6 673.8L386.5 749.6M291.6 673.8L397.8 770.8M291.6 673.8L387.0 763.0M291.6 673.8L403.5 755.9M291.6 673.8L405.6 742.4M291.6 673.8L362.2 676.4M291.6 673.8L367.2 672.9M291.6 673.8L400.0 731.3M291.6 673.8L356.3 673.7" stroke="#9a9a9a" stroke-width="0.35" stroke-opacity="0.064" fill="none"/>
<path d="M383.1 731.0h1.0M380.1 738.1h1.0M337.0 731.5h1.0M378.1 737.7h1.0M359.8 761.2h1.0M365.2 742.4h1.0M392.3 756.6h1.0M346.4 730.8h1.0M361.5 738.8h1.0M376.4 740.7h1.0M382.7 746.3h1.0M394.4 751.8h1.0M390.3 727.4h1.0M392.8 736.9h1.0M389.4 721.3h1.0M345.5 749.8h1.0M360.1 722.9h1.0M359.5 739.4h1.0M376.2 745.5h1.0M353.6 724.8h1.0M371.3 750.1h1.0M354.1 725.3h1.0M358.9 741.7h1.0M379.2 730.6h1.0M363.8 724.2h1.0M374.9 752.3h1.0M378.7 736.6h1.0M354.7 732.2h1.0M371.1 742.5h1.0M361.5 729.3h1.0M359.1 727.7h1.0M383.8 731.7h1.0M357.7 724.3h1.0M358.0 744.7h1.0M351.9 745.8h1.0M350.0 731.8h1.0M387.6 733.1h1.0M359.8 728.5h1.0M369.3 737.7h1.0M356.1 747.2h1.0M391.1 746.2h1.0M325.1 733.4h1.0M351.0 739.6h1.0M379.1 703.4h1.0M375.1 757.5h1.0M389.7 733.3h1.0M360.7 748.2h1.0M371.7 741.8h1.0M369.2 740.1h1.0M358.5 745.2h1.0M390.1 737.9h1.0M362.9 729.5h1.0M365.2 748.4h1.0M384.0 732.0h1.0M368.6 741.9h1.0M377.8 721.4h1.0M361.6 743.8h1.0M364.7 736.8h1.0M368.1 745.4h1.0M370.5 714.1h1.0M364.9 732.8h1.0M376.2 740.9h1.0M346.3 734.1h1.0M362.1 745.9h1.0M383.1 732.3h1.0M365.6 754.7h1.0M404.1 745.3h1.0M342.6 716.0h1.0M350.8 734.6h1.0M352.1 743.2h1.0M385.3 754.2h1.0M392.9 737.8h1.0M385.4 752.4h1.0M373.5 732.8h1.0M384.3 741.8h1.0M361.2 751.9h1.0M377.5 731.8h1.0M403.8 764.7h1.0M348.1 703.4h1.0M356.8 742.3h1.0M390.2 742.3h1.0M386.5 734.2h1.0M369.4 727.7h1.0M379.3 734.9h1.0M366.0 754.1h1.0M362.8 724.9h1.0M365.4 752.2h1.0M355.8 715.1h1.0M369.4 723.6h1.0M389.1 735.3h1.0M365.1 727.9h1.0M377.0 745.5h1.0M384.1 724.2h1.0M369.8 747.7h1.0M376.9 726.5h1.0M375.7 750.2h1.0M399.6 718.9h1.0M381.3 712.3h1.0M362.8 743.7h1.0M370.0 736.9h1.0M381.1 732.6h1.0M385.4 748.8h1.0M391.6 753.9h1.0M355.1 743.5h1.0M383.1 728.0h1.0M388.3 731.2h1.0M365.6 741.4h1.0M349.1 743.7h1.0M407.6 754.1h1.0M372.7 755.9h1.0M375.3 732.6h1.0M374.2 763.6h1.0M376.0 735.1h1.0M351.7 725.3h1.0M356.8 756.9h1.0M359.2 728.4h1.0M386.8 761.6h1.0M384.5 735.7h1.0M365.9 720.4h1.0M369.4 729.2h1.0M374.4 759.6h1.0M377.5 738.9h1.0M377.3 733.9h1.0M358.5 752.8h1.0M394.1 756.5h1.0M363.9 717.4h1.0M369.0 751.4h1.0M378.1 735.0h1.0M355.7 746.3h1.0M362.3 720.2h1.0M366.9 730.4h1.0M347.6 726.7h1.0M371.7 732.8h1.0M368.3 722.6h1.0M373.2 746.8h1.0M368.0 741.6h1.0M380.6 746.5h1.0M379.7 746.5h1.0M364.3 727.8h1.0M382.5 747.1h1.0M371.8 746.4h1.0M381.6 733.2h1.0M352.7 745.0h1.0M363.9 730.8h1.0M378.2 748.2h1.0M375.6 752.6h1.0M370.2 727.6h1.0M361.1 730.9h1.0M381.0 756.1h1.0M372.3 730.5h1.0M400.7 743.8h1.0M354.6 728.4h1.0M363.0 733.2h1.0M385.9 737.9h1.0M387.2 724.3h1.0M377.4 735.6h1.0M378.8 710.6h1.0M403.8 733.4h1.0M357.6 706.3h1.0M366.6 752.6h1.0M403.0 731.7h1.0M358.8 738.0h1.0M361.6 738.4h1.0M343.1 742.4h1.0M389.5 751.7h1.0M351.1 741.7h1.0M380.7 722.9h1.0M375.1 727.9h1.0M368.1 733.3h1.0M375.3 722.3h1.0M363.2 742.6h1.0M382.7 738.0h1.0M332.8 751.5h1.0M389.1 723.8h1.0M370.9 758.8h1.0M392.4 736.8h1.0M361.0 747.6h1.0M365.8 723.0h1.0M366.4 745.0h1.0M354.3 741.0h1.0M365.5 731.1h1.0M358.9 739.4h1.0M361.4 751.6h1.0M371.8 738.1h1.0M361.1 745.9h1.0M364.0 720.6h1.0M365.2 737.1h1.0M382.8 731.6h1.0M359.6 743.4h1.0M347.3 713.3h1.0M375.2 745.5h1.0M388.6 761.6h1.0M371.7 741.8h1.0M382.4 744.4h1.0M371.4 731.4h1.0M355.2 713.7h1.0M360.7 756.5h1.0M350.1 734.4h1.0M374.0 731.8h1.0M405.4 748.5h1.0M364.7 768.5h1.0M364.8 741.7h1.0M376.0 729.5h1.0M384.9 746.8h1.0M370.3 728.4h1.0M353.4 708.5h1.0M328.9 735.2h1.0M362.0 708.3h1.0M389.9 737.1h1.0M354.2 733.1h1.0M373.3 714.8h1.0M379.2 736.2h1.0M382.2 752.5h1.0M374.3 737.5h1.0M357.7 766.1h1.0M375.3 735.9h1.0M373.6 731.0h1.0M377.0 734.0h1.0M338.4 727.5h1.0M408.6 745.5h1.0M373.2 749.5h1.0M370.9 742.4h1.0M361.5 726.0h1.0M343.3 744.8h1.0M381.7 745.4h1.0M357.9 729.8h1.0M354.3 746.0h1.0M364.5 734.8h1.0M341.4 745.4h1.0M350.1 727.1h1.0M371.1 739.0h1.0M375.1 728.3h1.0M363.0 736.1h1.0M370.6 711.7h1.0M402.4 739.3h1.0M352.1 724.6h1.0M379.8 761.7h1.0M380.3 757.6h1.0M353.9 738.6h1.0M352.6 762.0h1.0M379.3 747.9h1.0M363.5 735.0h1.0M380.6 753.8h1.0M368.2 742.4h1.0M402.8 747.6h1.0M386.2 717.9h1.0M372.5 725.4h1.0M370.7 749.1h1.0M367.9 740.4h1.0M364.2 710.2h1.0M356.5 738.7h1.0M363.3 716.1h1.0M358.7 755.5h1.0M379.8 730.8h1.0M361.6 741.0h1.0M400.9 720.3h1.0M388.7 729.9h1.0M373.1 727.6h1.0M360.3 732.8h1.0M386.6 723.1h1.0M355.3 735.7h1.0M370.3 734.1h1.0M372.8 736.3h1.0M384.2 762.2h1.0M345.6 750.1h1.0M363.4 769.8h1.0M384.2 749.4h1.0M377.4 745.5h1.0M358.3 752.3h1.0M380.6 750.0h1.0M352.2 756.3h1.0M352.5 733.6h1.0M362.1 731.3h1.0M374.8 758.2h1.0M390.1 741.1h1.0M409.4 717.7h1.0M367.6 716.6h1.0M362.4 749.2h1.0M358.7 743.7h1.0M365.6 724.2h1.0M364.6 737.3h1.0M375.0 734.2h1.0M389.5 731.8h1.0M350.4 769.1h1.0M375.1 735.0h1.0M368.1 724.0h1.0M337.6 738.1h1.0M367.1 731.3h1.0M382.7 724.0h1.0M372.8 732.7h1.0M390.5 735.9h1.0M395.4 769.5h1.0M362.9 737.9h1.0M375.9 733.8h1.0M371.5 728.9h1.0M379.6 737.9h1.0M375.7 719.7h1.0M395.3 752.9h1.0M362.4 709.6h1.0M353.6 728.9h1.0M345.9 724.1h1.0M398.8 752.4h1.0M370.5 716.0h1.0M341.2 725.4h1.0M365.3 726.6h1.0M359.7 741.1h1.0M392.2 737.5h1.0M347.8 725.7h1.0M373.2 730.0h1.0M377.1 741.4h1.0M371.7 732.0h1.0M383.7 736.1h1.0M347.1 723.0h1.0M383.9 732.8h1.0M356.2 727.0h1.0M353.5 730.7h1.0M387.4 736.2h1.0M361.8 759.5h1.0M363.4 729.1h1.0M373.2 735.9h1.0M359.7 739.1h1.0M380.0 719.6h1.0M351.7 737.3h1.0M355.7 754.0h1.0M367.9 733.6h1.0M381.4 739.1h1.0M371.9 731.7h1.0M373.0 742.5h1.0M384.0 739.7h1.0M382.7 736.3h1.0M380.3 734.2h1.0M361.6 729.2h1.0M384.2 740.5h1.0M350.5 742.7h1.0M368.3 729.3h1.0M390.3 735.1h1.0M339.9 731.2h1.0M371.0 733.1h1.0M367.7 752.1h1.0M370.7 765.0h1.0M353.2 735.5h1.0M363.4 753.1h1.0M377.6 729.4h1.0M354.9 736.8h1.0M338.4 748.1h1.0M366.8 717.3h1.0M361.6 744.0h1.0M344.2 758.7h1.0M381.8 754.0h1.0M384.5 748.1h1.0M395.6 765.1h1.0M372.2 733.9h1.0M380.2 721.7h1.0M344.1 733.0h1.0M369.8 741.4h1.0M380.7 733.7h1.0M362.6 731.8h1.0M370.7 730.4h1.0M380.3 734.9h1.0M371.9 737.2h1.0M376.8 728.5h1.0M384.8 738.0h1.0M390.4 724.8h1.0M387.8 735.5h1.0M389.2 758.9h1.0M370.7 744.7h1.0M385.3 719.7h1.0M371.4 746.8h1.0M384.7 738.6h1.0M360.3 728.0h1.0M373.6 738.2h1.0M375.9 731.1h1.0M377.4 748.3h1.0M368.7 745.5h1.0M393.2 728.5h1.0M369.6 748.4h1.0M371.1 754.7h1.0M369.8 763.0h1.0M362.2 738.6h1.0M400.4 721.2h1.0M398.5 723.6h1.0M336.8 727.8h1.0M399.7 741.6h1.0M360.8 723.1h1.0M377.5 741.2h1.0M405.0 736.1h1.0M363.3 740.3h1.0M386.7 726.9h1.0M370.5 737.3h1.0M371.2 735.9h1.0M388.3 737.8h1.0M396.3 741.3h1.0M366.4 740.7h1.0M372.3 736.4h1.0M349.5 716.4h1.0M348.3 733.0h1.0M387.6 752.8h1.0M340.1 723.0h1.0M384.4 743.9h1.0M372.3 756.1h1.0M400.6 742.9h1.0M358.4 738.9h1.0M377.7 736.3h1.0M371.9 759.0h1.0M375.9 730.9h1.0M371.5 747.0h1.0M355.2 745.5h1.0M385.5 707.9h1.0M377.3 726.8h1.0M383.4 746.5h1.0M364.5 724.4h1.0M403.2 724.8h1.0M351.4 739.2h1.0M394.2 735.9h1.0M354.1 754.3h1.0M368.2 751.0h1.0M366.8 728.0h1.0M375.7 719.6h1.0M382.9 753.1h1.0M388.4 742.4h1.0M345.6 738.7h1.0M386.8 718.1h1.0M380.6 730.3h1.0M346.8 743.4h1.0M378.6 740.7h1.0M352.4 734.0h1.0M396.3 751.7h1.0M386.3 710.3h1.0M384.6 735.6h1.0M369.5 734.5h1.0M359.2 753.6h1.0M373.5 730.8h1.0M385.9 727.0h1.0M374.3 728.6h1.0M360.3 744.5h1.0M373.6 727.3h1.0M379.4 731.2h1.0M393.9 732.6h1.0M321.1 728.5h1.0M389.6 732.7h1.0M364.1 729.8h1.0M374.8 735.0h1.0M363.4 739.7h1.0M355.7 738.8h1.0M374.2 748.8h1.0M364.1 750.3h1.0M374.2 746.7h1.0M367.9 745.1h1.0M372.7 715.7h1.0M377.0 721.4h1.0M356.2 728.3h1.0M366.1 743.8h1.0M356.2 735.1h1.0M334.7 763.5h1.0M374.8 741.9h1.0M346.6 739.6h1.0M362.8 721.5h1.0M369.6 748.3h1.0M370.4 744.6h1.0M356.2 752.6h1.0M370.9 745.6h1.0M362.2 731.3h1.0M372.0 740.8h1.0M362.8 740.0h1.0M384.1 757.1h1.0M397.6 741.9h1.0M382.4 732.8h1.0M384.8 744.2h1.0M391.3 729.0h1.0M367.1 756.5h1.0M363.8 742.8h1.0M351.4 732.9h1.0M388.6 754.8h1.0M364.5 725.2h1.0M377.4 720.2h1.0M372.2 758.4h1.0M399.1 732.0h1.0M362.6 740.1h1.0M352.8 738.7h1.0M372.3 715.6h1.0M362.5 734.7h1.0M348.0 742.3h1.0M370.0 728.0h1.0M373.8 749.1h1.0M362.6 744.9h1.0M368.6 724.5h1.0M353.8 738.2h1.0M354.6 722.8h1.0M363.3 743.9h1.0M364.4 713.6h1.0M390.4 725.7h1.0M360.4 745.2h1.0M374.9 747.0h1.0M360.3 734.4h1.0M374.8 713.1h1.0M369.5 765.6h1.0M374.3 749.4h1.0M366.7 739.9h1.0M342.0 746.4h1.0M363.6 756.9h1.0M365.1 725.1h1.0M338.6 725.8h1.0M358.9 774.2h1.0M388.0 737.7h1.0M348.3 728.4h1.0M369.3 744.0h1.0M408.0 739.9h1.0M387.2 730.6h1.0M328.9 719.8h1.0M390.4 711.1h1.0M397.2 742.2h1.0M393.7 735.6h1.0M358.2 714.7h1.0M386.1 737.0h1.0M378.1 734.9h1.0M365.6 745.6h1.0M363.1 762.6h1.0M375.6 756.9h1.0M371.2 734.1h1.0M389.9 730.1h1.0M374.9 726.9h1.0M383.6 729.1h1.0M359.5 718.2h1.0M354.4 730.4h1.0M346.9 732.7h1.0M381.1 753.2h1.0M375.4 727.9h1.0M399.4 759.1h1.0M361.4 734.6h1.0M370.4 739.7h1.0M371.1 728.9h1.0M388.2 747.4h1.0M382.4 764.8h1.0M358.8 735.4h1.0M372.7 725.3h1.0M402.7 726.6h1.0M387.3 726.6h1.0M364.0 732.6h1.0M370.0 742.5h1.0M401.3 742.0h1.0M356.1 727.1h1.0M380.5 733.5h1.0M380.3 734.5h1.0M385.4 709.0h1.0M360.8 733.7h1.0M343.7 729.5h1.0M358.5 770.9h1.0M374.5 745.2h1.0M376.3 731.0h1.0M352.7 739.2h1.0M358.0 728.0h1.0M367.1 721.8h1.0M366.8 743.7h1.0M362.3 744.4h1.0M360.5 731.7h1.0M383.3 726.8h1.0M386.8 751.6h1.0M338.4 746.7h1.0M386.4 718.2h1.0M347.6 729.6h1.0M348.7 772.3h1.0M371.0 731.1h1.0M370.4 733.6h1.0M359.6 751.1h1.0M364.4 736.2h1.0M378.7 727.5h1.0M393.0 738.7h1.0M362.6 732.9h1.0M368.9 742.5h1.0M386.6 708.6h1.0M366.2 744.3h1.0M401.3 711.2h1.0M379.7 732.3h1.0M341.9 736.8h1.0M367.9 712.2h1.0M364.6 736.8h1.0M374.1 731.1h1.0M372.3 748.4h1.0M361.7 738.2h1.0M374.4 730.2h1.0M371.1 762.7h1.0M375.8 727.9h1.0M352.9 750.9h1.0M365.9 756.2h1.0M372.3 737.4h1.0M370.4 716.6h1.0M342.7 727.9h1.0M365.0 725.6h1.0M377.5 749.2h1.0M375.2 735.1h1.0M330.4 718.2h1.0M347.6 751.2h1.0M357.2 749.7h1.0M387.1 730.0h1.0M354.3 730.8h1.0M351.9 718.0h1.0M373.6 744.5h1.0M372.5 718.1h1.0M398.6 743.0h1.0M397.3 751.5h1.0M376.9 741.9h1.0M375.6 746.7h1.0M395.8 748.4h1.0M350.1 757.2h1.0M348.9 751.0h1.0M374.2 769.1h1.0M359.2 727.1h1.0M370.8 760.8h1.0M381.2 714.9h1.0M376.7 756.0h1.0M384.5 724.7h1.0M374.9 734.2h1.0M367.1 732.8h1.0M357.4 729.7h1.0M346.1 721.0h1.0M391.4 722.1h1.0M368.0 752.0h1.0M392.1 754.5h1.0M367.8 724.5h1.0M384.6 721.2h1.0M346.7 734.8h1.0M363.5 731.0h1.0M367.0 737.9h1.0M384.7 736.3h1.0M348.4 725.1h1.0M371.9 749.3h1.0M356.2 729.4h1.0M391.6 722.0h1.0M359.8 743.5h1.0M345.2 738.6h1.0M350.0 712.2h1.0M386.6 697.0h1.0M351.3 736.1h1.0M371.9 767.9h1.0M369.4 724.8h1.0M369.5 739.1h1.0M380.3 725.7h1.0M392.7 755.5h1.0M372.8 727.0h1.0M370.6 737.5h1.0M356.2 736.9h1.0M368.7 742.1h1.0M375.2 756.6h1.0M384.6 734.2h1.0M400.8 750.6h1.0M358.9 716.2h1.0M371.2 748.6h1.0M345.4 775.4h1.0M358.3 745.8h1.0M392.5 730.5h1.0M367.9 751.4h1.0M372.0 724.0h1.0M376.9 710.0h1.0M391.2 740.8h1.0M356.8 730.0h1.0M375.5 718.8h1.0M373.1 746.1h1.0M383.7 722.9h1.0M377.5 726.6h1.0M341.4 728.8h1.0M373.5 716.8h1.0M373.2 727.0h1.0M372.6 736.2h1.0M380.1 734.2h1.0M376.7 730.8h1.0M355.9 735.9h1.0M369.0 758.8h1.0M374.8 741.1h1.0M368.9 720.0h1.0M378.9 737.5h1.0M376.9 731.8h1.0M370.1 728.4h1.0M378.4 752.6h1.0M413.0 715.7h1.0M368.9 731.0h1.0M375.0 770.6h1.0M390.8 734.3h1.0M349.9 723.7h1.0M352.1 714.2h1.0M358.8 740.8h1.0M355.0 743.8h1.0M381.7 753.5h1.0M358.9 744.8h1.0M354.1 734.9h1.0M370.2 766.4h1.0M392.2 743.9h1.0M376.5 753.5h1.0M370.7 752.8h1.0M375.9 740.3h1.0M357.5 741.1h1.0M364.4 732.7h1.0M362.1 747.1h1.0M384.5 747.6h1.0M359.0 761.6h1.0M367.0 738.8h1.0M382.7 732.7h1.0M369.5 738.2h1.0M363.4 739.3h1.0M376.1 758.2h1.0M357.9 722.6h1.0M381.6 733.8h1.0M354.0 716.0h1.0M365.8 696.9h1.0M354.8 744.3h1.0M379.1 724.7h1.0M383.7 734.0h1.0M364.8 725.9h1.0M366.0 753.9h1.0M376.4 735.7h1.0M385.9 746.8h1.0M379.9 744.8h1.0M393.2 755.5h1.0M400.8 748.9h1.0M370.5 726.9h1.0M388.6 730.9h1.0M388.2 740.7h1.0M380.0 743.5h1.0M385.8 724.5h1.0M373.2 750.7h1.0M356.6 749.7h1.0M335.2 735.4h1.0M374.7 724.8h1.0M369.2 722.7h1.0M359.2 728.9h1.0M382.8 735.7h1.0M363.1 739.7h1.0M373.1 725.8h1.0M392.5 739.5h1.0M365.3 737.0h1.0M379.2 738.3h1.0M404.0 736.8h1.0M380.4 761.8h1.0M351.5 759.8h1.0M369.3 734.7h1.0M386.6 738.1h1.0M343.5 710.1h1.0M355.4 739.6h1.0M380.4 737.4h1.0M361.8 714.1h1.0M367.0 736.6h1.0M382.7 715.7h1.0M343.1 706.5h1.0M361.0 742.1h1.0M371.1 727.6h1.0M377.8 719.6h1.0M371.4 718.5h1.0M367.9 727.2h1.0M348.1 733.5h1.0M400.8 739.5h1.0M378.0 739.8h1.0M363.3 736.5h1.0M367.0 720.8h1.0M346.8 731.7h1.0M412.4 715.5h1.0M369.2 736.7h1.0M374.8 701.7h1.0M353.9 745.6h1.0M393.9 749.7h1.0M384.8 729.6h1.0M347.0 730.2h1.0M402.6 740.3h1.0M373.5 728.7h1.0M372.2 754.2h1.0M365.0 728.2h1.0M365.4 753.7h1.0M371.4 752.4h1.0M376.9 763.8h1.0M370.5 725.4h1.0M371.9 729.5h1.0M382.4 731.9h1.0M379.6 725.2h1.0M379.3 724.5h1.0M377.4 724.3h1.0M397.8 749.0h1.0M348.6 748.0h1.0M388.3 750.8h1.0M382.4 756.6h1.0M361.9 708.1h1.0M401.0 729.9h1.0M374.8 740.1h1.0M344.3 721.2h1.0M364.6 769.0h1.0M377.8 763.5h1.0M381.8 745.7h1.0M354.9 751.6h1.0M349.0 734.7h1.0M360.3 721.5h1.0M379.1 742.6h1.0M382.0 735.8h1.0M373.0 733.8h1.0M353.9 735.3h1.0M371.4 738.8h1.0M359.9 737.4h1.0M338.8 735.4h1.0M371.8 723.6h1.0M365.7 745.0h1.0M385.4 728.1h1.0M381.3 749.5h1.0M379.6 726.7h1.0M370.4 723.2h1.0M383.9 756.3h1.0M377.5 751.6h1.0M383.7 737.9h1.0M355.5 752.2h1.0M376.2 746.4h1.0M371.5 722.5h1.0M375.8 716.3h1.0M342.8 730.1h1.0M374.7 774.9h1.0M385.3 750.2h1.0M369.9 716.7h1.0M378.8 746.5h1.0M360.3 719.8h1.0M376.0 737.6h1.0M382.9 719.0h1.0M373.4 759.6h1.0M375.4 726.0h1.0M362.8 724.2h1.0M397.1 745.2h1.0M377.9 754.5h1.0M389.9 763.5h1.0M349.7 729.0h1.0M316.1 722.1h1.0M366.2 721.7h1.0M384.0 746.9h1.0M389.5 751.1h1.0M354.1 741.0h1.0M383.0 726.9h1.0M359.8 726.0h1.0M352.7 745.5h1.0M360.6 731.0h1.0M386.5 722.4h1.0M381.5 737.8h1.0M370.8 742.9h1.0M391.1 734.4h1.0M392.2 729.5h1.0M384.4 734.8h1.0M375.2 743.9h1.0M366.8 738.2h1.0M379.8 736.5h1.0M365.6 728.8h1.0M359.4 715.6h1.0M365.2 726.8h1.0M386.1 703.2h1.0M359.0 733.0h1.0M377.7 735.2h1.0M364.1 730.0h1.0M379.0 733.3h1.0M346.3 762.9h1.0M361.9 750.8h1.0M385.6 726.6h1.0M403.8 751.1h1.0M382.7 734.7h1.0M379.3 716.8h1.0M398.4 720.9h1.0M359.1 743.3h1.0M373.9 718.8h1.0M387.9 745.7h1.0M374.9 724.7h1.0M354.0 736.0h1.0M390.7 751.8h1.0M345.5 748.3h1.0M347.6 728.4h1.0M362.1 729.1h1.0M364.5 751.7h1.0M375.1 735.7h1.0M399.2 744.5h1.0M396.5 736.6h1.0M377.0 758.0h1.0M367.5 713.0h1.0M380.1 737.1h1.0M375.4 756.6h1.0M369.8 740.3h1.0M396.8 772.2h1.0M403.7 747.7h1.0M380.5 730.4h1.0M362.8 711.3h1.0M373.0 721.8h1.0M363.2 748.8h1.0M407.4 740.3h1.0M361.7 724.2h1.0M393.4 728.2h1.0M377.9 745.1h1.0M391.5 742.9h1.0M359.2 731.4h1.0M359.0 733.5h1.0M358.8 759.7h1.0M380.8 736.4h1.0M383.9 705.7h1.0M356.5 712.8h1.0M381.0 761.8h1.0M364.0 746.1h1.0M348.8 749.2h1.0M351.0 745.1h1.0M336.8 736.2h1.0M377.4 724.1h1.0M374.4 733.5h1.0M385.7 732.1h1.0M335.2 735.8h1.0M373.4 740.3h1.0M378.5 740.3h1.0M352.8 745.7h1.0M359.4 718.5h1.0M363.4 734.7h1.0M363.7 737.9h1.0M374.0 723.6h1.0M369.1 737.5h1.0M357.1 737.3h1.0M382.4 715.3h1.0M369.5 711.0h1.0M344.0 737.4h1.0M369.6 751.4h1.0M385.8 741.4h1.0M368.2 716.6h1.0M361.9 749.6h1.0M364.8 746.7h1.0M374.9 742.8h1.0M376.6 732.9h1.0M379.2 764.1h1.0M365.2 735.6h1.0M362.9 746.3h1.0M368.4 725.2h1.0M363.4 743.9h1.0M386.3 729.2h1.0M382.9 757.2h1.0M365.0 732.4h1.0M352.6 735.8h1.0M368.4 725.1h1.0M347.9 749.2h1.0M390.0 765.5h1.0M357.5 760.1h1.0M391.8 720.5h1.0M381.7 727.5h1.0M389.2 734.1h1.0M395.3 739.0h1.0M365.6 742.4h1.0M343.6 738.5h1.0M373.6 744.1h1.0M361.4 745.9h1.0M379.9 730.3h1.0M365.6 752.2h1.0M364.3 738.5h1.0M390.1 733.4h1.0M355.4 732.8h1.0M379.7 723.7h1.0M369.6 750.0h1.0M381.8 734.2h1.0M355.5 736.7h1.0M399.8 740.0h1.0M378.2 734.5h1.0M366.0 744.5h1.0M347.3 729.9h1.0M349.0 711.5h1.0M369.1 729.1h1.0M379.1 746.1h1.0M357.8 739.3h1.0M370.9 742.3h1.0M352.7 727.7h1.0M371.6 741.1h1.0M377.1 730.2h1.0M358.1 780.5h1.0M370.5 757.6h1.0M370.2 745.5h1.0M354.9 747.3h1.0M361.3 731.7h1.0M361.4 749.2h1.0M390.8 740.5h1.0M354.3 723.0h1.0M384.0 739.5h1.0M371.3 739.7h1.0M363.1 728.7h1.0M378.9 735.0h1.0M349.4 715.2h1.0M359.3 740.2h1.0M357.1 739.2h1.0M389.9 730.0h1.0M361.6 734.5h1.0M349.7 738.9h1.0M377.8 739.9h1.0M364.8 739.0h1.0M397.7 735.3h1.0M353.5 744.5h1.0M395.8 741.9h1.0M381.1 741.5h1.0M352.6 722.7h1.0M360.9 747.7h1.0M365.6 728.6h1.0M359.2 726.3h1.0M392.4 747.5h1.0M374.5 721.5h1.0M381.9 718.6h1.0M330.1 712.2h1.0M372.7 725.6h1.0M369.4 741.0h1.0M374.7 763.2h1.0M346.8 730.3h1.0M351.5 750.0h1.0M361.3 749.7h1.0M355.3 752.5h1.0M396.1 741.5h1.0M376.0 756.9h1.0M383.4 763.8h1.0M372.4 762.8h1.0M388.8 742.2h1.0M353.0 702.7h1.0M370.5 730.9h1.0M358.6 722.6h1.0M355.2 727.2h1.0M371.0 736.2h1.0M365.4 737.0h1.0M373.8 733.2h1.0M380.4 734.7h1.0M368.1 734.7h1.0M356.1 752.5h1.0M395.4 744.5h1.0M367.3 721.2h1.0M379.8 736.8h1.0M396.7 739.8h1.0M361.2 716.2h1.0M370.6 723.2h1.0M386.4 734.9h1.0M381.8 730.7h1.0M379.4 727.4h1.0M369.5 716.7h1.0M391.1 739.3h1.0M362.4 737.3h1.0M366.3 723.4h1.0M329.1 743.0h1.0M365.4 718.0h1.0M380.1 739.9h1.0M382.6 741.5h1.0M385.2 719.7h1.0M375.7 739.9h1.0M373.7 721.5h1.0M378.4 751.2h1.0M377.9 753.0h1.0M400.1 722.4h1.0M372.8 754.2h1.0M365.2 739.7h1.0M348.1 750.9h1.0M405.7 729.7h1.0M374.2 735.2h1.0M362.4 711.8h1.0M355.6 730.1h1.0M352.3 754.4h1.0M378.8 765.9h1.0M376.8 751.5h1.0M361.0 726.3h1.0M380.1 733.2h1.0M344.3 716.0h1.0M392.6 734.4h1.0M368.6 742.6h1.0M361.5 738.6h1.0M384.8 717.7h1.0M392.8 742.2h1.0M358.0 730.2h1.0M363.6 728.3h1.0M375.8 754.7h1.0M366.7 726.0h1.0M376.0 734.4h1.0M384.2 755.1h1.0M364.2 748.1h1.0M356.1 743.0h1.0M380.3 730.7h1.0M347.9 739.8h1.0M370.6 745.0h1.0M374.9 729.7h1.0M366.2 710.9h1.0M387.5 729.3h1.0M360.1 744.3h1.0M372.7 730.2h1.0M373.0 751.5h1.0M381.1 725.5h1.0M370.3 756.5h1.0M380.3 732.7h1.0M397.4 747.3h1.0M357.4 730.7h1.0M368.3 740.2h1.0M400.0 740.3h1.0M339.9 750.1h1.0M387.6 741.4h1.0M369.3 753.0h1.0M336.1 715.6h1.0M355.7 735.8h1.0M374.2 727.7h1.0M367.4 727.4h1.0M345.1 738.5h1.0M361.3 738.7h1.0M368.7 745.2h1.0M381.5 742.6h1.0M349.6 737.8h1.0M362.4 767.4h1.0M378.9 746.9h1.0M360.3 763.0h1.0M375.5 735.6h1.0M341.6 718.2h1.0M381.4 731.3h1.0M367.1 716.6h1.0M387.0 725.1h1.0M339.1 734.0h1.0M372.2 734.1h1.0M370.9 755.0h1.0M391.8 708.0h1.0M385.8 737.6h1.0M382.5 760.3h1.0M376.5 750.6h1.0M376.3 730.6h1.0M385.1 745.9h1.0M380.4 750.4h1.0M393.3 760.2h1.0M346.6 725.1h1.0M365.4 733.2h1.0M368.0 738.7h1.0M380.3 737.1h1.0M377.6 774.9h1.0M362.0 736.4h1.0M372.7 731.2h1.0M370.0 739.7h1.0M380.2 729.0h1.0M401.0 734.9h1.0M379.3 732.0h1.0M353.9 754.4h1.0M366.5 726.6h1.0M362.9 742.4h1.0M368.0 727.5h1.0M365.0 710.0h1.0M392.6 747.9h1.0M355.7 711.9h1.0M350.6 746.7h1.0M367.8 720.8h1.0M370.4 744.0h1.0M391.7 734.6h1.0M395.8 731.5h1.0M396.4 740.5h1.0M372.2 713.7h1.0M361.0 725.2h1.0M342.0 757.0h1.0M375.0 734.2h1.0M373.5 735.7h1.0M380.6 740.0h1.0M359.8 733.4h1.0M356.2 750.3h1.0M361.0 727.4h1.0M384.3 725.1h1.0M380.5 758.5h1.0M338.4 747.9h1.0M362.9 733.5h1.0M386.4 741.6h1.0M347.4 772.9h1.0M353.4 745.4h1.0M383.6 727.7h1.0M340.4 739.8h1.0M342.0 731.4h1.0M352.6 741.1h1.0M376.1 757.3h1.0M392.0 726.3h1.0M367.5 740.9h1.0M373.6 720.6h1.0M380.9 733.0h1.0M375.2 729.8h1.0M390.0 726.2h1.0M381.2 722.3h1.0M373.1 749.8h1.0M375.3 772.9h1.0M349.7 751.8h1.0M365.8 747.3h1.0M387.0 723.5h1.0M341.8 711.2h1.0M385.0 728.0h1.0M364.7 743.0h1.0M332.6 754.2h1.0M395.8 747.9h1.0M385.3 731.6h1.0M376.1 735.6h1.0M362.7 739.3h1.0M395.1 728.1h1.0M385.3 732.6h1.0M369.6 735.2h1.0M360.5 722.4h1.0M368.0 725.0h1.0M363.2 737.6h1.0M378.6 742.5h1.0M361.3 725.4h1.0M380.3 729.3h1.0M354.8 768.9h1.0M354.7 718.8h1.0M348.4 741.5h1.0M381.7 740.4h1.0M352.9 748.6h1.0M349.9 719.3h1.0M366.1 736.0h1.0M384.0 755.5h1.0M378.4 746.7h1.0M405.6 748.6h1.0M370.2 719.5h1.0M375.3 736.7h1.0M362.5 742.6h1.0M386.1 741.8h1.0M361.6 723.9h1.0M388.6 723.3h1.0M377.9 735.7h1.0M368.9 734.5h1.0M363.2 751.4h1.0M372.1 739.3h1.0M391.3 752.6h1.0M354.6 738.2h1.0M375.3 729.6h1.0M360.4 743.2h1.0M371.1 731.3h1.0M348.2 719.2h1.0M373.3 714.8h1.0M391.5 733.6h1.0M364.0 731.7h1.0M391.5 752.0h1.0M353.4 725.2h1.0M364.9 719.3h1.0M379.9 722.8h1.0M347.9 737.0h1.0M354.5 701.8h1.0M379.0 739.0h1.0M352.0 741.5h1.0M358.7 734.5h1.0M370.3 731.5h1.0M390.9 714.1h1.0M362.3 739.2h1.0M370.4 721.1h1.0M387.7 731.4h1.0M376.4 740.2h1.0M381.1 725.2h1.0M360.8 741.5h1.0M363.7 755.0h1.0M355.1 726.7h1.0M369.3 748.2h1.0M329.4 746.2h1.0M370.4 739.0h1.0M347.7 732.2h1.0M379.7 755.4h1.0M374.3 757.2h1.0M380.2 724.1h1.0M376.9 745.3h1.0M369.2 741.2h1.0M381.9 744.0h1.0M352.8 757.0h1.0M357.5 728.2h1.0M351.2 738.8h1.0M370.5 731.8h1.0M349.7 732.8h1.0M389.6 728.4h1.0M375.3 731.2h1.0M380.1 731.4h1.0M359.1 702.0h1.0M360.3 740.1h1.0M383.8 733.4h1.0M357.0 741.3h1.0M379.1 739.7h1.0M361.8 758.9h1.0M397.8 770.6h1.0M383.6 753.3h1.0M369.2 732.5h1.0M362.1 723.5h1.0M362.8 748.3h1.0M375.6 729.6h1.0M380.0 733.7h1.0M365.4 742.4h1.0M351.5 727.7h1.0M381.4 731.5h1.0M373.1 758.6h1.0M404.0 731.0h1.0M386.3 717.9h1.0M366.3 724.1h1.0M375.0 723.3h1.0M340.4 747.8h1.0M407.3 730.2h1.0M361.7 728.1h1.0M379.7 753.0h1.0M375.1 732.8h1.0M387.4 719.9h1.0M366.0 740.6h1.0M379.3 752.6h1.0M357.2 728.3h1.0M338.5 772.7h1.0M373.9 734.8h1.0M382.0 748.9h1.0M369.1 752.4h1.0M360.8 741.5h1.0M366.2 741.9h1.0M383.9 739.9h1.0M370.5 736.0h1.0M384.1 739.3h1.0M372.5 736.0h1.0M365.1 738.2h1.0M357.3 725.9h1.0M362.7 730.1h1.0M369.5 763.9h1.0M387.4 711.6h1.0M354.9 724.1h1.0M353.1 750.8h1.0M368.5 735.5h1.0M344.1 756.2h1.0M384.1 731.3h1.0" stroke="#7dcbb8" stroke-width="1.00" stroke-opacity="0.9"/>
<path d="M358.2 719.5h1.0M349.0 711.6h1.0M341.2 707.9h1.0M360.6 724.5h1.0M346.9 716.0h1.0M349.5 718.3h1.0M351.9 697.8h1.0M367.2 716.2h1.0M362.0 712.3h1.0M355.7 705.6h1.0M348.6 705.1h1.0M328.3 716.2h1.0M346.9 704.3h1.0M333.4 723.1h1.0M338.1 712.0h1.0M351.7 710.8h1.0M357.3 714.0h1.0M336.5 725.1h1.0M357.9 722.8h1.0M361.7 715.5h1.0M346.3 723.0h1.0M342.0 703.9h1.0M353.9 704.6h1.0M353.5 707.9h1.0M341.8 711.6h1.0M356.4 710.1h1.0M345.9 720.9h1.0M361.7 718.7h1.0M356.4 713.4h1.0M345.7 711.2h1.0M350.5 714.3h1.0M358.7 715.0h1.0M365.7 708.7h1.0M353.6 723.9h1.0M363.9 706.0h1.0M340.8 723.8h1.0M353.5 705.2h1.0M358.4 713.7h1.0M339.5 719.5h1.0M351.9 706.7h1.0M346.5 718.2h1.0M341.3 706.3h1.0M366.8 719.0h1.0M346.1 704.7h1.0M344.3 721.1h1.0M334.1 712.6h1.0M332.7 709.2h1.0M336.5 708.2h1.0M344.5 717.7h1.0M354.7 718.0h1.0M344.0 709.0h1.0M356.8 717.6h1.0M364.5 707.5h1.0M350.8 731.9h1.0M349.0 714.2h1.0M359.2 718.5h1.0M347.4 715.8h1.0M355.9 721.4h1.0M353.6 730.7h1.0M340.5 701.3h1.0M348.1 713.2h1.0M357.1 701.9h1.0M352.7 700.0h1.0M352.7 703.3h1.0M350.2 708.9h1.0M357.2 697.4h1.0M355.0 711.4h1.0M372.9 713.1h1.0M338.8 712.2h1.0M352.2 730.2h1.0M361.3 713.5h1.0M354.3 705.6h1.0M344.5 706.2h1.0M356.5 715.2h1.0M364.5 724.7h1.0M354.6 712.7h1.0M348.6 719.3h1.0M354.1 710.0h1.0M348.1 717.0h1.0M341.0 718.9h1.0M346.8 706.0h1.0M339.9 716.2h1.0M352.5 718.1h1.0M367.6 721.1h1.0M343.5 709.6h1.0M356.2 704.3h1.0M339.0 720.6h1.0M349.8 712.9h1.0M348.4 722.1h1.0M347.1 705.7h1.0M350.7 705.9h1.0M348.4 713.4h1.0M350.3 704.1h1.0M359.6 706.8h1.0M341.5 709.2h1.0M372.6 723.0h1.0M361.3 717.7h1.0M351.2 709.3h1.0M352.2 730.8h1.0M372.1 721.0h1.0M366.7 714.5h1.0M345.0 705.1h1.0M341.2 705.1h1.0M346.0 708.7h1.0M344.5 716.1h1.0M340.0 717.1h1.0M353.8 718.7h1.0M354.0 718.2h1.0M351.5 707.1h1.0M370.2 718.6h1.0M346.7 719.2h1.0M340.5 720.9h1.0M351.3 715.5h1.0M362.6 713.8h1.0M361.9 710.2h1.0M350.4 734.4h1.0M333.2 715.1h1.0M368.6 719.1h1.0M355.5 701.8h1.0M317.4 707.3h1.0M349.8 714.1h1.0M350.9 713.1h1.0M357.2 718.7h1.0M363.5 710.3h1.0M333.2 722.2h1.0M349.9 711.0h1.0M359.2 715.4h1.0M345.9 718.6h1.0M351.0 707.4h1.0M349.4 707.9h1.0M348.3 714.8h1.0M345.5 735.3h1.0M378.6 701.8h1.0M345.2 716.6h1.0M360.7 711.1h1.0M326.0 703.5h1.0M350.0 705.2h1.0M339.6 710.5h1.0M357.0 725.1h1.0M355.5 715.0h1.0M351.0 714.1h1.0M352.5 717.4h1.0M332.1 712.6h1.0M371.3 705.9h1.0M336.4 700.5h1.0M350.7 730.6h1.0M366.2 715.9h1.0M358.4 725.6h1.0M356.5 710.0h1.0M355.5 709.4h1.0" stroke="#7dcbb8" stroke-width="1.00" stroke-opacity="0.8"/>
<path d="M387.7 762.1h0.8M426.1 695.9h0.8M300.0 773.3h0.8M313.9 772.6h0.8M413.2 667.8h0.8M393.0 794.5h0.8M301.8 788.1h0.8M391.7 774.1h0.8M344.1 651.7h0.8M411.6 722.5h0.8M341.5 679.0h0.8M346.4 723.3h0.8M378.5 724.0h0.8M342.0 715.9h0.8M400.4 760.9h0.8M426.8 688.0h0.8M349.9 782.4h0.8M397.0 777.0h0.8M305.9 790.4h0.8M314.1 770.3h0.8M363.8 713.0h0.8M283.3 712.4h0.8M311.0 746.4h0.8M343.0 747.3h0.8M351.2 694.6h0.8M453.4 734.1h0.8M376.0 773.9h0.8M426.0 816.7h0.8M338.3 789.2h0.8M363.3 750.7h0.8M412.6 680.7h0.8M335.2 724.1h0.8M429.5 662.5h0.8M277.7 697.6h0.8M402.6 755.0h0.8M440.7 708.5h0.8M329.2 755.0h0.8M317.9 751.6h0.8M348.7 682.8h0.8M426.2 794.6h0.8M354.2 690.7h0.8M428.2 658.8h0.8M395.4 745.1h0.8M321.5 704.8h0.8M405.2 706.1h0.8M440.6 756.4h0.8M422.8 766.9h0.8M380.0 835.5h0.8M377.0 852.4h0.8M372.5 745.7h0.8M315.8 728.7h0.8M383.2 676.5h0.8M339.9 698.6h0.8M359.3 696.5h0.8M405.1 743.0h0.8M322.3 723.8h0.8M341.9 752.4h0.8M381.1 748.4h0.8M383.5 709.0h0.8M407.2 706.8h0.8M369.6 778.7h0.8M347.8 708.8h0.8M342.2 735.0h0.8M311.2 769.6h0.8M429.4 686.5h0.8M405.6 782.2h0.8M352.6 727.3h0.8M341.2 758.8h0.8M405.0 732.1h0.8M464.1 746.5h0.8M318.1 716.6h0.8M385.0 701.7h0.8M320.8 692.2h0.8M389.2 715.8h0.8M374.6 814.0h0.8M350.2 724.1h0.8M490.5 684.7h0.8M328.8 740.6h0.8M341.6 809.0h0.8M353.1 726.5h0.8M256.8 727.8h0.8M374.1 723.7h0.8M368.4 752.1h0.8M343.7 774.9h0.8M360.1 826.5h0.8M305.5 704.6h0.8M313.6 734.4h0.8M299.4 709.6h0.8M297.8 717.8h0.8M375.5 867.0h0.8M326.1 714.2h0.8M350.1 715.3h0.8M380.0 770.5h0.8M358.8 735.0h0.8M367.6 805.2h0.8M498.2 787.8h0.8M348.4 805.9h0.8M359.1 741.4h0.8M409.8 782.0h0.8M419.8 739.0h0.8M341.5 721.5h0.8M357.0 734.0h0.8M424.9 694.7h0.8M247.3 737.1h0.8M308.0 721.1h0.8M479.6 764.6h0.8M301.7 703.7h0.8M468.8 811.0h0.8M397.2 764.9h0.8M399.2 847.5h0.8M310.7 750.8h0.8M365.2 710.6h0.8M342.1 763.0h0.8M326.9 707.1h0.8M266.4 779.4h0.8M423.5 724.3h0.8M345.5 727.8h0.8M279.0 703.3h0.8M364.3 756.2h0.8M333.4 709.4h0.8M388.3 778.5h0.8M275.6 722.5h0.8M377.7 763.1h0.8M297.9 773.4h0.8M339.0 774.0h0.8M367.9 742.2h0.8M325.2 800.9h0.8M344.0 740.1h0.8M331.0 837.1h0.8M354.2 705.9h0.8M320.4 709.9h0.8M372.3 677.8h0.8M338.2 779.8h0.8M406.8 738.2h0.8M321.0 694.8h0.8M367.7 756.4h0.8M317.5 706.6h0.8M339.7 736.5h0.8M404.2 828.1h0.8M387.1 793.1h0.8" stroke="#7dcbb8" stroke-width="0.80" stroke-opacity="0.6"/>
<circle cx="90.4" cy="790.7" r="5.6" fill="#eef8f5" stroke="#8fd0c0" stroke-width="0.6"/><circle cx="90.4" cy="790.7" r="3.9" fill="#ddf1ec" stroke="#8fd0c0" stroke-width="0.4"/>
<circle cx="192.7" cy="747.9" r="6" fill="url(#hatch)" stroke="#9ed7c9" stroke-width="0.7" stroke-dasharray="0.4 0.6"/>
<circle cx="154.2" cy="759.1" r="4.5" fill="url(#hatch)" stroke="#9ed7c9" stroke-width="0.7" stroke-dasharray="0.4 0.6"/>
<circle cx="141.9" cy="749.3" r="3.5" fill="url(#hatch)" stroke="#9ed7c9" stroke-width="0.7" stroke-dasharray="0.4 0.6"/>
<circle cx="143.7" cy="694.3" r="3" fill="url(#hatch)" stroke="#9ed7c9" stroke-width="0.7" stroke-dasharray="0.4 0.6"/>
<circle cx="163" cy="734" r="2.5" fill="url(#hatch)" stroke="#9ed7c9" stroke-width="0.7" stroke-dasharray="0.4 0.6"/>
<circle cx="157" cy="652.3" r="1.5" fill="url(#hatch)" stroke="#9ed7c9" stroke-width="0.7" stroke-dasharray="0.4 0.6"/>
<circle cx="231.3" cy="710" r="1.5" fill="url(#hatch)" stroke="#9ed7c9" stroke-width="0.7" stroke-dasharray="0.4 0.6"/>
<circle cx="112" cy="852" r="1.5" fill="url(#hatch)" stroke="#9ed7c9" stroke-width="0.7" stroke-dasharray="0.4 0.6"/>
<circle cx="111.4" cy="842.5" r="2" fill="url(#hatch)" stroke="#9ed7c9" stroke-width="0.7" stroke-dasharray="0.4 0.6"/>
<circle cx="161.9" cy="839" r="2" fill="#eef8f5" stroke="#8fd0c0" stroke-width="0.6"/><circle cx="161.9" cy="839" r="1.4" fill="#ddf1ec" stroke="#8fd0c0" stroke-width="0.4"/>
<circle cx="58.9" cy="790.7" r="1.5" fill="url(#hatch)" stroke="#9ed7c9" stroke-width="0.7" stroke-dasharray="0.4 0.6"/>
<circle cx="250" cy="780" r="2.5" fill="url(#hatch)" stroke="#9ed7c9" stroke-width="0.7" stroke-dasharray="0.4 0.6"/>
<circle cx="305.5" cy="817.2" r="15.1" fill="url(#hatch2)"/>
<circle cx="424.8" cy="711.8" r="6.1" fill="url(#hatch2)"/>
<circle cx="430.3" cy="732.1" r="5.5" fill="url(#hatch)" stroke="#9ed7c9" stroke-width="0.7" stroke-dasharray="0.4 0.6"/>
<circle cx="449.9" cy="808.8" r="6" fill="url(#hatch)" stroke="#9ed7c9" stroke-width="0.7" stroke-dasharray="0.4 0.6"/>
<circle cx="463.3" cy="753.4" r="5" fill="url(#hatch)" stroke="#9ed7c9" stroke-width="0.7" stroke-dasharray="0.4 0.6"/>
<circle cx="315.8" cy="724.3" r="2" fill="url(#hatch)" stroke="#9ed7c9" stroke-width="0.7" stroke-dasharray="0.4 0.6"/>
<circle cx="330.7" cy="789.4" r="2" fill="url(#hatch)" stroke="#9ed7c9" stroke-width="0.7" stroke-dasharray="0.4 0.6"/>
<circle cx="351.8" cy="791.4" r="1.5" fill="url(#hatch)" stroke="#9ed7c9" stroke-width="0.7" stroke-dasharray="0.4 0.6"/>
<circle cx="373.6" cy="784.7" r="3" fill="url(#hatch)" stroke="#9ed7c9" stroke-width="0.7" stroke-dasharray="0.4 0.6"/>
<circle cx="366" cy="818" r="2" fill="url(#hatch)" stroke="#9ed7c9" stroke-width="0.7" stroke-dasharray="0.4 0.6"/>
<circle cx="232" cy="712" r="2" fill="url(#hatch)" stroke="#9ed7c9" stroke-width="0.7" stroke-dasharray="0.4 0.6"/>
<circle cx="286" cy="700" r="1.5" fill="url(#hatch)" stroke="#9ed7c9" stroke-width="0.7" stroke-dasharray="0.4 0.6"/>
<circle cx="189.5" cy="660.4" r="13.6" fill="url(#hatch)"/>
<circle cx="189.5" cy="660.4" r="13.8" fill="none" stroke="#a6dbcd" stroke-width="0.9" stroke-dasharray="0.5 0.8"/>
<circle cx="189.5" cy="660.4" r="5.6" fill="#f6f7f7"/>
<circle cx="189.5" cy="660.4" r="3.3" fill="#ed1c24"/>
<text x="189.5" y="645.0" font-size="6.4" text-anchor="middle" fill="#222" >Trps1</text>
<circle cx="119.9" cy="660.4" r="6.1" fill="#f4fbf9" stroke="#8fd0c0" stroke-width="0.6"/>
<circle cx="119.9" cy="660.4" r="4.4" fill="#fff" stroke="#8fd0c0" stroke-width="0.5"/>
<circle cx="119.9" cy="660.4" r="1.2" fill="#8b2c8f"/>
<text x="119.6" y="652.6" font-size="5.6" text-anchor="middle" fill="#222" >Hoxc9</text>
<circle cx="137.7" cy="676.3" r="11.3" fill="url(#hatch)"/>
<circle cx="137.7" cy="676.3" r="11.5" fill="none" stroke="#a6dbcd" stroke-width="0.9" stroke-dasharray="0.5 0.8"/>
<circle cx="137.7" cy="676.3" r="4.0" fill="#f6f7f7"/>
<circle cx="137.7" cy="676.3" r="2.4" fill="#ed1c24"/>
<text x="138.2" y="664.5" font-size="7.0" text-anchor="middle" fill="#222" >Znf264</text>
<circle cx="68.9" cy="678.2" r="10.2" fill="url(#hatch)"/>
<circle cx="68.9" cy="678.2" r="10.4" fill="none" stroke="#a6dbcd" stroke-width="0.9" stroke-dasharray="0.5 0.8"/>
<circle cx="68.9" cy="678.2" r="7.6" fill="#f6f7f7"/>
<circle cx="68.9" cy="678.2" r="4.6" fill="#f7931e"/>
<text x="68.8" y="667.7" font-size="7.85" text-anchor="middle" fill="#222" >Ehf</text>
<circle cx="107.1" cy="697.8" r="3.9" fill="url(#hatch)"/>
<circle cx="107.1" cy="697.8" r="4.1" fill="none" stroke="#a6dbcd" stroke-width="0.9" stroke-dasharray="0.5 0.8"/>
<circle cx="107.1" cy="697.8" r="2.2" fill="#f6f7f7"/>
<circle cx="107.1" cy="697.8" r="1.2" fill="#f887b4"/>
<text x="107.5" y="692.9" font-size="5.4" text-anchor="middle" fill="#222" >Stat1</text>
<circle cx="106.2" cy="721.5" r="12.3" fill="url(#hatch)"/>
<circle cx="106.2" cy="721.5" r="12.5" fill="none" stroke="#a6dbcd" stroke-width="0.9" stroke-dasharray="0.5 0.8"/>
<circle cx="106.2" cy="721.5" r="8.0" fill="#f6f7f7"/>
<circle cx="106.2" cy="721.5" r="5.0" fill="#f7931e"/>
<text x="106.2" y="709.0" font-size="7.6" text-anchor="middle" fill="#222" >Elf4</text>
<circle cx="137.4" cy="724.1" r="4.5" fill="url(#hatch)"/>
<circle cx="137.4" cy="724.1" r="4.7" fill="none" stroke="#a6dbcd" stroke-width="0.9" stroke-dasharray="0.5 0.8"/>
<circle cx="137.4" cy="724.1" r="2.5" fill="#f6f7f7"/>
<circle cx="137.4" cy="724.1" r="1.3" fill="#f887b4"/>
<text x="137.6" y="718.0" font-size="5.4" text-anchor="middle" fill="#222" >Stat5</text>
<circle cx="200.8" cy="720.5" r="10.7" fill="url(#hatch)"/>
<circle cx="200.8" cy="720.5" r="10.9" fill="none" stroke="#a6dbcd" stroke-width="0.9" stroke-dasharray="0.5 0.8"/>
<circle cx="200.8" cy="720.5" r="4.5" fill="#f6f7f7"/>
<circle cx="200.8" cy="720.5" r="2.6" fill="#8b2c8f"/>
<text x="200.8" y="709.2" font-size="6.6" text-anchor="middle" fill="#222" >Tbx21</text>
<circle cx="42.9" cy="748.7" r="8.5" fill="url(#hatch)"/>
<circle cx="42.9" cy="748.7" r="8.7" fill="none" stroke="#a6dbcd" stroke-width="0.9" stroke-dasharray="0.5 0.8"/>
<circle cx="42.9" cy="748.7" r="6.2" fill="#f6f7f7"/>
<circle cx="42.9" cy="748.7" r="3.7" fill="#f7931e"/>
<text x="42.9" y="739.3" font-size="6.4" text-anchor="middle" fill="#222" >Elf5</text>
<circle cx="59.6" cy="752.0" r="7.0" fill="url(#hatch)"/>
<circle cx="59.6" cy="752.0" r="7.2" fill="none" stroke="#a6dbcd" stroke-width="0.9" stroke-dasharray="0.5 0.8"/>
<circle cx="59.6" cy="752.0" r="3.2" fill="#f6f7f7"/>
<circle cx="59.6" cy="752.0" r="1.8" fill="#8b2c8f"/>
<text x="59.6" y="743.2" font-size="5.2" text-anchor="middle" fill="#222" >Irf3</text>
<circle cx="99.0" cy="754.0" r="2.3" fill="#f7931e"/>
<text x="99.0" y="750.8" font-size="5.5" text-anchor="middle" fill="#222" >Elf3</text>
<circle cx="118.0" cy="768.8" r="3.8" fill="url(#hatch)"/>
<circle cx="118.0" cy="768.8" r="4.0" fill="none" stroke="#a6dbcd" stroke-width="0.9" stroke-dasharray="0.5 0.8"/>
<circle cx="118.0" cy="768.8" r="2.0" fill="#f6f7f7"/>
<circle cx="118.0" cy="768.8" r="1.2" fill="#8b2c8f"/>
<text x="118.0" y="762.6" font-size="5.3" text-anchor="middle" fill="#222" >NfkB</text>
<circle cx="118.0" cy="796.6" r="19.2" fill="url(#hatch)"/>
<circle cx="118.0" cy="796.6" r="19.4" fill="none" stroke="#a6dbcd" stroke-width="0.9" stroke-dasharray="0.5 0.8"/>
<circle cx="118.0" cy="796.6" r="9.5" fill="#f6f7f7"/>
<circle cx="118.0" cy="796.6" r="6.1" fill="#f7931e"/>
<text x="118.0" y="778.5" font-size="9.0" text-anchor="middle" fill="#222" >Gabpa</text>
<circle cx="69.2" cy="817.2" r="10.0" fill="url(#hatch)"/>
<circle cx="69.2" cy="817.2" r="10.2" fill="none" stroke="#a6dbcd" stroke-width="0.9" stroke-dasharray="0.5 0.8"/>
<circle cx="69.2" cy="817.2" r="4.2" fill="#f6f7f7"/>
<circle cx="69.2" cy="817.2" r="3.2" fill="#f7931e"/>
<text x="69.2" y="805.2" font-size="6.6" text-anchor="middle" fill="#222" >Spdef</text>
<circle cx="161.3" cy="819.9" r="13.4" fill="url(#hatch)"/>
<circle cx="161.3" cy="819.9" r="13.6" fill="none" stroke="#a6dbcd" stroke-width="0.9" stroke-dasharray="0.5 0.8"/>
<circle cx="161.3" cy="819.9" r="5.0" fill="#f6f7f7"/>
<circle cx="161.3" cy="819.9" r="3.3" fill="#ed1c24"/>
<text x="161.5" y="806.3" font-size="6.6" text-anchor="middle" fill="#222" >Bcl6</text>
<circle cx="370.7" cy="657.7" r="7.8" fill="#f4fbf9" stroke="#8fd0c0" stroke-width="0.6"/>
<circle cx="370.7" cy="657.7" r="5.6" fill="#fff" stroke="#8fd0c0" stroke-width="0.5"/>
<circle cx="370.7" cy="657.7" r="1.9" fill="#ed1c24"/>
<text x="370.7" y="650.8" font-size="6.9" text-anchor="middle" fill="#222" >Gata1</text>
<circle cx="431.7" cy="656.4" r="8.5" fill="url(#hatch)"/>
<circle cx="431.7" cy="656.4" r="8.7" fill="none" stroke="#a6dbcd" stroke-width="0.9" stroke-dasharray="0.5 0.8"/>
<circle cx="431.7" cy="656.4" r="6.0" fill="#f6f7f7"/>
<circle cx="431.7" cy="656.4" r="3.4" fill="#f7931e"/>
<text x="431.7" y="647.2" font-size="7.7" text-anchor="middle" fill="#222" >Erg</text>
<circle cx="291.6" cy="673.8" r="8.5" fill="url(#hatch)"/>
<circle cx="291.6" cy="673.8" r="8.7" fill="none" stroke="#a6dbcd" stroke-width="0.9" stroke-dasharray="0.5 0.8"/>
<circle cx="291.6" cy="673.8" r="6.0" fill="#f6f7f7"/>
<circle cx="291.6" cy="673.8" r="3.6" fill="#f7931e"/>
<text x="291.6" y="665.2" font-size="8.0" text-anchor="middle" fill="#222" >Est1</text>
<circle cx="365.7" cy="682.7" r="14.4" fill="url(#hatch)"/>
<circle cx="365.7" cy="682.7" r="14.6" fill="none" stroke="#a6dbcd" stroke-width="0.9" stroke-dasharray="0.5 0.8"/>
<circle cx="365.7" cy="682.7" r="8.5" fill="#f6f7f7"/>
<circle cx="365.7" cy="682.7" r="6.1" fill="#f7931e"/>
<text x="365.7" y="674.4" font-size="9.4" text-anchor="middle" fill="#222" >Etv4</text>
<circle cx="292.7" cy="691.0" r="6.9" fill="url(#hatch)"/>
<circle cx="292.7" cy="691.0" r="7.1" fill="none" stroke="#a6dbcd" stroke-width="0.9" stroke-dasharray="0.5 0.8"/>
<circle cx="292.7" cy="691.0" r="3.0" fill="#f6f7f7"/>
<circle cx="292.7" cy="691.0" r="1.8" fill="#3fa9f5"/>
<text x="292.7" y="685.5" font-size="7.0" text-anchor="middle" fill="#222" >Nrf2</text>
<circle cx="364.3" cy="718.2" r="3.5" fill="#fff" stroke="#a6dacd" stroke-width="0.8" stroke-dasharray="0.5 0.5"/>
<circle cx="364.3" cy="718.2" r="1.9" fill="#3fa9f5"/>
<text x="364.3" y="712.7" font-size="6.0" text-anchor="middle" fill="#222" >Nfat</text>
<circle cx="340.7" cy="734.0" r="3.5" fill="#fff" stroke="#a6dacd" stroke-width="0.8" stroke-dasharray="0.5 0.5"/>
<circle cx="340.7" cy="734.0" r="1.9" fill="#3fa9f5"/>
<text x="340.7" y="728.5" font-size="6.3" text-anchor="middle" fill="#222" >MafB</text>
<circle cx="315.8" cy="756.2" r="5.8" fill="#fff" stroke="#a6dacd" stroke-width="0.8" stroke-dasharray="0.5 0.5"/>
<circle cx="315.8" cy="756.2" r="3.0" fill="#f7931e"/>
<text x="315.8" y="748.7" font-size="6.9" text-anchor="middle" fill="#222" >Etv2</text>
<circle cx="382.3" cy="764.5" r="16.1" fill="url(#hatch)"/>
<circle cx="382.3" cy="764.5" r="16.3" fill="none" stroke="#a6dbcd" stroke-width="0.9" stroke-dasharray="0.5 0.8"/>
<circle cx="382.3" cy="764.5" r="10.0" fill="#f6f7f7"/>
<circle cx="382.3" cy="764.5" r="6.4" fill="#f7931e"/>
<text x="383.7" y="750.7" font-size="8.6" text-anchor="middle" fill="#222" >Fli1</text>
<circle cx="439.8" cy="761.8" r="7.8" fill="url(#hatch)"/>
<circle cx="439.8" cy="761.8" r="8.0" fill="none" stroke="#a6dbcd" stroke-width="0.9" stroke-dasharray="0.5 0.8"/>
<circle cx="439.8" cy="761.8" r="3.5" fill="#f6f7f7"/>
<circle cx="439.8" cy="761.8" r="1.9" fill="#3fa9f5"/>
<text x="439.8" y="753.4" font-size="6.8" text-anchor="middle" fill="#222" >Fos</text>
<circle cx="260.8" cy="781.0" r="12.8" fill="url(#hatch)"/>
<circle cx="260.8" cy="781.0" r="13.0" fill="none" stroke="#a6dbcd" stroke-width="0.9" stroke-dasharray="0.5 0.8"/>
<circle cx="260.8" cy="781.0" r="4.8" fill="#f6f7f7"/>
<circle cx="260.8" cy="781.0" r="2.7" fill="#ed1c24"/>
<text x="260.8" y="766.9" font-size="7.2" text-anchor="middle" fill="#222" >Wt1</text>
<circle cx="373.6" cy="801.5" r="5.0" fill="url(#hatch)"/>
<circle cx="373.6" cy="801.5" r="5.2" fill="none" stroke="#a6dbcd" stroke-width="0.9" stroke-dasharray="0.5 0.8"/>
<circle cx="373.6" cy="801.5" r="3.2" fill="#f6f7f7"/>
<circle cx="373.6" cy="801.5" r="2.4" fill="#6cc04a"/>
<text x="373.6" y="794.4" font-size="7.2" text-anchor="middle" fill="#222" >Runx2</text>
<circle cx="422.3" cy="804.8" r="6.0" fill="url(#hatch)"/>
<circle cx="422.3" cy="804.8" r="6.2" fill="none" stroke="#a6dbcd" stroke-width="0.9" stroke-dasharray="0.5 0.8"/>
<circle cx="422.3" cy="804.8" r="3.5" fill="#f6f7f7"/>
<circle cx="422.3" cy="804.8" r="2.4" fill="#6cc04a"/>
<text x="423.0" y="796.4" font-size="7.3" text-anchor="middle" fill="#222" >Runx1</text>
<circle cx="368.6" cy="839.1" r="10.0" fill="url(#hatch)"/>
<circle cx="368.6" cy="839.1" r="10.2" fill="none" stroke="#a6dbcd" stroke-width="0.9" stroke-dasharray="0.5 0.8"/>
<circle cx="368.6" cy="839.1" r="7.2" fill="#f6f7f7"/>
<circle cx="368.6" cy="839.1" r="5.0" fill="#f7931e"/>
<text x="369.3" y="828.0" font-size="8.0" text-anchor="middle" fill="#222" >Etv1</text>
<text x="531.5" y="645.9" font-size="8.8" text-anchor="start" fill="#222" >Regulatory relationship</text>
<line x1="538.7" y1="662" x2="578" y2="662" stroke="#c4c4c4" stroke-width="0.9"/>
<circle cx="538.7" cy="662" r="5.4" fill="#808080"/>
<circle cx="578" cy="662" r="2.7" fill="#5cc0c9"/>
<text x="534.2" y="676.6" font-size="8.6" text-anchor="start" fill="#222" >TF</text>
<text x="568.1" y="676.6" font-size="8.6" text-anchor="start" fill="#222" >Gene</text>
<text x="532.2" y="705.9" font-size="8.8" text-anchor="start" fill="#222" >TF family</text>
<circle cx="538.7" cy="719.3" r="5.4" fill="#3fa9f5"/>
<text x="549.0" y="721.9" font-size="7.4" text-anchor="start" fill="#222" >bZIP</text>
<circle cx="538.7" cy="735.6" r="5.4" fill="#6cc04a"/>
<text x="549.0" y="738.2" font-size="7.4" text-anchor="start" fill="#222" >Runt</text>
<circle cx="538.7" cy="751.9" r="5.4" fill="#f7931e"/>
<text x="549.0" y="754.5" font-size="7.4" text-anchor="start" fill="#222" >ETS</text>
<circle cx="538.7" cy="768.2" r="5.4" fill="#ed1c24"/>
<text x="549.0" y="770.8" font-size="7.4" text-anchor="start" fill="#222" >Zf</text>
<circle cx="538.7" cy="784.5" r="5.4" fill="#f887b4"/>
<text x="549.0" y="787.1" font-size="7.4" text-anchor="start" fill="#222" >Stat</text>
<circle cx="538.7" cy="800.8" r="5.4" fill="#8b2c8f"/>
<text x="549.0" y="803.4" font-size="7.4" text-anchor="start" fill="#222" >Other</text>
</svg></body></html>
